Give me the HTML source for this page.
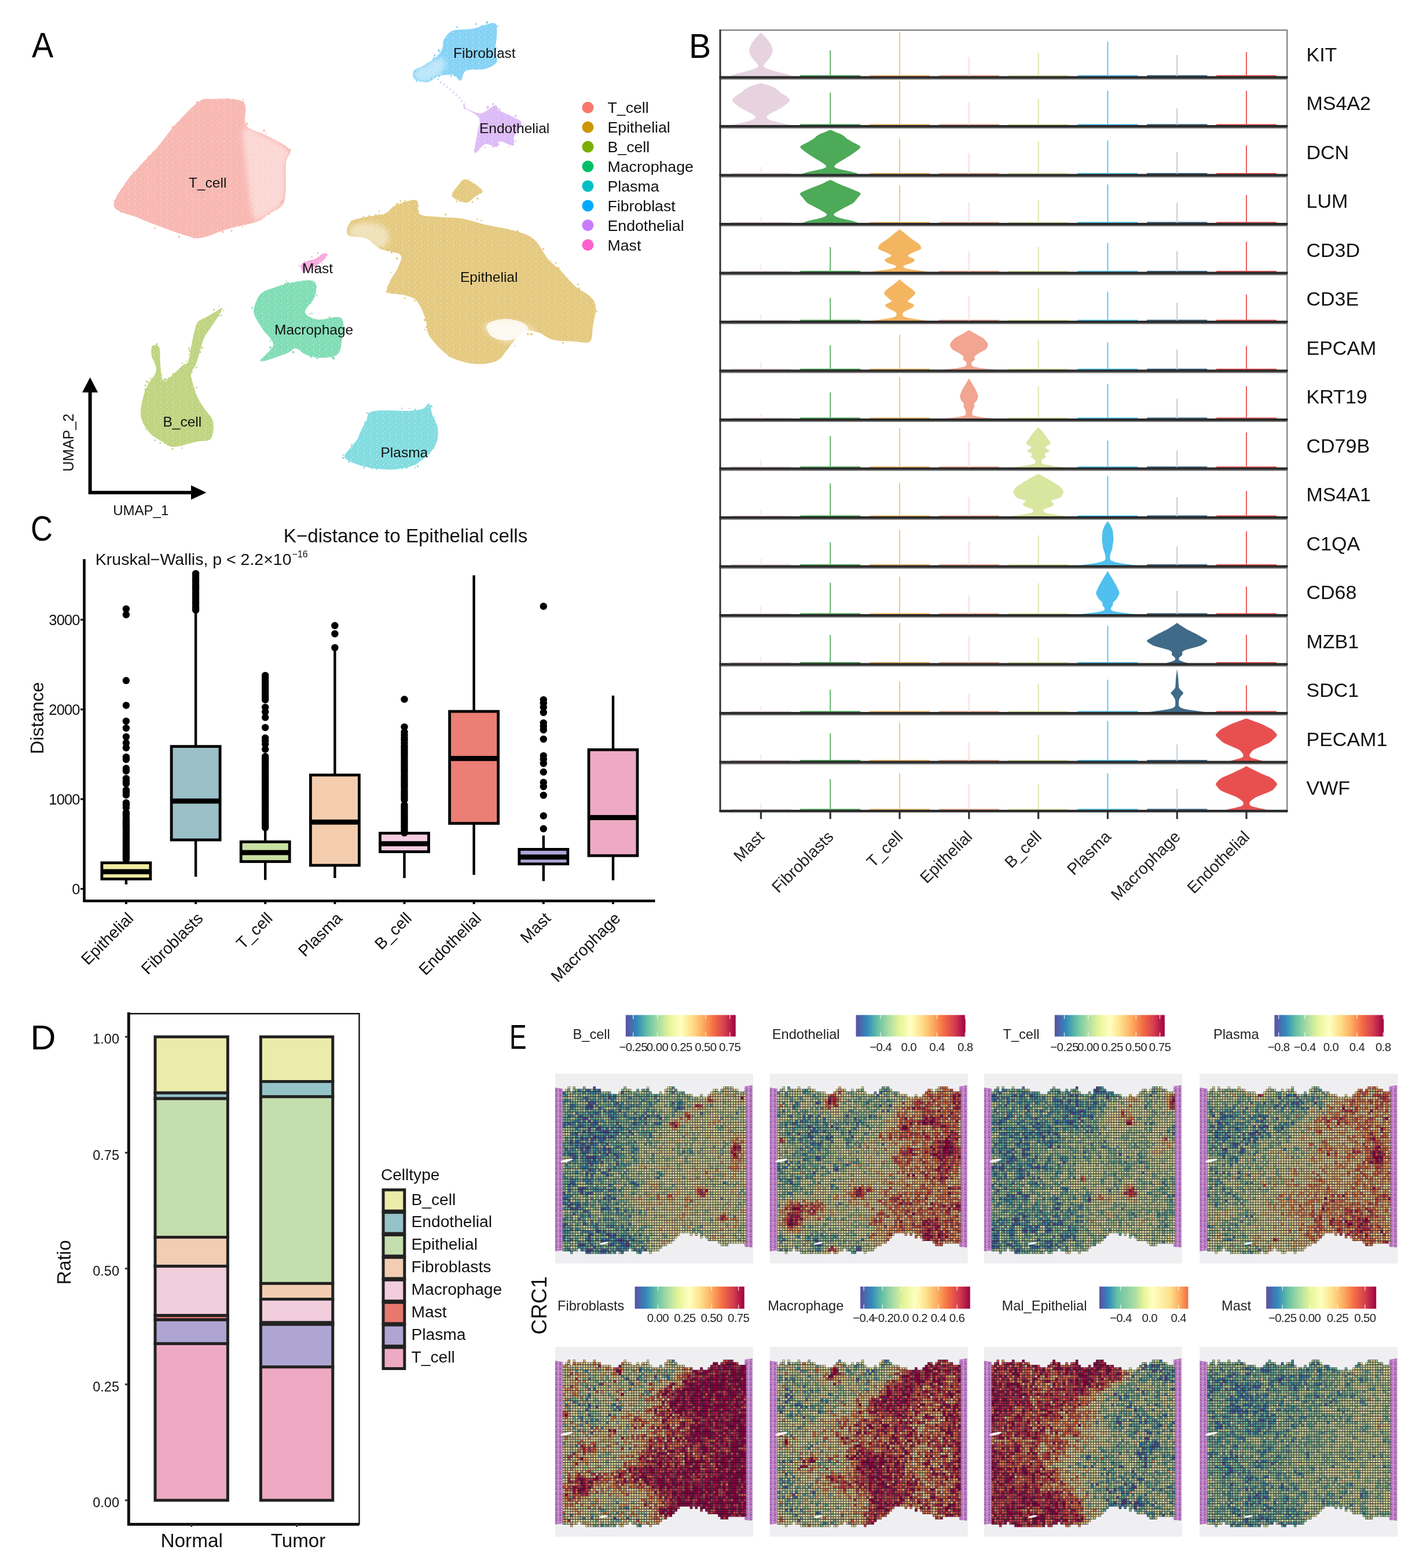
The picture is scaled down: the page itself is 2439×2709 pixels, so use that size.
<!DOCTYPE html><html><head><meta charset="utf-8"><title>Figure</title><style>html,body{margin:0;padding:0;background:#fff;}svg{display:block}text{font-family:"Liberation Sans", Arial, Helvetica, sans-serif}.pl{font-family:"Liberation Sans", Arial, Helvetica, sans-serif}</style></head><body>
<svg width="2439" height="2709" viewBox="0 0 2439 2709">
<rect width="2439" height="2709" fill="#fff"/>
<text transform="translate(55 99) scale(0.9 1)" font-size="62" fill="#000" class="pl">A</text>
<defs><pattern id="spk" width="11" height="9" patternUnits="userSpaceOnUse"><circle cx="2" cy="2" r="0.9" fill="#fff" fill-opacity="0.6"/><circle cx="7.5" cy="4" r="0.7" fill="#fff" fill-opacity="0.5"/><circle cx="4" cy="7" r="0.8" fill="#fff" fill-opacity="0.55"/><circle cx="9.5" cy="8" r="0.6" fill="#fff" fill-opacity="0.5"/></pattern><pattern id="spk2" width="5" height="5" patternUnits="userSpaceOnUse"><rect width="5" height="5" fill="#fff" fill-opacity="0.35"/><circle cx="1.5" cy="1.5" r="1.1" fill="#fff" fill-opacity="0.6"/><circle cx="4" cy="3.8" r="0.9" fill="#fff" fill-opacity="0.5"/></pattern></defs>
<g id="umap">
<path d="M197 357C193.3 347.2 208.5 328.8 216 317C223.5 305.2 232.5 296.7 242 286C251.5 275.3 262.7 265 273 253C283.3 241 292.3 226.8 304 214C315.7 201.2 332.8 183.2 343 176C353.2 168.8 352.2 171 365 171C377.8 171 410 168.5 420 176C430 183.5 418.7 206.5 425 216C431.3 225.5 445.5 226 458 233C470.5 240 494 249.8 500 258C506 266.2 495.5 267 494 282C492.5 297 496 333.3 491 348C486 362.7 471.8 364.2 464 370C456.2 375.8 456 378.7 444 383C432 387.3 408 391.3 392 396C376 400.7 359.8 409.2 348 411C336.2 412.8 333.5 410.5 321 407C308.5 403.5 286.8 395.2 273 390C259.2 384.8 250.7 381.5 238 376C225.3 370.5 200.7 366.8 197 357Z" fill="#F8B7B1"/>
<path d="M197 357C193.3 347.2 208.5 328.8 216 317C223.5 305.2 232.5 296.7 242 286C251.5 275.3 262.7 265 273 253C283.3 241 292.3 226.8 304 214C315.7 201.2 332.8 183.2 343 176C353.2 168.8 352.2 171 365 171C377.8 171 410 168.5 420 176C430 183.5 418.7 206.5 425 216C431.3 225.5 445.5 226 458 233C470.5 240 494 249.8 500 258C506 266.2 495.5 267 494 282C492.5 297 496 333.3 491 348C486 362.7 471.8 364.2 464 370C456.2 375.8 456 378.7 444 383C432 387.3 408 391.3 392 396C376 400.7 359.8 409.2 348 411C336.2 412.8 333.5 410.5 321 407C308.5 403.5 286.8 395.2 273 390C259.2 384.8 250.7 381.5 238 376C225.3 370.5 200.7 366.8 197 357Z" fill="url(#spk)"/>
<path d="M601 406C596.7 401.2 600.8 388.2 606 383C611.2 377.8 622.2 377.3 632 375C641.8 372.7 656.5 372.3 665 369C673.5 365.7 674 358.8 683 355C692 351.2 712 343.5 719 346C726 348.5 718 365.2 725 370C732 374.8 748.5 373.7 761 375C773.5 376.3 787.2 375.8 800 378C812.8 380.2 823 384.5 838 388C853 391.5 875.8 394.7 890 399C904.2 403.3 913.5 405.8 923 414C932.5 422.2 939.7 439.3 947 448C954.3 456.7 959.3 458.3 967 466C974.7 473.7 984.3 486.3 993 494C1001.7 501.7 1013 506 1019 512C1025 518 1028.2 521.3 1029 530C1029.8 538.7 1025.7 554 1024 564C1022.3 574 1024.2 585.7 1019 590C1013.8 594.3 1003.7 590.5 993 590C982.3 589.5 965.7 589.7 955 587C944.3 584.3 937.7 576.2 929 574C920.3 571.8 911.7 569.2 903 574C894.3 578.8 884.3 594.8 877 603C869.7 611.2 867.7 618.7 859 623C850.3 627.3 837 629.3 825 629C813 628.7 797.7 625.3 787 621C776.3 616.7 768.8 610.3 761 603C753.2 595.7 744.3 585.7 740 577C735.7 568.3 738.3 560.5 735 551C731.7 541.5 726 526.8 720 520C714 513.2 707.3 512.5 699 510C690.7 507.5 674.3 508.8 670 505C665.7 501.2 670 494.3 673 487C676 479.7 685 468.8 688 461C691 453.2 696.2 445.2 691 440C685.8 434.8 666.8 434.7 657 430C647.2 425.3 641.3 416 632 412C622.7 408 605.3 410.8 601 406Z" fill="#E4C97F"/>
<path d="M601 406C596.7 401.2 600.8 388.2 606 383C611.2 377.8 622.2 377.3 632 375C641.8 372.7 656.5 372.3 665 369C673.5 365.7 674 358.8 683 355C692 351.2 712 343.5 719 346C726 348.5 718 365.2 725 370C732 374.8 748.5 373.7 761 375C773.5 376.3 787.2 375.8 800 378C812.8 380.2 823 384.5 838 388C853 391.5 875.8 394.7 890 399C904.2 403.3 913.5 405.8 923 414C932.5 422.2 939.7 439.3 947 448C954.3 456.7 959.3 458.3 967 466C974.7 473.7 984.3 486.3 993 494C1001.7 501.7 1013 506 1019 512C1025 518 1028.2 521.3 1029 530C1029.8 538.7 1025.7 554 1024 564C1022.3 574 1024.2 585.7 1019 590C1013.8 594.3 1003.7 590.5 993 590C982.3 589.5 965.7 589.7 955 587C944.3 584.3 937.7 576.2 929 574C920.3 571.8 911.7 569.2 903 574C894.3 578.8 884.3 594.8 877 603C869.7 611.2 867.7 618.7 859 623C850.3 627.3 837 629.3 825 629C813 628.7 797.7 625.3 787 621C776.3 616.7 768.8 610.3 761 603C753.2 595.7 744.3 585.7 740 577C735.7 568.3 738.3 560.5 735 551C731.7 541.5 726 526.8 720 520C714 513.2 707.3 512.5 699 510C690.7 507.5 674.3 508.8 670 505C665.7 501.2 670 494.3 673 487C676 479.7 685 468.8 688 461C691 453.2 696.2 445.2 691 440C685.8 434.8 666.8 434.7 657 430C647.2 425.3 641.3 416 632 412C622.7 408 605.3 410.8 601 406Z" fill="url(#spk)"/>
<path d="M781 339C778.5 334.3 786 326.8 790 322C794 317.2 797.8 308.8 805 310C812.2 311.2 830.5 324 833 329C835.5 334 824.7 336.5 820 340C815.3 343.5 811.5 350.2 805 350C798.5 349.8 783.5 343.7 781 339Z" fill="#E4C97F"/>
<path d="M781 339C778.5 334.3 786 326.8 790 322C794 317.2 797.8 308.8 805 310C812.2 311.2 830.5 324 833 329C835.5 334 824.7 336.5 820 340C815.3 343.5 811.5 350.2 805 350C798.5 349.8 783.5 343.7 781 339Z" fill="url(#spk)"/>
<path d="M767 68C770 62.8 774 56 782 53C790 50 805.7 51.7 815 50C824.3 48.3 831.2 44.5 838 43C844.8 41.5 852.7 37.7 856 41C859.3 44.3 858.2 55.2 858 63C857.8 70.8 855 80.7 855 88C855 95.3 860.8 101.8 858 107C855.2 112.2 846.8 116.5 838 119C829.2 121.5 812 118.7 805 122C798 125.3 799.8 137.8 796 139C792.2 140.2 788.7 130.2 782 129C775.3 127.8 763.2 129.8 756 132C748.8 134.2 745.7 141.2 739 142C732.3 142.8 720 140.3 716 137C712 133.7 712.7 125.8 715 122C717.3 118.2 723.7 117.8 730 114C736.3 110.2 747.3 104 753 99C758.7 94 761.7 89.2 764 84C766.3 78.8 764 73.2 767 68Z" fill="#85D2F6"/>
<path d="M767 68C770 62.8 774 56 782 53C790 50 805.7 51.7 815 50C824.3 48.3 831.2 44.5 838 43C844.8 41.5 852.7 37.7 856 41C859.3 44.3 858.2 55.2 858 63C857.8 70.8 855 80.7 855 88C855 95.3 860.8 101.8 858 107C855.2 112.2 846.8 116.5 838 119C829.2 121.5 812 118.7 805 122C798 125.3 799.8 137.8 796 139C792.2 140.2 788.7 130.2 782 129C775.3 127.8 763.2 129.8 756 132C748.8 134.2 745.7 141.2 739 142C732.3 142.8 720 140.3 716 137C712 133.7 712.7 125.8 715 122C717.3 118.2 723.7 117.8 730 114C736.3 110.2 747.3 104 753 99C758.7 94 761.7 89.2 764 84C766.3 78.8 764 73.2 767 68Z" fill="url(#spk)"/>
<path d="M800 185C800.5 183.8 820.8 196.5 830 196C839.2 195.5 849.5 182.8 855 182C860.5 181.2 857.5 187.5 863 191C868.5 194.5 881.7 199.3 888 203C894.3 206.7 901 207.5 901 213C901 218.5 890.5 229.7 888 236C885.5 242.3 890.2 249.7 886 251C881.8 252.3 867.7 243.5 863 244C858.3 244.5 862.2 253.2 858 254C853.8 254.8 844.3 247.3 838 249C831.7 250.7 822.2 267.5 820 264C817.8 260.5 823.8 238.2 825 228C826.2 217.8 831.2 210.2 827 203C822.8 195.8 799.5 186.2 800 185Z" fill="#DDBAF7"/>
<path d="M800 185C800.5 183.8 820.8 196.5 830 196C839.2 195.5 849.5 182.8 855 182C860.5 181.2 857.5 187.5 863 191C868.5 194.5 881.7 199.3 888 203C894.3 206.7 901 207.5 901 213C901 218.5 890.5 229.7 888 236C885.5 242.3 890.2 249.7 886 251C881.8 252.3 867.7 243.5 863 244C858.3 244.5 862.2 253.2 858 254C853.8 254.8 844.3 247.3 838 249C831.7 250.7 822.2 267.5 820 264C817.8 260.5 823.8 238.2 825 228C826.2 217.8 831.2 210.2 827 203C822.8 195.8 799.5 186.2 800 185Z" fill="url(#spk)"/>
<path d="M441 525C442.8 519.2 445.7 512.3 450 508C454.3 503.7 457.8 502.3 467 499C476.2 495.7 492.5 490.2 505 488C517.5 485.8 535.5 482 542 486C548.5 490 546.5 503.2 544 512C541.5 520.8 526.2 532.3 527 539C527.8 545.7 538.5 550.2 549 552C559.5 553.8 583.2 543.5 590 550C596.8 556.5 591.3 580.5 590 591C588.7 601.5 587.8 608.5 582 613C576.2 617.5 563.8 618 555 618C546.2 618 536.3 615.7 529 613C521.7 610.3 516.8 602.3 511 602C505.2 601.7 504.2 607.3 494 611C483.8 614.7 453.7 626.5 450 624C446.3 621.5 471.3 605.2 472 596C472.7 586.8 459.5 577.8 454 569C448.5 560.2 441.2 550.3 439 543C436.8 535.7 439.2 530.8 441 525Z" fill="#80DDB5"/>
<path d="M441 525C442.8 519.2 445.7 512.3 450 508C454.3 503.7 457.8 502.3 467 499C476.2 495.7 492.5 490.2 505 488C517.5 485.8 535.5 482 542 486C548.5 490 546.5 503.2 544 512C541.5 520.8 526.2 532.3 527 539C527.8 545.7 538.5 550.2 549 552C559.5 553.8 583.2 543.5 590 550C596.8 556.5 591.3 580.5 590 591C588.7 601.5 587.8 608.5 582 613C576.2 617.5 563.8 618 555 618C546.2 618 536.3 615.7 529 613C521.7 610.3 516.8 602.3 511 602C505.2 601.7 504.2 607.3 494 611C483.8 614.7 453.7 626.5 450 624C446.3 621.5 471.3 605.2 472 596C472.7 586.8 459.5 577.8 454 569C448.5 560.2 441.2 550.3 439 543C436.8 535.7 439.2 530.8 441 525Z" fill="url(#spk)"/>
<path d="M520 458C520.7 455 523.8 453.8 528 452C532.2 450.2 540 449.3 545 447C550 444.7 554.5 439.2 558 438C561.5 436.8 566.3 437.7 566 440C565.7 442.3 560.3 448.3 556 452C551.7 455.7 545.3 459 540 462C534.7 465 527.3 470.7 524 470C520.7 469.3 519.3 461 520 458Z" fill="#F7A8DE"/>
<path d="M520 458C520.7 455 523.8 453.8 528 452C532.2 450.2 540 449.3 545 447C550 444.7 554.5 439.2 558 438C561.5 436.8 566.3 437.7 566 440C565.7 442.3 560.3 448.3 556 452C551.7 455.7 545.3 459 540 462C534.7 465 527.3 470.7 524 470C520.7 469.3 519.3 461 520 458Z" fill="url(#spk)"/>
<path d="M384 532C382.7 531.2 374.7 537.3 370 540C365.3 542.7 360.7 545.3 356 548C351.3 550.7 345.3 552 342 556C338.7 560 338 564.7 336 572C334 579.3 331.8 591.2 330 600C328.2 608.8 327.3 619.8 325 625C322.7 630.2 320.2 627.5 316 631C311.8 634.5 304.3 642 300 646C295.7 650 293.2 653.2 290 655C286.8 656.8 283.2 661.3 281 657C278.8 652.7 278 638.5 277 629C276 619.5 277.3 605.2 275 600C272.7 594.8 265.2 595.5 263 598C260.8 600.5 260.8 608 262 615C263.2 622 271 631.8 270 640C269 648.2 259.7 656.7 256 664C252.3 671.3 250.2 675.2 248 684C245.8 692.8 241.7 706.8 243 717C244.3 727.2 249.8 737.3 256 745C262.2 752.7 272.7 758.5 280 763C287.3 767.5 290 772 300 772C310 772 329.3 765.3 340 763C350.7 760.7 359.3 763.8 364 758C368.7 752.2 369.8 736.7 368 728C366.2 719.3 357.7 713.3 353 706C348.3 698.7 343.3 691.3 340 684C336.7 676.7 334.7 668.5 333 662C331.3 655.5 329.2 650.3 330 645C330.8 639.7 335.3 636.7 338 630C340.7 623.3 343.7 612.5 346 605C348.3 597.5 349 591.5 352 585C355 578.5 359.7 572.7 364 566C368.3 559.3 374.7 550.7 378 545C381.3 539.3 385.3 532.8 384 532Z" fill="#BFD480"/>
<path d="M384 532C382.7 531.2 374.7 537.3 370 540C365.3 542.7 360.7 545.3 356 548C351.3 550.7 345.3 552 342 556C338.7 560 338 564.7 336 572C334 579.3 331.8 591.2 330 600C328.2 608.8 327.3 619.8 325 625C322.7 630.2 320.2 627.5 316 631C311.8 634.5 304.3 642 300 646C295.7 650 293.2 653.2 290 655C286.8 656.8 283.2 661.3 281 657C278.8 652.7 278 638.5 277 629C276 619.5 277.3 605.2 275 600C272.7 594.8 265.2 595.5 263 598C260.8 600.5 260.8 608 262 615C263.2 622 271 631.8 270 640C269 648.2 259.7 656.7 256 664C252.3 671.3 250.2 675.2 248 684C245.8 692.8 241.7 706.8 243 717C244.3 727.2 249.8 737.3 256 745C262.2 752.7 272.7 758.5 280 763C287.3 767.5 290 772 300 772C310 772 329.3 765.3 340 763C350.7 760.7 359.3 763.8 364 758C368.7 752.2 369.8 736.7 368 728C366.2 719.3 357.7 713.3 353 706C348.3 698.7 343.3 691.3 340 684C336.7 676.7 334.7 668.5 333 662C331.3 655.5 329.2 650.3 330 645C330.8 639.7 335.3 636.7 338 630C340.7 623.3 343.7 612.5 346 605C348.3 597.5 349 591.5 352 585C355 578.5 359.7 572.7 364 566C368.3 559.3 374.7 550.7 378 545C381.3 539.3 385.3 532.8 384 532Z" fill="url(#spk)"/>
<path d="M639 712C644.2 709.5 654 709.3 665 709C676 708.7 694 710.5 705 710C716 709.5 725 708.2 731 706C737 703.8 738.3 695.2 741 697C743.7 698.8 744.5 710 747 717C749.5 724 754.7 731.5 756 739C757.3 746.5 756.8 755.2 755 762C753.2 768.8 749 774.8 745 780C741 785.2 736.5 788.8 731 793C725.5 797.2 720.7 802 712 805C703.3 808 690 810.3 679 811C668 811.7 656 810.3 646 809C636 807.7 627 805.7 619 803C611 800.3 601.7 796.2 598 793C594.3 789.8 594.2 789.2 597 784C599.8 778.8 610.2 769.5 615 762C619.8 754.5 622.8 745.3 626 739C629.2 732.7 631.8 728.5 634 724C636.2 719.5 633.8 714.5 639 712Z" fill="#82DCE0"/>
<path d="M639 712C644.2 709.5 654 709.3 665 709C676 708.7 694 710.5 705 710C716 709.5 725 708.2 731 706C737 703.8 738.3 695.2 741 697C743.7 698.8 744.5 710 747 717C749.5 724 754.7 731.5 756 739C757.3 746.5 756.8 755.2 755 762C753.2 768.8 749 774.8 745 780C741 785.2 736.5 788.8 731 793C725.5 797.2 720.7 802 712 805C703.3 808 690 810.3 679 811C668 811.7 656 810.3 646 809C636 807.7 627 805.7 619 803C611 800.3 601.7 796.2 598 793C594.3 789.8 594.2 789.2 597 784C599.8 778.8 610.2 769.5 615 762C619.8 754.5 622.8 745.3 626 739C629.2 732.7 631.8 728.5 634 724C636.2 719.5 633.8 714.5 639 712Z" fill="url(#spk)"/>
<filter id="bl4" x="-20%" y="-20%" width="140%" height="140%"><feGaussianBlur stdDeviation="4"/></filter>
<path d="M422 222C427.5 214.7 445.3 229.7 458 236C470.7 242.3 492.3 251.8 498 260C503.7 268.2 493.3 270.8 492 285C490.7 299.2 494.3 331.2 490 345C485.7 358.8 474.3 362.5 466 368C457.7 373.5 446 384.3 440 378C434 371.7 432.5 346.3 430 330C427.5 313.7 426.3 298 425 280C423.7 262 416.5 229.3 422 222Z" fill="#fff" fill-opacity="0.45" filter="url(#bl4)"/>
<path d="M838 560C844.3 556.8 868 555.7 880 556C892 556.3 902.5 558.7 910 562C917.5 565.3 926.2 573 925 576C923.8 579 910.5 577.3 903 580C895.5 582.7 887.2 591.2 880 592C872.8 592.8 866.3 587.8 860 585C853.7 582.2 845.7 579.2 842 575C838.3 570.8 831.7 563.2 838 560Z" fill="#fff" fill-opacity="0.45" filter="url(#bl4)"/>
<path d="M716 124C718.5 119.7 727.7 116 735 112C742.3 108 754.2 100.3 760 100C765.8 99.7 770 105.3 770 110C770 114.7 765 123 760 128C755 133 746.7 138.3 740 140C733.3 141.7 724 140.7 720 138C716 135.3 713.5 128.3 716 124Z" fill="#fff" fill-opacity="0.45" filter="url(#bl4)"/>
<path d="M604 395C606.8 390.8 615.7 385.8 625 385C634.3 384.2 652.2 385.8 660 390C667.8 394.2 672 403.7 672 410C672 416.3 666.7 426.3 660 428C653.3 429.7 640.7 423 632 420C623.3 417 612.7 414.2 608 410C603.3 405.8 601.2 399.2 604 395Z" fill="#fff" fill-opacity="0.45" filter="url(#bl4)"/>
<path d="M760 142 Q790 160 805 185" stroke="#C9B8F5" stroke-width="4" fill="none" stroke-dasharray="2 5" opacity="0.7"/>
<path d="M400.1 398.8m-1.6 0a1.6 1.6 0 1 0 3.2 0a1.6 1.6 0 1 0 -3.2 0M418.1 391.8m-1.1 0a1.1 1.1 0 1 0 2.3 0a1.1 1.1 0 1 0 -2.3 0M334.8 411.6m-1.1 0a1.1 1.1 0 1 0 2.3 0a1.1 1.1 0 1 0 -2.3 0M427.7 384.8m-1.6 0a1.6 1.6 0 1 0 3.3 0a1.6 1.6 0 1 0 -3.3 0M231 298.2m-1.4 0a1.4 1.4 0 1 0 2.7 0a1.4 1.4 0 1 0 -2.7 0M210.3 366m-1.7 0a1.7 1.7 0 1 0 3.3 0a1.7 1.7 0 1 0 -3.3 0M244.8 284.9m-1.2 0a1.2 1.2 0 1 0 2.4 0a1.2 1.2 0 1 0 -2.4 0M211.8 325.9m-1.5 0a1.5 1.5 0 1 0 2.9 0a1.5 1.5 0 1 0 -2.9 0M393.8 170.8m-1.4 0a1.4 1.4 0 1 0 2.8 0a1.4 1.4 0 1 0 -2.8 0M256.5 271.2m-1.8 0a1.8 1.8 0 1 0 3.6 0a1.8 1.8 0 1 0 -3.6 0M264.1 262.8m-1.2 0a1.2 1.2 0 1 0 2.4 0a1.2 1.2 0 1 0 -2.4 0M460.3 232m-1.1 0a1.1 1.1 0 1 0 2.2 0a1.1 1.1 0 1 0 -2.2 0M298.9 219.7m-1.8 0a1.8 1.8 0 1 0 3.5 0a1.8 1.8 0 1 0 -3.5 0M196.2 346.2m-1 0a1 1 0 1 0 2.1 0a1 1 0 1 0 -2.1 0M464.9 370m-1.1 0a1.1 1.1 0 1 0 2.1 0a1.1 1.1 0 1 0 -2.1 0M407.8 175.5m-1.1 0a1.1 1.1 0 1 0 2.1 0a1.1 1.1 0 1 0 -2.1 0M500.6 258.5m-1.7 0a1.7 1.7 0 1 0 3.5 0a1.7 1.7 0 1 0 -3.5 0M315.1 206.1m-1 0a1 1 0 1 0 2.1 0a1 1 0 1 0 -2.1 0M384.8 400.6m-1.4 0a1.4 1.4 0 1 0 2.7 0a1.4 1.4 0 1 0 -2.7 0M419.5 172m-1.3 0a1.3 1.3 0 1 0 2.7 0a1.3 1.3 0 1 0 -2.7 0M488.4 351.2m-1.2 0a1.2 1.2 0 1 0 2.3 0a1.2 1.2 0 1 0 -2.3 0M456.2 225.6m-1.5 0a1.5 1.5 0 1 0 2.9 0a1.5 1.5 0 1 0 -2.9 0M200.5 348.3m-1.7 0a1.7 1.7 0 1 0 3.4 0a1.7 1.7 0 1 0 -3.4 0M267.3 394.1m-1.2 0a1.2 1.2 0 1 0 2.3 0a1.2 1.2 0 1 0 -2.3 0M426.5 213.9m-1.7 0a1.7 1.7 0 1 0 3.3 0a1.7 1.7 0 1 0 -3.3 0M487.6 347.9m-1.5 0a1.5 1.5 0 1 0 2.9 0a1.5 1.5 0 1 0 -2.9 0M420.4 176.6m-1.5 0a1.5 1.5 0 1 0 3 0a1.5 1.5 0 1 0 -3 0M340.5 176.6m-1.5 0a1.5 1.5 0 1 0 2.9 0a1.5 1.5 0 1 0 -2.9 0M485 350.8m-1.7 0a1.7 1.7 0 1 0 3.5 0a1.7 1.7 0 1 0 -3.5 0M228.3 370.1m-1.6 0a1.6 1.6 0 1 0 3.2 0a1.6 1.6 0 1 0 -3.2 0M309.7 408.9m-1.7 0a1.7 1.7 0 1 0 3.4 0a1.7 1.7 0 1 0 -3.4 0" fill="#F8B7B1"/>
<path d="M723.5 355.6m-1 0a1 1 0 1 0 2.1 0a1 1 0 1 0 -2.1 0M1031.1 538.6m-1.2 0a1.2 1.2 0 1 0 2.4 0a1.2 1.2 0 1 0 -2.4 0M690.7 507.1m-1.6 0a1.6 1.6 0 1 0 3.2 0a1.6 1.6 0 1 0 -3.2 0M687.2 352.6m-1.5 0a1.5 1.5 0 1 0 3 0a1.5 1.5 0 1 0 -3 0M691.8 347.4m-1.2 0a1.2 1.2 0 1 0 2.3 0a1.2 1.2 0 1 0 -2.3 0M607.6 381.8m-1.2 0a1.2 1.2 0 1 0 2.4 0a1.2 1.2 0 1 0 -2.4 0M637.8 373.6m-1.5 0a1.5 1.5 0 1 0 2.9 0a1.5 1.5 0 1 0 -2.9 0M803.1 380.6m-1.4 0a1.4 1.4 0 1 0 2.7 0a1.4 1.4 0 1 0 -2.7 0M911.9 577.2m-1.5 0a1.5 1.5 0 1 0 2.9 0a1.5 1.5 0 1 0 -2.9 0M823.8 378.8m-1.4 0a1.4 1.4 0 1 0 2.8 0a1.4 1.4 0 1 0 -2.8 0M889 598.1m-1 0a1 1 0 1 0 2 0a1 1 0 1 0 -2 0M699.5 347.2m-1.3 0a1.3 1.3 0 1 0 2.5 0a1.3 1.3 0 1 0 -2.5 0M685.2 352.5m-1.6 0a1.6 1.6 0 1 0 3.2 0a1.6 1.6 0 1 0 -3.2 0M831.5 380.9m-1.3 0a1.3 1.3 0 1 0 2.6 0a1.3 1.3 0 1 0 -2.6 0M699 515.4m-1.3 0a1.3 1.3 0 1 0 2.7 0a1.3 1.3 0 1 0 -2.7 0M627.8 374m-1.5 0a1.5 1.5 0 1 0 3 0a1.5 1.5 0 1 0 -3 0M845.6 622.4m-1.1 0a1.1 1.1 0 1 0 2.1 0a1.1 1.1 0 1 0 -2.1 0M717.1 362.8m-1.7 0a1.7 1.7 0 1 0 3.4 0a1.7 1.7 0 1 0 -3.4 0M918.9 577.6m-1.5 0a1.5 1.5 0 1 0 2.9 0a1.5 1.5 0 1 0 -2.9 0M735.8 565.3m-1.4 0a1.4 1.4 0 1 0 2.8 0a1.4 1.4 0 1 0 -2.8 0M667.7 504.1m-1.4 0a1.4 1.4 0 1 0 2.8 0a1.4 1.4 0 1 0 -2.8 0M1016.8 512.9m-1.6 0a1.6 1.6 0 1 0 3.2 0a1.6 1.6 0 1 0 -3.2 0M692.1 505.9m-1.2 0a1.2 1.2 0 1 0 2.5 0a1.2 1.2 0 1 0 -2.5 0M959.9 454.5m-1.3 0a1.3 1.3 0 1 0 2.5 0a1.3 1.3 0 1 0 -2.5 0M738.3 563.9m-1.3 0a1.3 1.3 0 1 0 2.6 0a1.3 1.3 0 1 0 -2.6 0M1028.9 536.9m-1.6 0a1.6 1.6 0 1 0 3.3 0a1.6 1.6 0 1 0 -3.3 0M964.9 463.5m-1.5 0a1.5 1.5 0 1 0 2.9 0a1.5 1.5 0 1 0 -2.9 0M950.3 582.7m-1.3 0a1.3 1.3 0 1 0 2.6 0a1.3 1.3 0 1 0 -2.6 0M654.5 365.3m-1.2 0a1.2 1.2 0 1 0 2.4 0a1.2 1.2 0 1 0 -2.4 0M894.2 399.6m-1.7 0a1.7 1.7 0 1 0 3.5 0a1.7 1.7 0 1 0 -3.5 0M776.1 615.5m-1.5 0a1.5 1.5 0 1 0 3.1 0a1.5 1.5 0 1 0 -3.1 0M734 569.5m-1.2 0a1.2 1.2 0 1 0 2.4 0a1.2 1.2 0 1 0 -2.4 0M654.5 371.4m-1.3 0a1.3 1.3 0 1 0 2.6 0a1.3 1.3 0 1 0 -2.6 0M657.6 428.2m-1.4 0a1.4 1.4 0 1 0 2.7 0a1.4 1.4 0 1 0 -2.7 0M626.2 377.4m-1.6 0a1.6 1.6 0 1 0 3.2 0a1.6 1.6 0 1 0 -3.2 0M683.9 356.8m-1.1 0a1.1 1.1 0 1 0 2.2 0a1.1 1.1 0 1 0 -2.2 0M685.7 446.6m-1.8 0a1.8 1.8 0 1 0 3.5 0a1.8 1.8 0 1 0 -3.5 0M951.8 450.6m-1.1 0a1.1 1.1 0 1 0 2.3 0a1.1 1.1 0 1 0 -2.3 0M603 388.2m-1 0a1 1 0 1 0 2.1 0a1 1 0 1 0 -2.1 0M1000.1 498.8m-1.6 0a1.6 1.6 0 1 0 3.1 0a1.6 1.6 0 1 0 -3.1 0M675.3 471m-1.1 0a1.1 1.1 0 1 0 2.3 0a1.1 1.1 0 1 0 -2.3 0M998.3 491.1m-1.6 0a1.6 1.6 0 1 0 3.2 0a1.6 1.6 0 1 0 -3.2 0M816.8 383.7m-1.7 0a1.7 1.7 0 1 0 3.4 0a1.7 1.7 0 1 0 -3.4 0M600.8 396.9m-1.7 0a1.7 1.7 0 1 0 3.4 0a1.7 1.7 0 1 0 -3.4 0M916.9 576.9m-1.2 0a1.2 1.2 0 1 0 2.3 0a1.2 1.2 0 1 0 -2.3 0M769.7 370.6m-1.8 0a1.8 1.8 0 1 0 3.6 0a1.8 1.8 0 1 0 -3.6 0M972.3 592.5m-1.3 0a1.3 1.3 0 1 0 2.5 0a1.3 1.3 0 1 0 -2.5 0M615.7 382.4m-1.4 0a1.4 1.4 0 1 0 2.7 0a1.4 1.4 0 1 0 -2.7 0M676.5 436.3m-1.7 0a1.7 1.7 0 1 0 3.5 0a1.7 1.7 0 1 0 -3.5 0M986.3 490.3m-1.6 0a1.6 1.6 0 1 0 3.3 0a1.6 1.6 0 1 0 -3.3 0M938.4 430.3m-1.7 0a1.7 1.7 0 1 0 3.5 0a1.7 1.7 0 1 0 -3.5 0M716.2 520m-1.6 0a1.6 1.6 0 1 0 3.2 0a1.6 1.6 0 1 0 -3.2 0M733.9 552.7m-1.8 0a1.8 1.8 0 1 0 3.5 0a1.8 1.8 0 1 0 -3.5 0M722.6 364.4m-1.4 0a1.4 1.4 0 1 0 2.9 0a1.4 1.4 0 1 0 -2.9 0M669.8 432m-1.7 0a1.7 1.7 0 1 0 3.3 0a1.7 1.7 0 1 0 -3.3 0M683.1 434.5m-1.8 0a1.8 1.8 0 1 0 3.5 0a1.8 1.8 0 1 0 -3.5 0M973.6 475.7m-1.4 0a1.4 1.4 0 1 0 2.9 0a1.4 1.4 0 1 0 -2.9 0M1020 578.7m-1.4 0a1.4 1.4 0 1 0 2.9 0a1.4 1.4 0 1 0 -2.9 0M669.6 504.8m-1.4 0a1.4 1.4 0 1 0 2.9 0a1.4 1.4 0 1 0 -2.9 0M648.9 371.3m-1.6 0a1.6 1.6 0 1 0 3.3 0a1.6 1.6 0 1 0 -3.3 0M817 339.4m-1.1 0a1.1 1.1 0 1 0 2.3 0a1.1 1.1 0 1 0 -2.3 0M816 349m-1.6 0a1.6 1.6 0 1 0 3.3 0a1.6 1.6 0 1 0 -3.3 0M830.3 332.9m-1.1 0a1.1 1.1 0 1 0 2.2 0a1.1 1.1 0 1 0 -2.2 0M824.8 343m-1.7 0a1.7 1.7 0 1 0 3.5 0a1.7 1.7 0 1 0 -3.5 0M814.5 342.1m-1.5 0a1.5 1.5 0 1 0 3 0a1.5 1.5 0 1 0 -3 0M810.9 309.1m-1 0a1 1 0 1 0 2 0a1 1 0 1 0 -2 0M794.1 322.4m-1.2 0a1.2 1.2 0 1 0 2.5 0a1.2 1.2 0 1 0 -2.5 0M795.4 348.4m-1.1 0a1.1 1.1 0 1 0 2.2 0a1.1 1.1 0 1 0 -2.2 0M789.1 347.8m-1.5 0a1.5 1.5 0 1 0 3 0a1.5 1.5 0 1 0 -3 0" fill="#E4C97F"/>
<path d="M862 100.6m-1 0a1 1 0 1 0 2 0a1 1 0 1 0 -2 0M719.5 140.4m-1.4 0a1.4 1.4 0 1 0 2.9 0a1.4 1.4 0 1 0 -2.9 0M758.6 88.4m-1.7 0a1.7 1.7 0 1 0 3.4 0a1.7 1.7 0 1 0 -3.4 0M767.5 70.5m-1.6 0a1.6 1.6 0 1 0 3.2 0a1.6 1.6 0 1 0 -3.2 0M758.5 131.6m-1.3 0a1.3 1.3 0 1 0 2.5 0a1.3 1.3 0 1 0 -2.5 0M861.6 91.2m-1.7 0a1.7 1.7 0 1 0 3.4 0a1.7 1.7 0 1 0 -3.4 0M856 60.7m-1.1 0a1.1 1.1 0 1 0 2.1 0a1.1 1.1 0 1 0 -2.1 0M756.6 136.8m-1.3 0a1.3 1.3 0 1 0 2.7 0a1.3 1.3 0 1 0 -2.7 0M859 45.2m-1.6 0a1.6 1.6 0 1 0 3.3 0a1.6 1.6 0 1 0 -3.3 0M841.3 39.5m-1.7 0a1.7 1.7 0 1 0 3.5 0a1.7 1.7 0 1 0 -3.5 0M779.2 130.9m-1.6 0a1.6 1.6 0 1 0 3.2 0a1.6 1.6 0 1 0 -3.2 0M750.5 95.3m-1.6 0a1.6 1.6 0 1 0 3.3 0a1.6 1.6 0 1 0 -3.3 0M717.8 123.5m-1.4 0a1.4 1.4 0 1 0 2.9 0a1.4 1.4 0 1 0 -2.9 0M750.1 99.3m-1.2 0a1.2 1.2 0 1 0 2.3 0a1.2 1.2 0 1 0 -2.3 0M841.2 38.1m-1.8 0a1.8 1.8 0 1 0 3.6 0a1.8 1.8 0 1 0 -3.6 0M848.6 43.6m-1.5 0a1.5 1.5 0 1 0 3.1 0a1.5 1.5 0 1 0 -3.1 0M832.6 44.7m-1.4 0a1.4 1.4 0 1 0 2.7 0a1.4 1.4 0 1 0 -2.7 0M738.8 109.6m-1.3 0a1.3 1.3 0 1 0 2.6 0a1.3 1.3 0 1 0 -2.6 0M810 51.8m-1.4 0a1.4 1.4 0 1 0 2.7 0a1.4 1.4 0 1 0 -2.7 0M771.3 129m-1.1 0a1.1 1.1 0 1 0 2.3 0a1.1 1.1 0 1 0 -2.3 0M748.3 102.2m-1.1 0a1.1 1.1 0 1 0 2.1 0a1.1 1.1 0 1 0 -2.1 0M745.7 136.6m-1.5 0a1.5 1.5 0 1 0 2.9 0a1.5 1.5 0 1 0 -2.9 0M785.1 130.4m-1.7 0a1.7 1.7 0 1 0 3.5 0a1.7 1.7 0 1 0 -3.5 0M856.2 83.4m-1.7 0a1.7 1.7 0 1 0 3.4 0a1.7 1.7 0 1 0 -3.4 0M757.5 86.3m-1.6 0a1.6 1.6 0 1 0 3.2 0a1.6 1.6 0 1 0 -3.2 0M751.8 132.9m-1.6 0a1.6 1.6 0 1 0 3.3 0a1.6 1.6 0 1 0 -3.3 0M798.2 128.6m-1.3 0a1.3 1.3 0 1 0 2.6 0a1.3 1.3 0 1 0 -2.6 0M789.2 46.8m-1.5 0a1.5 1.5 0 1 0 3.1 0a1.5 1.5 0 1 0 -3.1 0M792.6 137.4m-1.1 0a1.1 1.1 0 1 0 2.3 0a1.1 1.1 0 1 0 -2.3 0M822.2 41.5m-1.5 0a1.5 1.5 0 1 0 3 0a1.5 1.5 0 1 0 -3 0" fill="#85D2F6"/>
<path d="M820 259.6m-1.5 0a1.5 1.5 0 1 0 2.9 0a1.5 1.5 0 1 0 -2.9 0M843.6 184.2m-1.2 0a1.2 1.2 0 1 0 2.4 0a1.2 1.2 0 1 0 -2.4 0M890.8 244.1m-1.5 0a1.5 1.5 0 1 0 3 0a1.5 1.5 0 1 0 -3 0M802.7 186.8m-1.7 0a1.7 1.7 0 1 0 3.4 0a1.7 1.7 0 1 0 -3.4 0M861 249.7m-1.4 0a1.4 1.4 0 1 0 2.8 0a1.4 1.4 0 1 0 -2.8 0M801.7 182.8m-1.6 0a1.6 1.6 0 1 0 3.3 0a1.6 1.6 0 1 0 -3.3 0M842.3 185.7m-1.8 0a1.8 1.8 0 1 0 3.5 0a1.8 1.8 0 1 0 -3.5 0M884.6 249.7m-1.4 0a1.4 1.4 0 1 0 2.8 0a1.4 1.4 0 1 0 -2.8 0M863.2 188.5m-1.5 0a1.5 1.5 0 1 0 3 0a1.5 1.5 0 1 0 -3 0M886.9 250.3m-1.4 0a1.4 1.4 0 1 0 2.8 0a1.4 1.4 0 1 0 -2.8 0M851.3 254.2m-1.4 0a1.4 1.4 0 1 0 2.8 0a1.4 1.4 0 1 0 -2.8 0M895 209m-1.6 0a1.6 1.6 0 1 0 3.1 0a1.6 1.6 0 1 0 -3.1 0M890.8 200.1m-1.5 0a1.5 1.5 0 1 0 2.9 0a1.5 1.5 0 1 0 -2.9 0M837.6 254.3m-1.3 0a1.3 1.3 0 1 0 2.6 0a1.3 1.3 0 1 0 -2.6 0M889.1 229m-1.8 0a1.8 1.8 0 1 0 3.6 0a1.8 1.8 0 1 0 -3.6 0M904.5 217.2m-1.3 0a1.3 1.3 0 1 0 2.7 0a1.3 1.3 0 1 0 -2.7 0M879.1 252.9m-1 0a1 1 0 1 0 2.1 0a1 1 0 1 0 -2.1 0M851.7 179.8m-1.4 0a1.4 1.4 0 1 0 2.7 0a1.4 1.4 0 1 0 -2.7 0M822.2 195.8m-1 0a1 1 0 1 0 2.1 0a1 1 0 1 0 -2.1 0M885.9 242.7m-1 0a1 1 0 1 0 2.1 0a1 1 0 1 0 -2.1 0M862.5 245.7m-1.1 0a1.1 1.1 0 1 0 2.2 0a1.1 1.1 0 1 0 -2.2 0M886.5 242.7m-1.5 0a1.5 1.5 0 1 0 2.9 0a1.5 1.5 0 1 0 -2.9 0" fill="#DDBAF7"/>
<path d="M506.5 608.5m-1.7 0a1.7 1.7 0 1 0 3.3 0a1.7 1.7 0 1 0 -3.3 0M547.5 510.5m-1.2 0a1.2 1.2 0 1 0 2.4 0a1.2 1.2 0 1 0 -2.4 0M523.6 487.2m-1.4 0a1.4 1.4 0 1 0 2.8 0a1.4 1.4 0 1 0 -2.8 0M547.4 619.1m-1.6 0a1.6 1.6 0 1 0 3.2 0a1.6 1.6 0 1 0 -3.2 0M439.9 539.6m-1.2 0a1.2 1.2 0 1 0 2.4 0a1.2 1.2 0 1 0 -2.4 0M569.4 548.1m-1.2 0a1.2 1.2 0 1 0 2.3 0a1.2 1.2 0 1 0 -2.3 0M462 504.9m-1.2 0a1.2 1.2 0 1 0 2.4 0a1.2 1.2 0 1 0 -2.4 0M448.4 515.4m-1.4 0a1.4 1.4 0 1 0 2.9 0a1.4 1.4 0 1 0 -2.9 0M494.3 485.7m-1.1 0a1.1 1.1 0 1 0 2.3 0a1.1 1.1 0 1 0 -2.3 0M574.9 550.4m-1.4 0a1.4 1.4 0 1 0 2.8 0a1.4 1.4 0 1 0 -2.8 0M535.2 542.1m-1.1 0a1.1 1.1 0 1 0 2.2 0a1.1 1.1 0 1 0 -2.2 0M497.2 489.2m-1.7 0a1.7 1.7 0 1 0 3.3 0a1.7 1.7 0 1 0 -3.3 0M538.7 541.6m-1.3 0a1.3 1.3 0 1 0 2.6 0a1.3 1.3 0 1 0 -2.6 0M545.6 495.4m-1.8 0a1.8 1.8 0 1 0 3.6 0a1.8 1.8 0 1 0 -3.6 0M574.8 618.2m-1.7 0a1.7 1.7 0 1 0 3.3 0a1.7 1.7 0 1 0 -3.3 0M537 523.7m-1.1 0a1.1 1.1 0 1 0 2.2 0a1.1 1.1 0 1 0 -2.2 0M579.5 611.2m-1.5 0a1.5 1.5 0 1 0 2.9 0a1.5 1.5 0 1 0 -2.9 0M467 600.4m-1.7 0a1.7 1.7 0 1 0 3.3 0a1.7 1.7 0 1 0 -3.3 0M442.6 524.2m-1.5 0a1.5 1.5 0 1 0 3.1 0a1.5 1.5 0 1 0 -3.1 0M493 490m-1.6 0a1.6 1.6 0 1 0 3.2 0a1.6 1.6 0 1 0 -3.2 0M574 612.7m-1.3 0a1.3 1.3 0 1 0 2.6 0a1.3 1.3 0 1 0 -2.6 0M571.8 612.9m-1.6 0a1.6 1.6 0 1 0 3.1 0a1.6 1.6 0 1 0 -3.1 0M435.1 531.7m-1.5 0a1.5 1.5 0 1 0 3.1 0a1.5 1.5 0 1 0 -3.1 0M594.2 568m-1.2 0a1.2 1.2 0 1 0 2.5 0a1.2 1.2 0 1 0 -2.5 0M577.1 619.7m-1.6 0a1.6 1.6 0 1 0 3.2 0a1.6 1.6 0 1 0 -3.2 0M467.3 589.4m-1.3 0a1.3 1.3 0 1 0 2.6 0a1.3 1.3 0 1 0 -2.6 0M537 616.8m-1.6 0a1.6 1.6 0 1 0 3.3 0a1.6 1.6 0 1 0 -3.3 0M439.2 536.3m-1.1 0a1.1 1.1 0 1 0 2.2 0a1.1 1.1 0 1 0 -2.2 0M441.5 533m-1.6 0a1.6 1.6 0 1 0 3.2 0a1.6 1.6 0 1 0 -3.2 0M582.6 608.5m-1 0a1 1 0 1 0 2.1 0a1 1 0 1 0 -2.1 0" fill="#80DDB5"/>
<path d="M549.1 437.2m-1.5 0a1.5 1.5 0 1 0 3 0a1.5 1.5 0 1 0 -3 0M539.8 464.2m-1.6 0a1.6 1.6 0 1 0 3.3 0a1.6 1.6 0 1 0 -3.3 0M533.8 450.8m-1.1 0a1.1 1.1 0 1 0 2.2 0a1.1 1.1 0 1 0 -2.2 0M556.1 455.1m-1.1 0a1.1 1.1 0 1 0 2.2 0a1.1 1.1 0 1 0 -2.2 0M535.6 463.1m-1.6 0a1.6 1.6 0 1 0 3.2 0a1.6 1.6 0 1 0 -3.2 0M544.1 460.1m-1.3 0a1.3 1.3 0 1 0 2.5 0a1.3 1.3 0 1 0 -2.5 0M546 459.9m-1.4 0a1.4 1.4 0 1 0 2.9 0a1.4 1.4 0 1 0 -2.9 0M538.6 443.4m-1.3 0a1.3 1.3 0 1 0 2.7 0a1.3 1.3 0 1 0 -2.7 0M544.6 464.1m-1.7 0a1.7 1.7 0 1 0 3.3 0a1.7 1.7 0 1 0 -3.3 0M517.5 459.4m-1.4 0a1.4 1.4 0 1 0 2.8 0a1.4 1.4 0 1 0 -2.8 0M525.9 452.6m-1.3 0a1.3 1.3 0 1 0 2.7 0a1.3 1.3 0 1 0 -2.7 0M549.1 446.1m-1.5 0a1.5 1.5 0 1 0 3 0a1.5 1.5 0 1 0 -3 0" fill="#F7A8DE"/>
<path d="M279.2 648.1m-1.4 0a1.4 1.4 0 1 0 2.8 0a1.4 1.4 0 1 0 -2.8 0M245.6 716.4m-1.2 0a1.2 1.2 0 1 0 2.5 0a1.2 1.2 0 1 0 -2.5 0M312.2 636.7m-1.7 0a1.7 1.7 0 1 0 3.5 0a1.7 1.7 0 1 0 -3.5 0M340.1 569m-1.4 0a1.4 1.4 0 1 0 2.8 0a1.4 1.4 0 1 0 -2.8 0M352.2 551.6m-1.3 0a1.3 1.3 0 1 0 2.6 0a1.3 1.3 0 1 0 -2.6 0M260.5 653.8m-1.4 0a1.4 1.4 0 1 0 2.8 0a1.4 1.4 0 1 0 -2.8 0M331.1 642m-1.1 0a1.1 1.1 0 1 0 2.3 0a1.1 1.1 0 1 0 -2.3 0M267.8 760.7m-1.4 0a1.4 1.4 0 1 0 2.9 0a1.4 1.4 0 1 0 -2.9 0M251.5 673.5m-1.8 0a1.8 1.8 0 1 0 3.5 0a1.8 1.8 0 1 0 -3.5 0M326.6 611.9m-1 0a1 1 0 1 0 2.1 0a1 1 0 1 0 -2.1 0M291.7 652.9m-1.4 0a1.4 1.4 0 1 0 2.8 0a1.4 1.4 0 1 0 -2.8 0M386.4 536.6m-1 0a1 1 0 1 0 2.1 0a1 1 0 1 0 -2.1 0M253.3 659m-1.7 0a1.7 1.7 0 1 0 3.4 0a1.7 1.7 0 1 0 -3.4 0M339.4 634.7m-1.5 0a1.5 1.5 0 1 0 3 0a1.5 1.5 0 1 0 -3 0M275.4 645.9m-1.1 0a1.1 1.1 0 1 0 2.2 0a1.1 1.1 0 1 0 -2.2 0M382.1 544.8m-1.5 0a1.5 1.5 0 1 0 3 0a1.5 1.5 0 1 0 -3 0M379.7 537.4m-1.6 0a1.6 1.6 0 1 0 3.2 0a1.6 1.6 0 1 0 -3.2 0M378.5 529.1m-1.1 0a1.1 1.1 0 1 0 2.2 0a1.1 1.1 0 1 0 -2.2 0M299.6 647.2m-1.6 0a1.6 1.6 0 1 0 3.1 0a1.6 1.6 0 1 0 -3.1 0M315.2 627.6m-1.1 0a1.1 1.1 0 1 0 2.1 0a1.1 1.1 0 1 0 -2.1 0M364.8 557.3m-1.3 0a1.3 1.3 0 1 0 2.7 0a1.3 1.3 0 1 0 -2.7 0M327 619.7m-1 0a1 1 0 1 0 2.1 0a1 1 0 1 0 -2.1 0M334.8 672.9m-1.7 0a1.7 1.7 0 1 0 3.3 0a1.7 1.7 0 1 0 -3.3 0M263.2 751.2m-1.4 0a1.4 1.4 0 1 0 2.9 0a1.4 1.4 0 1 0 -2.9 0M341.1 612.6m-1.1 0a1.1 1.1 0 1 0 2.1 0a1.1 1.1 0 1 0 -2.1 0M298.6 646.5m-1.4 0a1.4 1.4 0 1 0 2.7 0a1.4 1.4 0 1 0 -2.7 0M307.5 642.9m-1.3 0a1.3 1.3 0 1 0 2.6 0a1.3 1.3 0 1 0 -2.6 0M349.4 600.8m-1.4 0a1.4 1.4 0 1 0 2.7 0a1.4 1.4 0 1 0 -2.7 0M369.7 534.9m-1.6 0a1.6 1.6 0 1 0 3.2 0a1.6 1.6 0 1 0 -3.2 0M287.5 656m-1.4 0a1.4 1.4 0 1 0 2.9 0a1.4 1.4 0 1 0 -2.9 0M276.6 765.2m-1.4 0a1.4 1.4 0 1 0 2.9 0a1.4 1.4 0 1 0 -2.9 0M327.5 606.2m-1.6 0a1.6 1.6 0 1 0 3.2 0a1.6 1.6 0 1 0 -3.2 0M312.3 768.7m-1.4 0a1.4 1.4 0 1 0 2.8 0a1.4 1.4 0 1 0 -2.8 0M318 768.4m-1.1 0a1.1 1.1 0 1 0 2.2 0a1.1 1.1 0 1 0 -2.2 0M322.3 623.6m-1.1 0a1.1 1.1 0 1 0 2.3 0a1.1 1.1 0 1 0 -2.3 0M270.9 594.7m-1.5 0a1.5 1.5 0 1 0 2.9 0a1.5 1.5 0 1 0 -2.9 0M326.8 602m-1.8 0a1.8 1.8 0 1 0 3.6 0a1.8 1.8 0 1 0 -3.6 0M329.5 655.5m-1.7 0a1.7 1.7 0 1 0 3.5 0a1.7 1.7 0 1 0 -3.5 0M328.5 646.5m-1.2 0a1.2 1.2 0 1 0 2.3 0a1.2 1.2 0 1 0 -2.3 0M282.7 657.1m-1.3 0a1.3 1.3 0 1 0 2.5 0a1.3 1.3 0 1 0 -2.5 0M339 669.2m-1.5 0a1.5 1.5 0 1 0 3 0a1.5 1.5 0 1 0 -3 0M298 775.6m-1.5 0a1.5 1.5 0 1 0 3.1 0a1.5 1.5 0 1 0 -3.1 0M378.1 544.8m-1.3 0a1.3 1.3 0 1 0 2.5 0a1.3 1.3 0 1 0 -2.5 0M331.2 643.6m-1.4 0a1.4 1.4 0 1 0 2.8 0a1.4 1.4 0 1 0 -2.8 0M251.5 741.2m-1.1 0a1.1 1.1 0 1 0 2.3 0a1.1 1.1 0 1 0 -2.3 0M269.1 755m-1.4 0a1.4 1.4 0 1 0 2.8 0a1.4 1.4 0 1 0 -2.8 0M284.6 655m-1.7 0a1.7 1.7 0 1 0 3.5 0a1.7 1.7 0 1 0 -3.5 0M267.7 601.6m-1.5 0a1.5 1.5 0 1 0 3.1 0a1.5 1.5 0 1 0 -3.1 0M330.6 603.7m-1.3 0a1.3 1.3 0 1 0 2.7 0a1.3 1.3 0 1 0 -2.7 0M314.3 774.3m-1.3 0a1.3 1.3 0 1 0 2.6 0a1.3 1.3 0 1 0 -2.6 0M346.1 608.3m-1.6 0a1.6 1.6 0 1 0 3.2 0a1.6 1.6 0 1 0 -3.2 0M255.7 660.7m-1.4 0a1.4 1.4 0 1 0 2.9 0a1.4 1.4 0 1 0 -2.9 0M251.2 666m-1.7 0a1.7 1.7 0 1 0 3.4 0a1.7 1.7 0 1 0 -3.4 0" fill="#BFD480"/>
<path d="M691.8 806.7m-1.7 0a1.7 1.7 0 1 0 3.3 0a1.7 1.7 0 1 0 -3.3 0M718.1 801.5m-1.6 0a1.6 1.6 0 1 0 3.2 0a1.6 1.6 0 1 0 -3.2 0M651.7 808m-1.4 0a1.4 1.4 0 1 0 2.9 0a1.4 1.4 0 1 0 -2.9 0M716.7 707.6m-1.6 0a1.6 1.6 0 1 0 3.3 0a1.6 1.6 0 1 0 -3.3 0M745.8 702.3m-1.6 0a1.6 1.6 0 1 0 3.2 0a1.6 1.6 0 1 0 -3.2 0M628.8 808m-1.6 0a1.6 1.6 0 1 0 3.2 0a1.6 1.6 0 1 0 -3.2 0M749.9 720.9m-1.1 0a1.1 1.1 0 1 0 2.2 0a1.1 1.1 0 1 0 -2.2 0M642.7 808.9m-1.3 0a1.3 1.3 0 1 0 2.5 0a1.3 1.3 0 1 0 -2.5 0M744.6 701.7m-1.3 0a1.3 1.3 0 1 0 2.5 0a1.3 1.3 0 1 0 -2.5 0M694 705.6m-1.3 0a1.3 1.3 0 1 0 2.6 0a1.3 1.3 0 1 0 -2.6 0M606.9 770m-1.3 0a1.3 1.3 0 1 0 2.7 0a1.3 1.3 0 1 0 -2.7 0M634.3 713.5m-1.4 0a1.4 1.4 0 1 0 2.8 0a1.4 1.4 0 1 0 -2.8 0M592.5 786m-1.3 0a1.3 1.3 0 1 0 2.7 0a1.3 1.3 0 1 0 -2.7 0M617.4 800m-1.8 0a1.8 1.8 0 1 0 3.5 0a1.8 1.8 0 1 0 -3.5 0M694.8 809m-1.7 0a1.7 1.7 0 1 0 3.4 0a1.7 1.7 0 1 0 -3.4 0M682 810.1m-1.5 0a1.5 1.5 0 1 0 3 0a1.5 1.5 0 1 0 -3 0M602.6 797.8m-1.6 0a1.6 1.6 0 1 0 3.2 0a1.6 1.6 0 1 0 -3.2 0M716.8 807.7m-1.2 0a1.2 1.2 0 1 0 2.4 0a1.2 1.2 0 1 0 -2.4 0M592.9 791.4m-1.8 0a1.8 1.8 0 1 0 3.6 0a1.8 1.8 0 1 0 -3.6 0M608.2 767.6m-1.2 0a1.2 1.2 0 1 0 2.4 0a1.2 1.2 0 1 0 -2.4 0M721.4 805.5m-1.7 0a1.7 1.7 0 1 0 3.4 0a1.7 1.7 0 1 0 -3.4 0M650.4 810.1m-1.6 0a1.6 1.6 0 1 0 3.3 0a1.6 1.6 0 1 0 -3.3 0M749.2 774.1m-1.1 0a1.1 1.1 0 1 0 2.2 0a1.1 1.1 0 1 0 -2.2 0M706.9 705.5m-1.1 0a1.1 1.1 0 1 0 2.2 0a1.1 1.1 0 1 0 -2.2 0M629.7 729.9m-1.2 0a1.2 1.2 0 1 0 2.5 0a1.2 1.2 0 1 0 -2.5 0M729.8 792.1m-1.4 0a1.4 1.4 0 1 0 2.7 0a1.4 1.4 0 1 0 -2.7 0M596.6 785.7m-1.3 0a1.3 1.3 0 1 0 2.6 0a1.3 1.3 0 1 0 -2.6 0M635.4 721.3m-1.4 0a1.4 1.4 0 1 0 2.7 0a1.4 1.4 0 1 0 -2.7 0M702.1 808.3m-1.7 0a1.7 1.7 0 1 0 3.5 0a1.7 1.7 0 1 0 -3.5 0M613.7 765.4m-1.7 0a1.7 1.7 0 1 0 3.4 0a1.7 1.7 0 1 0 -3.4 0" fill="#82DCE0"/>
<path d="M842 560C845.7 555.2 860.3 551.7 870 551C879.7 550.3 893 553.2 900 556C907 558.8 912 563.7 912 568C912 572.3 906.7 578.7 900 582C893.3 585.3 880.7 588.3 872 588C863.3 587.7 853 584.7 848 580C843 575.3 838.3 564.8 842 560Z" fill="#fff" fill-opacity="0.8"/>
</g>
<text x="783" y="100" font-size="24.5" text-anchor="start" fill="#111">Fibroblast</text>
<text x="828" y="230" font-size="24.5" text-anchor="start" fill="#111">Endothelial</text>
<text x="326" y="323.6" font-size="24.5" text-anchor="start" fill="#111">T_cell</text>
<text x="522" y="472" font-size="24.5" text-anchor="start" fill="#111">Mast</text>
<text x="795" y="487" font-size="24.5" text-anchor="start" fill="#111">Epithelial</text>
<text x="474" y="578" font-size="24.5" text-anchor="start" fill="#111">Macrophage</text>
<text x="281.5" y="736.5" font-size="24.5" text-anchor="start" fill="#111">B_cell</text>
<text x="657.5" y="789.5" font-size="24.5" text-anchor="start" fill="#111">Plasma</text>
<circle cx="1015.4" cy="185.8" r="10" fill="#F8766D"/>
<text x="1049.5" y="195.4" font-size="26.7" text-anchor="start" fill="#111">T_cell</text>
<circle cx="1015.4" cy="219.7" r="10" fill="#CD9600"/>
<text x="1049.5" y="229.3" font-size="26.7" text-anchor="start" fill="#111">Epithelial</text>
<circle cx="1015.4" cy="253.6" r="10" fill="#7CAE00"/>
<text x="1049.5" y="263.2" font-size="26.7" text-anchor="start" fill="#111">B_cell</text>
<circle cx="1015.4" cy="287.5" r="10" fill="#00BE67"/>
<text x="1049.5" y="297.1" font-size="26.7" text-anchor="start" fill="#111">Macrophage</text>
<circle cx="1015.4" cy="321.4" r="10" fill="#00BFC4"/>
<text x="1049.5" y="331" font-size="26.7" text-anchor="start" fill="#111">Plasma</text>
<circle cx="1015.4" cy="355.4" r="10" fill="#00A9FF"/>
<text x="1049.5" y="365" font-size="26.7" text-anchor="start" fill="#111">Fibroblast</text>
<circle cx="1015.4" cy="389.3" r="10" fill="#C77CFF"/>
<text x="1049.5" y="398.9" font-size="26.7" text-anchor="start" fill="#111">Endothelial</text>
<circle cx="1015.4" cy="423.2" r="10" fill="#FF61CC"/>
<text x="1049.5" y="432.8" font-size="26.7" text-anchor="start" fill="#111">Mast</text>
<path d="M155.6 676 V854 M152.7 850.9 H331" stroke="#000" stroke-width="6" fill="none"/>
<path d="M155.6 652 L142 678 L169.2 678 Z" fill="#000"/>
<path d="M356.5 850.9 L330 838.5 L330 863.3 Z" fill="#000"/>
<text x="243.3" y="889.6" font-size="24" text-anchor="middle" fill="#111">UMAP_1</text>
<text transform="translate(127 764.7) rotate(-90)" font-size="25" text-anchor="middle" fill="#111">UMAP_2</text>
<text transform="translate(1190 99.8) scale(0.97 1)" font-size="59" fill="#000" class="pl">B</text>
<g id="violins">
<rect x="1382.2" y="129.9" width="104" height="2.4" fill="#4DAA58"/>
<rect x="1433.2" y="87.1" width="2" height="45.2" fill="#62B66B"/>
<rect x="1502" y="129.9" width="104" height="2.4" fill="#F4B561"/>
<rect x="1553" y="55.4" width="2" height="76.9" fill="#F6C27E"/>
<rect x="1621.8" y="129.9" width="104" height="2.4" fill="#F2A590"/>
<rect x="1672.8" y="98.3" width="2" height="34" fill="#F9DCD4"/>
<rect x="1741.6" y="129.9" width="104" height="2.4" fill="#D8E6A0"/>
<rect x="1792.6" y="91.2" width="2" height="41.1" fill="#DDE8AD"/>
<rect x="1861.4" y="129.9" width="104" height="2.4" fill="#4FC0EE"/>
<rect x="1912.4" y="72.3" width="2" height="60" fill="#5EC6F0"/>
<rect x="1981.2" y="129.9" width="104" height="2.4" fill="#3F6A88"/>
<rect x="2032.2" y="95" width="2" height="37.3" fill="#C3CBD3"/>
<rect x="2101" y="129.9" width="104" height="2.4" fill="#E85050"/>
<rect x="2152" y="90.1" width="2" height="42.2" fill="#EA5E5E"/>
<path d="M1368.4 132.3 L1366.2 131 L1363.7 129.7 L1360 128.4 L1355.3 127.1 L1350.1 125.9 L1344.8 124.6 L1339.9 123.3 L1335.4 122 L1331.2 120.7 L1327.2 119.4 L1323.8 118.1 L1321.2 116.8 L1319.7 115.6 L1319 114.3 L1319.1 113 L1319.7 111.7 L1320.7 110.4 L1321.9 109.1 L1323 107.8 L1324.1 106.5 L1325.2 105.2 L1326.3 104 L1327.3 102.7 L1328.3 101.4 L1329.4 100.1 L1330.4 98.8 L1331.3 97.5 L1332.1 96.2 L1332.7 94.9 L1333.1 93.7 L1333.4 92.4 L1333.8 91.1 L1334.1 89.8 L1334.4 88.5 L1334.6 87.2 L1334.6 85.9 L1334.3 84.6 L1333.9 83.4 L1333.5 82.1 L1333 80.8 L1332.5 79.5 L1332.1 78.2 L1331.5 76.9 L1330.8 75.6 L1330 74.3 L1329.1 73 L1328.2 71.8 L1327.3 70.5 L1326.4 69.2 L1325.5 67.9 L1324.5 66.6 L1323.3 65.3 L1322.1 64 L1320.8 62.7 L1319.6 61.5 L1318.3 60.2 L1317 58.9 L1315.8 57.6 L1314.4 56.3 L1314.4 56.3 L1313 57.6 L1311.8 58.9 L1310.5 60.2 L1309.2 61.5 L1308 62.7 L1306.7 64 L1305.5 65.3 L1304.3 66.6 L1303.3 67.9 L1302.4 69.2 L1301.5 70.5 L1300.6 71.8 L1299.7 73 L1298.8 74.3 L1298 75.6 L1297.3 76.9 L1296.7 78.2 L1296.3 79.5 L1295.8 80.8 L1295.3 82.1 L1294.9 83.4 L1294.5 84.6 L1294.2 85.9 L1294.2 87.2 L1294.4 88.5 L1294.7 89.8 L1295 91.1 L1295.4 92.4 L1295.7 93.7 L1296.1 94.9 L1296.7 96.2 L1297.5 97.5 L1298.4 98.8 L1299.4 100.1 L1300.5 101.4 L1301.5 102.7 L1302.5 104 L1303.6 105.2 L1304.7 106.5 L1305.8 107.8 L1306.9 109.1 L1308.1 110.4 L1309.1 111.7 L1309.7 113 L1309.8 114.3 L1309.1 115.6 L1307.6 116.8 L1305 118.1 L1301.6 119.4 L1297.6 120.7 L1293.4 122 L1288.9 123.3 L1284 124.6 L1278.7 125.9 L1273.5 127.1 L1268.8 128.4 L1265.1 129.7 L1262.6 131 L1260.4 132.3Z" fill="#E6D3DF"/>
<rect x="1382.2" y="214.4" width="104" height="2.4" fill="#4DAA58"/>
<rect x="1433.2" y="160.2" width="2" height="56.6" fill="#62B66B"/>
<rect x="1502" y="214.4" width="104" height="2.4" fill="#F4B561"/>
<rect x="1553" y="139.9" width="2" height="76.9" fill="#F6C27E"/>
<rect x="1621.8" y="214.4" width="104" height="2.4" fill="#F2A590"/>
<rect x="1672.8" y="177.1" width="2" height="39.7" fill="#F9DCD4"/>
<rect x="1741.6" y="214.4" width="104" height="2.4" fill="#D8E6A0"/>
<rect x="1792.6" y="170.4" width="2" height="46.4" fill="#DDE8AD"/>
<rect x="1861.4" y="214.4" width="104" height="2.4" fill="#4FC0EE"/>
<rect x="1912.4" y="156.8" width="2" height="60" fill="#5EC6F0"/>
<rect x="1981.2" y="214.4" width="104" height="2.4" fill="#3F6A88"/>
<rect x="2032.2" y="187.3" width="2" height="29.5" fill="#C3CBD3"/>
<rect x="2101" y="214.4" width="104" height="2.4" fill="#E85050"/>
<rect x="2152" y="157" width="2" height="59.8" fill="#EA5E5E"/>
<path d="M1369.4 216.8 L1362.6 215.6 L1357.3 214.3 L1351.7 213.1 L1346.3 211.9 L1341.1 210.6 L1336.3 209.4 L1332.1 208.1 L1329.1 206.9 L1327 205.7 L1325.5 204.4 L1324.3 203.2 L1323.9 202 L1324.4 200.7 L1325.7 199.5 L1327.5 198.2 L1329.4 197 L1331.6 195.8 L1334 194.5 L1336.4 193.3 L1338.9 192.1 L1341.4 190.8 L1343.8 189.6 L1346.2 188.3 L1348.4 187.1 L1350.4 185.9 L1352 184.6 L1353.6 183.4 L1355.1 182.2 L1356.6 180.9 L1358.2 179.7 L1359.7 178.4 L1361.2 177.2 L1362.7 176 L1363.8 174.7 L1364.2 173.5 L1363.9 172.3 L1363 171 L1362 169.8 L1360.8 168.5 L1359.5 167.3 L1358 166.1 L1356.2 164.8 L1354.2 163.6 L1352.2 162.4 L1350.2 161.1 L1348.3 159.9 L1346.7 158.6 L1345.4 157.4 L1344.3 156.2 L1343.1 154.9 L1341.5 153.7 L1339.3 152.5 L1336.8 151.2 L1334.1 150 L1331.1 148.7 L1327.6 147.5 L1323.5 146.3 L1319.6 145 L1314.4 143.8 L1314.4 143.8 L1309.2 145 L1305.3 146.3 L1301.2 147.5 L1297.7 148.7 L1294.7 150 L1292 151.2 L1289.5 152.5 L1287.3 153.7 L1285.7 154.9 L1284.5 156.2 L1283.4 157.4 L1282.1 158.6 L1280.5 159.9 L1278.6 161.1 L1276.6 162.4 L1274.6 163.6 L1272.6 164.8 L1270.8 166.1 L1269.3 167.3 L1268 168.5 L1266.8 169.8 L1265.8 171 L1264.9 172.3 L1264.6 173.5 L1265 174.7 L1266.1 176 L1267.6 177.2 L1269.1 178.4 L1270.6 179.7 L1272.2 180.9 L1273.7 182.2 L1275.2 183.4 L1276.8 184.6 L1278.4 185.9 L1280.4 187.1 L1282.6 188.3 L1285 189.6 L1287.4 190.8 L1289.9 192.1 L1292.4 193.3 L1294.8 194.5 L1297.2 195.8 L1299.4 197 L1301.3 198.2 L1303.1 199.5 L1304.4 200.7 L1304.9 202 L1304.5 203.2 L1303.3 204.4 L1301.8 205.7 L1299.7 206.9 L1296.7 208.1 L1292.5 209.4 L1287.7 210.6 L1282.5 211.9 L1277.1 213.1 L1271.5 214.3 L1266.2 215.6 L1259.4 216.8Z" fill="#E6D3DF"/>
<rect x="1262.4" y="298.9" width="104" height="2.4" fill="#E6D3DF"/>
<rect x="1313.4" y="288.4" width="2" height="12.9" fill="#F3E8EE"/>
<rect x="1502" y="298.9" width="104" height="2.4" fill="#F4B561"/>
<rect x="1553" y="239.5" width="2" height="61.8" fill="#F6C27E"/>
<rect x="1621.8" y="298.9" width="104" height="2.4" fill="#F2A590"/>
<rect x="1672.8" y="264.4" width="2" height="36.9" fill="#F9DCD4"/>
<rect x="1741.6" y="298.9" width="104" height="2.4" fill="#D8E6A0"/>
<rect x="1792.6" y="244.6" width="2" height="56.7" fill="#DDE8AD"/>
<rect x="1861.4" y="298.9" width="104" height="2.4" fill="#4FC0EE"/>
<rect x="1912.4" y="242.6" width="2" height="58.7" fill="#5EC6F0"/>
<rect x="1981.2" y="298.9" width="104" height="2.4" fill="#3F6A88"/>
<rect x="2032.2" y="262.6" width="2" height="38.7" fill="#C3CBD3"/>
<rect x="2101" y="298.9" width="104" height="2.4" fill="#E85050"/>
<rect x="2152" y="251.3" width="2" height="50" fill="#EA5E5E"/>
<path d="M1484.2 301.3 L1481.4 300 L1478.3 298.7 L1473.7 297.4 L1468 296.1 L1461.7 294.8 L1455.7 293.5 L1450.2 292.2 L1445.6 290.9 L1442.4 289.6 L1441.1 288.2 L1441.3 286.9 L1442.3 285.6 L1443.5 284.3 L1445.1 283 L1446.9 281.7 L1449 280.4 L1451.2 279.1 L1453.4 277.8 L1455.5 276.5 L1457.7 275.2 L1459.9 273.9 L1462 272.6 L1464.1 271.3 L1466.2 270 L1468.1 268.7 L1470.1 267.4 L1472.1 266.1 L1474 264.8 L1476 263.5 L1477.8 262.1 L1479.6 260.8 L1481.1 259.5 L1482.7 258.2 L1484.1 256.9 L1485.5 255.6 L1486.3 254.3 L1486.1 253 L1484.7 251.7 L1482.4 250.4 L1479.8 249.1 L1477.2 247.8 L1474.7 246.5 L1472.3 245.2 L1470.1 243.9 L1467.8 242.6 L1465.6 241.3 L1463.6 240 L1461.8 238.7 L1460.3 237.4 L1458.9 236 L1457.4 234.7 L1455.5 233.4 L1453 232.1 L1450 230.8 L1446.8 229.5 L1443.6 228.2 L1440.5 226.9 L1437.7 225.6 L1434.2 224.3 L1434.2 224.3 L1430.7 225.6 L1427.9 226.9 L1424.8 228.2 L1421.6 229.5 L1418.4 230.8 L1415.4 232.1 L1412.9 233.4 L1411 234.7 L1409.5 236 L1408.1 237.4 L1406.6 238.7 L1404.8 240 L1402.8 241.3 L1400.6 242.6 L1398.3 243.9 L1396.1 245.2 L1393.7 246.5 L1391.2 247.8 L1388.6 249.1 L1386 250.4 L1383.7 251.7 L1382.3 253 L1382.1 254.3 L1382.9 255.6 L1384.3 256.9 L1385.7 258.2 L1387.3 259.5 L1388.8 260.8 L1390.6 262.1 L1392.4 263.5 L1394.4 264.8 L1396.3 266.1 L1398.3 267.4 L1400.3 268.7 L1402.2 270 L1404.3 271.3 L1406.4 272.6 L1408.5 273.9 L1410.7 275.2 L1412.9 276.5 L1415 277.8 L1417.2 279.1 L1419.4 280.4 L1421.5 281.7 L1423.3 283 L1424.9 284.3 L1426.1 285.6 L1427.1 286.9 L1427.3 288.2 L1426 289.6 L1422.8 290.9 L1418.2 292.2 L1412.7 293.5 L1406.7 294.8 L1400.4 296.1 L1394.7 297.4 L1390.1 298.7 L1387 300 L1384.2 301.3Z" fill="#4DAA58"/>
<rect x="1262.4" y="383.4" width="104" height="2.4" fill="#E6D3DF"/>
<rect x="1313.4" y="375.4" width="2" height="10.4" fill="#F3E8EE"/>
<rect x="1502" y="383.4" width="104" height="2.4" fill="#F4B561"/>
<rect x="1553" y="320.1" width="2" height="65.7" fill="#F6C27E"/>
<rect x="1621.8" y="383.4" width="104" height="2.4" fill="#F2A590"/>
<rect x="1672.8" y="349.6" width="2" height="36.2" fill="#F9DCD4"/>
<rect x="1741.6" y="383.4" width="104" height="2.4" fill="#D8E6A0"/>
<rect x="1792.6" y="345.4" width="2" height="40.4" fill="#DDE8AD"/>
<rect x="1861.4" y="383.4" width="104" height="2.4" fill="#4FC0EE"/>
<rect x="1912.4" y="318.5" width="2" height="67.3" fill="#5EC6F0"/>
<rect x="1981.2" y="383.4" width="104" height="2.4" fill="#3F6A88"/>
<rect x="2032.2" y="350.4" width="2" height="35.4" fill="#C3CBD3"/>
<rect x="2101" y="383.4" width="104" height="2.4" fill="#E85050"/>
<rect x="2152" y="336.9" width="2" height="48.9" fill="#EA5E5E"/>
<path d="M1484.2 385.8 L1480.7 384.5 L1477.6 383.3 L1473.6 382 L1468.7 380.7 L1463.2 379.4 L1457.3 378.2 L1451.9 376.9 L1447.5 375.6 L1444.3 374.4 L1442 373.1 L1440.5 371.8 L1440.1 370.5 L1441 369.3 L1442.6 368 L1444.6 366.7 L1446.6 365.5 L1448.7 364.2 L1451 362.9 L1453.4 361.6 L1455.8 360.4 L1458.2 359.1 L1460.7 357.8 L1463.1 356.6 L1465.6 355.3 L1468 354 L1470.4 352.7 L1472.5 351.5 L1474.3 350.2 L1475.7 348.9 L1476.8 347.7 L1477.8 346.4 L1478.9 345.1 L1479.9 343.9 L1481 342.6 L1482 341.3 L1483.1 340 L1484.1 338.8 L1485.2 337.5 L1486.2 336.2 L1486.7 335 L1486.2 333.7 L1484.5 332.4 L1481.9 331.1 L1478.9 329.9 L1475.8 328.6 L1472.8 327.3 L1469.7 326.1 L1466.6 324.8 L1463.5 323.5 L1460.3 322.2 L1457.1 321 L1454 319.7 L1450.9 318.4 L1447.9 317.2 L1445.1 315.9 L1442.4 314.6 L1439.6 313.3 L1437.2 312.1 L1434.2 310.8 L1434.2 310.8 L1431.2 312.1 L1428.8 313.3 L1426 314.6 L1423.3 315.9 L1420.5 317.2 L1417.5 318.4 L1414.4 319.7 L1411.3 321 L1408.1 322.2 L1404.9 323.5 L1401.8 324.8 L1398.7 326.1 L1395.6 327.3 L1392.6 328.6 L1389.5 329.9 L1386.5 331.1 L1383.9 332.4 L1382.2 333.7 L1381.7 335 L1382.2 336.2 L1383.2 337.5 L1384.3 338.8 L1385.3 340 L1386.4 341.3 L1387.4 342.6 L1388.5 343.9 L1389.5 345.1 L1390.6 346.4 L1391.6 347.7 L1392.7 348.9 L1394.1 350.2 L1395.9 351.5 L1398 352.7 L1400.4 354 L1402.8 355.3 L1405.3 356.6 L1407.7 357.8 L1410.2 359.1 L1412.6 360.4 L1415 361.6 L1417.4 362.9 L1419.7 364.2 L1421.8 365.5 L1423.8 366.7 L1425.8 368 L1427.4 369.3 L1428.3 370.5 L1427.9 371.8 L1426.4 373.1 L1424.1 374.4 L1420.9 375.6 L1416.5 376.9 L1411.1 378.2 L1405.2 379.4 L1399.7 380.7 L1394.8 382 L1390.8 383.3 L1387.7 384.5 L1384.2 385.8Z" fill="#4DAA58"/>
<rect x="1262.4" y="467.9" width="104" height="2.4" fill="#E6D3DF"/>
<rect x="1313.4" y="456.3" width="2" height="14" fill="#F3E8EE"/>
<rect x="1382.2" y="467.9" width="104" height="2.4" fill="#4DAA58"/>
<rect x="1433.2" y="427" width="2" height="43.3" fill="#62B66B"/>
<rect x="1621.8" y="467.9" width="104" height="2.4" fill="#F2A590"/>
<rect x="1672.8" y="434.5" width="2" height="35.8" fill="#F9DCD4"/>
<rect x="1741.6" y="467.9" width="104" height="2.4" fill="#D8E6A0"/>
<rect x="1792.6" y="426.1" width="2" height="44.2" fill="#DDE8AD"/>
<rect x="1861.4" y="467.9" width="104" height="2.4" fill="#4FC0EE"/>
<rect x="1912.4" y="419.8" width="2" height="50.5" fill="#5EC6F0"/>
<rect x="1981.2" y="467.9" width="104" height="2.4" fill="#3F6A88"/>
<rect x="2032.2" y="434.3" width="2" height="36" fill="#C3CBD3"/>
<rect x="2101" y="467.9" width="104" height="2.4" fill="#E85050"/>
<rect x="2152" y="417.6" width="2" height="52.7" fill="#EA5E5E"/>
<path d="M1609 470.3 L1599.5 469 L1591.4 467.8 L1581.7 466.5 L1572.7 465.3 L1565.8 464 L1562.2 462.8 L1560.6 461.5 L1560.3 460.3 L1561.1 459 L1563.8 457.8 L1567.8 456.5 L1572 455.2 L1575 454 L1576.9 452.7 L1578.4 451.5 L1579.5 450.2 L1580 449 L1579.1 447.7 L1576.8 446.5 L1573.8 445.2 L1570.8 444 L1568.9 442.7 L1568.5 441.5 L1569.6 440.2 L1571.5 438.9 L1573.8 437.7 L1576.5 436.4 L1579.5 435.2 L1582.7 433.9 L1585.9 432.7 L1588.6 431.4 L1590.4 430.2 L1591.1 428.9 L1591 427.7 L1590.5 426.4 L1590.1 425.1 L1589.5 423.9 L1588.6 422.6 L1587.3 421.4 L1585.7 420.1 L1583.9 418.9 L1582 417.6 L1580.1 416.4 L1578.2 415.1 L1576.4 413.9 L1574.6 412.6 L1572.9 411.4 L1571.4 410.1 L1569.9 408.8 L1568.3 407.6 L1566.8 406.3 L1565.3 405.1 L1563.8 403.8 L1562.3 402.6 L1560.7 401.3 L1559 400.1 L1557.3 398.8 L1555.9 397.6 L1554 396.3 L1554 396.3 L1552.1 397.6 L1550.7 398.8 L1549 400.1 L1547.3 401.3 L1545.7 402.6 L1544.2 403.8 L1542.7 405.1 L1541.2 406.3 L1539.7 407.6 L1538.1 408.8 L1536.6 410.1 L1535.1 411.4 L1533.4 412.6 L1531.6 413.9 L1529.8 415.1 L1527.9 416.4 L1526 417.6 L1524.1 418.9 L1522.3 420.1 L1520.7 421.4 L1519.4 422.6 L1518.5 423.9 L1517.9 425.1 L1517.5 426.4 L1517 427.7 L1516.9 428.9 L1517.6 430.2 L1519.4 431.4 L1522.1 432.7 L1525.3 433.9 L1528.5 435.2 L1531.5 436.4 L1534.2 437.7 L1536.5 438.9 L1538.4 440.2 L1539.5 441.5 L1539.1 442.7 L1537.2 444 L1534.2 445.2 L1531.2 446.5 L1528.9 447.7 L1528 449 L1528.5 450.2 L1529.6 451.5 L1531.1 452.7 L1533 454 L1536 455.2 L1540.2 456.5 L1544.2 457.8 L1546.9 459 L1547.7 460.3 L1547.4 461.5 L1545.8 462.8 L1542.2 464 L1535.3 465.3 L1526.3 466.5 L1516.6 467.8 L1508.5 469 L1499 470.3Z" fill="#F4B561"/>
<rect x="1262.4" y="552.4" width="104" height="2.4" fill="#E6D3DF"/>
<rect x="1313.4" y="543.4" width="2" height="11.4" fill="#F3E8EE"/>
<rect x="1382.2" y="552.4" width="104" height="2.4" fill="#4DAA58"/>
<rect x="1433.2" y="514.4" width="2" height="40.4" fill="#62B66B"/>
<rect x="1621.8" y="552.4" width="104" height="2.4" fill="#F2A590"/>
<rect x="1672.8" y="511" width="2" height="43.8" fill="#F9DCD4"/>
<rect x="1741.6" y="552.4" width="104" height="2.4" fill="#D8E6A0"/>
<rect x="1792.6" y="498.1" width="2" height="56.7" fill="#DDE8AD"/>
<rect x="1861.4" y="552.4" width="104" height="2.4" fill="#4FC0EE"/>
<rect x="1912.4" y="504.3" width="2" height="50.5" fill="#5EC6F0"/>
<rect x="1981.2" y="552.4" width="104" height="2.4" fill="#3F6A88"/>
<rect x="2032.2" y="523.1" width="2" height="31.7" fill="#C3CBD3"/>
<rect x="2101" y="552.4" width="104" height="2.4" fill="#E85050"/>
<rect x="2152" y="509.1" width="2" height="45.7" fill="#EA5E5E"/>
<path d="M1609 554.8 L1597.9 553.6 L1589.5 552.4 L1580.8 551.1 L1573.1 549.9 L1566.8 548.7 L1562.5 547.5 L1560.4 546.3 L1559.7 545 L1559.5 543.8 L1559.3 542.6 L1559.4 541.4 L1560 540.2 L1561.4 538.9 L1563.6 537.7 L1566.1 536.5 L1568.7 535.3 L1571.2 534.1 L1573.4 532.8 L1575.2 531.6 L1576.8 530.4 L1578.2 529.2 L1579.1 528 L1578.9 526.7 L1577.3 525.5 L1574.7 524.3 L1571.8 523.1 L1569.4 521.9 L1568.1 520.6 L1568.3 519.4 L1569.5 518.2 L1571.1 517 L1572.7 515.7 L1574.1 514.5 L1575.5 513.3 L1576.7 512.1 L1577.9 510.9 L1579.2 509.6 L1580.2 508.4 L1580.8 507.2 L1580.8 506 L1580.2 504.8 L1579.2 503.5 L1578.2 502.3 L1577 501.1 L1575.8 499.9 L1574.3 498.7 L1572.6 497.4 L1570.9 496.2 L1569.2 495 L1567.5 493.8 L1565.8 492.6 L1564.3 491.3 L1562.8 490.1 L1561.3 488.9 L1559.9 487.7 L1558.4 486.5 L1556.9 485.2 L1555.6 484 L1554 482.8 L1554 482.8 L1552.4 484 L1551.1 485.2 L1549.6 486.5 L1548.1 487.7 L1546.7 488.9 L1545.2 490.1 L1543.7 491.3 L1542.2 492.6 L1540.5 493.8 L1538.8 495 L1537.1 496.2 L1535.4 497.4 L1533.7 498.7 L1532.2 499.9 L1531 501.1 L1529.8 502.3 L1528.8 503.5 L1527.8 504.8 L1527.2 506 L1527.2 507.2 L1527.8 508.4 L1528.8 509.6 L1530.1 510.9 L1531.3 512.1 L1532.5 513.3 L1533.9 514.5 L1535.3 515.7 L1536.9 517 L1538.5 518.2 L1539.7 519.4 L1539.9 520.6 L1538.6 521.9 L1536.2 523.1 L1533.3 524.3 L1530.7 525.5 L1529.1 526.7 L1528.9 528 L1529.8 529.2 L1531.2 530.4 L1532.8 531.6 L1534.6 532.8 L1536.8 534.1 L1539.3 535.3 L1541.9 536.5 L1544.4 537.7 L1546.6 538.9 L1548 540.2 L1548.6 541.4 L1548.7 542.6 L1548.5 543.8 L1548.3 545 L1547.6 546.3 L1545.5 547.5 L1541.2 548.7 L1534.9 549.9 L1527.2 551.1 L1518.5 552.4 L1510.1 553.6 L1499 554.8Z" fill="#F4B561"/>
<rect x="1262.4" y="636.9" width="104" height="2.4" fill="#E6D3DF"/>
<rect x="1313.4" y="626" width="2" height="13.3" fill="#F3E8EE"/>
<rect x="1382.2" y="636.9" width="104" height="2.4" fill="#4DAA58"/>
<rect x="1433.2" y="596.5" width="2" height="42.8" fill="#62B66B"/>
<rect x="1502" y="636.9" width="104" height="2.4" fill="#F4B561"/>
<rect x="1553" y="578.5" width="2" height="60.8" fill="#F6C27E"/>
<rect x="1741.6" y="636.9" width="104" height="2.4" fill="#D8E6A0"/>
<rect x="1792.6" y="586.5" width="2" height="52.8" fill="#DDE8AD"/>
<rect x="1861.4" y="636.9" width="104" height="2.4" fill="#4FC0EE"/>
<rect x="1912.4" y="591.5" width="2" height="47.8" fill="#5EC6F0"/>
<rect x="1981.2" y="636.9" width="104" height="2.4" fill="#3F6A88"/>
<rect x="2032.2" y="603.8" width="2" height="35.5" fill="#C3CBD3"/>
<rect x="2101" y="636.9" width="104" height="2.4" fill="#E85050"/>
<rect x="2152" y="597.6" width="2" height="41.7" fill="#EA5E5E"/>
<path d="M1725.8 639.3 L1712.3 638.1 L1702.5 637 L1693.2 635.8 L1686.4 634.6 L1681.8 633.5 L1679.6 632.3 L1678.6 631.1 L1678.4 629.9 L1678.2 628.8 L1678.1 627.6 L1678.2 626.4 L1678.9 625.3 L1680.5 624.1 L1682.3 622.9 L1683.8 621.8 L1684.2 620.6 L1683.8 619.4 L1683.2 618.2 L1683 617.1 L1683.6 615.9 L1684.8 614.7 L1686.2 613.6 L1687.6 612.4 L1689.3 611.2 L1691.2 610.1 L1693.3 608.9 L1695.5 607.7 L1697.7 606.6 L1699.8 605.4 L1701.8 604.2 L1703.3 603 L1704.2 601.9 L1704.8 600.7 L1705.3 599.5 L1705.7 598.4 L1706.2 597.2 L1706.5 596 L1706.7 594.9 L1706.4 593.7 L1705.7 592.5 L1704.8 591.4 L1703.8 590.2 L1702.8 589 L1701.8 587.8 L1700.8 586.7 L1699.7 585.5 L1698.3 584.3 L1696.5 583.2 L1694.5 582 L1692.3 580.8 L1690.2 579.7 L1688 578.5 L1685.9 577.3 L1683.8 576.1 L1681.8 575 L1679.8 573.8 L1677.8 572.6 L1676 571.5 L1673.8 570.3 L1673.8 570.3 L1671.6 571.5 L1669.8 572.6 L1667.8 573.8 L1665.8 575 L1663.8 576.1 L1661.7 577.3 L1659.6 578.5 L1657.4 579.7 L1655.3 580.8 L1653.1 582 L1651.1 583.2 L1649.3 584.3 L1647.9 585.5 L1646.8 586.7 L1645.8 587.8 L1644.8 589 L1643.8 590.2 L1642.8 591.4 L1641.9 592.5 L1641.2 593.7 L1640.9 594.9 L1641.1 596 L1641.4 597.2 L1641.9 598.4 L1642.3 599.5 L1642.8 600.7 L1643.4 601.9 L1644.3 603 L1645.8 604.2 L1647.8 605.4 L1649.9 606.6 L1652.1 607.7 L1654.3 608.9 L1656.4 610.1 L1658.3 611.2 L1660 612.4 L1661.4 613.6 L1662.8 614.7 L1664 615.9 L1664.6 617.1 L1664.4 618.2 L1663.8 619.4 L1663.4 620.6 L1663.8 621.8 L1665.3 622.9 L1667.1 624.1 L1668.7 625.3 L1669.4 626.4 L1669.5 627.6 L1669.4 628.8 L1669.2 629.9 L1669 631.1 L1668 632.3 L1665.8 633.5 L1661.2 634.6 L1654.4 635.8 L1645.1 637 L1635.3 638.1 L1621.8 639.3Z" fill="#F2A590"/>
<rect x="1262.4" y="721.4" width="104" height="2.4" fill="#E6D3DF"/>
<rect x="1313.4" y="714" width="2" height="9.8" fill="#F3E8EE"/>
<rect x="1382.2" y="721.4" width="104" height="2.4" fill="#4DAA58"/>
<rect x="1433.2" y="677.9" width="2" height="45.9" fill="#62B66B"/>
<rect x="1502" y="721.4" width="104" height="2.4" fill="#F4B561"/>
<rect x="1553" y="651.5" width="2" height="72.3" fill="#F6C27E"/>
<rect x="1741.6" y="721.4" width="104" height="2.4" fill="#D8E6A0"/>
<rect x="1792.6" y="666.8" width="2" height="57" fill="#DDE8AD"/>
<rect x="1861.4" y="721.4" width="104" height="2.4" fill="#4FC0EE"/>
<rect x="1912.4" y="663.2" width="2" height="60.6" fill="#5EC6F0"/>
<rect x="1981.2" y="721.4" width="104" height="2.4" fill="#3F6A88"/>
<rect x="2032.2" y="688.6" width="2" height="35.2" fill="#C3CBD3"/>
<rect x="2101" y="721.4" width="104" height="2.4" fill="#E85050"/>
<rect x="2152" y="667.2" width="2" height="56.6" fill="#EA5E5E"/>
<path d="M1725.8 723.8 L1711.3 722.6 L1701.1 721.4 L1691.8 720.2 L1685.3 719.1 L1681.3 717.9 L1679.6 716.7 L1679.1 715.5 L1679.2 714.3 L1679.3 713.1 L1679.5 711.9 L1679.6 710.7 L1679.8 709.6 L1680.2 708.4 L1680.8 707.2 L1681.4 706 L1682.1 704.8 L1682.7 703.6 L1683.1 702.4 L1683.2 701.3 L1682.9 700.1 L1682.6 698.9 L1682.6 697.7 L1683.3 696.5 L1684.3 695.3 L1685.5 694.1 L1686.5 693 L1687.4 691.8 L1688 690.6 L1688.4 689.4 L1688.7 688.2 L1689 687 L1689.3 685.8 L1689.4 684.6 L1689.4 683.5 L1689.1 682.3 L1688.7 681.1 L1688.2 679.9 L1687.8 678.7 L1687.3 677.5 L1686.8 676.3 L1686.3 675.2 L1685.8 674 L1685.2 672.8 L1684.5 671.6 L1683.8 670.4 L1683.1 669.2 L1682.3 668 L1681.6 666.9 L1680.9 665.7 L1680.2 664.5 L1679.5 663.3 L1678.8 662.1 L1678.1 660.9 L1677.4 659.7 L1676.6 658.5 L1675.9 657.4 L1675.2 656.2 L1674.6 655 L1673.8 653.8 L1673.8 653.8 L1673 655 L1672.4 656.2 L1671.7 657.4 L1671 658.5 L1670.2 659.7 L1669.5 660.9 L1668.8 662.1 L1668.1 663.3 L1667.4 664.5 L1666.7 665.7 L1666 666.9 L1665.3 668 L1664.5 669.2 L1663.8 670.4 L1663.1 671.6 L1662.4 672.8 L1661.8 674 L1661.3 675.2 L1660.8 676.3 L1660.3 677.5 L1659.8 678.7 L1659.4 679.9 L1658.9 681.1 L1658.5 682.3 L1658.2 683.5 L1658.2 684.6 L1658.3 685.8 L1658.6 687 L1658.9 688.2 L1659.2 689.4 L1659.6 690.6 L1660.2 691.8 L1661.1 693 L1662.1 694.1 L1663.3 695.3 L1664.3 696.5 L1665 697.7 L1665 698.9 L1664.7 700.1 L1664.4 701.3 L1664.5 702.4 L1664.9 703.6 L1665.5 704.8 L1666.2 706 L1666.8 707.2 L1667.4 708.4 L1667.8 709.6 L1668 710.7 L1668.1 711.9 L1668.3 713.1 L1668.4 714.3 L1668.5 715.5 L1668 716.7 L1666.3 717.9 L1662.3 719.1 L1655.8 720.2 L1646.5 721.4 L1636.3 722.6 L1621.8 723.8Z" fill="#F2A590"/>
<rect x="1262.4" y="805.9" width="104" height="2.4" fill="#E6D3DF"/>
<rect x="1313.4" y="794.4" width="2" height="13.9" fill="#F3E8EE"/>
<rect x="1382.2" y="805.9" width="104" height="2.4" fill="#4DAA58"/>
<rect x="1433.2" y="753.3" width="2" height="55" fill="#62B66B"/>
<rect x="1502" y="805.9" width="104" height="2.4" fill="#F4B561"/>
<rect x="1553" y="740.2" width="2" height="68.1" fill="#F6C27E"/>
<rect x="1621.8" y="805.9" width="104" height="2.4" fill="#F2A590"/>
<rect x="1672.8" y="762.8" width="2" height="45.5" fill="#F9DCD4"/>
<rect x="1861.4" y="805.9" width="104" height="2.4" fill="#4FC0EE"/>
<rect x="1912.4" y="761.2" width="2" height="47.1" fill="#5EC6F0"/>
<rect x="1981.2" y="805.9" width="104" height="2.4" fill="#3F6A88"/>
<rect x="2032.2" y="778.2" width="2" height="30.1" fill="#C3CBD3"/>
<rect x="2101" y="805.9" width="104" height="2.4" fill="#E85050"/>
<rect x="2152" y="747.2" width="2" height="61.1" fill="#EA5E5E"/>
<path d="M1848.6 808.3 L1835.7 807.1 L1826.5 805.9 L1817.5 804.7 L1810.3 803.6 L1804.8 802.4 L1801 801.2 L1799.2 800 L1798.6 798.8 L1798.6 797.6 L1798.7 796.4 L1799 795.2 L1800 794.1 L1801.7 792.9 L1803.8 791.7 L1805.8 790.5 L1806.8 789.3 L1806.5 788.1 L1805.3 786.9 L1804.1 785.8 L1803.8 784.6 L1805.1 783.4 L1807.6 782.2 L1810.5 781 L1812.4 779.8 L1812.8 778.6 L1811.6 777.5 L1809.5 776.3 L1807.4 775.1 L1806 773.9 L1805.9 772.7 L1807 771.5 L1808.9 770.3 L1811 769.1 L1812.9 768 L1814.3 766.8 L1814.8 765.6 L1814.5 764.4 L1813.8 763.2 L1812.9 762 L1812 760.8 L1811.1 759.7 L1810.2 758.5 L1809.3 757.3 L1808.5 756.1 L1807.6 754.9 L1806.8 753.7 L1806 752.5 L1805.1 751.4 L1804.3 750.2 L1803.5 749 L1802.6 747.8 L1801.7 746.6 L1800.6 745.4 L1799.5 744.2 L1798.3 743 L1797.2 741.9 L1796 740.7 L1794.9 739.5 L1793.6 738.3 L1793.6 738.3 L1792.3 739.5 L1791.2 740.7 L1790 741.9 L1788.9 743 L1787.7 744.2 L1786.6 745.4 L1785.5 746.6 L1784.6 747.8 L1783.7 749 L1782.9 750.2 L1782.1 751.4 L1781.2 752.5 L1780.4 753.7 L1779.6 754.9 L1778.7 756.1 L1777.9 757.3 L1777 758.5 L1776.1 759.7 L1775.2 760.8 L1774.3 762 L1773.4 763.2 L1772.7 764.4 L1772.4 765.6 L1772.9 766.8 L1774.3 768 L1776.2 769.1 L1778.3 770.3 L1780.2 771.5 L1781.3 772.7 L1781.2 773.9 L1779.8 775.1 L1777.7 776.3 L1775.6 777.5 L1774.4 778.6 L1774.8 779.8 L1776.7 781 L1779.6 782.2 L1782.1 783.4 L1783.4 784.6 L1783.1 785.8 L1781.9 786.9 L1780.7 788.1 L1780.4 789.3 L1781.4 790.5 L1783.4 791.7 L1785.5 792.9 L1787.2 794.1 L1788.2 795.2 L1788.5 796.4 L1788.6 797.6 L1788.6 798.8 L1788 800 L1786.2 801.2 L1782.4 802.4 L1776.9 803.6 L1769.7 804.7 L1760.7 805.9 L1751.5 807.1 L1738.6 808.3Z" fill="#D8E6A0"/>
<rect x="1262.4" y="890.4" width="104" height="2.4" fill="#E6D3DF"/>
<rect x="1313.4" y="882.2" width="2" height="10.6" fill="#F3E8EE"/>
<rect x="1382.2" y="890.4" width="104" height="2.4" fill="#4DAA58"/>
<rect x="1433.2" y="835.2" width="2" height="57.6" fill="#62B66B"/>
<rect x="1502" y="890.4" width="104" height="2.4" fill="#F4B561"/>
<rect x="1553" y="834.6" width="2" height="58.2" fill="#F6C27E"/>
<rect x="1621.8" y="890.4" width="104" height="2.4" fill="#F2A590"/>
<rect x="1672.8" y="858.4" width="2" height="34.4" fill="#F9DCD4"/>
<rect x="1861.4" y="890.4" width="104" height="2.4" fill="#4FC0EE"/>
<rect x="1912.4" y="822.7" width="2" height="70.1" fill="#5EC6F0"/>
<rect x="1981.2" y="890.4" width="104" height="2.4" fill="#3F6A88"/>
<rect x="2032.2" y="859" width="2" height="33.8" fill="#C3CBD3"/>
<rect x="2101" y="890.4" width="104" height="2.4" fill="#E85050"/>
<rect x="2152" y="848.3" width="2" height="44.5" fill="#EA5E5E"/>
<path d="M1848.6 892.8 L1839.2 891.5 L1831.2 890.3 L1822 889 L1813.6 887.8 L1807.3 886.5 L1804 885.3 L1802.8 884 L1802.4 882.8 L1802.4 881.5 L1803.2 880.3 L1805.4 879 L1808.8 877.7 L1812.6 876.5 L1816 875.2 L1818.3 874 L1819.7 872.7 L1820.4 871.5 L1820.3 870.2 L1819.2 869 L1817.3 867.7 L1815.6 866.5 L1815.4 865.2 L1817.8 864 L1822.1 862.7 L1826.9 861.4 L1830.4 860.2 L1832.3 858.9 L1833.3 857.7 L1834 856.4 L1834.7 855.2 L1835.4 853.9 L1836 852.7 L1836.6 851.4 L1836.9 850.2 L1836.7 848.9 L1836.1 847.6 L1835.3 846.4 L1834.5 845.1 L1833.7 843.9 L1832.8 842.6 L1831.6 841.4 L1830.2 840.1 L1828.4 838.9 L1826.5 837.6 L1824.5 836.4 L1822.5 835.1 L1820.5 833.9 L1818.5 832.6 L1816.4 831.3 L1814.3 830.1 L1812.2 828.8 L1810 827.6 L1807.8 826.3 L1805.6 825.1 L1803.3 823.8 L1801 822.6 L1798.6 821.3 L1796.4 820.1 L1793.6 818.8 L1793.6 818.8 L1790.8 820.1 L1788.6 821.3 L1786.2 822.6 L1783.9 823.8 L1781.6 825.1 L1779.4 826.3 L1777.2 827.6 L1775 828.8 L1772.9 830.1 L1770.8 831.3 L1768.7 832.6 L1766.7 833.9 L1764.7 835.1 L1762.7 836.4 L1760.7 837.6 L1758.8 838.9 L1757 840.1 L1755.6 841.4 L1754.4 842.6 L1753.5 843.9 L1752.7 845.1 L1751.9 846.4 L1751.1 847.6 L1750.5 848.9 L1750.3 850.2 L1750.6 851.4 L1751.2 852.7 L1751.8 853.9 L1752.5 855.2 L1753.2 856.4 L1753.9 857.7 L1754.9 858.9 L1756.8 860.2 L1760.3 861.4 L1765.1 862.7 L1769.4 864 L1771.8 865.2 L1771.6 866.5 L1769.9 867.7 L1768 869 L1766.9 870.2 L1766.8 871.5 L1767.5 872.7 L1768.9 874 L1771.2 875.2 L1774.6 876.5 L1778.4 877.7 L1781.8 879 L1784 880.3 L1784.8 881.5 L1784.8 882.8 L1784.4 884 L1783.2 885.3 L1779.9 886.5 L1773.6 887.8 L1765.2 889 L1756 890.3 L1748 891.5 L1738.6 892.8Z" fill="#D8E6A0"/>
<rect x="1262.4" y="974.9" width="104" height="2.4" fill="#E6D3DF"/>
<rect x="1313.4" y="965.4" width="2" height="11.9" fill="#F3E8EE"/>
<rect x="1382.2" y="974.9" width="104" height="2.4" fill="#4DAA58"/>
<rect x="1433.2" y="937" width="2" height="40.3" fill="#62B66B"/>
<rect x="1502" y="974.9" width="104" height="2.4" fill="#F4B561"/>
<rect x="1553" y="915.8" width="2" height="61.5" fill="#F6C27E"/>
<rect x="1621.8" y="974.9" width="104" height="2.4" fill="#F2A590"/>
<rect x="1672.8" y="934.8" width="2" height="42.5" fill="#F9DCD4"/>
<rect x="1741.6" y="974.9" width="104" height="2.4" fill="#D8E6A0"/>
<rect x="1792.6" y="925" width="2" height="52.3" fill="#DDE8AD"/>
<rect x="1981.2" y="974.9" width="104" height="2.4" fill="#3F6A88"/>
<rect x="2032.2" y="944.1" width="2" height="33.2" fill="#C3CBD3"/>
<rect x="2101" y="974.9" width="104" height="2.4" fill="#E85050"/>
<rect x="2152" y="918.1" width="2" height="59.2" fill="#EA5E5E"/>
<path d="M1968.4 977.3 L1956.5 976 L1947.4 974.7 L1938.1 973.4 L1930.3 972.1 L1924.7 970.8 L1921.2 969.5 L1919.1 968.2 L1918 966.9 L1917.5 965.6 L1917.4 964.2 L1917.4 962.9 L1917.4 961.6 L1917.5 960.3 L1917.7 959 L1918 957.7 L1918.4 956.4 L1918.8 955.1 L1919.2 953.8 L1919.7 952.5 L1920.1 951.2 L1920.5 949.9 L1920.9 948.6 L1921.3 947.3 L1921.5 946 L1921.8 944.7 L1921.9 943.4 L1922.1 942.1 L1922.3 940.8 L1922.4 939.5 L1922.6 938.1 L1922.8 936.8 L1923 935.5 L1923.1 934.2 L1923.2 932.9 L1923.3 931.6 L1923.3 930.3 L1923.2 929 L1923.1 927.7 L1923 926.4 L1922.9 925.1 L1922.8 923.8 L1922.7 922.5 L1922.7 921.2 L1922.6 919.9 L1922.4 918.6 L1922.2 917.3 L1921.8 916 L1921.3 914.7 L1920.8 913.4 L1920.3 912 L1919.8 910.7 L1919.2 909.4 L1918.6 908.1 L1917.9 906.8 L1917.1 905.5 L1916.2 904.2 L1915.3 902.9 L1914.4 901.6 L1913.4 900.3 L1913.4 900.3 L1912.4 901.6 L1911.5 902.9 L1910.6 904.2 L1909.7 905.5 L1908.9 906.8 L1908.2 908.1 L1907.6 909.4 L1907 910.7 L1906.5 912 L1906 913.4 L1905.5 914.7 L1905 916 L1904.6 917.3 L1904.4 918.6 L1904.2 919.9 L1904.1 921.2 L1904.1 922.5 L1904 923.8 L1903.9 925.1 L1903.8 926.4 L1903.7 927.7 L1903.6 929 L1903.5 930.3 L1903.5 931.6 L1903.6 932.9 L1903.7 934.2 L1903.8 935.5 L1904 936.8 L1904.2 938.1 L1904.4 939.5 L1904.5 940.8 L1904.7 942.1 L1904.9 943.4 L1905 944.7 L1905.3 946 L1905.5 947.3 L1905.9 948.6 L1906.3 949.9 L1906.7 951.2 L1907.1 952.5 L1907.6 953.8 L1908 955.1 L1908.4 956.4 L1908.8 957.7 L1909.1 959 L1909.3 960.3 L1909.4 961.6 L1909.4 962.9 L1909.4 964.2 L1909.3 965.6 L1908.8 966.9 L1907.7 968.2 L1905.6 969.5 L1902.1 970.8 L1896.5 972.1 L1888.7 973.4 L1879.4 974.7 L1870.3 976 L1858.4 977.3Z" fill="#4FC0EE"/>
<rect x="1262.4" y="1059.4" width="104" height="2.4" fill="#E6D3DF"/>
<rect x="1313.4" y="1048.1" width="2" height="13.7" fill="#F3E8EE"/>
<rect x="1382.2" y="1059.4" width="104" height="2.4" fill="#4DAA58"/>
<rect x="1433.2" y="1006.8" width="2" height="55" fill="#62B66B"/>
<rect x="1502" y="1059.4" width="104" height="2.4" fill="#F4B561"/>
<rect x="1553" y="996.2" width="2" height="65.6" fill="#F6C27E"/>
<rect x="1621.8" y="1059.4" width="104" height="2.4" fill="#F2A590"/>
<rect x="1672.8" y="1028.9" width="2" height="32.9" fill="#F9DCD4"/>
<rect x="1741.6" y="1059.4" width="104" height="2.4" fill="#D8E6A0"/>
<rect x="1792.6" y="1007.6" width="2" height="54.2" fill="#DDE8AD"/>
<rect x="1981.2" y="1059.4" width="104" height="2.4" fill="#3F6A88"/>
<rect x="2032.2" y="1020.8" width="2" height="41" fill="#C3CBD3"/>
<rect x="2101" y="1059.4" width="104" height="2.4" fill="#E85050"/>
<rect x="2152" y="1013.4" width="2" height="48.4" fill="#EA5E5E"/>
<path d="M1968.4 1061.8 L1954.6 1060.5 L1944.5 1059.3 L1934.6 1058 L1927 1056.7 L1922.1 1055.4 L1919.8 1054.2 L1918.9 1052.9 L1918.8 1051.6 L1919 1050.4 L1919.8 1049.1 L1920.9 1047.8 L1921.9 1046.5 L1922.5 1045.3 L1922.4 1044 L1922.3 1042.7 L1922.5 1041.5 L1923.5 1040.2 L1924.8 1038.9 L1926.2 1037.6 L1927.5 1036.4 L1928.6 1035.1 L1929.4 1033.8 L1930.1 1032.6 L1930.8 1031.3 L1931.4 1030 L1932.1 1028.7 L1932.8 1027.5 L1933.3 1026.2 L1933.6 1024.9 L1933.5 1023.7 L1933.1 1022.4 L1932.6 1021.1 L1932 1019.9 L1931.4 1018.6 L1930.9 1017.3 L1930.3 1016 L1929.7 1014.8 L1929.1 1013.5 L1928.5 1012.2 L1927.9 1011 L1927.2 1009.7 L1926.4 1008.4 L1925.7 1007.1 L1924.9 1005.9 L1924.2 1004.6 L1923.5 1003.3 L1922.7 1002.1 L1922 1000.8 L1921.2 999.5 L1920.4 998.2 L1919.7 997 L1918.9 995.7 L1918.1 994.4 L1917.3 993.2 L1916.5 991.9 L1915.7 990.6 L1915 989.3 L1914.3 988.1 L1913.4 986.8 L1913.4 986.8 L1912.5 988.1 L1911.8 989.3 L1911.1 990.6 L1910.3 991.9 L1909.5 993.2 L1908.7 994.4 L1907.9 995.7 L1907.1 997 L1906.4 998.2 L1905.6 999.5 L1904.8 1000.8 L1904.1 1002.1 L1903.3 1003.3 L1902.6 1004.6 L1901.9 1005.9 L1901.1 1007.1 L1900.4 1008.4 L1899.6 1009.7 L1898.9 1011 L1898.3 1012.2 L1897.7 1013.5 L1897.1 1014.8 L1896.5 1016 L1895.9 1017.3 L1895.4 1018.6 L1894.8 1019.9 L1894.2 1021.1 L1893.7 1022.4 L1893.3 1023.7 L1893.2 1024.9 L1893.5 1026.2 L1894 1027.5 L1894.7 1028.7 L1895.4 1030 L1896 1031.3 L1896.7 1032.6 L1897.4 1033.8 L1898.2 1035.1 L1899.3 1036.4 L1900.6 1037.6 L1902 1038.9 L1903.3 1040.2 L1904.3 1041.5 L1904.5 1042.7 L1904.4 1044 L1904.3 1045.3 L1904.9 1046.5 L1905.9 1047.8 L1907 1049.1 L1907.8 1050.4 L1908 1051.6 L1907.9 1052.9 L1907 1054.2 L1904.7 1055.4 L1899.8 1056.7 L1892.2 1058 L1882.3 1059.3 L1872.2 1060.5 L1858.4 1061.8Z" fill="#4FC0EE"/>
<rect x="1262.4" y="1143.9" width="104" height="2.4" fill="#E6D3DF"/>
<rect x="1313.4" y="1134.6" width="2" height="11.7" fill="#F3E8EE"/>
<rect x="1382.2" y="1143.9" width="104" height="2.4" fill="#4DAA58"/>
<rect x="1433.2" y="1096.8" width="2" height="49.5" fill="#62B66B"/>
<rect x="1502" y="1143.9" width="104" height="2.4" fill="#F4B561"/>
<rect x="1553" y="1076.3" width="2" height="70" fill="#F6C27E"/>
<rect x="1621.8" y="1143.9" width="104" height="2.4" fill="#F2A590"/>
<rect x="1672.8" y="1099.7" width="2" height="46.6" fill="#F9DCD4"/>
<rect x="1741.6" y="1143.9" width="104" height="2.4" fill="#D8E6A0"/>
<rect x="1792.6" y="1102" width="2" height="44.3" fill="#DDE8AD"/>
<rect x="1861.4" y="1143.9" width="104" height="2.4" fill="#4FC0EE"/>
<rect x="1912.4" y="1081.3" width="2" height="65" fill="#5EC6F0"/>
<rect x="2101" y="1143.9" width="104" height="2.4" fill="#E85050"/>
<rect x="2152" y="1096.6" width="2" height="49.7" fill="#EA5E5E"/>
<path d="M2053.2 1146.3 L2049.5 1145.1 L2046.1 1143.9 L2042.2 1142.7 L2039 1141.6 L2037.1 1140.4 L2036.3 1139.2 L2036.3 1138 L2036.7 1136.8 L2037.6 1135.6 L2038.9 1134.4 L2040.4 1133.2 L2041.6 1132.1 L2042.3 1130.9 L2042.4 1129.7 L2042.1 1128.5 L2042 1127.3 L2042.5 1126.1 L2043.8 1124.9 L2045.9 1123.8 L2048.8 1122.6 L2052.6 1121.4 L2057 1120.2 L2061.9 1119 L2066.6 1117.8 L2070.7 1116.6 L2073.9 1115.5 L2076.3 1114.3 L2078.2 1113.1 L2080.1 1111.9 L2081.9 1110.7 L2083.7 1109.5 L2085 1108.3 L2085.4 1107.1 L2084.5 1106 L2082.8 1104.8 L2080.8 1103.6 L2078.7 1102.4 L2076.7 1101.2 L2074.6 1100 L2072.6 1098.8 L2070.5 1097.7 L2068.4 1096.5 L2066.1 1095.3 L2063.8 1094.1 L2061.4 1092.9 L2059 1091.7 L2056.7 1090.5 L2054.3 1089.4 L2052 1088.2 L2049.7 1087 L2047.6 1085.8 L2045.7 1084.6 L2043.9 1083.4 L2042.1 1082.2 L2040.3 1081 L2038.5 1079.9 L2036.8 1078.7 L2035.2 1077.5 L2033.2 1076.3 L2033.2 1076.3 L2031.2 1077.5 L2029.6 1078.7 L2027.9 1079.9 L2026.1 1081 L2024.3 1082.2 L2022.5 1083.4 L2020.7 1084.6 L2018.8 1085.8 L2016.7 1087 L2014.4 1088.2 L2012.1 1089.4 L2009.7 1090.5 L2007.4 1091.7 L2005 1092.9 L2002.6 1094.1 L2000.3 1095.3 L1998 1096.5 L1995.9 1097.7 L1993.8 1098.8 L1991.8 1100 L1989.7 1101.2 L1987.7 1102.4 L1985.6 1103.6 L1983.6 1104.8 L1981.9 1106 L1981 1107.1 L1981.4 1108.3 L1982.7 1109.5 L1984.5 1110.7 L1986.3 1111.9 L1988.2 1113.1 L1990.1 1114.3 L1992.5 1115.5 L1995.7 1116.6 L1999.8 1117.8 L2004.5 1119 L2009.4 1120.2 L2013.8 1121.4 L2017.6 1122.6 L2020.5 1123.8 L2022.6 1124.9 L2023.9 1126.1 L2024.4 1127.3 L2024.3 1128.5 L2024 1129.7 L2024.1 1130.9 L2024.8 1132.1 L2026 1133.2 L2027.5 1134.4 L2028.8 1135.6 L2029.7 1136.8 L2030.1 1138 L2030.1 1139.2 L2029.3 1140.4 L2027.4 1141.6 L2024.2 1142.7 L2020.3 1143.9 L2016.9 1145.1 L2013.2 1146.3Z" fill="#3F6A88"/>
<rect x="1262.4" y="1228.4" width="104" height="2.4" fill="#E6D3DF"/>
<rect x="1313.4" y="1220.2" width="2" height="10.6" fill="#F3E8EE"/>
<rect x="1382.2" y="1228.4" width="104" height="2.4" fill="#4DAA58"/>
<rect x="1433.2" y="1191.3" width="2" height="39.5" fill="#62B66B"/>
<rect x="1502" y="1228.4" width="104" height="2.4" fill="#F4B561"/>
<rect x="1553" y="1177.8" width="2" height="53" fill="#F6C27E"/>
<rect x="1621.8" y="1228.4" width="104" height="2.4" fill="#F2A590"/>
<rect x="1672.8" y="1198.2" width="2" height="32.6" fill="#F9DCD4"/>
<rect x="1741.6" y="1228.4" width="104" height="2.4" fill="#D8E6A0"/>
<rect x="1792.6" y="1181.4" width="2" height="49.4" fill="#DDE8AD"/>
<rect x="1861.4" y="1228.4" width="104" height="2.4" fill="#4FC0EE"/>
<rect x="1912.4" y="1174.4" width="2" height="56.4" fill="#5EC6F0"/>
<rect x="2101" y="1228.4" width="104" height="2.4" fill="#E85050"/>
<rect x="2152" y="1183.8" width="2" height="47" fill="#EA5E5E"/>
<path d="M2088.2 1230.8 L2076.6 1229.5 L2067.7 1228.3 L2058.5 1227 L2050.7 1225.7 L2044.8 1224.4 L2040.9 1223.2 L2038.5 1221.9 L2037.1 1220.6 L2036.4 1219.4 L2036.2 1218.1 L2036.2 1216.8 L2036.2 1215.5 L2036.2 1214.3 L2036.2 1213 L2036.2 1211.7 L2036.3 1210.5 L2036.5 1209.2 L2036.9 1207.9 L2037.6 1206.6 L2038.3 1205.4 L2039.1 1204.1 L2040 1202.8 L2040.9 1201.6 L2042.1 1200.3 L2043.3 1199 L2043.9 1197.7 L2043.6 1196.5 L2042.6 1195.2 L2041.3 1193.9 L2040.1 1192.7 L2038.8 1191.4 L2037.7 1190.1 L2036.8 1188.9 L2036.3 1187.6 L2036.1 1186.3 L2036 1185 L2035.9 1183.8 L2035.8 1182.5 L2035.8 1181.2 L2035.7 1180 L2035.6 1178.7 L2035.6 1177.4 L2035.5 1176.1 L2035.4 1174.9 L2035.4 1173.6 L2035.3 1172.3 L2035.2 1171.1 L2035 1169.8 L2034.9 1168.5 L2034.7 1167.2 L2034.6 1166 L2034.4 1164.7 L2034.2 1163.4 L2034 1162.2 L2033.9 1160.9 L2033.7 1159.6 L2033.5 1158.3 L2033.4 1157.1 L2033.2 1155.8 L2033.2 1155.8 L2033 1157.1 L2032.9 1158.3 L2032.7 1159.6 L2032.5 1160.9 L2032.4 1162.2 L2032.2 1163.4 L2032 1164.7 L2031.8 1166 L2031.7 1167.2 L2031.5 1168.5 L2031.4 1169.8 L2031.2 1171.1 L2031.1 1172.3 L2031 1173.6 L2031 1174.9 L2030.9 1176.1 L2030.8 1177.4 L2030.8 1178.7 L2030.7 1180 L2030.6 1181.2 L2030.6 1182.5 L2030.5 1183.8 L2030.4 1185 L2030.3 1186.3 L2030.1 1187.6 L2029.6 1188.9 L2028.7 1190.1 L2027.6 1191.4 L2026.3 1192.7 L2025.1 1193.9 L2023.8 1195.2 L2022.8 1196.5 L2022.5 1197.7 L2023.1 1199 L2024.3 1200.3 L2025.5 1201.6 L2026.4 1202.8 L2027.3 1204.1 L2028.1 1205.4 L2028.8 1206.6 L2029.5 1207.9 L2029.9 1209.2 L2030.1 1210.5 L2030.2 1211.7 L2030.2 1213 L2030.2 1214.3 L2030.2 1215.5 L2030.2 1216.8 L2030.2 1218.1 L2030 1219.4 L2029.3 1220.6 L2027.9 1221.9 L2025.5 1223.2 L2021.6 1224.4 L2015.7 1225.7 L2007.9 1227 L1998.7 1228.3 L1989.8 1229.5 L1978.2 1230.8Z" fill="#3F6A88"/>
<rect x="1262.4" y="1312.9" width="104" height="2.4" fill="#E6D3DF"/>
<rect x="1313.4" y="1303.8" width="2" height="11.5" fill="#F3E8EE"/>
<rect x="1382.2" y="1312.9" width="104" height="2.4" fill="#4DAA58"/>
<rect x="1433.2" y="1267" width="2" height="48.3" fill="#62B66B"/>
<rect x="1502" y="1312.9" width="104" height="2.4" fill="#F4B561"/>
<rect x="1553" y="1248.7" width="2" height="66.6" fill="#F6C27E"/>
<rect x="1621.8" y="1312.9" width="104" height="2.4" fill="#F2A590"/>
<rect x="1672.8" y="1282.5" width="2" height="32.8" fill="#F9DCD4"/>
<rect x="1741.6" y="1312.9" width="104" height="2.4" fill="#D8E6A0"/>
<rect x="1792.6" y="1268.9" width="2" height="46.4" fill="#DDE8AD"/>
<rect x="1861.4" y="1312.9" width="104" height="2.4" fill="#4FC0EE"/>
<rect x="1912.4" y="1245.6" width="2" height="69.7" fill="#5EC6F0"/>
<rect x="1981.2" y="1312.9" width="104" height="2.4" fill="#3F6A88"/>
<rect x="2032.2" y="1286.1" width="2" height="29.2" fill="#C3CBD3"/>
<path d="M2183 1315.3 L2178.2 1314 L2174.1 1312.8 L2169.2 1311.5 L2164.5 1310.3 L2161.1 1309 L2159.2 1307.8 L2158.5 1306.5 L2158.4 1305.3 L2158.5 1304 L2158.9 1302.8 L2159.7 1301.5 L2160.7 1300.2 L2161.8 1299 L2162.9 1297.7 L2164.2 1296.5 L2165.9 1295.2 L2168.3 1294 L2171 1292.7 L2173.9 1291.5 L2176.9 1290.2 L2179.8 1289 L2182.7 1287.7 L2185.6 1286.5 L2188.5 1285.2 L2191.1 1283.9 L2193.2 1282.7 L2194.9 1281.4 L2196.4 1280.2 L2197.7 1278.9 L2199.1 1277.7 L2200.4 1276.4 L2201.8 1275.2 L2203.1 1273.9 L2204.4 1272.7 L2205.4 1271.4 L2205.9 1270.1 L2205.5 1268.9 L2204.6 1267.6 L2203.5 1266.4 L2202.3 1265.1 L2201.2 1263.9 L2200.1 1262.6 L2198.7 1261.4 L2197.1 1260.1 L2195 1258.9 L2192.6 1257.6 L2190.1 1256.4 L2187.6 1255.1 L2185.1 1253.8 L2182.6 1252.6 L2179.9 1251.3 L2177 1250.1 L2173.8 1248.8 L2170.4 1247.6 L2166.9 1246.3 L2163.5 1245.1 L2160 1243.8 L2156.9 1242.6 L2153 1241.3 L2153 1241.3 L2149.1 1242.6 L2146 1243.8 L2142.5 1245.1 L2139.1 1246.3 L2135.6 1247.6 L2132.2 1248.8 L2129 1250.1 L2126.1 1251.3 L2123.4 1252.6 L2120.9 1253.8 L2118.4 1255.1 L2115.9 1256.4 L2113.4 1257.6 L2111 1258.9 L2108.9 1260.1 L2107.3 1261.4 L2105.9 1262.6 L2104.8 1263.9 L2103.7 1265.1 L2102.5 1266.4 L2101.4 1267.6 L2100.5 1268.9 L2100.1 1270.1 L2100.6 1271.4 L2101.6 1272.7 L2102.9 1273.9 L2104.2 1275.2 L2105.6 1276.4 L2106.9 1277.7 L2108.3 1278.9 L2109.6 1280.2 L2111.1 1281.4 L2112.8 1282.7 L2114.9 1283.9 L2117.5 1285.2 L2120.4 1286.5 L2123.3 1287.7 L2126.2 1289 L2129.1 1290.2 L2132.1 1291.5 L2135 1292.7 L2137.7 1294 L2140.1 1295.2 L2141.8 1296.5 L2143.1 1297.7 L2144.2 1299 L2145.3 1300.2 L2146.3 1301.5 L2147.1 1302.8 L2147.5 1304 L2147.6 1305.3 L2147.5 1306.5 L2146.8 1307.8 L2144.9 1309 L2141.5 1310.3 L2136.8 1311.5 L2131.9 1312.8 L2127.8 1314 L2123 1315.3Z" fill="#E85050"/>
<rect x="1262.4" y="1397.4" width="104" height="2.4" fill="#E6D3DF"/>
<rect x="1313.4" y="1387.6" width="2" height="12.2" fill="#F3E8EE"/>
<rect x="1382.2" y="1397.4" width="104" height="2.4" fill="#4DAA58"/>
<rect x="1433.2" y="1346" width="2" height="53.8" fill="#62B66B"/>
<rect x="1502" y="1397.4" width="104" height="2.4" fill="#F4B561"/>
<rect x="1553" y="1335.6" width="2" height="64.2" fill="#F6C27E"/>
<rect x="1621.8" y="1397.4" width="104" height="2.4" fill="#F2A590"/>
<rect x="1672.8" y="1354.9" width="2" height="44.9" fill="#F9DCD4"/>
<rect x="1741.6" y="1397.4" width="104" height="2.4" fill="#D8E6A0"/>
<rect x="1792.6" y="1354.4" width="2" height="45.4" fill="#DDE8AD"/>
<rect x="1861.4" y="1397.4" width="104" height="2.4" fill="#4FC0EE"/>
<rect x="1912.4" y="1336.1" width="2" height="63.7" fill="#5EC6F0"/>
<rect x="1981.2" y="1397.4" width="104" height="2.4" fill="#3F6A88"/>
<rect x="2032.2" y="1362.7" width="2" height="37.1" fill="#C3CBD3"/>
<path d="M2193 1399.8 L2185.9 1398.5 L2180.2 1397.2 L2174 1395.9 L2168.2 1394.6 L2163.4 1393.4 L2160.4 1392.1 L2159 1390.8 L2158.5 1389.5 L2158.4 1388.2 L2158.4 1386.9 L2158.9 1385.6 L2160 1384.3 L2161.4 1383.1 L2163 1381.8 L2164.7 1380.5 L2166.4 1379.2 L2168.5 1377.9 L2171.2 1376.6 L2174.2 1375.3 L2177.4 1374 L2180.6 1372.7 L2183.8 1371.5 L2187.1 1370.2 L2190.3 1368.9 L2193.4 1367.6 L2196.1 1366.3 L2198.1 1365 L2199.6 1363.7 L2200.7 1362.4 L2201.8 1361.2 L2202.9 1359.9 L2203.9 1358.6 L2204.9 1357.3 L2205.7 1356 L2206 1354.7 L2205.5 1353.4 L2204.6 1352.1 L2203.4 1350.9 L2202.3 1349.6 L2201.1 1348.3 L2199.9 1347 L2198.4 1345.7 L2196.5 1344.4 L2194 1343.1 L2191.2 1341.8 L2188.2 1340.5 L2185.3 1339.3 L2182.3 1338 L2179.4 1336.7 L2176.5 1335.4 L2173.7 1334.1 L2171.1 1332.8 L2168.5 1331.5 L2165.9 1330.2 L2163.3 1329 L2160.7 1327.7 L2158.2 1326.4 L2155.9 1325.1 L2153 1323.8 L2153 1323.8 L2150.1 1325.1 L2147.8 1326.4 L2145.3 1327.7 L2142.7 1329 L2140.1 1330.2 L2137.5 1331.5 L2134.9 1332.8 L2132.3 1334.1 L2129.5 1335.4 L2126.6 1336.7 L2123.7 1338 L2120.7 1339.3 L2117.8 1340.5 L2114.8 1341.8 L2112 1343.1 L2109.5 1344.4 L2107.6 1345.7 L2106.1 1347 L2104.9 1348.3 L2103.7 1349.6 L2102.6 1350.9 L2101.4 1352.1 L2100.5 1353.4 L2100 1354.7 L2100.3 1356 L2101.1 1357.3 L2102.1 1358.6 L2103.1 1359.9 L2104.2 1361.2 L2105.3 1362.4 L2106.4 1363.7 L2107.9 1365 L2109.9 1366.3 L2112.6 1367.6 L2115.7 1368.9 L2118.9 1370.2 L2122.2 1371.5 L2125.4 1372.7 L2128.6 1374 L2131.8 1375.3 L2134.8 1376.6 L2137.5 1377.9 L2139.6 1379.2 L2141.3 1380.5 L2143 1381.8 L2144.6 1383.1 L2146 1384.3 L2147.1 1385.6 L2147.6 1386.9 L2147.6 1388.2 L2147.5 1389.5 L2147 1390.8 L2145.6 1392.1 L2142.6 1393.4 L2137.8 1394.6 L2132 1395.9 L2125.8 1397.2 L2120.1 1398.5 L2113 1399.8Z" fill="#E85050"/>
</g>
<path d="M1242.5 52 H2223.3 V135.5" stroke="#777" stroke-width="2" fill="none"/>
<path d="M1244 51 V133.5 H2224.3" stroke="#333" stroke-width="3" fill="none"/>
<rect x="1242.5" y="131.5" width="981.8" height="4.5" fill="#2b2b2b"/>
<text x="2256.5" y="105.5" font-size="34" text-anchor="start" fill="#111">KIT</text>
<path d="M1242.5 136.5 H2223.3 V220" stroke="#777" stroke-width="2" fill="none"/>
<path d="M1244 135.5 V218 H2224.3" stroke="#333" stroke-width="3" fill="none"/>
<rect x="1242.5" y="216" width="981.8" height="4.5" fill="#2b2b2b"/>
<text x="2256.5" y="190.1" font-size="34" text-anchor="start" fill="#111">MS4A2</text>
<path d="M1242.5 221 H2223.3 V304.5" stroke="#777" stroke-width="2" fill="none"/>
<path d="M1244 220 V302.5 H2224.3" stroke="#333" stroke-width="3" fill="none"/>
<rect x="1242.5" y="300.5" width="981.8" height="4.5" fill="#2b2b2b"/>
<text x="2256.5" y="274.6" font-size="34" text-anchor="start" fill="#111">DCN</text>
<path d="M1242.5 305.5 H2223.3 V389" stroke="#777" stroke-width="2" fill="none"/>
<path d="M1244 304.5 V387 H2224.3" stroke="#333" stroke-width="3" fill="none"/>
<rect x="1242.5" y="385" width="981.8" height="4.5" fill="#2b2b2b"/>
<text x="2256.5" y="359.1" font-size="34" text-anchor="start" fill="#111">LUM</text>
<path d="M1242.5 390 H2223.3 V473.5" stroke="#777" stroke-width="2" fill="none"/>
<path d="M1244 389 V471.5 H2224.3" stroke="#333" stroke-width="3" fill="none"/>
<rect x="1242.5" y="469.5" width="981.8" height="4.5" fill="#2b2b2b"/>
<text x="2256.5" y="443.6" font-size="34" text-anchor="start" fill="#111">CD3D</text>
<path d="M1242.5 474.5 H2223.3 V558" stroke="#777" stroke-width="2" fill="none"/>
<path d="M1244 473.5 V556 H2224.3" stroke="#333" stroke-width="3" fill="none"/>
<rect x="1242.5" y="554" width="981.8" height="4.5" fill="#2b2b2b"/>
<text x="2256.5" y="528" font-size="34" text-anchor="start" fill="#111">CD3E</text>
<path d="M1242.5 559 H2223.3 V642.5" stroke="#777" stroke-width="2" fill="none"/>
<path d="M1244 558 V640.5 H2224.3" stroke="#333" stroke-width="3" fill="none"/>
<rect x="1242.5" y="638.5" width="981.8" height="4.5" fill="#2b2b2b"/>
<text x="2256.5" y="612.5" font-size="34" text-anchor="start" fill="#111">EPCAM</text>
<path d="M1242.5 643.5 H2223.3 V727" stroke="#777" stroke-width="2" fill="none"/>
<path d="M1244 642.5 V725 H2224.3" stroke="#333" stroke-width="3" fill="none"/>
<rect x="1242.5" y="723" width="981.8" height="4.5" fill="#2b2b2b"/>
<text x="2256.5" y="697" font-size="34" text-anchor="start" fill="#111">KRT19</text>
<path d="M1242.5 728 H2223.3 V811.5" stroke="#777" stroke-width="2" fill="none"/>
<path d="M1244 727 V809.5 H2224.3" stroke="#333" stroke-width="3" fill="none"/>
<rect x="1242.5" y="807.5" width="981.8" height="4.5" fill="#2b2b2b"/>
<text x="2256.5" y="781.5" font-size="34" text-anchor="start" fill="#111">CD79B</text>
<path d="M1242.5 812.5 H2223.3 V896" stroke="#777" stroke-width="2" fill="none"/>
<path d="M1244 811.5 V894 H2224.3" stroke="#333" stroke-width="3" fill="none"/>
<rect x="1242.5" y="892" width="981.8" height="4.5" fill="#2b2b2b"/>
<text x="2256.5" y="866" font-size="34" text-anchor="start" fill="#111">MS4A1</text>
<path d="M1242.5 897 H2223.3 V980.5" stroke="#777" stroke-width="2" fill="none"/>
<path d="M1244 896 V978.5 H2224.3" stroke="#333" stroke-width="3" fill="none"/>
<rect x="1242.5" y="976.5" width="981.8" height="4.5" fill="#2b2b2b"/>
<text x="2256.5" y="950.5" font-size="34" text-anchor="start" fill="#111">C1QA</text>
<path d="M1242.5 981.5 H2223.3 V1065" stroke="#777" stroke-width="2" fill="none"/>
<path d="M1244 980.5 V1063 H2224.3" stroke="#333" stroke-width="3" fill="none"/>
<rect x="1242.5" y="1061" width="981.8" height="4.5" fill="#2b2b2b"/>
<text x="2256.5" y="1035" font-size="34" text-anchor="start" fill="#111">CD68</text>
<path d="M1242.5 1066 H2223.3 V1149.5" stroke="#777" stroke-width="2" fill="none"/>
<path d="M1244 1065 V1147.5 H2224.3" stroke="#333" stroke-width="3" fill="none"/>
<rect x="1242.5" y="1145.5" width="981.8" height="4.5" fill="#2b2b2b"/>
<text x="2256.5" y="1119.5" font-size="34" text-anchor="start" fill="#111">MZB1</text>
<path d="M1242.5 1150.5 H2223.3 V1234" stroke="#777" stroke-width="2" fill="none"/>
<path d="M1244 1149.5 V1232 H2224.3" stroke="#333" stroke-width="3" fill="none"/>
<rect x="1242.5" y="1230" width="981.8" height="4.5" fill="#2b2b2b"/>
<text x="2256.5" y="1204" font-size="34" text-anchor="start" fill="#111">SDC1</text>
<path d="M1242.5 1235 H2223.3 V1318.5" stroke="#777" stroke-width="2" fill="none"/>
<path d="M1244 1234 V1316.5 H2224.3" stroke="#333" stroke-width="3" fill="none"/>
<rect x="1242.5" y="1314.5" width="981.8" height="4.5" fill="#2b2b2b"/>
<text x="2256.5" y="1288.5" font-size="34" text-anchor="start" fill="#111">PECAM1</text>
<path d="M1242.5 1319.5 H2223.3 V1403" stroke="#777" stroke-width="2" fill="none"/>
<path d="M1244 1318.5 V1401 H2224.3" stroke="#333" stroke-width="3" fill="none"/>
<rect x="1242.5" y="1399" width="981.8" height="4.5" fill="#2b2b2b"/>
<text x="2256.5" y="1373" font-size="34" text-anchor="start" fill="#111">VWF</text>
<rect x="1312.8" y="1403" width="3.2" height="12" fill="#333"/>
<rect x="1432.6" y="1403" width="3.2" height="12" fill="#333"/>
<rect x="1552.4" y="1403" width="3.2" height="12" fill="#333"/>
<rect x="1672.2" y="1403" width="3.2" height="12" fill="#333"/>
<rect x="1792" y="1403" width="3.2" height="12" fill="#333"/>
<rect x="1911.8" y="1403" width="3.2" height="12" fill="#333"/>
<rect x="2031.6" y="1403" width="3.2" height="12" fill="#333"/>
<rect x="2151.4" y="1403" width="3.2" height="12" fill="#333"/>
<text transform="translate(1307.4 1433) rotate(-45)" font-size="28" text-anchor="end" fill="#222" dy="0.72em">Mast</text>
<text transform="translate(1427.2 1433) rotate(-45)" font-size="28" text-anchor="end" fill="#222" dy="0.72em">Fibroblasts</text>
<text transform="translate(1547 1433) rotate(-45)" font-size="28" text-anchor="end" fill="#222" dy="0.72em">T_cell</text>
<text transform="translate(1666.8 1433) rotate(-45)" font-size="28" text-anchor="end" fill="#222" dy="0.72em">Epithelial</text>
<text transform="translate(1786.6 1433) rotate(-45)" font-size="28" text-anchor="end" fill="#222" dy="0.72em">B_cell</text>
<text transform="translate(1906.4 1433) rotate(-45)" font-size="28" text-anchor="end" fill="#222" dy="0.72em">Plasma</text>
<text transform="translate(2026.2 1433) rotate(-45)" font-size="28" text-anchor="end" fill="#222" dy="0.72em">Macrophage</text>
<text transform="translate(2146 1433) rotate(-45)" font-size="28" text-anchor="end" fill="#222" dy="0.72em">Endothelial</text>
<text transform="translate(53 933.5) scale(0.86 1)" font-size="61" fill="#000" class="pl">C</text>
<text x="700.5" y="937.3" font-size="33.2" text-anchor="middle" fill="#111">K−distance to Epithelial cells</text>
<text x="164.8" y="976.4" font-size="28.5" fill="#111">Kruskal−Wallis, p &lt; 2.2×10<tspan font-size="16" dx="1" dy="-13">−16</tspan></text>
<path d="M145.5 966 V1556.5 H1131.5" stroke="#000" stroke-width="4.6" fill="none"/>
<rect x="139" y="1534.2" width="5" height="3" fill="#000"/>
<text x="137.5" y="1545" font-size="25.5" text-anchor="end" fill="#111" letter-spacing="-0.9">0</text>
<rect x="139" y="1379.2" width="5" height="3" fill="#000"/>
<text x="137.5" y="1390" font-size="25.5" text-anchor="end" fill="#111" letter-spacing="-0.9">1000</text>
<rect x="139" y="1224.2" width="5" height="3" fill="#000"/>
<text x="137.5" y="1235" font-size="25.5" text-anchor="end" fill="#111" letter-spacing="-0.9">2000</text>
<rect x="139" y="1069.2" width="5" height="3" fill="#000"/>
<text x="137.5" y="1080" font-size="25.5" text-anchor="end" fill="#111" letter-spacing="-0.9">3000</text>
<text transform="translate(74.5 1240.5) rotate(-90)" font-size="32" text-anchor="middle" fill="#111">Distance</text>
<path d="M217.9 1486 V1490.7 M217.9 1518.6 V1528" stroke="#000" stroke-width="4.4"/>
<rect x="175.9" y="1490.7" width="84" height="27.9" fill="#EFEBA2" stroke="#000" stroke-width="4.8"/>
<rect x="175.9" y="1501.6" width="84" height="8.8" fill="#000"/>
<circle cx="217.9" cy="1052" r="6.2" fill="#000"/>
<circle cx="217.9" cy="1062" r="6.2" fill="#000"/>
<circle cx="217.9" cy="1175.8" r="6.2" fill="#000"/>
<circle cx="217.9" cy="1218.7" r="6.2" fill="#000"/>
<circle cx="217.9" cy="1246" r="6.2" fill="#000"/>
<circle cx="217.9" cy="1258" r="6.2" fill="#000"/>
<circle cx="217.9" cy="1273" r="6.2" fill="#000"/>
<circle cx="217.9" cy="1283.5" r="6.2" fill="#000"/>
<circle cx="217.9" cy="1292" r="6.2" fill="#000"/>
<circle cx="217.9" cy="1308" r="6.2" fill="#000"/>
<circle cx="217.9" cy="1312" r="6.2" fill="#000"/>
<circle cx="217.9" cy="1327.5" r="6.2" fill="#000"/>
<circle cx="217.9" cy="1332" r="6.2" fill="#000"/>
<circle cx="217.9" cy="1345" r="6.2" fill="#000"/>
<circle cx="217.9" cy="1350" r="6.2" fill="#000"/>
<circle cx="217.9" cy="1354" r="6.2" fill="#000"/>
<circle cx="217.9" cy="1365" r="6.2" fill="#000"/>
<circle cx="217.9" cy="1369" r="6.2" fill="#000"/>
<circle cx="217.9" cy="1373.6" r="6.2" fill="#000"/>
<circle cx="217.9" cy="1387" r="6.2" fill="#000"/>
<circle cx="217.9" cy="1391" r="6.2" fill="#000"/>
<circle cx="217.9" cy="1395.6" r="6.2" fill="#000"/>
<circle cx="217.9" cy="1404" r="6.2" fill="#000"/>
<circle cx="217.9" cy="1408" r="6.2" fill="#000"/>
<circle cx="217.9" cy="1412.6" r="6.2" fill="#000"/>
<circle cx="217.9" cy="1417" r="6.2" fill="#000"/>
<circle cx="217.9" cy="1420" r="6.2" fill="#000"/>
<circle cx="217.9" cy="1422.9" r="6.2" fill="#000"/>
<circle cx="217.9" cy="1425.9" r="6.2" fill="#000"/>
<circle cx="217.9" cy="1428.8" r="6.2" fill="#000"/>
<circle cx="217.9" cy="1431.8" r="6.2" fill="#000"/>
<circle cx="217.9" cy="1434.7" r="6.2" fill="#000"/>
<circle cx="217.9" cy="1437.7" r="6.2" fill="#000"/>
<circle cx="217.9" cy="1440.7" r="6.2" fill="#000"/>
<circle cx="217.9" cy="1443.6" r="6.2" fill="#000"/>
<circle cx="217.9" cy="1446.6" r="6.2" fill="#000"/>
<circle cx="217.9" cy="1449.5" r="6.2" fill="#000"/>
<circle cx="217.9" cy="1452.5" r="6.2" fill="#000"/>
<circle cx="217.9" cy="1455.4" r="6.2" fill="#000"/>
<circle cx="217.9" cy="1458.4" r="6.2" fill="#000"/>
<circle cx="217.9" cy="1461.3" r="6.2" fill="#000"/>
<circle cx="217.9" cy="1464.3" r="6.2" fill="#000"/>
<circle cx="217.9" cy="1467.3" r="6.2" fill="#000"/>
<circle cx="217.9" cy="1470.2" r="6.2" fill="#000"/>
<circle cx="217.9" cy="1473.2" r="6.2" fill="#000"/>
<circle cx="217.9" cy="1476.1" r="6.2" fill="#000"/>
<circle cx="217.9" cy="1479.1" r="6.2" fill="#000"/>
<circle cx="217.9" cy="1482" r="6.2" fill="#000"/>
<circle cx="217.9" cy="1485" r="6.2" fill="#000"/>
<rect x="215.9" y="1556" width="4" height="6" fill="#000"/>
<text transform="translate(217.9 1574) rotate(-45)" font-size="28" text-anchor="end" fill="#111" dy="0.72em">Epithelial</text>
<path d="M338.1 1055 V1289.6 M338.1 1451.1 V1514.8" stroke="#000" stroke-width="4.4"/>
<rect x="296.1" y="1289.6" width="84" height="161.5" fill="#9BC0C8" stroke="#000" stroke-width="4.8"/>
<rect x="296.1" y="1379.6" width="84" height="8.8" fill="#000"/>
<circle cx="338.1" cy="991" r="6.2" fill="#000"/>
<circle cx="338.1" cy="994.7" r="6.2" fill="#000"/>
<circle cx="338.1" cy="998.4" r="6.2" fill="#000"/>
<circle cx="338.1" cy="1002.1" r="6.2" fill="#000"/>
<circle cx="338.1" cy="1005.8" r="6.2" fill="#000"/>
<circle cx="338.1" cy="1009.5" r="6.2" fill="#000"/>
<circle cx="338.1" cy="1013.2" r="6.2" fill="#000"/>
<circle cx="338.1" cy="1016.9" r="6.2" fill="#000"/>
<circle cx="338.1" cy="1020.6" r="6.2" fill="#000"/>
<circle cx="338.1" cy="1024.4" r="6.2" fill="#000"/>
<circle cx="338.1" cy="1028.1" r="6.2" fill="#000"/>
<circle cx="338.1" cy="1031.8" r="6.2" fill="#000"/>
<circle cx="338.1" cy="1035.5" r="6.2" fill="#000"/>
<circle cx="338.1" cy="1039.2" r="6.2" fill="#000"/>
<circle cx="338.1" cy="1042.9" r="6.2" fill="#000"/>
<circle cx="338.1" cy="1046.6" r="6.2" fill="#000"/>
<circle cx="338.1" cy="1050.3" r="6.2" fill="#000"/>
<circle cx="338.1" cy="1054" r="6.2" fill="#000"/>
<rect x="336.1" y="1556" width="4" height="6" fill="#000"/>
<text transform="translate(338.1 1574) rotate(-45)" font-size="28" text-anchor="end" fill="#111" dy="0.72em">Fibroblasts</text>
<path d="M458.2 1430 V1454.4 M458.2 1488.5 V1520.3" stroke="#000" stroke-width="4.4"/>
<rect x="416.2" y="1454.4" width="84" height="34.1" fill="#C8E0A2" stroke="#000" stroke-width="4.8"/>
<rect x="416.2" y="1468.6" width="84" height="8.8" fill="#000"/>
<circle cx="458.2" cy="1167" r="6.2" fill="#000"/>
<circle cx="458.2" cy="1171.2" r="6.2" fill="#000"/>
<circle cx="458.2" cy="1175.4" r="6.2" fill="#000"/>
<circle cx="458.2" cy="1179.6" r="6.2" fill="#000"/>
<circle cx="458.2" cy="1183.8" r="6.2" fill="#000"/>
<circle cx="458.2" cy="1188" r="6.2" fill="#000"/>
<circle cx="458.2" cy="1192.2" r="6.2" fill="#000"/>
<circle cx="458.2" cy="1196.4" r="6.2" fill="#000"/>
<circle cx="458.2" cy="1200.6" r="6.2" fill="#000"/>
<circle cx="458.2" cy="1204.8" r="6.2" fill="#000"/>
<circle cx="458.2" cy="1209" r="6.2" fill="#000"/>
<circle cx="458.2" cy="1222" r="6.2" fill="#000"/>
<circle cx="458.2" cy="1230" r="6.2" fill="#000"/>
<circle cx="458.2" cy="1239.6" r="6.2" fill="#000"/>
<circle cx="458.2" cy="1257" r="6.2" fill="#000"/>
<circle cx="458.2" cy="1275" r="6.2" fill="#000"/>
<circle cx="458.2" cy="1280" r="6.2" fill="#000"/>
<circle cx="458.2" cy="1285.7" r="6.2" fill="#000"/>
<circle cx="458.2" cy="1294.5" r="6.2" fill="#000"/>
<circle cx="458.2" cy="1307" r="6.2" fill="#000"/>
<circle cx="458.2" cy="1310.2" r="6.2" fill="#000"/>
<circle cx="458.2" cy="1313.3" r="6.2" fill="#000"/>
<circle cx="458.2" cy="1316.5" r="6.2" fill="#000"/>
<circle cx="458.2" cy="1319.6" r="6.2" fill="#000"/>
<circle cx="458.2" cy="1322.8" r="6.2" fill="#000"/>
<circle cx="458.2" cy="1325.9" r="6.2" fill="#000"/>
<circle cx="458.2" cy="1329.1" r="6.2" fill="#000"/>
<circle cx="458.2" cy="1332.2" r="6.2" fill="#000"/>
<circle cx="458.2" cy="1335.4" r="6.2" fill="#000"/>
<circle cx="458.2" cy="1338.5" r="6.2" fill="#000"/>
<circle cx="458.2" cy="1341.7" r="6.2" fill="#000"/>
<circle cx="458.2" cy="1344.8" r="6.2" fill="#000"/>
<circle cx="458.2" cy="1348" r="6.2" fill="#000"/>
<circle cx="458.2" cy="1351.2" r="6.2" fill="#000"/>
<circle cx="458.2" cy="1354.3" r="6.2" fill="#000"/>
<circle cx="458.2" cy="1357.5" r="6.2" fill="#000"/>
<circle cx="458.2" cy="1360.6" r="6.2" fill="#000"/>
<circle cx="458.2" cy="1363.8" r="6.2" fill="#000"/>
<circle cx="458.2" cy="1366.9" r="6.2" fill="#000"/>
<circle cx="458.2" cy="1370.1" r="6.2" fill="#000"/>
<circle cx="458.2" cy="1373.2" r="6.2" fill="#000"/>
<circle cx="458.2" cy="1376.4" r="6.2" fill="#000"/>
<circle cx="458.2" cy="1379.5" r="6.2" fill="#000"/>
<circle cx="458.2" cy="1382.7" r="6.2" fill="#000"/>
<circle cx="458.2" cy="1385.8" r="6.2" fill="#000"/>
<circle cx="458.2" cy="1389" r="6.2" fill="#000"/>
<circle cx="458.2" cy="1392.2" r="6.2" fill="#000"/>
<circle cx="458.2" cy="1395.3" r="6.2" fill="#000"/>
<circle cx="458.2" cy="1398.5" r="6.2" fill="#000"/>
<circle cx="458.2" cy="1401.6" r="6.2" fill="#000"/>
<circle cx="458.2" cy="1404.8" r="6.2" fill="#000"/>
<circle cx="458.2" cy="1407.9" r="6.2" fill="#000"/>
<circle cx="458.2" cy="1411.1" r="6.2" fill="#000"/>
<circle cx="458.2" cy="1414.2" r="6.2" fill="#000"/>
<circle cx="458.2" cy="1417.4" r="6.2" fill="#000"/>
<circle cx="458.2" cy="1420.5" r="6.2" fill="#000"/>
<circle cx="458.2" cy="1423.7" r="6.2" fill="#000"/>
<circle cx="458.2" cy="1426.8" r="6.2" fill="#000"/>
<circle cx="458.2" cy="1430" r="6.2" fill="#000"/>
<rect x="456.2" y="1556" width="4" height="6" fill="#000"/>
<text transform="translate(458.2 1574) rotate(-45)" font-size="28" text-anchor="end" fill="#111" dy="0.72em">T_cell</text>
<path d="M578.4 1123.6 V1339 M578.4 1495 V1517" stroke="#000" stroke-width="4.4"/>
<rect x="536.4" y="1339" width="84" height="156" fill="#F4CDAF" stroke="#000" stroke-width="4.8"/>
<rect x="536.4" y="1415.9" width="84" height="8.8" fill="#000"/>
<circle cx="578.4" cy="1080.8" r="6.2" fill="#000"/>
<circle cx="578.4" cy="1095" r="6.2" fill="#000"/>
<circle cx="578.4" cy="1119" r="6.2" fill="#000"/>
<rect x="576.4" y="1556" width="4" height="6" fill="#000"/>
<text transform="translate(578.4 1574) rotate(-45)" font-size="28" text-anchor="end" fill="#111" dy="0.72em">Plasma</text>
<path d="M698.5 1439 V1439.5 M698.5 1471.5 V1517" stroke="#000" stroke-width="4.4"/>
<rect x="656.5" y="1439.5" width="84" height="32" fill="#F5CCE0" stroke="#000" stroke-width="4.8"/>
<rect x="656.5" y="1453.3" width="84" height="8.8" fill="#000"/>
<circle cx="698.5" cy="1208.2" r="6.2" fill="#000"/>
<circle cx="698.5" cy="1256" r="6.2" fill="#000"/>
<circle cx="698.5" cy="1265" r="6.2" fill="#000"/>
<circle cx="698.5" cy="1270" r="6.2" fill="#000"/>
<circle cx="698.5" cy="1275" r="6.2" fill="#000"/>
<circle cx="698.5" cy="1279" r="6.2" fill="#000"/>
<circle cx="698.5" cy="1284" r="6.2" fill="#000"/>
<circle cx="698.5" cy="1289" r="6.2" fill="#000"/>
<circle cx="698.5" cy="1293" r="6.2" fill="#000"/>
<circle cx="698.5" cy="1297" r="6.2" fill="#000"/>
<circle cx="698.5" cy="1301" r="6.2" fill="#000"/>
<circle cx="698.5" cy="1304.9" r="6.2" fill="#000"/>
<circle cx="698.5" cy="1308.7" r="6.2" fill="#000"/>
<circle cx="698.5" cy="1312.6" r="6.2" fill="#000"/>
<circle cx="698.5" cy="1316.4" r="6.2" fill="#000"/>
<circle cx="698.5" cy="1320.3" r="6.2" fill="#000"/>
<circle cx="698.5" cy="1324.1" r="6.2" fill="#000"/>
<circle cx="698.5" cy="1328" r="6.2" fill="#000"/>
<circle cx="698.5" cy="1331.9" r="6.2" fill="#000"/>
<circle cx="698.5" cy="1335.7" r="6.2" fill="#000"/>
<circle cx="698.5" cy="1339.6" r="6.2" fill="#000"/>
<circle cx="698.5" cy="1343.4" r="6.2" fill="#000"/>
<circle cx="698.5" cy="1347.3" r="6.2" fill="#000"/>
<circle cx="698.5" cy="1351.1" r="6.2" fill="#000"/>
<circle cx="698.5" cy="1355" r="6.2" fill="#000"/>
<circle cx="698.5" cy="1358.9" r="6.2" fill="#000"/>
<circle cx="698.5" cy="1362.7" r="6.2" fill="#000"/>
<circle cx="698.5" cy="1366.6" r="6.2" fill="#000"/>
<circle cx="698.5" cy="1370.4" r="6.2" fill="#000"/>
<circle cx="698.5" cy="1374.3" r="6.2" fill="#000"/>
<circle cx="698.5" cy="1378.1" r="6.2" fill="#000"/>
<circle cx="698.5" cy="1382" r="6.2" fill="#000"/>
<circle cx="698.5" cy="1391" r="6.2" fill="#000"/>
<circle cx="698.5" cy="1395" r="6.2" fill="#000"/>
<circle cx="698.5" cy="1399" r="6.2" fill="#000"/>
<circle cx="698.5" cy="1403" r="6.2" fill="#000"/>
<circle cx="698.5" cy="1407" r="6.2" fill="#000"/>
<circle cx="698.5" cy="1411" r="6.2" fill="#000"/>
<circle cx="698.5" cy="1415" r="6.2" fill="#000"/>
<circle cx="698.5" cy="1419" r="6.2" fill="#000"/>
<circle cx="698.5" cy="1423" r="6.2" fill="#000"/>
<circle cx="698.5" cy="1427" r="6.2" fill="#000"/>
<circle cx="698.5" cy="1431" r="6.2" fill="#000"/>
<circle cx="698.5" cy="1435" r="6.2" fill="#000"/>
<circle cx="698.5" cy="1439" r="6.2" fill="#000"/>
<rect x="696.5" y="1556" width="4" height="6" fill="#000"/>
<text transform="translate(698.5 1574) rotate(-45)" font-size="28" text-anchor="end" fill="#111" dy="0.72em">B_cell</text>
<path d="M818.6 994 V1229.1 M818.6 1422.5 V1511.5" stroke="#000" stroke-width="4.4"/>
<rect x="776.6" y="1229.1" width="84" height="193.4" fill="#EB7E75" stroke="#000" stroke-width="4.8"/>
<rect x="776.6" y="1306" width="84" height="8.8" fill="#000"/>
<rect x="816.6" y="1556" width="4" height="6" fill="#000"/>
<text transform="translate(818.6 1574) rotate(-45)" font-size="28" text-anchor="end" fill="#111" dy="0.72em">Endothelial</text>
<path d="M938.8 1443.6 V1467.4 M938.8 1492.6 V1522.3" stroke="#000" stroke-width="4.4"/>
<rect x="896.8" y="1467.4" width="84" height="25.2" fill="#AEA6D6" stroke="#000" stroke-width="4.8"/>
<rect x="896.8" y="1476.3" width="84" height="8.8" fill="#000"/>
<circle cx="938.8" cy="1047.5" r="6.2" fill="#000"/>
<circle cx="938.8" cy="1209" r="6.2" fill="#000"/>
<circle cx="938.8" cy="1215" r="6.2" fill="#000"/>
<circle cx="938.8" cy="1222" r="6.2" fill="#000"/>
<circle cx="938.8" cy="1231" r="6.2" fill="#000"/>
<circle cx="938.8" cy="1249" r="6.2" fill="#000"/>
<circle cx="938.8" cy="1255" r="6.2" fill="#000"/>
<circle cx="938.8" cy="1261" r="6.2" fill="#000"/>
<circle cx="938.8" cy="1277" r="6.2" fill="#000"/>
<circle cx="938.8" cy="1305.6" r="6.2" fill="#000"/>
<circle cx="938.8" cy="1312" r="6.2" fill="#000"/>
<circle cx="938.8" cy="1319" r="6.2" fill="#000"/>
<circle cx="938.8" cy="1333.8" r="6.2" fill="#000"/>
<circle cx="938.8" cy="1351.6" r="6.2" fill="#000"/>
<circle cx="938.8" cy="1359" r="6.2" fill="#000"/>
<circle cx="938.8" cy="1374" r="6.2" fill="#000"/>
<circle cx="938.8" cy="1409.5" r="6.2" fill="#000"/>
<circle cx="938.8" cy="1431.8" r="6.2" fill="#000"/>
<rect x="936.8" y="1556" width="4" height="6" fill="#000"/>
<text transform="translate(938.8 1574) rotate(-45)" font-size="28" text-anchor="end" fill="#111" dy="0.72em">Mast</text>
<path d="M1059 1201.8 V1295.3 M1059 1478.3 V1520.8" stroke="#000" stroke-width="4.4"/>
<rect x="1017" y="1295.3" width="84" height="183" fill="#EEAAC4" stroke="#000" stroke-width="4.8"/>
<rect x="1017" y="1408.1" width="84" height="8.8" fill="#000"/>
<rect x="1057" y="1556" width="4" height="6" fill="#000"/>
<text transform="translate(1059 1574) rotate(-45)" font-size="28" text-anchor="end" fill="#111" dy="0.72em">Macrophage</text>
<text transform="translate(52.6 1813.3) scale(1.04 1)" font-size="58.5" fill="#000" class="pl">D</text>
<path d="M222.3 1751.3 H620.5 V2633 H222.3 Z" stroke="#111" stroke-width="2.4" fill="none"/>
<path d="M222.3 1749 V2633.5 H620.5" stroke="#111" stroke-width="5" fill="none"/>
<rect x="216" y="2590.5" width="5" height="3" fill="#333"/>
<text x="206" y="2604" font-size="23.5" text-anchor="end" fill="#111">0.00</text>
<rect x="216" y="2390.3" width="5" height="3" fill="#333"/>
<text x="206" y="2403.8" font-size="23.5" text-anchor="end" fill="#111">0.25</text>
<rect x="216" y="2190.2" width="5" height="3" fill="#333"/>
<text x="206" y="2203.7" font-size="23.5" text-anchor="end" fill="#111">0.50</text>
<rect x="216" y="1990" width="5" height="3" fill="#333"/>
<text x="206" y="2003.5" font-size="23.5" text-anchor="end" fill="#111">0.75</text>
<rect x="216" y="1789.8" width="5" height="3" fill="#333"/>
<text x="206" y="1803.3" font-size="23.5" text-anchor="end" fill="#111">1.00</text>
<text transform="translate(122 2181) rotate(-90)" font-size="33" text-anchor="middle" fill="#111">Ratio</text>
<rect x="268" y="1791.3" width="125.4" height="96.9" fill="#ECECAA" stroke="#222" stroke-width="5"/>
<rect x="268" y="1888.2" width="125.4" height="9.9" fill="#96C3C8" stroke="#222" stroke-width="5"/>
<rect x="268" y="1898.1" width="125.4" height="239.4" fill="#C5DEAD" stroke="#222" stroke-width="5"/>
<rect x="268" y="2137.5" width="125.4" height="50.1" fill="#F2CDB2" stroke="#222" stroke-width="5"/>
<rect x="268" y="2187.6" width="125.4" height="85.1" fill="#F2CDDC" stroke="#222" stroke-width="5"/>
<rect x="268" y="2272.8" width="125.4" height="7.4" fill="#E8786E" stroke="#222" stroke-width="5"/>
<rect x="268" y="2280.2" width="125.4" height="41.2" fill="#AFA5D2" stroke="#222" stroke-width="5"/>
<rect x="268" y="2321.4" width="125.4" height="270.6" fill="#EFAAC3" stroke="#222" stroke-width="5"/>
<rect x="329.2" y="2633" width="3" height="5" fill="#333"/>
<rect x="450.4" y="1791.3" width="124.4" height="77.2" fill="#ECECAA" stroke="#222" stroke-width="5"/>
<rect x="450.4" y="1868.5" width="124.4" height="26.3" fill="#96C3C8" stroke="#222" stroke-width="5"/>
<rect x="450.4" y="1894.8" width="124.4" height="322.6" fill="#C5DEAD" stroke="#222" stroke-width="5"/>
<rect x="450.4" y="2217.4" width="124.4" height="27.1" fill="#F2CDB2" stroke="#222" stroke-width="5"/>
<rect x="450.4" y="2244.5" width="124.4" height="40.5" fill="#F2CDDC" stroke="#222" stroke-width="5"/>
<rect x="450.4" y="2285" width="124.4" height="3" fill="#E8786E" stroke="#222" stroke-width="5"/>
<rect x="450.4" y="2288.1" width="124.4" height="73.7" fill="#AFA5D2" stroke="#222" stroke-width="5"/>
<rect x="450.4" y="2361.7" width="124.4" height="230.3" fill="#EFAAC3" stroke="#222" stroke-width="5"/>
<rect x="511.1" y="2633" width="3" height="5" fill="#333"/>
<text x="331.2" y="2672.5" font-size="33.4" text-anchor="middle" fill="#111">Normal</text>
<text x="515" y="2672.5" font-size="33.2" text-anchor="middle" fill="#111">Tumor</text>
<text x="657.9" y="2038.5" font-size="28.1" text-anchor="start" fill="#111">Celltype</text>
<rect x="662" y="2055.7" width="36.8" height="36.5" fill="#ECECAA" stroke="#222" stroke-width="5"/>
<text x="710.5" y="2081.5" font-size="28.2" text-anchor="start" fill="#111">B_cell</text>
<rect x="662" y="2094.6" width="36.8" height="36.5" fill="#96C3C8" stroke="#222" stroke-width="5"/>
<text x="710.5" y="2120.4" font-size="28.2" text-anchor="start" fill="#111">Endothelial</text>
<rect x="662" y="2133.5" width="36.8" height="36.5" fill="#C5DEAD" stroke="#222" stroke-width="5"/>
<text x="710.5" y="2159.3" font-size="28.2" text-anchor="start" fill="#111">Epithelial</text>
<rect x="662" y="2172.4" width="36.8" height="36.5" fill="#F2CDB2" stroke="#222" stroke-width="5"/>
<text x="710.5" y="2198.2" font-size="28.2" text-anchor="start" fill="#111">Fibroblasts</text>
<rect x="662" y="2211.3" width="36.8" height="36.5" fill="#F2CDDC" stroke="#222" stroke-width="5"/>
<text x="710.5" y="2237.1" font-size="28.2" text-anchor="start" fill="#111">Macrophage</text>
<rect x="662" y="2250.2" width="36.8" height="36.5" fill="#E8786E" stroke="#222" stroke-width="5"/>
<text x="710.5" y="2276" font-size="28.2" text-anchor="start" fill="#111">Mast</text>
<rect x="662" y="2289.1" width="36.8" height="36.5" fill="#AFA5D2" stroke="#222" stroke-width="5"/>
<text x="710.5" y="2314.9" font-size="28.2" text-anchor="start" fill="#111">Plasma</text>
<rect x="662" y="2328" width="36.8" height="36.5" fill="#EFAAC3" stroke="#222" stroke-width="5"/>
<text x="710.5" y="2353.8" font-size="28.2" text-anchor="start" fill="#111">T_cell</text>
<text transform="translate(880 1811.7) scale(0.74 1)" font-size="60" fill="#000" class="pl">E</text>
<text transform="translate(943.8 2255.4) rotate(-90)" font-size="37" text-anchor="middle" fill="#111">CRC1</text>
<defs>
<linearGradient id="spec"><stop offset="0" stop-color="#5E4FA2"/><stop offset="0.1" stop-color="#3288BD"/><stop offset="0.2" stop-color="#66C2A5"/><stop offset="0.3" stop-color="#ABDDA4"/><stop offset="0.4" stop-color="#E6F598"/><stop offset="0.5" stop-color="#FFFFBF"/><stop offset="0.6" stop-color="#FEE08B"/><stop offset="0.7" stop-color="#FDAE61"/><stop offset="0.8" stop-color="#F46D43"/><stop offset="0.9" stop-color="#D53E4F"/><stop offset="1" stop-color="#9E0142"/></linearGradient>
<linearGradient id="spec2"><stop offset="0" stop-color="#5E4FA2"/><stop offset="0.1" stop-color="#3288BD"/><stop offset="0.2" stop-color="#66C2A5"/><stop offset="0.4" stop-color="#ABDDA4"/><stop offset="0.5" stop-color="#E6F598"/><stop offset="0.6" stop-color="#FFFFBF"/><stop offset="0.8" stop-color="#FEE08B"/><stop offset="0.9" stop-color="#FDAE61"/><stop offset="1" stop-color="#F46D43"/></linearGradient>
<pattern id="spots" x="12.9" y="22" width="4.4" height="8.9" patternUnits="userSpaceOnUse"><path fill-rule="evenodd" fill="#24182a" fill-opacity="0.64" d="M0 0h4.4v8.9h-4.4zM2.2 0.72a1.5 1.5 0 1 0 0.01 0z M2.2 5.17a1.5 1.5 0 1 0 0.01 0z"/><rect y="8.1" width="4.4" height="0.8" fill="#000" fill-opacity="0.5"/></pattern>
<pattern id="purp" width="7" height="9" patternUnits="userSpaceOnUse"><rect width="7" height="9" fill="#B97CC2"/><circle cx="2" cy="2" r="1.6" fill="#94529F"/><circle cx="5.5" cy="6" r="1.4" fill="#D9A8DC"/><circle cx="1.5" cy="7" r="1" fill="#9C5AA8"/><circle cx="5" cy="1.5" r="0.9" fill="#E6C6E8"/></pattern>
</defs>
<text x="989.6" y="1795" font-size="23.6" text-anchor="start" fill="#222">B_cell</text>
<rect x="1080.8" y="1753.6" width="189.9" height="37.2" fill="url(#spec)"/>
<path d="M1093.7 1753.6 v7 M1093.7 1783.8 v7" stroke="#fff" stroke-width="1.3" stroke-opacity="0.8"/>
<text x="1093.7" y="1815.5" font-size="20.4" text-anchor="middle" fill="#222" letter-spacing="-0.6">−0.25</text>
<path d="M1135.5 1753.6 v7 M1135.5 1783.8 v7" stroke="#fff" stroke-width="1.3" stroke-opacity="0.8"/>
<text x="1135.5" y="1815.5" font-size="20.4" text-anchor="middle" fill="#222" letter-spacing="-0.6">0.00</text>
<path d="M1177.2 1753.6 v7 M1177.2 1783.8 v7" stroke="#fff" stroke-width="1.3" stroke-opacity="0.8"/>
<text x="1177.2" y="1815.5" font-size="20.4" text-anchor="middle" fill="#222" letter-spacing="-0.6">0.25</text>
<path d="M1218.9 1753.6 v7 M1218.9 1783.8 v7" stroke="#fff" stroke-width="1.3" stroke-opacity="0.8"/>
<text x="1218.9" y="1815.5" font-size="20.4" text-anchor="middle" fill="#222" letter-spacing="-0.6">0.50</text>
<path d="M1260.7 1753.6 v7 M1260.7 1783.8 v7" stroke="#fff" stroke-width="1.3" stroke-opacity="0.8"/>
<text x="1260.7" y="1815.5" font-size="20.4" text-anchor="middle" fill="#222" letter-spacing="-0.6">0.75</text>
<g transform="translate(958.9 1854.9)">
<rect x="0" y="0" width="342" height="328" fill="#EFEFF1"/>
<path d="M0 24 L13.5 26 L14 305 L0 307 Z" fill="url(#purp)"/>
<path d="M327 22 L341 20 L341 300 L327 299 Z" fill="url(#purp)"/>
<g transform="translate(12.9 22) scale(4.4 4.45)" fill="none" stroke-width="1">
<path stroke="#5e4fa2" d="M23 2.5h1M18 4.5h1M12 6.5h1M10 7.5h1m0 0h1M9 8.5h1m1 0h1m33 0h1M11 11.5h1M8 12.5h1m0 0h1m9 0h1m18 0h1M2 14.5h1m18 0h1m6 0h1M10 16.5h1m2 0h1m0 0h1M8 17.5h1m7 0h1m0 0h1m8 0h1M5 18.5h1M12 19.5h1m6 0h1M7 20.5h1m1 0h1m1 0h1m4 0h1M3 21.5h1M8 22.5h1m2 0h1M9 23.5h1M7 24.5h1m1 0h1m6 0h1m1 0h1M17 26.5h1M4 27.5h1m4 0h1m1 0h1m0 0h1M12 28.5h1M10 29.5h1m4 0h1M11 30.5h1M10 32.5h1m7 0h1M7 40.5h1M7 41.5h1M16 43.5h1M3 45.5h1M2 46.5h1M3 47.5h1m1 0h1M17 57.5h1m0 0h1m1 0h1M10 58.5h1M22 59.5h1m0 0h1M25 60.5h1M7 61.5h1m0 0h1m16 0h1M12 62.5h1M9 63.5h1m0 0h1m0 0h1"/>
<path stroke="#535da9" d="M12 0.5h1M14 1.5h1M10 6.5h1m10 0h1M22 9.5h1M54 10.5h1M33 11.5h1M32 12.5h1M10 13.5h1M11 14.5h1m1 0h1M10 17.5h1M16 19.5h1M5 21.5h1M17 22.5h1M10 23.5h1M1 24.5h1M9 25.5h1m8 0h1M20 26.5h1M10 27.5h1m10 0h1M9 33.5h1M11 34.5h1m5 0h1M7 39.5h1m0 0h1M0 41.5h1m10 0h1M20 43.5h1M6 46.5h1M15 47.5h1M1 53.5h1M13 56.5h1m0 0h1M11 57.5h1M15 60.5h1M6 61.5h1m12 0h1M16 63.5h1m15 0h1"/>
<path stroke="#486cb0" d="M9 1.5h1M0 2.5h1M9 4.5h1M9 5.5h1M11 6.5h1m31 0h1M3 7.5h1M14 8.5h1M16 9.5h1M13 10.5h1M37 11.5h1M30 12.5h1M36 14.5h1M6 15.5h1m0 0h1M11 18.5h1m15 0h1M12 20.5h1m1 0h1M11 21.5h1M7 22.5h1M5 23.5h1m10 0h1M14 25.5h1M3 26.5h1m0 0h1M21 30.5h1M11 32.5h1M16 33.5h1M9 34.5h1M3 37.5h1m23 0h1M2 38.5h1M6 39.5h1M18 40.5h1M18 42.5h1M2 44.5h1M4 47.5h1m11 0h1m4 0h1M8 48.5h1m0 0h1M4 49.5h1M6 51.5h1M0 54.5h1m18 0h1M13 55.5h1M16 56.5h1M0 58.5h1m25 0h1M10 59.5h1m6 0h1m3 0h1m5 0h1M22 60.5h1m0 0h1M18 61.5h1m5 0h1M31 62.5h1M15 63.5h1m6 0h1M9 64.5h1m6 0h1"/>
<path stroke="#3d7ab6" d="M10 1.5h1M26 4.5h1M9 7.5h1M46 8.5h1M19 9.5h1M5 10.5h1M2 11.5h1m3 0h1m0 0h1m10 0h1m12 0h1M28 12.5h1M12 14.5h1m19 0h1m5 0h1M14 15.5h1m7 0h1M17 16.5h1M15 17.5h1m5 0h1M13 19.5h1m4 0h1M15 21.5h1M3 22.5h1M7 23.5h1M23 24.5h1M8 25.5h1m3 0h1m3 0h1m10 0h1m19 0h1M2 26.5h1m5 0h1M14 28.5h1M9 30.5h1M37 35.5h1M10 36.5h1M4 37.5h1M2 40.5h1M9 41.5h1m0 0h1M0 43.5h1m0 0h1m17 0h1M0 45.5h1m5 0h1M5 46.5h1M24 48.5h1M26 50.5h1M11 52.5h1M8 53.5h1m17 0h1M23 54.5h1M3 55.5h1m21 0h1M10 57.5h1M18 58.5h1m0 0h1m0 0h1M3 59.5h1m5 0h1m5 0h1M11 61.5h1m11 0h1M24 62.5h1M2 63.5h1m25 0h1M10 64.5h1m4 0h1m14 0h1"/>
<path stroke="#3288bd" d="M6 1.5h1m5 0h1M8 2.5h1m34 0h1M18 3.5h1m1 0h1M20 4.5h1M1 5.5h1m14 0h1m2 0h1m11 0h1M45 6.5h1m0 0h1M4 7.5h1m17 0h1M3 8.5h1m6 0h1m14 0h1M18 9.5h1M10 10.5h1m1 0h1m7 0h1m7 0h1M24 11.5h1M26 12.5h1M8 13.5h1m3 0h1M0 14.5h1m3 0h1m1 0h1m20 0h1m9 0h1M0 15.5h1m11 0h1M5 16.5h1m13 0h1m3 0h1M14 17.5h1m5 0h1M4 18.5h1m12 0h1m3 0h1m12 0h1M5 19.5h1m1 0h1m6 0h1m19 0h1M15 20.5h1M6 21.5h1M5 22.5h1m6 0h1M21 23.5h1M10 24.5h1m6 0h1m10 0h1M7 25.5h1m42 0h1M21 26.5h1M5 27.5h1M4 28.5h1m4 0h1m0 0h1M11 29.5h1m0 0h1m0 0h1m7 0h1M1 30.5h1M8 31.5h1m0 0h1M14 32.5h1M5 33.5h1m9 0h1M4 36.5h1m3 0h1M9 37.5h1m53 0h1M4 38.5h1m13 0h1m10 0h1M9 39.5h1M6 40.5h1m15 0h1M14 44.5h1M1 45.5h1m3 0h1M10 50.5h1M13 53.5h1M13 59.5h1m2 0h1M10 60.5h1m5 0h1M6 62.5h1m14 0h1m3 0h1M17 63.5h1m3 0h1M23 64.5h1"/>
<path stroke="#3f96b7" d="M11 2.5h1m0 0h1m1 0h1M36 3.5h1M8 4.5h1m10 0h1m16 0h1M11 5.5h1m25 0h1M20 6.5h1m2 0h1m10 0h1M20 7.5h1m8 0h1m4 0h1m10 0h1M44 9.5h1M18 10.5h1m5 0h1m7 0h1m35 0h1M19 11.5h1M6 12.5h1M5 13.5h1m0 0h1m6 0h1m1 0h1M1 14.5h1m1 0h1m3 0h1M8 15.5h1m2 0h1m8 0h1M18 17.5h1M3 18.5h1m6 0h1m5 0h1M10 19.5h1M8 20.5h1M14 21.5h1m13 0h1M13 22.5h1M3 24.5h1m0 0h1m8 0h1M2 25.5h1m7 0h1M0 26.5h1m15 0h1m18 0h1M7 27.5h1m5 0h1m13 0h1M3 28.5h1M24 30.5h1M7 31.5h1m12 0h1M12 32.5h1M38 34.5h1M11 35.5h1M3 36.5h1m5 0h1m4 0h1M11 37.5h1m16 0h1M16 39.5h1M15 40.5h1m3 0h1M3 42.5h1m5 0h1M11 43.5h1M9 44.5h1m8 0h1M4 45.5h1m16 0h1M17 46.5h1M17 47.5h1m0 0h1M21 48.5h1M7 50.5h1M16 51.5h1m2 0h1M8 52.5h1M0 53.5h1m8 0h1M13 54.5h1m3 0h1M5 55.5h1m15 0h1M0 56.5h1m8 0h1m0 0h1M30 57.5h1M23 58.5h1M0 59.5h1m17 0h1m1 0h1m3 0h1M6 60.5h1m12 0h1m0 0h1m3 0h1m5 0h1M26 61.5h1M7 63.5h1m5 0h1M14 64.5h1m3 0h1m1 0h1"/>
<path stroke="#4ca5b1" d="M43 0.5h1M13 1.5h1M4 2.5h1m5 0h1m2 0h1M1 3.5h1m14 0h1m16 0h1M14 4.5h1M2 5.5h1m9 0h1m33 0h1M30 6.5h1M13 7.5h1m12 0h1m0 0h1M22 8.5h1m24 0h1M14 9.5h1m18 0h1M14 10.5h1M3 11.5h1m10 0h1M7 12.5h1m12 0h1m6 0h1M4 13.5h1m16 0h1m6 0h1M29 14.5h1M26 15.5h1M21 16.5h1m3 0h1m1 0h1M6 17.5h1M12 18.5h1m7 0h1m2 0h1M15 19.5h1m4 0h1m4 0h1M1 20.5h1m1 0h1m16 0h1M9 21.5h1m11 0h1M6 22.5h1m3 0h1m4 0h1m16 0h1M8 23.5h1m3 0h1m9 0h1m4 0h1M15 24.5h1m3 0h1m9 0h1M5 26.5h1m6 0h1M14 27.5h1m0 0h1M20 28.5h1m7 0h1M2 29.5h1m6 0h1M18 30.5h1M12 33.5h1m11 0h1m12 0h1M19 34.5h1M1 35.5h1m1 0h1m5 0h1M11 36.5h1M20 37.5h1m5 0h1M28 38.5h1M2 39.5h1m9 0h1m0 0h1m6 0h1M13 40.5h1m0 0h1M1 42.5h1m0 0h1m14 0h1M2 43.5h1m59 0h1M8 45.5h1m0 0h1m6 0h1M9 46.5h1m1 0h1M6 47.5h1m0 0h1M15 48.5h1m14 0h1M10 49.5h1m10 0h1m1 0h1M8 50.5h1m58 0h1M0 51.5h1m0 0h1M11 53.5h1M2 54.5h1m9 0h1m5 0h1m35 0h1M6 55.5h1M1 56.5h1m0 0h1m5 0h1m2 0h1m12 0h1M15 57.5h1M24 58.5h1M11 59.5h1m14 0h1M21 60.5h1m9 0h1M20 61.5h1M7 62.5h1m1 0h1m12 0h1m0 0h1M19 63.5h1m4 0h1m4 0h1m0 0h1"/>
<path stroke="#59b4ab" d="M33 1.5h1m10 0h1M47 2.5h1M0 3.5h1m14 0h1m13 0h1m15 0h1M12 4.5h1m3 0h1m13 0h1m18 0h1M0 5.5h1M0 6.5h1m13 0h1m21 0h1M18 7.5h1m2 0h1m20 0h1m3 0h1m11 0h1M4 8.5h1m10 0h1m7 0h1m9 0h1m10 0h1M2 9.5h1m6 0h1m2 0h1m22 0h1M8 10.5h1m2 0h1m5 0h1m1 0h1m1 0h1m13 0h1M4 11.5h1m15 0h1m0 0h1m12 0h1m0 0h1m0 0h1m6 0h1M11 12.5h1m50 0h1M31 13.5h1M8 14.5h1m7 0h1m2 0h1m10 0h1M4 15.5h1m5 0h1m4 0h1m0 0h1m2 0h1m11 0h1m30 0h1M15 16.5h1m6 0h1M13 17.5h1m17 0h1M14 18.5h1m3 0h1m5 0h1M9 19.5h1M5 20.5h1m0 0h1m11 0h1m14 0h1M26 21.5h1M0 22.5h1m3 0h1m4 0h1m15 0h1m8 0h1M6 23.5h1m52 0h1m3 0h1M12 24.5h1m1 0h1M19 25.5h1M15 26.5h1m6 0h1m0 0h1M3 27.5h1m12 0h1M7 28.5h1m0 0h1m2 0h1m5 0h1M4 29.5h1m0 0h1m2 0h1M7 30.5h1m15 0h1m2 0h1M8 32.5h1m16 0h1M1 33.5h1m15 0h1M0 34.5h1m22 0h1M0 35.5h1M5 36.5h1M10 37.5h1m4 0h1M19 38.5h1m4 0h1M11 39.5h1m11 0h1M12 40.5h1m7 0h1m49 0h1M2 41.5h1m1 0h1m22 0h1M0 42.5h1M18 43.5h1M0 44.5h1M3 46.5h1M0 47.5h1m19 0h1M5 48.5h1m12 0h1m8 0h1M7 49.5h1m11 0h1M1 50.5h1M3 51.5h1m13 0h1M19 53.5h1M21 54.5h1m10 0h1M0 55.5h1m22 0h1m6 0h1m20 0h1M7 56.5h1m7 0h1m2 0h1M1 57.5h1m5 0h1m11 0h1m3 0h1m0 0h1m0 0h1m2 0h1M2 58.5h1m6 0h1M2 59.5h1m2 0h1m27 0h1M2 60.5h1m8 0h1m15 0h1M14 61.5h1m7 0h1M1 62.5h1m25 0h1M1 63.5h1m21 0h1"/>
<path stroke="#66c2a5" d="M31 1.5h1M6 2.5h1m19 0h1m15 0h1M6 3.5h1m5 0h1m1 0h1m4 0h1m8 0h1M10 4.5h1m22 0h1M7 5.5h1m6 0h1m17 0h1M3 6.5h1m0 0h1m28 0h1m8 0h1m4 0h1M5 7.5h1m11 0h1m5 0h1m4 0h1m11 0h1m2 0h1M24 8.5h1m18 0h1M20 9.5h1M1 10.5h1m4 0h1m9 0h1M8 11.5h1m0 0h1m0 0h1m14 0h1m4 0h1M1 12.5h1m0 0h1m2 0h1m6 0h1m8 0h1m3 0h1M14 13.5h1m1 0h1m5 0h1m9 0h1M9 14.5h1m0 0h1M1 15.5h1m1 0h1m1 0h1m15 0h1m6 0h1m0 0h1m5 0h1M6 16.5h1m54 0h1M12 17.5h1m9 0h1m9 0h1m0 0h1M15 18.5h1m3 0h1m6 0h1m4 0h1m0 0h1M3 19.5h1m18 0h1m24 0h1M13 20.5h1M16 21.5h1m2 0h1m14 0h1M2 22.5h1m13 0h1m2 0h1m0 0h1m0 0h1m1 0h1m3 0h1M0 23.5h1m3 0h1m15 0h1M6 24.5h1m13 0h1m6 0h1m15 0h1M1 25.5h1m1 0h1m0 0h1m0 0h1m7 0h1m7 0h1m10 0h1M1 26.5h1m5 0h1m1 0h1m9 0h1M8 27.5h1m9 0h1m3 0h1M5 28.5h1M14 29.5h1m8 0h1M25 30.5h1M1 31.5h1m0 0h1m3 0h1m3 0h1m0 0h1m1 0h1m8 0h1m1 0h1M20 32.5h1M4 33.5h1m6 0h1M18 34.5h1M5 35.5h1m17 0h1m1 0h1m10 0h1m10 0h1M6 36.5h1m8 0h1m11 0h1M2 37.5h1M3 38.5h1m1 0h1m5 0h1m1 0h1m29 0h1M0 39.5h1m13 0h1M3 40.5h1m7 0h1M23 42.5h1M17 43.5h1M6 44.5h1m5 0h1M17 45.5h1m0 0h1m1 0h1m3 0h1m44 0h1M1 46.5h1m13 0h1M1 47.5h1M10 48.5h1m14 0h1M18 49.5h1m11 0h1M3 50.5h1m5 0h1m14 0h1M14 51.5h1m3 0h1M4 52.5h1m9 0h1m1 0h1m2 0h1m0 0h1M5 53.5h1m11 0h1m0 0h1m1 0h1M3 54.5h1m16 0h1M1 55.5h1m12 0h1M54 56.5h1M16 57.5h1M30 58.5h1m2 0h1m6 0h1M28 59.5h1m40 0h1M28 60.5h1m0 0h1m3 0h1M9 61.5h1m19 0h1M2 62.5h1m5 0h1m5 0h1m0 0h1m1 0h1m10 0h1M25 63.5h1m5 0h1M3 64.5h1m9 0h1m3 0h1"/>
<path stroke="#77c9a5" d="M29 1.5h1M7 2.5h1m26 0h1m11 0h1M11 3.5h1m5 0h1m6 0h1m6 0h1m5 0h1M15 4.5h1m9 0h1m6 0h1m12 0h1M10 5.5h1m2 0h1m3 0h1m2 0h1m4 0h1m19 0h1M25 6.5h1M2 7.5h1m13 0h1m7 0h1m5 0h1m18 0h1M7 8.5h1m13 0h1m4 0h1M5 9.5h1m5 0h1m13 0h1m10 0h1m1 0h1M7 10.5h1m35 0h1M13 11.5h1m8 0h1m0 0h1m5 0h1M0 12.5h1m17 0h1m10 0h1m7 0h1m2 0h1M1 13.5h1m0 0h1m0 0h1m14 0h1m0 0h1m5 0h1m4 0h1M18 14.5h1m16 0h1M9 15.5h1m7 0h1m5 0h1M11 16.5h1m16 0h1m0 0h1m1 0h1M3 17.5h1m0 0h1m4 0h1m9 0h1m3 0h1m5 0h1m6 0h1m29 0h1M7 18.5h1m0 0h1m0 0h1m3 0h1m16 0h1m7 0h1m12 0h1M8 19.5h1m2 0h1m20 0h1M19 20.5h1m4 0h1M1 21.5h1m0 0h1m1 0h1m2 0h1m4 0h1M22 22.5h1m1 0h1m1 0h1m37 0h1M3 23.5h1m7 0h1M2 24.5h1m5 0h1m2 0h1m37 0h1m0 0h1m3 0h1m7 0h1M11 25.5h1m8 0h1m7 0h1m24 0h1M13 26.5h1m14 0h1m17 0h1M19 27.5h1m4 0h1m10 0h1m3 0h1M13 28.5h1m4 0h1m2 0h1m1 0h1m11 0h1m12 0h1M3 29.5h1m3 0h1m27 0h1m12 0h1M4 30.5h1m1 0h1m3 0h1m11 0h1m22 0h1M3 31.5h1M5 32.5h1m1 0h1m9 0h1m3 0h1M6 33.5h1m3 0h1m11 0h1m15 0h1M16 34.5h1m22 0h1M14 35.5h1m37 0h1M2 36.5h1m4 0h1m10 0h1m1 0h1m4 0h1m32 0h1M0 37.5h1m0 0h1m29 0h1m32 0h1M59 38.5h1M28 39.5h1M8 40.5h1M6 41.5h1m9 0h1m3 0h1m11 0h1m36 0h1m1 0h1M20 42.5h1M9 43.5h1M5 44.5h1m11 0h1m4 0h1m0 0h1M2 45.5h1m9 0h1M23 46.5h1M2 47.5h1m5 0h1m13 0h1m1 0h1m10 0h1M4 48.5h1m51 0h1M17 49.5h1m4 0h1m3 0h1M16 50.5h1m5 0h1M8 51.5h1m15 0h1M0 52.5h1M6 53.5h1m16 0h1m26 0h1m13 0h1M1 54.5h1m9 0h1m19 0h1M20 55.5h1m6 0h1m3 0h1M21 56.5h1m7 0h1m21 0h1M0 57.5h1m33 0h1M1 58.5h1m3 0h1m7 0h1m8 0h1m4 0h1M19 59.5h1M1 60.5h1m5 0h1M3 61.5h1M13 62.5h1m4 0h1M4 63.5h1m3 0h1m5 0h1m5 0h1M11 64.5h1m17 0h1"/>
<path stroke="#88d0a4" d="M8 0.5h1m55 0h1M2 1.5h1m4 0h1M9 2.5h1m8 0h1m9 0h1M23 3.5h1m8 0h1m1 0h1M6 4.5h1m0 0h1m3 0h1m5 0h1m5 0h1m4 0h1M3 5.5h1m2 0h1m17 0h1m2 0h1m5 0h1m10 0h1m4 0h1M5 6.5h1m10 0h1m1 0h1m7 0h1m1 0h1M0 7.5h1m5 0h1m12 0h1m5 0h1m6 0h1m0 0h1m1 0h1M0 8.5h1m7 0h1m21 0h1m38 0h1M0 9.5h1m2 0h1m0 0h1m8 0h1m7 0h1m5 0h1m1 0h1m2 0h1M2 10.5h1m0 0h1m5 0h1m21 0h1M27 11.5h1m26 0h1M13 12.5h1m0 0h1m0 0h1m15 0h1m2 0h1m31 0h1M20 13.5h1m2 0h1m5 0h1m9 0h1M24 14.5h1m0 0h1m0 0h1m6 0h1M13 15.5h1m4 0h1m14 0h1m3 0h1M9 16.5h1m6 0h1m7 0h1m8 0h1m4 0h1m23 0h1M7 17.5h1m3 0h1m22 0h1m10 0h1M25 18.5h1M4 19.5h1m12 0h1M17 20.5h1m5 0h1m3 0h1m23 0h1m0 0h1M33 21.5h1m3 0h1m25 0h1M1 22.5h1m43 0h1m2 0h1m1 0h1M13 23.5h1m22 0h1m8 0h1M0 24.5h1m20 0h1m4 0h1m18 0h1m1 0h1M0 25.5h1m14 0h1m10 0h1m2 0h1m15 0h1M24 26.5h1m1 0h1m18 0h1m16 0h1M23 27.5h1m24 0h1M29 28.5h1m10 0h1m0 0h1M17 29.5h1m8 0h1m1 0h1m0 0h1m1 0h1m1 0h1M8 30.5h1m4 0h1m1 0h1M4 31.5h1m12 0h1m0 0h1m0 0h1m38 0h1M2 32.5h1m6 0h1m9 0h1m2 0h1m0 0h1M3 33.5h1m26 0h1M7 34.5h1M13 35.5h1m2 0h1m0 0h1m3 0h1M1 36.5h1m10 0h1m0 0h1m5 0h1m2 0h1m8 0h1M24 37.5h1m4 0h1m38 0h1M0 38.5h1m0 0h1m8 0h1m45 0h1m10 0h1M3 39.5h1m15 0h1m7 0h1m6 0h1m3 0h1M9 40.5h1m7 0h1M8 41.5h1m8 0h1m10 0h1m10 0h1M5 42.5h1m2 0h1m10 0h1m10 0h1M4 43.5h1m8 0h1M1 44.5h1m13 0h1m5 0h1M10 45.5h1m3 0h1m0 0h1m48 0h1M7 46.5h1m0 0h1m3 0h1M12 47.5h1m12 0h1m1 0h1M52 48.5h1M1 49.5h1m3 0h1m2 0h1m7 0h1m15 0h1M11 50.5h1m24 0h1M7 51.5h1m15 0h1m1 0h1m32 0h1M6 52.5h1m14 0h1m3 0h1m32 0h1M3 53.5h1m8 0h1M5 54.5h1m8 0h1m7 0h1m3 0h1m7 0h1m12 0h1M2 55.5h1m13 0h1m7 0h1m44 0h1M17 56.5h1m7 0h1m5 0h1M2 57.5h1m1 0h1m16 0h1m0 0h1m3 0h1m12 0h1m14 0h1M6 58.5h1m4 0h1m4 0h1m11 0h1M14 59.5h1m10 0h1m3 0h1M0 60.5h1m4 0h1m2 0h1m0 0h1m2 0h1m5 0h1M10 61.5h1m1 0h1m3 0h1m15 0h1M10 62.5h1m8 0h1m6 0h1M0 63.5h1m2 0h1m8 0h1m14 0h1"/>
<path stroke="#9ad6a4" d="M24 0.5h1M5 1.5h1m17 0h1m18 0h1M1 2.5h1m15 0h1m15 0h1m34 0h1M10 3.5h1m10 0h1m8 0h1m10 0h1m5 0h1M5 4.5h1m21 0h1m1 0h1m1 0h1m6 0h1m1 0h1m11 0h1M26 5.5h1m1 0h1m0 0h1m4 0h1M17 6.5h1m45 0h1M7 7.5h1m4 0h1m1 0h1m0 0h1m15 0h1m15 0h1M2 8.5h1m13 0h1m2 0h1m9 0h1M7 9.5h1m2 0h1m6 0h1m16 0h1m8 0h1m2 0h1M23 10.5h1m5 0h1m7 0h1m17 0h1M0 11.5h1m0 0h1m10 0h1m3 0h1m9 0h1m11 0h1m1 0h1m0 0h1m9 0h1m12 0h1M22 12.5h1m1 0h1m11 0h1m4 0h1m26 0h1M0 13.5h1m6 0h1m16 0h1m13 0h1M23 14.5h1M24 15.5h1m2 0h1m2 0h1m3 0h1m1 0h1m9 0h1m0 0h1m6 0h1m5 0h1M4 16.5h1m3 0h1m26 0h1m14 0h1m20 0h1M5 17.5h1m29 0h1M33 18.5h1m19 0h1M1 19.5h1m4 0h1m21 0h1m2 0h1m3 0h1M21 20.5h1m4 0h1M18 21.5h1m3 0h1m2 0h1m10 0h1m14 0h1M39 22.5h1M1 23.5h1m16 0h1m9 0h1m0 0h1M24 24.5h1M17 25.5h1m4 0h1m25 0h1m0 0h1m13 0h1M6 26.5h1m44 0h1M17 27.5h1m2 0h1m7 0h1M2 28.5h1m12 0h1m15 0h1m2 0h1m24 0h1M18 29.5h1m6 0h1m23 0h1M2 30.5h1m9 0h1m6 0h1m21 0h1M21 31.5h1m29 0h1M46 32.5h1M0 33.5h1m1 0h1m4 0h1M61 34.5h1M8 35.5h1m6 0h1m17 0h1M0 36.5h1m15 0h1m9 0h1m2 0h1m12 0h1M18 37.5h1M27 38.5h1m10 0h1M10 39.5h1m4 0h1m26 0h1M0 40.5h1m3 0h1M13 41.5h1m0 0h1m8 0h1m26 0h1m7 0h1M13 42.5h1m2 0h1m4 0h1M35 43.5h1M11 44.5h1m12 0h1m0 0h1m45 0h1M7 45.5h1m3 0h1M16 46.5h1m1 0h1m0 0h1m6 0h1m41 0h1M13 47.5h1M3 48.5h1m13 0h1m1 0h1m2 0h1m9 0h1M3 49.5h1m2 0h1m4 0h1m3 0h1m4 0h1M2 50.5h1m3 0h1m5 0h1m5 0h1m6 0h1M22 51.5h1M3 52.5h1m13 0h1m8 0h1M15 53.5h1m6 0h1M16 54.5h1m8 0h1m1 0h1m0 0h1m24 0h1m17 0h1M7 55.5h1m0 0h1m3 0h1M3 56.5h1m1 0h1m13 0h1m3 0h1m29 0h1M3 57.5h1m8 0h1m1 0h1m16 0h1m35 0h1M14 58.5h1m0 0h1m5 0h1m3 0h1m6 0h1M4 59.5h1m32 0h1m19 0h1M15 61.5h1m5 0h1m5 0h1m36 0h1M11 62.5h1m21 0h1M5 63.5h1m12 0h1M12 64.5h1"/>
<path stroke="#abdda4" d="M4 0.5h1M62 1.5h1M3 2.5h1m1 0h1m19 0h1m6 0h1m37 0h1m0 0h1M9 3.5h1m15 0h1m9 0h1m12 0h1M1 4.5h1m32 0h1m0 0h1m5 0h1m1 0h1M18 5.5h1m4 0h1m12 0h1m5 0h1m8 0h1m0 0h1m1 0h1m8 0h1M1 6.5h1m20 0h1M8 7.5h1m47 0h1m8 0h1M35 8.5h1m35 0h1M24 9.5h1m1 0h1m4 0h1m36 0h1m1 0h1M25 10.5h1m31 0h1m4 0h1M17 11.5h1m10 0h1m37 0h1M10 12.5h1M11 13.5h1m21 0h1m0 0h1m1 0h1M20 14.5h1m42 0h1m1 0h1M3 16.5h1m16 0h1m5 0h1M1 17.5h1m23 0h1m4 0h1m10 0h1M29 18.5h1m16 0h1M2 19.5h1m18 0h1m16 0h1M2 20.5h1m7 0h1m14 0h1m4 0h1m0 0h1m11 0h1m6 0h1m5 0h1M10 21.5h1m2 0h1m3 0h1m37 0h1M28 22.5h1m0 0h1m6 0h1M14 23.5h1m8 0h1m2 0h1m7 0h1m0 0h1M5 24.5h1m19 0h1M51 25.5h1m10 0h1M18 26.5h1m10 0h1m19 0h1m0 0h1m4 0h1M2 27.5h1m26 0h1m3 0h1m9 0h1m10 0h1M0 28.5h1m15 0h1m2 0h1m51 0h1M22 29.5h1m4 0h1M46 30.5h1m10 0h1M12 31.5h1m10 0h1M34 32.5h1m0 0h1m9 0h1M70 33.5h1M5 34.5h1m6 0h1m11 0h1m0 0h1m1 0h1m1 0h1m1 0h1m1 0h1m1 0h1m23 0h1m2 0h1M2 35.5h1m21 0h1m1 0h1M14 37.5h1m1 0h1m0 0h1m3 0h1m0 0h1m9 0h1m5 0h1m0 0h1M9 38.5h1m54 0h1m0 0h1M17 39.5h1m0 0h1m6 0h1m22 0h1M5 40.5h1m4 0h1m5 0h1m4 0h1m5 0h1m1 0h1M5 41.5h1m13 0h1m17 0h1M26 42.5h1m0 0h1M6 43.5h1m8 0h1m18 0h1M16 44.5h1m3 0h1m30 0h1M22 45.5h1m26 0h1M63 46.5h1M39 47.5h1M1 48.5h1m14 0h1m9 0h1m1 0h1M9 49.5h1m15 0h1m3 0h1M13 50.5h1m16 0h1m8 0h1M2 51.5h1m8 0h1m32 0h1m4 0h1M1 52.5h1m16 0h1m3 0h1m7 0h1m13 0h1m2 0h1M24 53.5h1m0 0h1M9 54.5h1m0 0h1m13 0h1m8 0h1m35 0h1M4 55.5h1m10 0h1m6 0h1m30 0h1M20 56.5h1m1 0h1m11 0h1m34 0h1M35 57.5h1M4 58.5h1m2 0h1m0 0h1m20 0h1m9 0h1m16 0h1m11 0h1M1 59.5h1m28 0h1m40 0h1M14 60.5h1m2 0h1M1 61.5h1m29 0h1m3 0h1M5 62.5h1m24 0h1m1 0h1m5 0h1"/>
<path stroke="#bae3a1" d="M4 1.5h1m6 0h1m54 0h1M15 2.5h1m8 0h1m4 0h1m14 0h1m0 0h1m16 0h1M3 3.5h1m38 0h1m11 0h1M44 4.5h1m1 0h1m0 0h1m0 0h1M4 5.5h1m25 0h1m8 0h1M13 6.5h1m21 0h1m8 0h1M50 7.5h1M1 8.5h1m3 0h1m0 0h1m24 0h1m0 0h1m1 0h1m1 0h1m12 0h1m13 0h1M6 9.5h1m53 0h1M0 10.5h1m21 0h1m15 0h1m3 0h1M32 11.5h1m12 0h1m19 0h1M4 12.5h1m12 0h1m15 0h1m18 0h1m14 0h1M9 13.5h1m27 0h1m2 0h1m29 0h1M17 14.5h1m4 0h1m32 0h1M32 15.5h1m5 0h1m0 0h1m0 0h1m9 0h1m17 0h1M0 16.5h1m1 0h1m4 0h1m4 0h1m42 0h1m11 0h1M24 17.5h1m29 0h1m15 0h1M49 18.5h1M24 19.5h1m8 0h1m28 0h1M22 20.5h1m6 0h1m5 0h1M0 21.5h1m7 0h1m18 0h1M18 22.5h1m27 0h1m8 0h1m7 0h1M2 23.5h1m47 0h1M22 24.5h1m14 0h1M25 25.5h1m28 0h1m9 0h1M33 26.5h1M25 27.5h1m15 0h1M37 28.5h1m5 0h1m13 0h1M6 29.5h1m9 0h1m19 0h1M61 30.5h1M45 31.5h1m14 0h1M0 32.5h1m12 0h1M18 33.5h1m2 0h1m3 0h1m0 0h1m2 0h1m6 0h1M2 34.5h1m0 0h1m2 0h1m1 0h1m4 0h1m0 0h1m31 0h1m13 0h1M4 35.5h1m15 0h1m8 0h1m32 0h1M21 36.5h1M5 37.5h1m7 0h1m5 0h1m27 0h1m18 0h1M15 38.5h1m14 0h1m8 0h1m21 0h1M1 39.5h1m38 0h1m3 0h1m17 0h1M23 40.5h1m17 0h1M22 41.5h1m10 0h1m6 0h1m8 0h1m13 0h1M58 42.5h1m10 0h1m1 0h1M5 43.5h1m19 0h1m33 0h1m9 0h1M39 44.5h1M19 45.5h1m6 0h1M20 46.5h1m6 0h1M10 47.5h1m34 0h1m14 0h1m1 0h1M7 48.5h1m21 0h1m6 0h1M2 49.5h1m48 0h1m3 0h1m9 0h1M17 50.5h1m3 0h1m1 0h1m8 0h1M5 51.5h1m4 0h1m1 0h1m2 0h1m15 0h1m23 0h1M2 52.5h1m4 0h1m5 0h1m10 0h1m4 0h1M10 53.5h1m3 0h1m1 0h1M52 54.5h1m17 0h1M11 55.5h1m6 0h1m29 0h1m9 0h1M12 56.5h1m14 0h1m28 0h1m0 0h1m1 0h1M6 57.5h1m22 0h1m10 0h1m29 0h1M70 58.5h1M12 59.5h1m18 0h1m0 0h1M61 60.5h1m1 0h1M5 61.5h1m24 0h1M20 62.5h1m14 0h1M34 63.5h1M19 64.5h1m2 0h1"/>
<path stroke="#c8e99e" d="M42 0.5h1M8 1.5h1m16 0h1m6 0h1M16 2.5h1m10 0h1m33 0h1m5 0h1M4 3.5h1m2 0h1m18 0h1m11 0h1m0 0h1m6 0h1m18 0h1m0 0h1M4 4.5h1m16 0h1m2 0h1m25 0h1m16 0h1M8 5.5h1m6 0h1m19 0h1m2 0h1m2 0h1M8 6.5h1m10 0h1m9 0h1m18 0h1M37 7.5h1m6 0h1m12 0h1M12 8.5h1m0 0h1m13 0h1m10 0h1m31 0h1M1 9.5h1m37 0h1m5 0h1m10 0h1M33 10.5h1m11 0h1m0 0h1m14 0h1m3 0h1M15 11.5h1m28 0h1m1 0h1m8 0h1m6 0h1m7 0h1M35 12.5h1M26 13.5h1m14 0h1m29 0h1M14 14.5h1m16 0h1m9 0h1M2 15.5h1m45 0h1m22 0h1M1 16.5h1m16 0h1m17 0h1m9 0h1m13 0h1m2 0h1M0 17.5h1m27 0h1m10 0h1m6 0h1M6 18.5h1M29 19.5h1m0 0h1m20 0h1M4 20.5h1m37 0h1m22 0h1M35 21.5h1m13 0h1M14 22.5h1m29 0h1m20 0h1M15 23.5h1m24 0h1m15 0h1M38 24.5h1m19 0h1M46 25.5h1m9 0h1m3 0h1m0 0h1M10 26.5h1m0 0h1m2 0h1m22 0h1m15 0h1m7 0h1M30 27.5h1m25 0h1M6 28.5h1m19 0h1m29 0h1M0 29.5h1m19 0h1m29 0h1M5 30.5h1m22 0h1m11 0h1m10 0h1m8 0h1m2 0h1M36 31.5h1m20 0h1m3 0h1m0 0h1m1 0h1M1 32.5h1m2 0h1m21 0h1m0 0h1m0 0h1m11 0h1m2 0h1m27 0h1M27 33.5h1m25 0h1m8 0h1M4 34.5h1m10 0h1m14 0h1m6 0h1M6 35.5h1m3 0h1m17 0h1M30 36.5h1m3 0h1m3 0h1m11 0h1m9 0h1M6 37.5h1m16 0h1m6 0h1m15 0h1m7 0h1m0 0h1M14 38.5h1m1 0h1m27 0h1m2 0h1m10 0h1m11 0h1M5 39.5h1m23 0h1m11 0h1m29 0h1M1 40.5h1m28 0h1m9 0h1M1 41.5h1m19 0h1m45 0h1M11 42.5h1m10 0h1m11 0h1M14 43.5h1M13 44.5h1m51 0h1m2 0h1M43 45.5h1m17 0h1M4 46.5h1m16 0h1m9 0h1m19 0h1m18 0h1M19 47.5h1m9 0h1m27 0h1m9 0h1m1 0h1M55 48.5h1m1 0h1m9 0h1m0 0h1M13 49.5h1m13 0h1M20 50.5h1m7 0h1m11 0h1m12 0h1M21 51.5h1m4 0h1m8 0h1m0 0h1m19 0h1m0 0h1M5 52.5h1m3 0h1m13 0h1m7 0h1m0 0h1M32 53.5h1m3 0h1m33 0h1m0 0h1M6 54.5h1m0 0h1m7 0h1m14 0h1m4 0h1M65 55.5h1M4 56.5h1m21 0h1m20 0h1m10 0h1m9 0h1M9 57.5h1m3 0h1m48 0h1m0 0h1M3 58.5h1m13 0h1m53 0h1M6 59.5h1m1 0h1m26 0h1m0 0h1M13 60.5h1m12 0h1M0 61.5h1m3 0h1m8 0h1m3 0h1m10 0h1M0 62.5h1m15 0h1"/>
<path stroke="#d7ef9b" d="M66 0.5h1M2 2.5h1m28 0h1m6 0h1m20 0h1m0 0h1m2 0h1M2 3.5h1m41 0h1m4 0h1M0 4.5h1m12 0h1m28 0h1m8 0h1m11 0h1M5 5.5h1M7 6.5h1m1 0h1m40 0h1m13 0h1m2 0h1M1 7.5h1m58 0h1m8 0h1M20 8.5h1m7 0h1m13 0h1m13 0h1M23 9.5h1m4 0h1m12 0h1m15 0h1m3 0h1m0 0h1M26 10.5h1m3 0h1m8 0h1m1 0h1m14 0h1m6 0h1m2 0h1M5 11.5h1m36 0h1m10 0h1m15 0h1M3 12.5h1m12 0h1m6 0h1M17 13.5h1m33 0h1m3 0h1m9 0h1M5 14.5h1m9 0h1m33 0h1M25 15.5h1m35 0h1m1 0h1M56 16.5h1m9 0h1M2 17.5h1m24 0h1m22 0h1m10 0h1m0 0h1m5 0h1M40 18.5h1m17 0h1m2 0h1m0 0h1m1 0h1M0 19.5h1m25 0h1m10 0h1m7 0h1m6 0h1m3 0h1M38 20.5h1m9 0h1m12 0h1M23 21.5h1m6 0h1m8 0h1m1 0h1m5 0h1m8 0h1M54 22.5h1m4 0h1M24 23.5h1m6 0h1m14 0h1m1 0h1m5 0h1m0 0h1m2 0h1M30 24.5h1m1 0h1m6 0h1m8 0h1m12 0h1M57 25.5h1M25 26.5h1m21 0h1M6 27.5h1m19 0h1m7 0h1m9 0h1m0 0h1m3 0h1m9 0h1M22 28.5h1m1 0h1m0 0h1m1 0h1m10 0h1m3 0h1m18 0h1m2 0h1M24 29.5h1m19 0h1m9 0h1m0 0h1m1 0h1M20 30.5h1m8 0h1m4 0h1m27 0h1M0 31.5h1m4 0h1m10 0h1m42 0h1m3 0h1M15 32.5h1m15 0h1m7 0h1m15 0h1M19 33.5h1m0 0h1m14 0h1m3 0h1m0 0h1m2 0h1M10 34.5h1m11 0h1m22 0h1m1 0h1m3 0h1m1 0h1M12 35.5h1m14 0h1m6 0h1m3 0h1m5 0h1m3 0h1m7 0h1m13 0h1M24 36.5h1m29 0h1m0 0h1m0 0h1m2 0h1M44 37.5h1m13 0h1M7 38.5h1m9 0h1m8 0h1m4 0h1m10 0h1m19 0h1m3 0h1M21 39.5h1m2 0h1m14 0h1m10 0h1m8 0h1m3 0h1M24 40.5h1m38 0h1m0 0h1M3 41.5h1m14 0h1m6 0h1m0 0h1m2 0h1m8 0h1m20 0h1M4 42.5h1m1 0h1m7 0h1m10 0h1m38 0h1M21 43.5h1m0 0h1m1 0h1m1 0h1m9 0h1m9 0h1m18 0h1M4 44.5h1m21 0h1m0 0h1m5 0h1m0 0h1m35 0h1M50 45.5h1m4 0h1m4 0h1m10 0h1M0 46.5h1m12 0h1m0 0h1m10 0h1m20 0h1m0 0h1m6 0h1m2 0h1m1 0h1m0 0h1M14 47.5h1m8 0h1m44 0h1M6 48.5h1m16 0h1m18 0h1m10 0h1M0 49.5h1m23 0h1m3 0h1m7 0h1m19 0h1M0 50.5h1m30 0h1m25 0h1M27 51.5h1m1 0h1m2 0h1m37 0h1M15 52.5h1m36 0h1M33 53.5h1m20 0h1m2 0h1m1 0h1M44 54.5h1m3 0h1m10 0h1m0 0h1M17 55.5h1m11 0h1m4 0h1m10 0h1m6 0h1m7 0h1m5 0h1m3 0h1M30 56.5h1m39 0h1M32 57.5h1m3 0h1M12 58.5h1m21 0h1M39 59.5h1m1 0h1m22 0h1m3 0h1M3 60.5h1m61 0h1M33 63.5h1M34 64.5h1"/>
<path stroke="#e6f598" d="M26 1.5h1M22 2.5h1m7 0h1M22 3.5h1m40 0h1M39 4.5h1M43 5.5h1m3 0h1m2 0h1m11 0h1M2 6.5h1m29 0h1m6 0h1m1 0h1m14 0h1m13 0h1M38 7.5h1M18 8.5h1m22 0h1m15 0h1M8 9.5h1m21 0h1M40 10.5h1m11 0h1m17 0h1M63 11.5h1M39 12.5h1m13 0h1m16 0h1M27 13.5h1m18 0h1m6 0h1m9 0h1m0 0h1m1 0h1M40 14.5h1M55 15.5h1M34 16.5h1m2 0h1m2 0h1m6 0h1m20 0h1M42 17.5h1m4 0h1M57 18.5h1m2 0h1M23 19.5h1m3 0h1m27 0h1m4 0h1M36 20.5h1m17 0h1M24 21.5h1m6 0h1m8 0h1m17 0h1m6 0h1M60 22.5h1m0 0h1M57 23.5h1m2 0h1M44 24.5h1m7 0h1m2 0h1m0 0h1M6 25.5h1m24 0h1m3 0h1m5 0h1m0 0h1m1 0h1M27 26.5h1M0 27.5h1m0 0h1m35 0h1m2 0h1m1 0h1m21 0h1m0 0h1M36 28.5h1m13 0h1m1 0h1m0 0h1m4 0h1M19 29.5h1m17 0h1m1 0h1m1 0h1m14 0h1m14 0h1M0 30.5h1m2 0h1m10 0h1m15 0h1m7 0h1m4 0h1m0 0h1m2 0h1m5 0h1M31 31.5h1m10 0h1m1 0h1m4 0h1M64 32.5h1M14 33.5h1m18 0h1m0 0h1m16 0h1m0 0h1m2 0h1m11 0h1m1 0h1M1 34.5h1m18 0h1m15 0h1M18 35.5h1m0 0h1m11 0h1m0 0h1m10 0h1M57 36.5h1M8 37.5h1m3 0h1m12 0h1m33 0h1m2 0h1m6 0h1M25 38.5h1m6 0h1m16 0h1M4 39.5h1m17 0h1m9 0h1M28 40.5h1m10 0h1M12 41.5h1m18 0h1m3 0h1m0 0h1m9 0h1m0 0h1m12 0h1m0 0h1M65 42.5h1M3 43.5h1m3 0h1m2 0h1m1 0h1m10 0h1m9 0h1m13 0h1m13 0h1M3 44.5h1m3 0h1m0 0h1m10 0h1m9 0h1m11 0h1m11 0h1M25 45.5h1m41 0h1M10 46.5h1m17 0h1m1 0h1m8 0h1m0 0h1m20 0h1m7 0h1M11 47.5h1m32 0h1m1 0h1m7 0h1m8 0h1M11 48.5h1m1 0h1m29 0h1m22 0h1M31 49.5h1m14 0h1M15 50.5h1m21 0h1m8 0h1m5 0h1M13 51.5h1m6 0h1m19 0h1m11 0h1m12 0h1m5 0h1M34 52.5h1m1 0h1m1 0h1m0 0h1m2 0h1m27 0h1M2 53.5h1m4 0h1M4 54.5h1m53 0h1M9 55.5h1m9 0h1m15 0h1m0 0h1M28 56.5h1m42 0h1M55 57.5h1m10 0h1M31 58.5h1m9 0h1m1 0h1m10 0h1M63 59.5h1M2 61.5h1M4 62.5h1m24 0h1m6 0h1M35 63.5h1"/>
<path stroke="#ecf8a2" d="M2 0.5h1m62 0h1M24 1.5h1m15 0h1m19 0h1M8 3.5h1m31 0h1M2 4.5h1M22 5.5h1m25 0h1m12 0h1M15 6.5h1m11 0h1m9 0h1m27 0h1m0 0h1M36 7.5h1m2 0h1m1 0h1m20 0h1m1 0h1M64 8.5h1m2 0h1M15 9.5h1m21 0h1m4 0h1m11 0h1m8 0h1M15 10.5h1m11 0h1m16 0h1m22 0h1M68 11.5h1M56 12.5h1m6 0h1M45 13.5h1m10 0h1m12 0h1M34 14.5h1m4 0h1m8 0h1m2 0h1m0 0h1m1 0h1m12 0h1M51 15.5h1m14 0h1m2 0h1M54 16.5h1m3 0h1m0 0h1m9 0h1M37 17.5h1m6 0h1m7 0h1m2 0h1m0 0h1M22 18.5h1m12 0h1m1 0h1m5 0h1m1 0h1m9 0h1M39 19.5h1m4 0h1m1 0h1m19 0h1M28 20.5h1m12 0h1m5 0h1m7 0h1m2 0h1M32 21.5h1m5 0h1M33 22.5h1m1 0h1m5 0h1m15 0h1M33 23.5h1m8 0h1m0 0h1m5 0h1M31 24.5h1m4 0h1m3 0h1m1 0h1M37 25.5h1m2 0h1M36 26.5h1m11 0h1M32 27.5h1m3 0h1m1 0h1m18 0h1M33 28.5h1m20 0h1M38 29.5h1m1 0h1m4 0h1m18 0h1M16 30.5h1m18 0h1m1 0h1m1 0h1m9 0h1m0 0h1m3 0h1M14 31.5h1m0 0h1m10 0h1m13 0h1m6 0h1m4 0h1M30 32.5h1m17 0h1m9 0h1M8 33.5h1m4 0h1m9 0h1m4 0h1m2 0h1m13 0h1m0 0h1m1 0h1m5 0h1m5 0h1M26 34.5h1m13 0h1m25 0h1m2 0h1m1 0h1M7 35.5h1m38 0h1M67 36.5h1M35 37.5h1m12 0h1m0 0h1m7 0h1m2 0h1m0 0h1M6 38.5h1m1 0h1m11 0h1m1 0h1m27 0h1M66 39.5h1m2 0h1M25 40.5h1m16 0h1m0 0h1m4 0h1m12 0h1m7 0h1M15 41.5h1m8 0h1m37 0h1M7 42.5h1m21 0h1m5 0h1m14 0h1m8 0h1m6 0h1M45 43.5h1m22 0h1M52 44.5h1m6 0h1m3 0h1m5 0h1M27 45.5h1m0 0h1m7 0h1m19 0h1m2 0h1m2 0h1M22 46.5h1m1 0h1m11 0h1m25 0h1M26 47.5h1m5 0h1m19 0h1m17 0h1M31 48.5h1m18 0h1m0 0h1M35 49.5h1m3 0h1m2 0h1m16 0h1m1 0h1m8 0h1m0 0h1M19 50.5h1m7 0h1m5 0h1m8 0h1m12 0h1M34 51.5h1m7 0h1M33 52.5h1m14 0h1m2 0h1m5 0h1m1 0h1M21 53.5h1m29 0h1m6 0h1m4 0h1m1 0h1m1 0h1M37 54.5h1m7 0h1m5 0h1M37 55.5h1m30 0h1m2 0h1M33 56.5h1m16 0h1m10 0h1m0 0h1m1 0h1m0 0h1M8 57.5h1m56 0h1M36 58.5h1m29 0h1M7 59.5h1m30 0h1m23 0h1m3 0h1M34 61.5h1"/>
<path stroke="#f2faac" d="M1 1.5h1M50 3.5h1M3 4.5h1m49 0h1m0 0h1m6 0h1m2 0h1m0 0h1M21 5.5h1M6 6.5h1m24 0h1m8 0h1m8 0h1m21 0h1M63 7.5h1M17 8.5h1m19 0h1M53 9.5h1m12 0h1m4 0h1M34 10.5h1m16 0h1m17 0h1M56 11.5h1m14 0h1M42 12.5h1m0 0h1m11 0h1m1 0h1m7 0h1M49 13.5h1m8 0h1M60 14.5h1m3 0h1m6 0h1M30 16.5h1m1 0h1m6 0h1m5 0h1m2 0h1M38 17.5h1m10 0h1m7 0h1M1 18.5h1m64 0h1M61 19.5h1m2 0h1M0 20.5h1m33 0h1m4 0h1m0 0h1m8 0h1M29 21.5h1m32 0h1M30 22.5h1m20 0h1m18 0h1M17 23.5h1m14 0h1m19 0h1M60 24.5h1m3 0h1M52 25.5h1M32 26.5h1m23 0h1m2 0h1M51 27.5h1m1 0h1m1 0h1m4 0h1m2 0h1M32 28.5h1m30 0h1M30 29.5h1m29 0h1m0 0h1M17 30.5h1m15 0h1m30 0h1M25 31.5h1m2 0h1m0 0h1m13 0h1M6 32.5h1m9 0h1m7 0h1m11 0h1m10 0h1m11 0h1M42 33.5h1m28 0h1M34 34.5h1m7 0h1M35 35.5h1m24 0h1m2 0h1M17 36.5h1m10 0h1m11 0h1m3 0h1m3 0h1m16 0h1m0 0h1m2 0h1M42 37.5h1m10 0h1m16 0h1M12 38.5h1m50 0h1M30 39.5h1M31 40.5h1m28 0h1m1 0h1m8 0h1M65 41.5h1m4 0h1M10 42.5h1m1 0h1m2 0h1m30 0h1m13 0h1m1 0h1M8 43.5h1M10 44.5h1m24 0h1m10 0h1m7 0h1m2 0h1m2 0h1m5 0h1m0 0h1M13 45.5h1m9 0h1m17 0h1m5 0h1m4 0h1m5 0h1M67 46.5h1m3 0h1M9 47.5h1m20 0h1m30 0h1M14 48.5h1m22 0h1m3 0h1m17 0h1m5 0h1M12 49.5h1m1 0h1m19 0h1m2 0h1m0 0h1m1 0h1m2 0h1m9 0h1m15 0h1M14 50.5h1m14 0h1m11 0h1m7 0h1m1 0h1M38 51.5h1m6 0h1m4 0h1m2 0h1M12 52.5h1m24 0h1m16 0h1m14 0h1M28 53.5h1m1 0h1m22 0h1M8 54.5h1m27 0h1m5 0h1m12 0h1m5 0h1m0 0h1M28 55.5h1m3 0h1m14 0h1M6 56.5h1m28 0h1m1 0h1M5 57.5h1m21 0h1m13 0h1m15 0h1m0 0h1M35 58.5h1m8 0h1m16 0h1M65 59.5h1m4 0h1M32 60.5h1m29 0h1m3 0h1m0 0h1m2 0h1M36 61.5h1M34 62.5h1M36 63.5h1"/>
<path stroke="#f9fcb5" d="M41 0.5h1M65 1.5h1M66 2.5h1M43 3.5h1m18 0h1m5 0h1m0 0h1M37 4.5h1m28 0h1M40 5.5h1m26 0h1m0 0h1M38 6.5h1m21 0h1M61 7.5h1M65 8.5h1m2 0h1M48 9.5h1m6 0h1m2 0h1m8 0h1m1 0h1M52 11.5h1M44 12.5h1m0 0h1m5 0h1M35 13.5h1m18 0h1m12 0h1M50 14.5h1m5 0h1M49 15.5h1m9 0h1M41 16.5h1m28 0h1M60 17.5h1m6 0h1m1 0h1M28 18.5h1m7 0h1m4 0h1m5 0h1m11 0h1M43 19.5h1m6 0h1m14 0h1m4 0h1M44 20.5h1M48 21.5h1m3 0h1m4 0h1M31 22.5h1m5 0h1m14 0h1m3 0h1m5 0h1M25 23.5h1m4 0h1m6 0h1m1 0h1m21 0h1M33 24.5h1m19 0h1m3 0h1m5 0h1M24 25.5h1m5 0h1M31 26.5h1m6 0h1m13 0h1m11 0h1m0 0h1M31 27.5h1m26 0h1M49 28.5h1m5 0h1m9 0h1M32 29.5h1m10 0h1M42 30.5h1m5 0h1M33 31.5h1m1 0h1M32 32.5h1m11 0h1m8 0h1m8 0h1M41 33.5h1m2 0h1m19 0h1M41 34.5h1m2 0h1m3 0h1m0 0h1m4 0h1m2 0h1m7 0h1m2 0h1M41 35.5h1m0 0h1m12 0h1m13 0h1m1 0h1M37 36.5h1m9 0h1m23 0h1M41 37.5h1m8 0h1m14 0h1m5 0h1M33 38.5h1m6 0h1M26 39.5h1m4 0h1m14 0h1m2 0h1m11 0h1m3 0h1m4 0h1M34 40.5h1m1 0h1m0 0h1M48 41.5h1m15 0h1M31 42.5h1m6 0h1m28 0h1M47 44.5h1m13 0h1M68 45.5h1M53 46.5h1M28 47.5h1m8 0h1m0 0h1m26 0h1M12 48.5h1m7 0h1m12 0h1M67 49.5h1M5 50.5h1m37 0h1m6 0h1m3 0h1m1 0h1m1 0h1m0 0h1m6 0h1M4 51.5h1m4 0h1m18 0h1m25 0h1m14 0h1M10 52.5h1m35 0h1m8 0h1m0 0h1M38 53.5h1m2 0h1m7 0h1m5 0h1m5 0h1m0 0h1M57 54.5h1m5 0h1M10 55.5h1m15 0h1m12 0h1m19 0h1M32 56.5h1m13 0h1m2 0h1M45 57.5h1m13 0h1m1 0h1m6 0h1m2 0h1M60 58.5h1m4 0h1M34 59.5h1m25 0h1m6 0h1M4 60.5h1m31 0h1m5 0h1m25 0h1M63 61.5h1M37 63.5h1"/>
<path stroke="#ffffbf" d="M33 0.5h1M43 1.5h1M40 2.5h1m17 0h1M60 3.5h1M55 4.5h1m3 0h1m2 0h1M66 5.5h1M51 6.5h1m2 0h1M55 7.5h1m12 0h1m2 0h1M40 8.5h1m20 0h1m0 0h1M40 9.5h1m6 0h1m1 0h1M4 10.5h1m31 0h1m22 0h1M58 11.5h1m2 0h1M61 12.5h1m9 0h1M62 13.5h1M53 14.5h1m8 0h1m7 0h1M65 15.5h1M42 16.5h1M40 17.5h1m10 0h1m1 0h1m9 0h1m7 0h1M42 18.5h1m20 0h1M54 19.5h1M32 20.5h1M20 21.5h1m25 0h1m3 0h1m3 0h1m9 0h1M40 22.5h1m2 0h1m5 0h1m21 0h1M19 23.5h1m31 0h1m1 0h1M35 24.5h1m10 0h1m4 0h1m19 0h1M34 25.5h1m8 0h1M44 26.5h1m12 0h1m0 0h1m1 0h1M46 27.5h1m0 0h1m2 0h1m1 0h1m18 0h1M46 28.5h1m13 0h1M1 29.5h1m32 0h1m17 0h1m5 0h1m0 0h1m3 0h1m1 0h1M27 30.5h1m8 0h1M27 31.5h1M29 32.5h1m3 0h1m3 0h1m0 0h1m10 0h1m13 0h1m1 0h1M66 33.5h1M43 34.5h1M30 35.5h1m9 0h1m4 0h1M36 36.5h1m2 0h1m22 0h1m1 0h1M7 37.5h1m32 0h1m2 0h1m7 0h1m0 0h1m14 0h1M41 38.5h1m6 0h1M33 39.5h1m24 0h1m1 0h1M59 40.5h1M30 41.5h1m37 0h1M28 42.5h1m18 0h1m9 0h1m5 0h1M44 43.5h1m10 0h1m8 0h1m2 0h1m2 0h1M30 44.5h1m5 0h1m3 0h1m3 0h1m0 0h1m12 0h1m3 0h1m1 0h1M38 46.5h1m2 0h1m3 0h1m4 0h1m5 0h1m7 0h1M31 47.5h1m21 0h1m17 0h1M2 48.5h1m44 0h1M33 49.5h1m7 0h1m2 0h1m15 0h1m7 0h1M4 50.5h1M37 51.5h1m10 0h1m2 0h1m7 0h1M27 52.5h1m25 0h1m7 0h1m2 0h1M4 53.5h1m22 0h1m11 0h1m0 0h1m2 0h1m1 0h1m23 0h1M29 54.5h1m10 0h1m5 0h1m9 0h1m9 0h1M33 55.5h1m6 0h1m1 0h1m3 0h1m9 0h1m0 0h1m6 0h1M40 56.5h1m7 0h1m14 0h1m3 0h1M37 57.5h1m12 0h1m5 0h1m3 0h1m8 0h1M42 58.5h1m21 0h1m4 0h1M35 60.5h1m2 0h1M62 61.5h1M3 62.5h1"/>
<path stroke="#fff7b2" d="M41 1.5h1m17 0h1m8 0h1M41 2.5h1M5 3.5h1m21 0h1m43 0h1M22 4.5h1m33 0h1M71 5.5h1M24 6.5h1m27 0h1m8 0h1m0 0h1M59 7.5h1m10 0h1M39 8.5h1m20 0h1m5 0h1M50 9.5h1M50 10.5h1m2 0h1m10 0h1M39 11.5h1m7 0h1m11 0h1m7 0h1M69 12.5h1M42 13.5h1m4 0h1m20 0h1M56 15.5h1M49 16.5h1m1 0h1m5 0h1M59 17.5h1M44 18.5h1m9 0h1M41 19.5h1m0 0h1m5 0h1M53 20.5h1m6 0h1m2 0h1M59 21.5h1m1 0h1M38 22.5h1m3 0h1m4 0h1M47 23.5h1m14 0h1m1 0h1M65 24.5h1M70 25.5h1M34 26.5h1m4 0h1m2 0h1m20 0h1M62 27.5h1M1 28.5h1m37 0h1m5 0h1M42 29.5h1M55 30.5h1m0 0h1M34 31.5h1m35 0h1M3 32.5h1m37 0h1m8 0h1M32 33.5h1m14 0h1m17 0h1M21 34.5h1m10 0h1m17 0h1m7 0h1m11 0h1M54 35.5h1m3 0h1m5 0h1M41 36.5h1m21 0h1M23 38.5h1m31 0h1M68 39.5h1M38 40.5h1m12 0h1m5 0h1m7 0h1m1 0h1M44 41.5h1M39 42.5h1m0 0h1m2 0h1M31 43.5h1m0 0h1m18 0h1m6 0h1m1 0h1M32 44.5h1m5 0h1m17 0h1M46 45.5h1m4 0h1m5 0h1M29 46.5h1m2 0h1m9 0h1m15 0h1m7 0h1M36 47.5h1m18 0h1m2 0h1M0 48.5h1m37 0h1m0 0h1m5 0h1m3 0h1m8 0h1m2 0h1m0 0h1m1 0h1M54 49.5h1M35 50.5h1m12 0h1m11 0h1m8 0h1m0 0h1m0 0h1M45 52.5h1m20 0h1m4 0h1M29 53.5h1m4 0h1m2 0h1m4 0h1m23 0h1M38 54.5h1m11 0h1M54 55.5h1m8 0h1M36 56.5h1m1 0h1m4 0h1m1 0h1m6 0h1m2 0h1M33 57.5h1m4 0h1m4 0h1M37 58.5h1m0 0h1M40 59.5h1m1 0h1M37 61.5h1m0 0h1m1 0h1M37 62.5h1"/>
<path stroke="#fef0a5" d="M67 1.5h1M69 2.5h1M60 4.5h1m7 0h1m2 0h1M55 5.5h1M55 6.5h1m3 0h1M48 7.5h1m2 0h1m14 0h1M52 8.5h1m5 0h1M64 9.5h1m0 0h1M60 10.5h1m10 0h1M58 12.5h1m0 0h1M47 14.5h1M58 15.5h1m8 0h1m2 0h1M53 16.5h1m10 0h1M43 17.5h1m20 0h1M2 18.5h1m47 0h1m1 0h1m17 0h1M58 19.5h1m8 0h1M46 20.5h1m22 0h1m1 0h1M53 22.5h1m4 0h1m7 0h1M41 23.5h1m2 0h1m25 0h1M39 25.5h1M43 26.5h1m25 0h1M30 28.5h1m31 0h1M32 30.5h1m26 0h1m9 0h1m0 0h1M38 31.5h1m9 0h1m4 0h1m1 0h1m0 0h1M42 32.5h1m11 0h1m6 0h1m8 0h1M50 33.5h1m17 0h1M64 34.5h1M22 35.5h1m16 0h1m11 0h1m9 0h1m3 0h1M23 36.5h1m9 0h1m19 0h1m7 0h1m6 0h1M56 37.5h1M21 38.5h1m23 0h1m0 0h1M35 39.5h1m7 0h1m20 0h1M26 40.5h1m6 0h1m12 0h1m0 0h1m1 0h1M42 41.5h1M45 42.5h1m5 0h1M28 43.5h1m27 0h1m14 0h1M55 44.5h1M32 45.5h1m11 0h1m9 0h1m11 0h1m3 0h1M34 46.5h1m2 0h1m5 0h1m0 0h1M34 47.5h1m12 0h1m0 0h1m7 0h1M40 48.5h1m3 0h1m15 0h1m8 0h1M45 49.5h1m3 0h1m7 0h1m6 0h1m1 0h1M65 50.5h1M33 51.5h1m5 0h1m1 0h1M35 52.5h1m13 0h1m10 0h1m4 0h1m1 0h1M35 53.5h1m16 0h1M41 54.5h1m23 0h1M50 55.5h1m4 0h1m11 0h1M42 56.5h1m1 0h1M57 58.5h1M43 59.5h1m17 0h1M37 60.5h1m2 0h1m23 0h1m4 0h1"/>
<path stroke="#fee898" d="M63 0.5h1M64 1.5h1M65 2.5h1M57 3.5h1M64 5.5h1m4 0h1M53 6.5h1M48 8.5h1M52 9.5h1m6 0h1M47 12.5h1m0 0h1m11 0h1M57 13.5h1M46 14.5h1m11 0h1m2 0h1m7 0h1M48 17.5h1M39 18.5h1M36 19.5h1m3 0h1m8 0h1m3 0h1m5 0h1M59 20.5h1m4 0h1M42 21.5h1M71 23.5h1M34 24.5h1m6 0h1M23 25.5h1m9 0h1m2 0h1m18 0h1M30 26.5h1m9 0h1m0 0h1m12 0h1m16 0h1M44 28.5h1M51 29.5h1m1 0h1M58 30.5h1m6 0h1m5 0h1M37 31.5h1m8 0h1m3 0h1M51 32.5h1m5 0h1M57 33.5h1m0 0h1m4 0h1M28 34.5h1m27 0h1M49 35.5h1m0 0h1m16 0h1M32 36.5h1m2 0h1m7 0h1m2 0h1m5 0h1M36 37.5h1m0 0h1m7 0h1M53 38.5h1m3 0h1m2 0h1m7 0h1M45 39.5h1m6 0h1m14 0h1M44 40.5h1m5 0h1m7 0h1M41 41.5h1m9 0h1m5 0h1M56 42.5h1M52 43.5h1m0 0h1m3 0h1m5 0h1m2 0h1M31 44.5h1m5 0h1M35 45.5h1m3 0h1m0 0h1m1 0h1m5 0h1m14 0h1M33 46.5h1m1 0h1M41 47.5h1m0 0h1m6 0h1m9 0h1m6 0h1M34 48.5h1m0 0h1m18 0h1m8 0h1M48 49.5h1m13 0h1M44 50.5h1m23 0h1M30 51.5h1m16 0h1M28 52.5h1M46 53.5h1M61 55.5h1M39 56.5h1m1 0h1m24 0h1M42 57.5h1m21 0h1M58 59.5h1M34 60.5h1M33 61.5h1"/>
<path stroke="#fee08b" d="M13 3.5h1m44 0h1m2 0h1M58 4.5h1m10 0h1M53 5.5h1m6 0h1M57 6.5h1m10 0h1m0 0h1M67 7.5h1M50 8.5h1m8 0h1M51 9.5h1M58 10.5h1M57 11.5h1M54 12.5h1M50 13.5h1m9 0h1M66 14.5h1m1 0h1M0 18.5h1m55 0h1m8 0h1m2 0h1m0 0h1m1 0h1M37 20.5h1m19 0h1m4 0h1m7 0h1M43 21.5h1m0 0h1m8 0h1m6 0h1m10 0h1M65 23.5h1M59 25.5h1M47 28.5h1M47 29.5h1m22 0h1M54 31.5h1M56 32.5h1M49 33.5h1m9 0h1M52 34.5h1m2 0h1M68 35.5h1M49 36.5h1M34 37.5h1M36 38.5h1m14 0h1m0 0h1M37 39.5h1m9 0h1m3 0h1m4 0h1m0 0h1M32 40.5h1m2 0h1m9 0h1m22 0h1M43 41.5h1M32 42.5h1m15 0h1m3 0h1m8 0h1m8 0h1M38 43.5h1m0 0h1m0 0h1m9 0h1m3 0h1M43 44.5h1M29 45.5h1m0 0h1m6 0h1m7 0h1m19 0h1M49 46.5h1M40 47.5h1m2 0h1m7 0h1M46 48.5h1m1 0h1M58 49.5h1M34 50.5h1M43 51.5h1M31 53.5h1m12 0h1m2 0h1m0 0h1m7 0h1m3 0h1M41 55.5h1m1 0h1M39 61.5h1"/>
<path stroke="#fed480" d="M63 1.5h1M64 2.5h1M70 3.5h1M56 5.5h1M47 10.5h1M60 11.5h1M50 12.5h1m13 0h1M52 13.5h1M41 15.5h1m11 0h1M63 19.5h1m4 0h1m0 0h1m1 0h1M45 20.5h1M45 21.5h1m22 0h1m0 0h1M59 24.5h1M58 25.5h1M69 27.5h1M51 28.5h1m15 0h1M31 30.5h1m20 0h1m13 0h1M30 31.5h1M69 32.5h1M61 33.5h1M45 36.5h1m5 0h1M33 37.5h1M54 38.5h1m14 0h1M45 41.5h1M36 42.5h1M29 43.5h1M28 44.5h1m13 0h1m6 0h1M33 45.5h1M55 46.5h1m9 0h1M71 48.5h1M52 49.5h1M61 50.5h1M40 52.5h1M68 53.5h1M43 54.5h1m24 0h1M49 55.5h1M60 56.5h1M52 57.5h1M58 58.5h1m4 0h1"/>
<path stroke="#fec776" d="M59 3.5h1M65 5.5h1M58 6.5h1M51 8.5h1m3 0h1M43 13.5h1M57 14.5h1M52 15.5h1m4 0h1m6 0h1M58 17.5h1m6 0h1M57 19.5h1M67 20.5h1M70 24.5h1M65 25.5h1m5 0h1M46 29.5h1m20 0h1m0 0h1M67 30.5h1M39 31.5h1m31 0h1M70 36.5h1M34 38.5h1m2 0h1m33 0h1M66 40.5h1M34 41.5h1m17 0h1M24 42.5h1m19 0h1m8 0h1m14 0h1M42 43.5h1m6 0h1M31 45.5h1m2 0h1m18 0h1M52 46.5h1M50 47.5h1m13 0h1M50 49.5h1M45 50.5h1m18 0h1M41 52.5h1m1 0h1m19 0h1M39 54.5h1M44 55.5h1M67 58.5h1M59 59.5h1M41 60.5h1"/>
<path stroke="#fdba6c" d="M49 10.5h1M48 13.5h1m10 0h1M42 15.5h1M52 16.5h1m12 0h1M48 18.5h1m18 0h1M38 23.5h1M38 25.5h1M70 27.5h1M70 28.5h1M66 29.5h1M41 31.5h1m27 0h1M52 32.5h1M63 34.5h1m3 0h1M59 35.5h1m6 0h1M35 38.5h1M54 39.5h1m0 0h1M66 41.5h1M33 42.5h1m15 0h1M27 43.5h1m2 0h1M70 48.5h1M68 51.5h1M50 52.5h1m11 0h1M49 54.5h1M44 57.5h1M62 58.5h1M39 60.5h1m31 0h1"/>
<path stroke="#fdae61" d="M64 3.5h1M59 5.5h1m10 0h1M50 11.5h1M59 14.5h1M43 16.5h1m0 0h1M66 20.5h1M62 29.5h1m6 0h1M67 31.5h1M66 32.5h1m0 0h1m0 0h1M36 39.5h1M55 40.5h1M56 41.5h1M41 43.5h1m1 0h1m4 0h1M48 44.5h1M38 45.5h1M33 47.5h1M38 50.5h1m8 0h1M46 51.5h1m13 0h1m5 0h1M68 52.5h1M67 54.5h1"/>
<path stroke="#fb9e5a" d="M67 3.5h1M53 8.5h1m0 0h1M44 13.5h1m16 0h1M45 14.5h1M45 15.5h1M66 21.5h1m0 0h1M69 22.5h1M66 23.5h1M70 26.5h1M61 27.5h1m4 0h1M68 28.5h1M68 30.5h1M32 31.5h1m32 0h1M53 35.5h1m3 0h1M52 40.5h1M47 49.5h1M61 51.5h1M64 54.5h1M38 55.5h1m23 0h1M59 58.5h1"/>
<path stroke="#f88e52" d="M68 25.5h1M66 26.5h1M66 28.5h1M66 31.5h1m1 0h1M60 32.5h1M53 39.5h1M63 49.5h1M67 51.5h1"/>
<path stroke="#f67d4a" d="M69 28.5h1M37 43.5h1M48 46.5h1"/>
<path stroke="#f46d43" d="M57 4.5h1M48 10.5h1M46 12.5h1M43 15.5h1M68 20.5h1M70 21.5h1M37 42.5h1"/>
<path stroke="#ec6146" d="M44 14.5h1M68 22.5h1M67 25.5h1m1 0h1M68 26.5h1M56 33.5h1M41 42.5h1M63 51.5h1m0 0h1"/>
<path stroke="#e45649" d="M54 7.5h1M48 11.5h1M66 24.5h1M53 41.5h1m1 0h1M42 42.5h1m11 0h1M50 44.5h1"/>
<path stroke="#dd4a4c" d="M58 5.5h1M49 12.5h1M42 14.5h1M67 22.5h1"/>
<path stroke="#d53e4f" d="M57 5.5h1M53 7.5h1M68 24.5h1M67 27.5h1m0 0h1M53 40.5h1M55 42.5h1M62 50.5h1"/>
<path stroke="#c72f4c" d="M52 7.5h1M68 23.5h1M69 24.5h1M54 40.5h1M63 50.5h1"/>
<path stroke="#ba2048" d="M49 11.5h1M43 14.5h1M66 25.5h1M54 41.5h1M62 51.5h1"/>
<path stroke="#ac1045" d="M44 15.5h1M69 23.5h1M67 24.5h1"/>
<path stroke="#9e0142" d="M70 4.5h1M67 23.5h1M67 26.5h1M56 40.5h1"/>
</g>
<path d="M21.7 22h4.4v4.5h-4.4zM30.5 22h4.4v4.5h-4.4zM48.1 22h4.4v4.5h-4.4zM65.7 22h4.4v4.5h-4.4zM118.5 22h4.4v4.5h-4.4zM158.1 22h4.4v4.5h-4.4zM193.3 22h13.2v4.5h-13.2zM290.1 22h17.6v4.5h-17.6zM17.3 26.4h8.8v4.5h-8.8zM30.5 26.4h48.4v4.5h-48.4zM114.1 26.4h17.6v4.5h-17.6zM140.5 26.4h4.4v4.5h-4.4zM149.3 26.4h13.2v4.5h-13.2zM188.9 26.4h22v4.5h-22zM272.5 26.4h8.8v4.5h-8.8zM285.7 26.4h30.8v4.5h-30.8zM12.9 30.9h83.6v4.5h-83.6zM109.7 30.9h57.2v4.5h-57.2zM180.1 30.9h4.4v4.5h-4.4zM188.9 30.9h35.2v4.5h-35.2zM268.1 30.9h61.6v4.5h-61.6zM12.9 35.4h224.4v4.5h-224.4zM250.5 35.4h4.4v4.5h-4.4zM263.7 35.4h66v4.5h-66zM12.9 39.8h316.8v4.5h-316.8zM12.9 44.2h316.8v4.5h-316.8zM12.9 48.7h316.8v4.5h-316.8zM12.9 53.2h316.8v4.5h-316.8zM12.9 57.6h316.8v4.5h-316.8zM12.9 62.1h316.8v4.5h-316.8zM12.9 66.5h316.8v4.5h-316.8zM12.9 71h316.8v4.5h-316.8zM12.9 75.4h316.8v4.5h-316.8zM12.9 79.8h316.8v4.5h-316.8zM12.9 84.3h316.8v4.5h-316.8zM12.9 88.8h316.8v4.5h-316.8zM12.9 93.2h316.8v4.5h-316.8zM12.9 97.7h316.8v4.5h-316.8zM12.9 102.1h316.8v4.5h-316.8zM12.9 106.5h316.8v4.5h-316.8zM12.9 111h316.8v4.5h-316.8zM12.9 115.5h316.8v4.5h-316.8zM12.9 119.9h316.8v4.5h-316.8zM12.9 124.4h316.8v4.5h-316.8zM12.9 128.8h316.8v4.5h-316.8zM12.9 133.2h316.8v4.5h-316.8zM12.9 137.7h316.8v4.5h-316.8zM12.9 142.2h316.8v4.5h-316.8zM12.9 146.6h316.8v4.5h-316.8zM12.9 151.1h316.8v4.5h-316.8zM12.9 155.5h316.8v4.5h-316.8zM12.9 160h316.8v4.5h-316.8zM12.9 164.4h316.8v4.5h-316.8zM12.9 168.8h316.8v4.5h-316.8zM12.9 173.3h316.8v4.5h-316.8zM12.9 177.8h316.8v4.5h-316.8zM12.9 182.2h316.8v4.5h-316.8zM12.9 186.7h316.8v4.5h-316.8zM12.9 191.1h316.8v4.5h-316.8zM12.9 195.6h316.8v4.5h-316.8zM12.9 200h316.8v4.5h-316.8zM12.9 204.5h316.8v4.5h-316.8zM12.9 208.9h316.8v4.5h-316.8zM12.9 213.3h316.8v4.5h-316.8zM12.9 217.8h316.8v4.5h-316.8zM12.9 222.2h316.8v4.5h-316.8zM12.9 226.7h316.8v4.5h-316.8zM12.9 231.2h316.8v4.5h-316.8zM12.9 235.6h316.8v4.5h-316.8zM12.9 240.1h316.8v4.5h-316.8zM12.9 244.5h316.8v4.5h-316.8zM12.9 249h316.8v4.5h-316.8zM12.9 253.4h316.8v4.5h-316.8zM12.9 257.9h316.8v4.5h-316.8zM12.9 262.3h316.8v4.5h-316.8zM12.9 266.8h316.8v4.5h-316.8zM12.9 271.2h316.8v4.5h-316.8zM12.9 275.6h202.4v4.5h-202.4zM232.9 275.6h4.4v4.5h-4.4zM241.7 275.6h4.4v4.5h-4.4zM250.5 275.6h79.2v4.5h-79.2zM12.9 280.1h198v4.5h-198zM250.5 280.1h4.4v4.5h-4.4zM259.3 280.1h70.4v4.5h-70.4zM12.9 284.6h193.6v4.5h-193.6zM263.7 284.6h66v4.5h-66zM12.9 289h189.2v4.5h-189.2zM281.3 289h48.4v4.5h-48.4zM12.9 293.4h180.4v4.5h-180.4zM285.7 293.4h13.2v4.5h-13.2zM12.9 297.9h171.6v4.5h-171.6zM12.9 302.4h26.4v4.5h-26.4zM43.7 302.4h83.6v4.5h-83.6zM131.7 302.4h48.4v4.5h-48.4zM26.1 306.8h4.4v4.5h-4.4zM52.5 306.8h52.8v4.5h-52.8zM109.7 306.8h8.8v4.5h-8.8zM140.5 306.8h8.8v4.5h-8.8zM162.5 306.8h4.4v4.5h-4.4z" fill="url(#spots)"/>
<ellipse cx="20" cy="150" rx="11" ry="2.2" fill="#f4f4f6" transform="rotate(-12 20 150)"/>
<ellipse cx="84" cy="293" rx="8" ry="1.8" fill="#f4f4f6" transform="rotate(-10 84 293)"/>
</g>
<text x="1333.8" y="1795" font-size="23.6" text-anchor="start" fill="#222">Endothelial</text>
<rect x="1478.5" y="1753.6" width="189.2" height="37.2" fill="url(#spec)"/>
<path d="M1521.1 1753.6 v7 M1521.1 1783.8 v7" stroke="#fff" stroke-width="1.3" stroke-opacity="0.8"/>
<text x="1521.1" y="1815.5" font-size="20.4" text-anchor="middle" fill="#222" letter-spacing="-0.6">−0.4</text>
<path d="M1569.8 1753.6 v7 M1569.8 1783.8 v7" stroke="#fff" stroke-width="1.3" stroke-opacity="0.8"/>
<text x="1569.8" y="1815.5" font-size="20.4" text-anchor="middle" fill="#222" letter-spacing="-0.6">0.0</text>
<path d="M1618.5 1753.6 v7 M1618.5 1783.8 v7" stroke="#fff" stroke-width="1.3" stroke-opacity="0.8"/>
<text x="1618.5" y="1815.5" font-size="20.4" text-anchor="middle" fill="#222" letter-spacing="-0.6">0.4</text>
<path d="M1667.2 1753.6 v7 M1667.2 1783.8 v7" stroke="#fff" stroke-width="1.3" stroke-opacity="0.8"/>
<text x="1667.2" y="1815.5" font-size="20.4" text-anchor="middle" fill="#222" letter-spacing="-0.6">0.8</text>
<g transform="translate(1329.7 1854.9)">
<rect x="0" y="0" width="342" height="328" fill="#EFEFF1"/>
<path d="M0 24 L13.5 26 L14 305 L0 307 Z" fill="url(#purp)"/>
<path d="M327 22 L341 20 L341 300 L327 299 Z" fill="url(#purp)"/>
<g transform="translate(12.9 22) scale(4.4 4.45)" fill="none" stroke-width="1">
<path stroke="#5e4fa2" d="M15 6.5h1M44 7.5h1M27 11.5h1M12 15.5h1m8 0h1M8 18.5h1m3 0h1M29 19.5h1M8 31.5h1M23 32.5h1M14 33.5h1M15 60.5h1M16 61.5h1M32 63.5h1"/>
<path stroke="#535da9" d="M39 3.5h1M14 16.5h1M13 17.5h1m4 0h1M4 18.5h1M16 22.5h1M15 27.5h1M16 28.5h1M5 37.5h1"/>
<path stroke="#486cb0" d="M40 7.5h1M43 9.5h1M9 13.5h1M6 14.5h1M28 17.5h1M12 19.5h1m0 0h1m5 0h1M3 29.5h1M27 30.5h1M0 32.5h1M4 36.5h1M31 63.5h1"/>
<path stroke="#3d7ab6" d="M40 2.5h1M7 6.5h1m27 0h1M2 9.5h1M12 11.5h1m3 0h1m19 0h1M30 12.5h1M7 14.5h1m23 0h1M23 16.5h1M15 17.5h1M21 19.5h1M20 20.5h1M21 21.5h1M14 22.5h1m26 0h1M16 27.5h1M10 28.5h1M15 59.5h1M15 61.5h1M32 62.5h1M3 63.5h1"/>
<path stroke="#3288bd" d="M43 5.5h1M16 6.5h1M6 8.5h1M0 11.5h1m4 0h1m4 0h1m2 0h1M12 12.5h1m5 0h1M7 13.5h1m24 0h1M3 14.5h1M14 17.5h1M9 20.5h1m3 0h1m5 0h1M17 21.5h1M13 22.5h1M13 24.5h1M10 26.5h1M8 29.5h1M4 30.5h1M0 31.5h1m1 0h1m20 0h1M22 32.5h1M4 41.5h1M8 58.5h1m3 0h1M2 59.5h1m11 0h1m18 0h1M31 62.5h1"/>
<path stroke="#3f96b7" d="M42 1.5h1M0 2.5h1m2 0h1m6 0h1M14 3.5h1M2 6.5h1M6 7.5h1M17 8.5h1M41 9.5h1M4 11.5h1M10 12.5h1M11 13.5h1m3 0h1M19 14.5h1m7 0h1m5 0h1M8 15.5h1m4 0h1m5 0h1m15 0h1M30 16.5h1M34 18.5h1M6 20.5h1M14 21.5h1M27 22.5h1M11 23.5h1M9 24.5h1m6 0h1M15 28.5h1M5 29.5h1M3 31.5h1m13 0h1M8 35.5h1M1 36.5h1m3 0h1M21 38.5h1M23 39.5h1M5 41.5h1M24 45.5h1M17 57.5h1M22 58.5h1M17 61.5h1M7 62.5h1M1 63.5h1m14 0h1"/>
<path stroke="#4ca5b1" d="M4 0.5h1M11 1.5h1M9 4.5h1m22 0h1M5 5.5h1m30 0h1M28 9.5h1M8 10.5h1M38 11.5h1M15 12.5h1m18 0h1M10 13.5h1m7 0h1M5 14.5h1m9 0h1m2 0h1m4 0h1M3 15.5h1m27 0h1M6 16.5h1m5 0h1m3 0h1M20 18.5h1m4 0h1m2 0h1M14 19.5h1m2 0h1M8 20.5h1m18 0h1M9 21.5h1m1 0h1m15 0h1M15 22.5h1M16 23.5h1m15 0h1M3 25.5h1m3 0h1m4 0h1M6 26.5h1M18 27.5h1M11 28.5h1M0 30.5h1m21 0h1M15 32.5h1M1 33.5h1M7 35.5h1m3 0h1m1 0h1M22 36.5h1M16 37.5h1M21 39.5h1M19 51.5h1M1 58.5h1M1 60.5h1M16 62.5h1M15 63.5h1M30 64.5h1"/>
<path stroke="#59b4ab" d="M38 2.5h1M3 3.5h1m42 0h1M15 4.5h1M16 5.5h1m11 0h1M7 7.5h1m30 0h1M15 8.5h1M11 9.5h1m17 0h1M36 12.5h1M26 13.5h1m3 0h1M1 14.5h1m12 0h1m14 0h1M11 15.5h1m3 0h1M29 16.5h1m6 0h1M6 17.5h1m10 0h1m7 0h1M11 19.5h1m8 0h1M5 20.5h1M4 21.5h1m23 0h1M17 22.5h1m14 0h1M12 23.5h1m1 0h1M19 24.5h1M14 25.5h1m16 0h1M11 26.5h1M12 28.5h1m18 0h1M0 29.5h1m29 0h1M26 30.5h1M10 31.5h1m7 0h1m3 0h1M7 32.5h1M20 33.5h1M5 34.5h1m8 0h1m2 0h1M0 35.5h1m8 0h1M3 37.5h1M6 38.5h1m0 0h1M9 39.5h1M2 41.5h1m8 0h1M0 46.5h1M10 54.5h1M13 57.5h1M15 58.5h1m2 0h1M12 59.5h1m8 0h1M13 61.5h1M29 62.5h1M28 63.5h1"/>
<path stroke="#66c2a5" d="M41 0.5h1m1 0h1M10 1.5h1M12 2.5h1m33 0h1M42 3.5h1M5 4.5h1m32 0h1M44 5.5h1M8 6.5h1m17 0h1m7 0h1M3 7.5h1m4 0h1M35 8.5h1m3 0h1M4 9.5h1m2 0h1m30 0h1M10 10.5h1M40 12.5h1M4 13.5h1M10 14.5h1m11 0h1m2 0h1M7 15.5h1m1 0h1M19 17.5h1M5 18.5h1m1 0h1m5 0h1m1 0h1m19 0h1M10 19.5h1M11 20.5h1m14 0h1m2 0h1M30 22.5h1M17 23.5h1m2 0h1m6 0h1M13 25.5h1m2 0h1M9 26.5h1m9 0h1M11 27.5h1m0 0h1m0 0h1M3 28.5h1M29 29.5h1m1 0h1M10 30.5h1m17 0h1M6 31.5h1m7 0h1M1 32.5h1m4 0h1m5 0h1M2 33.5h1m31 0h1M11 34.5h1m1 0h1m15 0h1M2 35.5h1m9 0h1M3 36.5h1m10 0h1M8 37.5h1m5 0h1M8 38.5h1M7 39.5h1M6 40.5h1M13 41.5h1M20 51.5h1m4 0h1M12 54.5h1m0 0h1m21 0h1M20 55.5h1M29 56.5h1M30 57.5h1M0 58.5h1m6 0h1m3 0h1m2 0h1m2 0h1m5 0h1M26 60.5h1m4 0h1M12 63.5h1M29 64.5h1"/>
<path stroke="#77c9a5" d="M33 1.5h1m9 0h1M11 2.5h1m29 0h1M29 3.5h1M49 4.5h1M30 5.5h1m1 0h1m7 0h1M42 6.5h1M43 7.5h1M7 8.5h1m5 0h1M9 9.5h1m0 0h1m21 0h1M0 10.5h1m1 0h1m14 0h1m11 0h1M37 11.5h1M26 12.5h1m0 0h1m10 0h1M12 13.5h1m0 0h1m2 0h1m7 0h1M34 14.5h1M16 15.5h1M7 16.5h1m1 0h1m0 0h1m4 0h1m2 0h1m0 0h1M3 17.5h1m7 0h1M3 18.5h1m5 0h1m1 0h1M16 19.5h1M17 20.5h1m10 0h1m4 0h1M12 21.5h1m0 0h1m17 0h1M10 22.5h1m9 0h1M9 23.5h1m5 0h1m13 0h1M15 24.5h1M19 25.5h1m0 0h1M4 27.5h1m9 0h1M24 28.5h1M12 29.5h1M7 30.5h1m1 0h1m3 0h1m1 0h1M15 31.5h1M9 32.5h1m9 0h1M10 33.5h1m8 0h1M0 34.5h1M5 35.5h1m39 0h1M8 36.5h1m8 0h1M0 38.5h1m1 0h1m19 0h1M7 40.5h1m1 0h1M1 42.5h1M2 43.5h1M23 46.5h1M30 52.5h1M18 53.5h1M17 55.5h1M15 56.5h1m2 0h1M15 57.5h1m11 0h1m7 0h1M21 58.5h1M3 59.5h1m7 0h1M14 60.5h1m1 0h1M10 61.5h1m13 0h1M14 62.5h1"/>
<path stroke="#88d0a4" d="M41 1.5h1M27 2.5h1m0 0h1m0 0h1m13 0h1M16 3.5h1M8 4.5h1m25 0h1m4 0h1M9 5.5h1m25 0h1M30 6.5h1M34 7.5h1M0 8.5h1m29 0h1M34 9.5h1m2 0h1M11 10.5h1m19 0h1M7 11.5h1m7 0h1m10 0h1m5 0h1m1 0h1M5 12.5h1m2 0h1m22 0h1m0 0h1M21 13.5h1m9 0h1M2 14.5h1m10 0h1m10 0h1m15 0h1M1 15.5h1m8 0h1m6 0h1m0 0h1m5 0h1m12 0h1M1 16.5h1m1 0h1m1 0h1m18 0h1m0 0h1m0 0h1M4 17.5h1m11 0h1m4 0h1M1 18.5h1m0 0h1m23 0h1m3 0h1m6 0h1M4 19.5h1m1 0h1M21 20.5h1M5 21.5h1m0 0h1m1 0h1m7 0h1M6 22.5h1M28 23.5h1M10 24.5h1m1 0h1m5 0h1M8 25.5h1m30 0h1M18 26.5h1m20 0h1M6 27.5h1m1 0h1m8 0h1M17 28.5h1M7 29.5h1m5 0h1m6 0h1M12 30.5h1m1 0h1m20 0h1M32 31.5h1M8 32.5h1m15 0h1M12 33.5h1M6 34.5h1m5 0h1M24 36.5h1M2 37.5h1m1 0h1M12 38.5h1M2 39.5h1m2 0h1M13 40.5h1M2 42.5h1m2 0h1m14 0h1M25 45.5h1M27 46.5h1M20 50.5h1m7 0h1M22 51.5h1m3 0h1M19 53.5h1m12 0h1M18 54.5h1M25 55.5h1M14 56.5h1M1 57.5h1m19 0h1m0 0h1M0 59.5h1m18 0h1M8 60.5h1M14 61.5h1m20 0h1M15 62.5h1M9 63.5h1m7 0h1m12 0h1"/>
<path stroke="#9ad6a4" d="M15 2.5h1m0 0h1m28 0h1M4 3.5h1m7 0h1m24 0h1m5 0h1M14 4.5h1m22 0h1m5 0h1M10 5.5h1m2 0h1m13 0h1m9 0h1m3 0h1m3 0h1M38 6.5h1m2 0h1m2 0h1M14 7.5h1m13 0h1m4 0h1m5 0h1M0 9.5h1m35 0h1M14 10.5h1m4 0h1m7 0h1m2 0h1m2 0h1M8 11.5h1m11 0h1m7 0h1m11 0h1M11 12.5h1m21 0h1m3 0h1M5 13.5h1m11 0h1m4 0h1m4 0h1m0 0h1m4 0h1m0 0h1M4 14.5h1m4 0h1m1 0h1m4 0h1M2 15.5h1m19 0h1m0 0h1m10 0h1m4 0h1M4 16.5h1m3 0h1m4 0h1m3 0h1m2 0h1m0 0h1M20 17.5h1M10 18.5h1m5 0h1m2 0h1m9 0h1M9 19.5h1m8 0h1m5 0h1m3 0h1m4 0h1M10 20.5h1m7 0h1m16 0h1M33 21.5h1M5 22.5h1m5 0h1m7 0h1M4 23.5h1m2 0h1m15 0h1M0 24.5h1m7 0h1M22 25.5h1m6 0h1m4 0h1M1 26.5h1m5 0h1m0 0h1m5 0h1m2 0h1m10 0h1M7 27.5h1m18 0h1M25 28.5h1M18 29.5h1m0 0h1m12 0h1M16 30.5h1m8 0h1m15 0h1M9 31.5h1m1 0h1m1 0h1m11 0h1m0 0h1M11 32.5h1m13 0h1M2 34.5h1m0 0h1m14 0h1M3 35.5h1m20 0h1M2 36.5h1m18 0h1M7 37.5h1M1 38.5h1m3 0h1m7 0h1M3 40.5h1M10 41.5h1M31 47.5h1M34 50.5h1M22 52.5h1M29 53.5h1M27 54.5h1m2 0h1m0 0h1m2 0h1M19 57.5h1m3 0h1m5 0h1M19 58.5h1M1 59.5h1m14 0h1m1 0h1m4 0h1m2 0h1M12 60.5h1m4 0h1m1 0h1m0 0h1m7 0h1M19 62.5h1M14 63.5h1M10 64.5h1m2 0h1"/>
<path stroke="#abdda4" d="M1 1.5h1m2 0h1m0 0h1M4 4.5h1m8 0h1m2 0h1m12 0h1m1 0h1m4 0h1m4 0h1M6 5.5h1m39 0h1M14 6.5h1m2 0h1m13 0h1m1 0h1m5 0h1M37 7.5h1M4 8.5h1m39 0h1M13 9.5h1m1 0h1M1 10.5h1m24 0h1m10 0h1M1 11.5h1m27 0h1m1 0h1m1 0h1M13 12.5h1m3 0h1m2 0h1m3 0h1M2 13.5h1m0 0h1m4 0h1m5 0h1m5 0h1M8 14.5h1m3 0h1m13 0h1m5 0h1m2 0h1M0 15.5h1m5 0h1m22 0h1m3 0h1M22 16.5h1m17 0h1M8 17.5h1m13 0h1m3 0h1m2 0h1m1 0h1m7 0h1M14 18.5h1M2 19.5h1m0 0h1m1 0h1M16 20.5h1m15 0h1M15 21.5h1m13 0h1M2 22.5h1m36 0h1M25 23.5h1M7 24.5h1m6 0h1m2 0h1m17 0h1M9 25.5h1m0 0h1m0 0h1m29 0h1M13 26.5h1m10 0h1M3 27.5h1m5 0h1m10 0h1m2 0h1M14 28.5h1m14 0h1M1 30.5h1m0 0h1m5 0h1m14 0h1M5 31.5h1M5 32.5h1m11 0h1m8 0h1M0 33.5h1m3 0h1m8 0h1m1 0h1M7 34.5h1M1 35.5h1M13 36.5h1M6 37.5h1M6 39.5h1m3 0h1m7 0h1M2 40.5h1m8 0h1M3 41.5h1m4 0h1M12 42.5h1M20 45.5h1M0 48.5h1m30 0h1M29 49.5h1m2 0h1M0 50.5h1M15 53.5h1M12 55.5h1m8 0h1m1 0h1M1 56.5h1m11 0h1m14 0h1M2 58.5h1m17 0h1m14 0h1M6 59.5h1m17 0h1m4 0h1M6 60.5h1m14 0h1m2 0h1M3 62.5h1m4 0h1m8 0h1m9 0h1M5 63.5h1m7 0h1m13 0h1M16 64.5h1"/>
<path stroke="#bae3a1" d="M31 1.5h1m8 0h1M13 2.5h1M1 3.5h1m29 0h1m1 0h1M2 4.5h1m0 0h1M0 5.5h1m30 0h1m2 0h1m7 0h1m5 0h1M0 6.5h1m4 0h1m19 0h1M12 7.5h1m3 0h1m25 0h1M25 8.5h1m17 0h1M45 9.5h1M6 10.5h1m8 0h1m0 0h1m3 0h1m14 0h1M2 11.5h1M9 12.5h1m4 0h1m4 0h1m3 0h1m4 0h1m10 0h1M20 14.5h1m7 0h1m1 0h1m7 0h1M14 15.5h1m15 0h1m9 0h1M31 16.5h1M10 17.5h1m1 0h1m11 0h1M47 18.5h1M23 19.5h1m1 0h1m0 0h1M4 20.5h1m7 0h1M39 21.5h1M7 22.5h1m4 0h1M8 23.5h1M3 24.5h1m20 0h1m2 0h1m5 0h1M3 26.5h1m1 0h1m15 0h1M2 27.5h1m2 0h1m4 0h1m10 0h1m2 0h1m4 0h1M4 28.5h1m3 0h1m4 0h1m9 0h1M6 29.5h1m3 0h1m12 0h1m1 0h1m17 0h1m0 0h1M33 30.5h1m0 0h1M1 31.5h1m39 0h1m1 0h1m2 0h1M2 32.5h1m0 0h1m25 0h1m0 0h1M26 33.5h1M1 34.5h1m6 0h1m0 0h1m9 0h1M44 35.5h1m1 0h1M7 36.5h1m1 0h1m16 0h1m4 0h1M20 37.5h1m21 0h1M17 38.5h1m1 0h1M0 39.5h1m0 0h1m2 0h1m7 0h1m9 0h1M8 40.5h1m13 0h1m1 0h1M0 41.5h1m11 0h1M0 42.5h1M6 43.5h1m7 0h1m5 0h1M20 44.5h1M0 45.5h1M26 46.5h1M23 47.5h1M23 51.5h1M27 52.5h1M12 53.5h1M14 54.5h1m0 0h1m1 0h1m4 0h1m6 0h1m7 0h1M22 55.5h1m14 0h1M17 56.5h1M8 57.5h1m7 0h1M4 58.5h1m11 0h1m8 0h1m2 0h1m0 0h1M4 59.5h1m5 0h1m6 0h1m2 0h1m6 0h1M7 60.5h1m1 0h1m20 0h1m1 0h1M3 61.5h1m26 0h1m1 0h1m5 0h1M2 62.5h1m10 0h1m12 0h1m6 0h1M0 63.5h1m1 0h1m4 0h1m29 0h1"/>
<path stroke="#c8e99e" d="M12 0.5h1M44 1.5h1M4 2.5h1m0 0h1m1 0h1m22 0h1m3 0h1M7 3.5h1m3 0h1m5 0h1m32 0h1M26 4.5h1m13 0h1m6 0h1m0 0h1M3 5.5h1m3 0h1m31 0h1M12 6.5h1m23 0h1M35 7.5h1M8 8.5h1m1 0h1m5 0h1m16 0h1m2 0h1M1 9.5h1m12 0h1m11 0h1m3 0h1M7 10.5h1m1 0h1m22 0h1m1 0h1m1 0h1M9 11.5h1m25 0h1m7 0h1M29 12.5h1m25 0h1M29 13.5h1m11 0h1M36 14.5h1m4 0h1M5 15.5h1m21 0h1m8 0h1M11 16.5h1m21 0h1M5 17.5h1m1 0h1m15 0h1m3 0h1m2 0h1m3 0h1m3 0h1M27 18.5h1m5 0h1M15 19.5h1M7 20.5h1m7 0h1m22 0h1M10 21.5h1m9 0h1m9 0h1m1 0h1M4 22.5h1m4 0h1m11 0h1m6 0h1m2 0h1M3 23.5h1m2 0h1m11 0h1m0 0h1m2 0h1m22 0h1M5 24.5h1m0 0h1m13 0h1m19 0h1M17 25.5h1m3 0h1m2 0h1m10 0h1m1 0h1M12 26.5h1m2 0h1m4 0h1m21 0h1M30 27.5h1m2 0h1M6 28.5h1m12 0h1m0 0h1m21 0h1m1 0h1M2 29.5h1m18 0h1M11 30.5h1m5 0h1m0 0h1m5 0h1m12 0h1m5 0h1M27 31.5h1M13 32.5h1M17 33.5h1m0 0h1m6 0h1m10 0h1M21 34.5h1m14 0h1M6 35.5h1m20 0h1m9 0h1M0 36.5h1m24 0h1M34 37.5h1m3 0h1M10 38.5h1m3 0h1M3 39.5h1m10 0h1m12 0h1M18 40.5h1m26 0h1M18 41.5h1m3 0h1M3 42.5h1m2 0h1m8 0h1m22 0h1M2 44.5h1m15 0h1M22 45.5h1M2 46.5h1m46 0h1M20 47.5h1m5 0h1M25 48.5h1M27 50.5h1m1 0h1m1 0h1m3 0h1M31 52.5h1m3 0h1M26 53.5h1m7 0h1M33 54.5h1M2 55.5h1M9 56.5h1m1 0h1m12 0h1M11 57.5h1M10 58.5h1m2 0h1m16 0h1M13 59.5h1m8 0h1m9 0h1m1 0h1M4 60.5h1M1 61.5h1m5 0h1m10 0h1m3 0h1m8 0h1M18 62.5h1m6 0h1M4 63.5h1m6 0h1m17 0h1m5 0h1M9 64.5h1m5 0h1"/>
<path stroke="#d7ef9b" d="M42 0.5h1M2 1.5h1m29 0h1M6 2.5h1m1 0h1m33 0h1m4 0h1M13 3.5h1m20 0h1m1 0h1M6 4.5h1m10 0h1m12 0h1m2 0h1M8 5.5h1m24 0h1M32 6.5h1m4 0h1M31 7.5h1m9 0h1m6 0h1M24 8.5h1m9 0h1m3 0h1m1 0h1M12 9.5h1m5 0h1m6 0h1m18 0h1M14 11.5h1m6 0h1m2 0h1m5 0h1M1 12.5h1m33 0h1M0 13.5h1m37 0h1M17 14.5h1m19 0h1m7 0h1M26 15.5h1M0 16.5h1M0 17.5h1m32 0h1M22 18.5h1m1 0h1m6 0h1M1 19.5h1m5 0h1m19 0h1m8 0h1m0 0h1M19 21.5h1m16 0h1M0 22.5h1m21 0h1M2 23.5h1m10 0h1m25 0h1M21 24.5h1m1 0h1m4 0h1m1 0h1M32 25.5h1M0 26.5h1M19 27.5h1m5 0h1M1 28.5h1m19 0h1m6 0h1m6 0h1M11 29.5h1m4 0h1m0 0h1M21 30.5h1m20 0h1M7 31.5h1m21 0h1M33 32.5h1m6 0h1M3 33.5h1m2 0h1m16 0h1M10 34.5h1m26 0h1m1 0h1M17 35.5h1m24 0h1M10 36.5h1M12 37.5h1m19 0h1M4 38.5h1m6 0h1M8 39.5h1m4 0h1m24 0h1M1 40.5h1m2 0h1m16 0h1M7 41.5h1m13 0h1M12 43.5h1M0 44.5h1m25 0h1M19 45.5h1M22 46.5h1M25 47.5h1M27 48.5h1m2 0h1M24 49.5h1m2 0h1m0 0h1m1 0h1m3 0h1M21 50.5h1M21 52.5h1m10 0h1M33 53.5h1M1 54.5h1M10 55.5h1m2 0h1m14 0h1M12 56.5h1M7 57.5h1m4 0h1m13 0h1M8 59.5h1m21 0h1M13 60.5h1m8 0h1m2 0h1M0 61.5h1m7 0h1m2 0h1m13 0h1m0 0h1m1 0h1m0 0h1m4 0h1M12 62.5h1m23 0h1M12 64.5h1"/>
<path stroke="#e6f598" d="M8 1.5h1m3 0h1m13 0h1M31 2.5h1m12 0h1m17 0h1M2 3.5h1m2 0h1m0 0h1m11 0h1m11 0h1m4 0h1m11 0h1M1 4.5h1m10 0h1M15 5.5h1M3 6.5h1m36 0h1m4 0h1m1 0h1m0 0h1M4 7.5h1m22 0h1m2 0h1m1 0h1m3 0h1M26 8.5h1m2 0h1m7 0h1M16 9.5h1m2 0h1m7 0h1M3 10.5h1m9 0h1m4 0h1m9 0h1m9 0h1M3 11.5h1m2 0h1m18 0h1M4 12.5h1m36 0h1m0 0h1M6 13.5h1m12 0h1m5 0h1M0 14.5h1M28 15.5h1M27 16.5h1m0 0h1M40 17.5h1M18 18.5h1m2 0h1m10 0h1M22 19.5h1M24 20.5h1M0 21.5h1m6 0h1m10 0h1m5 0h1m0 0h1m0 0h1M3 22.5h1m4 0h1m27 0h1M5 23.5h1m15 0h1m2 0h1m5 0h1M11 24.5h1m17 0h1M4 25.5h1m1 0h1m8 0h1m2 0h1m4 0h1m1 0h1m7 0h1M4 26.5h1m11 0h1m5 0h1m7 0h1m1 0h1M22 27.5h1m4 0h1M5 28.5h1m1 0h1m1 0h1m8 0h1m8 0h1M9 29.5h1m23 0h1M6 30.5h1M16 31.5h1m2 0h1m8 0h1m2 0h1M4 32.5h1m5 0h1m3 0h1m1 0h1m14 0h1m3 0h1M7 33.5h1m25 0h1m34 0h1M4 34.5h1m11 0h1m16 0h1m1 0h1M14 35.5h1m3 0h1M11 36.5h1m11 0h1m3 0h1m6 0h1M0 37.5h1m8 0h1m11 0h1m4 0h1m32 0h1M3 38.5h1m5 0h1m10 0h1m3 0h1m1 0h1m19 0h1M5 40.5h1m6 0h1m10 0h1m15 0h1M6 41.5h1m29 0h1M7 42.5h1m1 0h1m9 0h1m19 0h1m13 0h1M0 43.5h1m7 0h1m4 0h1m5 0h1M1 45.5h1m35 0h1M29 46.5h1M21 47.5h1m5 0h1M32 48.5h1m1 0h1M22 49.5h1m8 0h1m1 0h1M26 50.5h1m6 0h1M0 51.5h1M20 52.5h1m5 0h1m7 0h1M11 53.5h1M0 54.5h1m10 0h1m7 0h1m0 0h1m2 0h1m1 0h1M0 55.5h1m15 0h1m18 0h1m2 0h1M2 57.5h1m21 0h1m3 0h1m4 0h1M27 58.5h1m4 0h1M9 59.5h1m25 0h1M18 60.5h1m4 0h1M6 61.5h1M1 62.5h1m7 0h1m25 0h1M34 63.5h1m1 0h1M3 64.5h1"/>
<path stroke="#ecf8a2" d="M2 0.5h1m30 0h1M9 2.5h1M15 3.5h1m16 0h1M27 4.5h1M29 5.5h1m8 0h1M6 6.5h1m2 0h1m3 0h1m29 0h1M2 7.5h1m12 0h1m9 0h1M28 8.5h1m2 0h1M31 9.5h1m3 0h1M5 10.5h1m35 0h1m0 0h1m1 0h1M7 12.5h1m8 0h1m4 0h1M35 13.5h1M42 14.5h1M41 15.5h1M34 16.5h1m4 0h1m1 0h1M37 17.5h1M0 18.5h1m16 0h1m20 0h1M8 19.5h1m21 0h1m0 0h1m6 0h1m3 0h1M31 20.5h1M23 22.5h1m0 0h1m8 0h1m22 0h1M41 23.5h1M37 24.5h1m3 0h1M5 25.5h1m24 0h1m9 0h1m1 0h1m1 0h1M26 26.5h1m13 0h1M28 27.5h1m2 0h1m11 0h1m0 0h1M39 28.5h1m3 0h1M15 29.5h1m6 0h1m15 0h1m1 0h1M20 30.5h1M12 31.5h1m11 0h1m5 0h1m2 0h1m3 0h1m2 0h1M46 32.5h1M5 33.5h1m2 0h1m7 0h1m10 0h1m0 0h1m8 0h1M20 34.5h1m3 0h1m1 0h1M4 35.5h1m15 0h1m4 0h1m0 0h1m8 0h1M19 36.5h1M1 37.5h1M25 38.5h1m15 0h1M63 39.5h1M0 40.5h1m9 0h1m3 0h1m4 0h1m5 0h1M23 41.5h1M11 42.5h1m5 0h1M11 43.5h1m6 0h1m16 0h1m2 0h1m1 0h1M9 44.5h1M26 45.5h1M21 46.5h1m17 0h1M22 47.5h1m19 0h1M19 49.5h1M13 50.5h1m9 0h1M1 51.5h1m16 0h1M17 52.5h1m1 0h1M13 53.5h1m2 0h1m0 0h1m17 0h1M24 54.5h1M11 55.5h1m3 0h1m17 0h1M20 56.5h1m4 0h1m0 0h1m0 0h1m6 0h1m0 0h1m0 0h1m15 0h1M3 57.5h1m10 0h1m16 0h1m4 0h1M26 58.5h1M25 59.5h1m15 0h1M2 60.5h1M21 61.5h1M4 62.5h1m0 0h1m5 0h1m16 0h1m5 0h1m3 0h1M33 63.5h1M11 64.5h1m22 0h1"/>
<path stroke="#f2faac" d="M1 2.5h1m12 0h1m2 0h1m14 0h1m0 0h1M8 3.5h1m15 0h1m1 0h1m11 0h1M7 4.5h1m20 0h1m6 0h1m19 0h1M1 5.5h1m0 0h1m9 0h1m37 0h1M10 7.5h1m6 0h1m6 0h1M1 8.5h1m0 0h1m0 0h1m1 0h1m5 0h1m0 0h1m1 0h1m26 0h1M3 9.5h1m1 0h1m14 0h1m3 0h1m8 0h1m5 0h1M53 10.5h1M19 11.5h1m22 0h1M0 12.5h1m66 0h1M1 13.5h1m35 0h1m2 0h1M39 14.5h1M38 15.5h1M9 17.5h1m22 0h1m2 0h1m20 0h1M6 18.5h1M34 19.5h1m0 0h1M22 20.5h1m11 0h1M41 21.5h1M18 22.5h1m10 0h1m10 0h1M44 24.5h1m0 0h1M25 26.5h1m12 0h1m6 0h1M37 27.5h1m2 0h1m19 0h1M26 28.5h1m3 0h1M1 29.5h1m24 0h1m8 0h1M3 30.5h1m34 0h1M4 31.5h1m37 0h1m1 0h1m0 0h1M21 32.5h1m6 0h1m14 0h1M42 33.5h1m0 0h1M15 34.5h1m7 0h1m3 0h1m26 0h1M15 35.5h1m7 0h1m5 0h1m0 0h1M12 36.5h1m5 0h1m9 0h1M11 37.5h1m5 0h1m18 0h1m3 0h1M16 38.5h1m1 0h1m8 0h1m11 0h1M15 39.5h1m10 0h1M1 41.5h1m7 0h1m14 0h1m0 0h1m0 0h1M10 42.5h1M4 43.5h1m12 0h1m3 0h1M1 44.5h1m12 0h1m23 0h1M21 45.5h1m16 0h1M25 46.5h1m12 0h1M24 47.5h1M36 49.5h1m34 0h1M19 50.5h1M27 51.5h1M13 52.5h1m1 0h1m0 0h1m6 0h1m9 0h1m8 0h1M20 53.5h1m6 0h1m2 0h1M8 54.5h1m7 0h1m4 0h1m14 0h1m33 0h1M30 55.5h1M0 56.5h1M0 57.5h1m8 0h1m0 0h1m9 0h1m11 0h1m1 0h1M3 58.5h1m2 0h1M28 59.5h1m10 0h1M33 60.5h1M19 61.5h1m0 0h1m6 0h1m5 0h1M10 62.5h1M10 63.5h1"/>
<path stroke="#f9fcb5" d="M8 0.5h1M6 1.5h1m2 0h1m3 0h1m0 0h1m14 0h1M18 2.5h1M41 3.5h1m2 0h1m0 0h1M0 4.5h1m9 0h1m8 0h1m22 0h1m1 0h1M4 5.5h1m20 0h1m23 0h1M1 6.5h1m9 0h1M9 7.5h1m16 0h1m18 0h1M27 8.5h1m34 0h1M4 10.5h1m7 0h1m12 0h1m13 0h1M17 11.5h1m0 0h1m3 0h1m0 0h1m17 0h1m4 0h1m5 0h1M3 12.5h1m39 0h1M23 13.5h1m15 0h1M43 14.5h1M32 15.5h1m13 0h1M32 16.5h1m4 0h1m0 0h1M2 17.5h1m33 0h1M32 19.5h1M23 20.5h1m1 0h1m11 0h1m2 0h1M3 21.5h1M37 22.5h1m4 0h1M0 23.5h1m0 0h1m36 0h1M1 24.5h1m24 0h1m4 0h1m7 0h1M55 25.5h1M2 26.5h1m30 0h1m12 0h1M0 27.5h1m37 0h1m0 0h1M0 28.5h1m31 0h1m0 0h1M27 29.5h1M5 30.5h1m33 0h1M20 31.5h1m0 0h1m13 0h1M34 32.5h1m2 0h1m7 0h1M32 33.5h1m13 0h1m1 0h1M32 34.5h1M10 35.5h1m8 0h1m8 0h1m7 0h1m1 0h1m1 0h1m30 0h1M6 36.5h1m8 0h1M10 37.5h1m8 0h1m5 0h1m2 0h1M34 38.5h1m5 0h1M28 39.5h1M15 41.5h1m22 0h1M8 42.5h1m9 0h1m30 0h1m21 0h1M7 43.5h1m7 0h1m8 0h1M22 44.5h1m4 0h1m24 0h1m8 0h1M59 45.5h1M20 46.5h1m15 0h1m4 0h1M0 47.5h1M28 48.5h1m4 0h1m1 0h1M23 49.5h1m11 0h1M13 51.5h1m16 0h1m0 0h1m10 0h1M21 53.5h1m0 0h1m1 0h1M3 54.5h1M1 55.5h1m12 0h1m12 0h1m3 0h1M2 56.5h1m13 0h1m2 0h1m17 0h1M6 57.5h1m11 0h1M5 58.5h1m3 0h1M5 60.5h1m28 0h1M12 61.5h1m23 0h1M0 62.5h1M19 64.5h1"/>
<path stroke="#ffffbf" d="M2 2.5h1m23 0h1M27 3.5h1m12 0h1M45 4.5h1m6 0h1M11 5.5h1M4 6.5h1m19 0h1m4 0h1M13 7.5h1M32 8.5h1m12 0h1M46 9.5h1m2 0h1m2 0h1M6 12.5h1m15 0h1m21 0h1M36 13.5h1M20 15.5h1m4 0h1M2 16.5h1m32 0h1m6 0h1m16 0h1M41 17.5h1M14 20.5h1m15 0h1M44 21.5h1m3 0h1M1 22.5h1m33 0h1M36 23.5h1m3 0h1m5 0h1m6 0h1M4 24.5h1m20 0h1m8 0h1m1 0h1m10 0h1M26 25.5h1M27 26.5h1m8 0h1M35 27.5h1m5 0h1m0 0h1M38 28.5h1m1 0h1m0 0h1M14 29.5h1M40 30.5h1m14 0h1M38 31.5h1m12 0h1M21 33.5h1m2 0h1m19 0h1M34 34.5h1m3 0h1m3 0h1M31 35.5h1m15 0h1m7 0h1M16 36.5h1m13 0h1m20 0h1M13 37.5h1m25 0h1m12 0h1m13 0h1M38 38.5h1m15 0h1m3 0h1m8 0h1M20 39.5h1m18 0h1m1 0h1m0 0h1m4 0h1M44 40.5h1m4 0h1M16 41.5h1M1 43.5h1m1 0h1m1 0h1m4 0h1m16 0h1m32 0h1M24 44.5h1m0 0h1m6 0h1m0 0h1M2 45.5h1M31 46.5h1m1 0h1m25 0h1M32 47.5h1m0 0h1m0 0h1m1 0h1m8 0h1M22 48.5h1m6 0h1M0 49.5h1m15 0h1m9 0h1M24 50.5h1m25 0h1m4 0h1M17 51.5h1m3 0h1m2 0h1m14 0h1m3 0h1M11 52.5h1m16 0h1M31 53.5h1m13 0h1M43 54.5h1M19 55.5h1M23 56.5h1m7 0h1m0 0h1m0 0h1M25 57.5h1M31 58.5h1M7 59.5h1M0 60.5h1m2 0h1m23 0h1m7 0h1m0 0h1M2 61.5h1m1 0h1m0 0h1m17 0h1M6 62.5h1m17 0h1m12 0h1M18 63.5h1"/>
<path stroke="#fff7b2" d="M63 0.5h1M23 2.5h1m1 0h1M9 3.5h1m0 0h1m12 0h1m4 0h1m25 0h1M46 4.5h1m19 0h1M47 5.5h1M18 6.5h1m8 0h1m34 0h1M11 7.5h1m17 0h1m16 0h1m2 0h1M9 8.5h1m11 0h1M8 9.5h1m13 0h1m17 0h1M24 10.5h1m18 0h1M11 11.5h1M47 12.5h1M66 13.5h1M47 14.5h1M4 15.5h1m38 0h1m1 0h1M46 16.5h1M1 17.5h1m69 0h1M23 18.5h1m12 0h1m2 0h1M0 19.5h1M23 21.5h1m16 0h1M25 22.5h1m0 0h1m21 0h1m6 0h1m15 0h1M26 23.5h1m6 0h1m8 0h1m12 0h1M2 24.5h1m29 0h1m10 0h1M27 25.5h1m8 0h1M23 26.5h1m11 0h1m5 0h1m1 0h1M1 27.5h1m30 0h1m1 0h1m18 0h1M34 28.5h1m1 0h1M34 29.5h1M19 30.5h1m16 0h1m7 0h1m1 0h1M36 31.5h1M18 32.5h1m1 0h1m11 0h1m6 0h1m1 0h1m0 0h1m28 0h1M30 33.5h1m4 0h1M22 34.5h1m2 0h1m5 0h1m15 0h1M21 35.5h1m0 0h1m10 0h1M20 36.5h1m15 0h1m9 0h1m5 0h1M18 37.5h1m4 0h1m9 0h1M23 38.5h1m5 0h1M11 39.5h1m31 0h1m1 0h1M17 40.5h1m2 0h1m6 0h1m25 0h1M19 41.5h1m0 0h1m24 0h1M4 42.5h1m19 0h1m2 0h1m7 0h1m4 0h1m0 0h1m9 0h1m17 0h1M28 43.5h1m13 0h1M3 44.5h1m4 0h1m7 0h1m2 0h1m3 0h1m17 0h1M9 45.5h1m26 0h1m3 0h1m25 0h1M28 46.5h1m3 0h1m22 0h1M1 47.5h1m9 0h1m17 0h1m0 0h1m8 0h1m0 0h1M38 49.5h1M15 50.5h1m9 0h1M29 51.5h1M1 52.5h1m16 0h1m32 0h1M10 53.5h1m12 0h1m1 0h1m17 0h1M26 54.5h1m1 0h1M18 55.5h1m5 0h1m9 0h1m1 0h1M22 56.5h1m7 0h1M5 57.5h1M24 58.5h1m9 0h1M40 60.5h1M9 61.5h1M30 62.5h1M14 64.5h1m2 0h1"/>
<path stroke="#fef0a5" d="M7 1.5h1m15 0h1m36 0h1M61 2.5h1M48 3.5h1M11 4.5h1m13 0h1m27 0h1M14 5.5h1m2 0h1m8 0h1m24 0h1M28 6.5h1m17 0h1M5 7.5h1m45 0h1M22 8.5h1M6 9.5h1m14 0h1M40 10.5h1m5 0h1m4 0h1M71 11.5h1M2 12.5h1m48 0h1M44 14.5h1m9 0h1M44 15.5h1m8 0h1m17 0h1M58 17.5h1M64 18.5h1m6 0h1M36 20.5h1m9 0h1M43 21.5h1m16 0h1M38 22.5h1m4 0h1m1 0h1M43 23.5h1m3 0h1M22 24.5h1M1 25.5h1M31 26.5h1M54 27.5h1M22 28.5h1M29 30.5h1m15 0h1M39 31.5h1m7 0h1m8 0h1M38 32.5h1m12 0h1M11 33.5h1m10 0h1m8 0h1m26 0h1M30 34.5h1m15 0h1M32 35.5h1m10 0h1M32 36.5h1m4 0h1m0 0h1m4 0h1m0 0h1m2 0h1m2 0h1m16 0h1M22 37.5h1m1 0h1m4 0h1m18 0h1m20 0h1M32 38.5h1m4 0h1m4 0h1m6 0h1M48 39.5h1M35 41.5h1M14 42.5h1m7 0h1m13 0h1m7 0h1m12 0h1M25 43.5h1m17 0h1M11 44.5h1m0 0h1m8 0h1m13 0h1m1 0h1m22 0h1m2 0h1m5 0h1M18 45.5h1m20 0h1M35 47.5h1m2 0h1m2 0h1M19 48.5h1m18 0h1m0 0h1M11 49.5h1m6 0h1m1 0h1m16 0h1m5 0h1m14 0h1M2 50.5h1M10 52.5h1m3 0h1m14 0h1m15 0h1M14 53.5h1M29 55.5h1m2 0h1m8 0h1M3 56.5h1m17 0h1m18 0h1m10 0h1m16 0h1M4 57.5h1m40 0h1M31 59.5h1m5 0h1M10 60.5h1M37 61.5h1M20 62.5h1m1 0h1"/>
<path stroke="#fee898" d="M63 1.5h1m0 0h1M19 3.5h1m29 0h1M58 5.5h1M50 6.5h1m1 0h1M0 7.5h1M23 8.5h1m24 0h1m16 0h1m2 0h1M17 9.5h1m24 0h1M21 10.5h1m0 0h1m22 0h1M44 11.5h1M44 13.5h1m26 0h1M21 14.5h1m49 0h1M59 15.5h1M47 16.5h1M55 17.5h1M41 18.5h1M0 20.5h1m2 0h1m41 0h1M22 21.5h1m11 0h1m0 0h1m11 0h1m2 0h1m1 0h1M47 22.5h1m4 0h1M10 23.5h1m23 0h1m2 0h1m6 0h1m9 0h1M46 24.5h1M43 25.5h1M34 26.5h1M37 28.5h1m12 0h1M4 29.5h1m34 0h1m13 0h1M52 30.5h1M47 32.5h1m8 0h1M29 33.5h1m30 0h1M48 34.5h1m3 0h1m3 0h1M39 35.5h1m1 0h1M40 36.5h1m0 0h1m3 0h1m8 0h1m11 0h1M31 37.5h1m3 0h1m10 0h1m21 0h1M31 38.5h1m23 0h1M17 39.5h1m1 0h1m4 0h1m26 0h1M15 40.5h1m0 0h1m30 0h1m4 0h1m18 0h1M37 41.5h1m3 0h1m1 0h1m2 0h1M13 42.5h1m11 0h1m30 0h1m4 0h1m6 0h1M16 43.5h1m9 0h1m35 0h1M6 44.5h1m22 0h1m0 0h1m0 0h1m4 0h1M10 45.5h1m12 0h1m6 0h1m2 0h1m0 0h1m22 0h1M1 46.5h1m17 0h1m4 0h1m12 0h1m13 0h1m10 0h1M28 47.5h1M18 48.5h1m25 0h1M10 49.5h1m6 0h1m7 0h1m26 0h1M10 50.5h1m27 0h1m27 0h1M28 51.5h1m3 0h1m3 0h1m7 0h1m0 0h1m3 0h1m5 0h1M25 52.5h1M28 53.5h1M40 54.5h1M43 55.5h1M7 56.5h1m30 0h1m3 0h1M41 57.5h1M33 58.5h1m4 0h1m1 0h1M5 59.5h1m30 0h1M29 60.5h1m8 0h1m0 0h1m1 0h1m23 0h1m2 0h1M8 63.5h1m15 0h1M23 64.5h1"/>
<path stroke="#fee08b" d="M62 1.5h1M0 3.5h1M18 4.5h1m31 0h1M60 5.5h1M10 6.5h1m40 0h1M18 7.5h1m2 0h1m25 0h1M63 8.5h1M23 9.5h1m27 0h1M55 10.5h1m6 0h1M45 12.5h1m8 0h1M45 13.5h1m1 0h1M43 16.5h1m19 0h1M44 17.5h1m16 0h1M42 18.5h1M45 19.5h1M53 20.5h1m17 0h1M49 21.5h1m21 0h1M59 22.5h1M0 25.5h1m37 0h1m8 0h1m6 0h1M29 26.5h1m7 0h1m18 0h1M48 27.5h1m6 0h1M2 28.5h1m54 0h1m1 0h1M24 29.5h1m11 0h1M30 30.5h1M50 31.5h1m20 0h1M27 32.5h1M38 33.5h1m1 0h1m9 0h1m20 0h1M40 34.5h1m2 0h1m5 0h1m21 0h1M16 35.5h1m17 0h1m25 0h1M35 36.5h1m17 0h1m15 0h1m0 0h1M15 37.5h1m11 0h1m2 0h1m20 0h1m3 0h1m7 0h1M30 38.5h1m22 0h1m14 0h1M25 39.5h1m3 0h1m7 0h1m8 0h1M40 40.5h1m16 0h1m3 0h1m8 0h1M14 41.5h1m24 0h1M16 42.5h1m4 0h1m15 0h1M9 43.5h1m21 0h1m5 0h1m1 0h1m13 0h1m12 0h1M59 44.5h1M4 45.5h1m22 0h1m1 0h1m2 0h1m11 0h1m1 0h1M40 46.5h1M18 47.5h1m0 0h1m34 0h1M4 48.5h1m8 0h1m2 0h1m6 0h1m0 0h1m1 0h1m9 0h1m0 0h1m4 0h1m11 0h1m15 0h1M44 49.5h1m24 0h1M1 50.5h1m20 0h1m18 0h1m2 0h1M11 51.5h1m21 0h1m14 0h1M12 52.5h1m23 0h1m18 0h1M47 53.5h1m6 0h1M32 54.5h1m8 0h1m9 0h1M46 55.5h1M5 56.5h1m4 0h1m34 0h1M70 57.5h1M39 58.5h1m3 0h1M40 59.5h1m28 0h1M37 60.5h1M40 61.5h1M23 62.5h1M25 63.5h1"/>
<path stroke="#fed480" d="M66 2.5h1m0 0h1M25 3.5h1m32 0h1M52 5.5h1M50 7.5h1m2 0h1m10 0h1m0 0h1m0 0h1m1 0h1M42 8.5h1m18 0h1M48 9.5h1M48 10.5h1m3 0h1M39 11.5h1M25 12.5h1M46 14.5h1M42 15.5h1M52 16.5h1m5 0h1M42 17.5h1m0 0h1m9 0h1m6 0h1m2 0h1M39 19.5h1m1 0h1m11 0h1M39 20.5h1m21 0h1M37 21.5h1m4 0h1m3 0h1m9 0h1m1 0h1M49 22.5h1M28 25.5h1m16 0h1M56 30.5h1M34 31.5h1m18 0h1m5 0h1m9 0h1M44 32.5h1M41 33.5h1m3 0h1m7 0h1m1 0h1m6 0h1M28 34.5h1m12 0h1m8 0h1m15 0h1m2 0h1M48 35.5h1m3 0h1M33 36.5h1m5 0h1m15 0h1m3 0h1M37 37.5h1m18 0h1m1 0h1m3 0h1m7 0h1M36 38.5h1m6 0h1m0 0h1m0 0h1m1 0h1M55 39.5h1M28 40.5h1m0 0h1m20 0h1m4 0h1m8 0h1M61 41.5h1M32 43.5h1m19 0h1m6 0h1m11 0h1M13 44.5h1m3 0h1m16 0h1m23 0h1m11 0h1M3 45.5h1m39 0h1m12 0h1M45 46.5h1m12 0h1m10 0h1M2 47.5h1m45 0h1m1 0h1m6 0h1M3 48.5h1m39 0h1m3 0h1M14 50.5h1m15 0h1m15 0h1m7 0h1M34 51.5h1m30 0h1m4 0h1M0 52.5h1m23 0h1m18 0h1M0 53.5h1m38 0h1m4 0h1m22 0h1M38 54.5h1M3 55.5h1m22 0h1m28 0h1M39 56.5h1M39 57.5h1m14 0h1m1 0h1m14 0h1M41 58.5h1m28 0h1M66 59.5h1M19 63.5h1M20 64.5h1"/>
<path stroke="#fec776" d="M24 0.5h1M25 1.5h1M57 4.5h1m7 0h1M57 5.5h1M57 7.5h1m3 0h1M18 8.5h1m28 0h1m2 0h1m9 0h1M47 9.5h1M23 10.5h1M45 11.5h1m4 0h1m15 0h1M46 12.5h1m9 0h1M42 13.5h1m21 0h1m4 0h1M56 15.5h1M44 16.5h1m9 0h1M45 17.5h1M47 19.5h1m12 0h1m2 0h1M43 20.5h1m5 0h1M38 21.5h1m12 0h1M51 22.5h1M31 23.5h1m16 0h1m7 0h1M2 25.5h1M44 26.5h1m2 0h1M36 27.5h1M37 29.5h1m4 0h1m11 0h1m5 0h1m0 0h1M61 31.5h1m0 0h1M36 32.5h1m11 0h1m5 0h1m2 0h1M51 33.5h1m9 0h1M45 34.5h1m9 0h1M49 35.5h1m19 0h1m0 0h1M56 36.5h1m0 0h1m4 0h1M43 37.5h1m6 0h1m20 0h1M15 38.5h1m19 0h1m24 0h1m1 0h1M54 39.5h1m6 0h1m0 0h1M38 40.5h1m9 0h1m2 0h1m10 0h1M17 41.5h1m30 0h1m2 0h1m10 0h1m0 0h1M34 42.5h1m35 0h1M29 43.5h1m4 0h1m1 0h1M43 44.5h1M14 45.5h1m50 0h1M17 46.5h1m12 0h1m12 0h1m9 0h1M20 48.5h1m0 0h1m41 0h1M1 49.5h1m1 0h1m41 0h1m1 0h1m1 0h1m1 0h1m16 0h1M12 50.5h1m3 0h1m0 0h1m18 0h1m8 0h1m7 0h1m5 0h1M14 51.5h1m20 0h1m15 0h1m19 0h1M44 52.5h1m2 0h1m23 0h1M41 53.5h1m0 0h1m8 0h1M6 55.5h1m1 0h1m0 0h1m43 0h1m10 0h1M50 56.5h1m2 0h1M40 57.5h1m1 0h1M44 58.5h1M38 59.5h1M63 60.5h1M39 61.5h1M23 63.5h1M18 64.5h1"/>
<path stroke="#fdba6c" d="M24 1.5h1M24 4.5h1m26 0h1m4 0h1m2 0h1m1 0h1M64 5.5h1M23 6.5h1m34 0h1M52 7.5h1m3 0h1M46 8.5h1M53 9.5h1M56 10.5h1M59 11.5h1M46 13.5h1M68 14.5h1M57 15.5h1M48 17.5h1m21 0h1M60 18.5h1M65 19.5h1M2 20.5h1m39 0h1m12 0h1M45 21.5h1M34 22.5h1m9 0h1m5 0h1M50 23.5h1M38 24.5h1M46 25.5h1m6 0h1M56 27.5h1M28 29.5h1m16 0h1m10 0h1M31 30.5h1m21 0h1m0 0h1m3 0h1m3 0h1M57 31.5h1M61 34.5h1m6 0h1M50 35.5h1m5 0h1m0 0h1m9 0h1M61 36.5h1m6 0h1M54 37.5h1M48 38.5h1M34 39.5h1m5 0h1m12 0h1m5 0h1m4 0h1m0 0h1m0 0h1M34 40.5h1m6 0h1m26 0h1M44 41.5h1M26 42.5h1m1 0h1m14 0h1m16 0h1M23 43.5h1m17 0h1m6 0h1m0 0h1m0 0h1m4 0h1M7 44.5h1m42 0h1m14 0h1M6 45.5h1m4 0h1m16 0h1M57 46.5h1m2 0h1M16 47.5h1m26 0h1m8 0h1m5 0h1m7 0h1M65 48.5h1m2 0h1m0 0h1M15 49.5h1m5 0h1m26 0h1m13 0h1m1 0h1M18 50.5h1m39 0h1m2 0h1m2 0h1m6 0h1M12 51.5h1m2 0h1m25 0h1m4 0h1M8 52.5h1m32 0h1m8 0h1m18 0h1M2 53.5h1M9 54.5h1m29 0h1m7 0h1m16 0h1m0 0h1m1 0h1M7 55.5h1m34 0h1m11 0h1m12 0h1M4 56.5h1m43 0h1m16 0h1m3 0h1M42 58.5h1m25 0h1M42 59.5h1M11 60.5h1m55 0h1"/>
<path stroke="#fdae61" d="M60 2.5h1m7 0h1M67 3.5h1M18 5.5h1m5 0h1m28 0h1m13 0h1M54 9.5h1m0 0h1m6 0h1M54 10.5h1m11 0h1m3 0h1M48 11.5h1m2 0h1m2 0h1M53 12.5h1M49 13.5h1M58 15.5h1m1 0h1M56 16.5h1m5 0h1m5 0h1m0 0h1M54 17.5h1m4 0h1m4 0h1M43 18.5h1m1 0h1m5 0h1m4 0h1M43 19.5h1m17 0h1M57 20.5h1M59 21.5h1M52 23.5h1M56 24.5h1M68 27.5h1M45 28.5h1m1 0h1m6 0h1m15 0h1M52 29.5h1M32 30.5h1M9 33.5h1m42 0h1M48 36.5h1m0 0h1m21 0h1M41 37.5h1m5 0h1m1 0h1M52 38.5h1m17 0h1m0 0h1M16 39.5h1m14 0h1m20 0h1M26 40.5h1m19 0h1m11 0h1m7 0h1m2 0h1M27 41.5h1m1 0h1m10 0h1m12 0h1m10 0h1M59 42.5h1M22 43.5h1m34 0h1m3 0h1M4 44.5h1m42 0h1m0 0h1M7 45.5h1m4 0h1m2 0h1m15 0h1M12 46.5h1m21 0h1m0 0h1M12 47.5h1m48 0h1m2 0h1m3 0h1M59 48.5h1m0 0h1M2 49.5h1m54 0h1m12 0h1M11 50.5h1m20 0h1m4 0h1m2 0h1m8 0h1m18 0h1M37 51.5h1m19 0h1m6 0h1M1 53.5h1m35 0h1m17 0h1M7 54.5h1m36 0h1m5 0h1M4 55.5h1m35 0h1m4 0h1m4 0h1m0 0h1m16 0h1M6 56.5h1m34 0h1m1 0h1m18 0h1M50 57.5h1M37 58.5h1m18 0h1M63 59.5h1M42 60.5h1"/>
<path stroke="#fb9e5a" d="M66 1.5h1m0 0h1M22 2.5h1m42 0h1M57 3.5h1m4 0h1M54 4.5h1m3 0h1m3 0h1m4 0h1M19 5.5h1m34 0h1m8 0h1M70 6.5h1M69 7.5h1M19 8.5h1m32 0h1M56 9.5h1m7 0h1m1 0h1m2 0h1m1 0h1M49 10.5h1m8 0h1m4 0h1m3 0h1M56 11.5h1m4 0h1M43 13.5h1M49 14.5h1M48 15.5h1m6 0h1M53 16.5h1m11 0h1m5 0h1M46 17.5h1m0 0h1m19 0h1M55 19.5h1m1 0h1M47 20.5h1m2 0h1m1 0h1m3 0h1m8 0h1M60 22.5h1M58 23.5h1m0 0h1M49 24.5h1M59 26.5h1M49 27.5h1m1 0h1m6 0h1m0 0h1M48 28.5h1m4 0h1m1 0h1M49 29.5h1m5 0h1m11 0h1M47 30.5h1m0 0h1m10 0h1m1 0h1m1 0h1m5 0h1M52 31.5h1M49 32.5h1m0 0h1m2 0h1m4 0h1M39 33.5h1m14 0h1M60 34.5h1m1 0h1M42 36.5h1M45 37.5h1m7 0h1m3 0h1m9 0h1M28 38.5h1m21 0h1m13 0h1m1 0h1m2 0h1M50 39.5h1m9 0h1M37 40.5h1m18 0h1m10 0h1M66 41.5h1M30 42.5h1m15 0h1m5 0h1m1 0h1m8 0h1m1 0h1m0 0h1M56 43.5h1m11 0h1M64 44.5h1M16 45.5h1m36 0h1M3 46.5h1m14 0h1m29 0h1m5 0h1m12 0h1M4 47.5h1M1 48.5h1m0 0h1m7 0h1m4 0h1m36 0h1m0 0h1M42 49.5h1m20 0h1M3 50.5h1m56 0h1M10 51.5h1m43 0h1M49 52.5h1m4 0h1m1 0h1M40 53.5h1m8 0h1m15 0h1M2 54.5h1m49 0h1m16 0h1M56 55.5h1m9 0h1M44 56.5h1M55 57.5h1m6 0h1m4 0h1M71 58.5h1M66 60.5h1M22 64.5h1"/>
<path stroke="#f88e52" d="M66 0.5h1M69 2.5h1M20 3.5h1m40 0h1m2 0h1M64 4.5h1m3 0h1M59 5.5h1m6 0h1M60 6.5h1m3 0h1m0 0h1m1 0h1m0 0h1M19 7.5h1M67 8.5h1M50 9.5h1M64 10.5h1M55 11.5h1m9 0h1M67 13.5h1m0 0h1M51 14.5h1M51 15.5h1m2 0h1m15 0h1M45 16.5h1m11 0h1m2 0h1M52 17.5h1M46 18.5h1m12 0h1m5 0h1M51 19.5h1m14 0h1M54 20.5h1m9 0h1M55 21.5h1m13 0h1M54 22.5h1m15 0h1M35 23.5h1m13 0h1M50 24.5h1m11 0h1M56 25.5h1M48 26.5h1m6 0h1m2 0h1M52 27.5h1M49 28.5h1m8 0h1m1 0h1M41 29.5h1m28 0h1m0 0h1M49 30.5h1m1 0h1m5 0h1m2 0h1m10 0h1M48 31.5h1m17 0h1M69 32.5h1M70 33.5h1M59 34.5h1m10 0h1M51 35.5h1M29 36.5h1m28 0h1M33 38.5h1m25 0h1m3 0h1M33 39.5h1m15 0h1M43 40.5h1m21 0h1M28 41.5h1m18 0h1m1 0h1m8 0h1m10 0h1m1 0h1M23 42.5h1m23 0h1m2 0h1M5 44.5h1m22 0h1m10 0h1m14 0h1m1 0h1m10 0h1M41 45.5h1m3 0h1m8 0h1m0 0h1m11 0h1M10 46.5h1m31 0h1m1 0h1m11 0h1M14 47.5h1m31 0h1m8 0h1m9 0h1M5 48.5h1m34 0h1m0 0h1m4 0h1m15 0h1M9 49.5h1m45 0h1m9 0h1M39 50.5h1m16 0h1m10 0h1M50 51.5h1m2 0h1m4 0h1m2 0h1m4 0h1m2 0h1M2 52.5h1m49 0h1m10 0h1m0 0h1M3 53.5h1m5 0h1m46 0h1m12 0h1M6 54.5h1m38 0h1M39 55.5h1m4 0h1m3 0h1m22 0h1M8 56.5h1m38 0h1m1 0h1m20 0h1M38 57.5h1M62 58.5h1m4 0h1M67 59.5h1M61 60.5h1m7 0h1m1 0h1M63 61.5h1"/>
<path stroke="#f67d4a" d="M64 0.5h1m0 0h1M59 1.5h1m5 0h1M59 2.5h1m3 0h1m7 0h1M56 5.5h1m5 0h1m2 0h1M61 6.5h1M62 7.5h1M54 8.5h1m4 0h1M50 10.5h1m9 0h1m10 0h1M62 11.5h1m0 0h1m4 0h1M64 12.5h1m5 0h1M50 14.5h1m15 0h1m2 0h1m0 0h1M68 15.5h1M67 16.5h1m2 0h1M62 17.5h1M49 18.5h1m8 0h1M46 19.5h1m23 0h1M41 20.5h1m9 0h1m11 0h1M54 21.5h1M46 22.5h1m6 0h1m4 0h1m3 0h1M57 23.5h1m3 0h1m9 0h1M59 24.5h1M70 26.5h1M47 27.5h1m2 0h1M61 28.5h1m0 0h1M50 29.5h1m8 0h1M55 31.5h1m14 0h1M55 32.5h1m4 0h1m3 0h1M67 33.5h1M57 34.5h1m5 0h1M53 35.5h1m9 0h1M60 37.5h1m0 0h1M56 38.5h1m8 0h1M35 39.5h1M42 40.5h1M55 41.5h1m1 0h1m2 0h1M42 42.5h1m2 0h1M30 43.5h1m2 0h1m30 0h1M15 44.5h1m26 0h1m19 0h1m3 0h1m1 0h1m2 0h1M35 45.5h1m26 0h1m0 0h1M5 46.5h1m7 0h1m38 0h1M9 47.5h1m37 0h1m3 0h1m1 0h1M17 48.5h1m31 0h1m6 0h1m1 0h1M12 49.5h1m41 0h1m5 0h1M9 50.5h1m32 0h1m5 0h1m14 0h1m1 0h1M52 51.5h1m7 0h1m2 0h1M3 52.5h1m5 0h1m27 0h1m1 0h1m13 0h1M38 53.5h1m11 0h1m1 0h1M71 54.5h1M5 55.5h1m41 0h1m4 0h1m8 0h1M46 56.5h1m7 0h1m0 0h1M43 57.5h1m8 0h1m16 0h1M69 58.5h1M60 59.5h1m10 0h1"/>
<path stroke="#f46d43" d="M63 3.5h1m1 0h1m0 0h1M23 4.5h1m46 0h1M68 5.5h1M19 6.5h1m1 0h1m31 0h1m9 0h1m2 0h1M1 7.5h1m18 0h1m38 0h1m0 0h1m10 0h1M58 8.5h1M65 9.5h1m4 0h1M65 10.5h1m3 0h1M49 11.5h1M48 12.5h1M51 13.5h1m2 0h1m8 0h1m1 0h1M53 14.5h1m2 0h1m8 0h1m1 0h1M47 15.5h1m15 0h1M55 16.5h1M49 17.5h1M50 18.5h1m11 0h1m3 0h1M56 19.5h1M60 20.5h1m1 0h1M57 21.5h1m12 0h1M57 22.5h1m5 0h1M51 23.5h1M42 24.5h1m5 0h1m8 0h1m2 0h1M57 25.5h1m2 0h1m1 0h1m8 0h1M57 26.5h1M46 27.5h1m10 0h1m8 0h1m3 0h1M65 28.5h1m1 0h1M62 29.5h1m0 0h1m0 0h1M50 30.5h1m16 0h1M49 31.5h1m15 0h1M59 32.5h1m8 0h1M65 33.5h1m3 0h1M44 34.5h1M54 35.5h1m7 0h1M61 38.5h1M56 39.5h1m1 0h1m11 0h1M30 40.5h1m23 0h1m5 0h1M34 41.5h1m17 0h1m12 0h1m4 0h1M62 42.5h1m1 0h1M51 43.5h1m17 0h1M44 44.5h1m0 0h1m5 0h1M42 45.5h1m4 0h1M4 46.5h1m10 0h1m31 0h1m2 0h1m15 0h1M17 47.5h1m31 0h1m12 0h1m0 0h1M11 48.5h1m36 0h1m8 0h1m3 0h1M39 49.5h1M47 50.5h1m9 0h1m11 0h1M2 51.5h1m35 0h1m28 0h1M67 52.5h1M8 53.5h1m37 0h1m1 0h1m14 0h1M49 54.5h1m9 0h1M61 56.5h1M66 57.5h1M36 58.5h1m28 0h1M61 59.5h1m8 0h1M64 60.5h1M62 61.5h1"/>
<path stroke="#ec6146" d="M64 2.5h1M68 3.5h1M55 7.5h1M49 8.5h1m16 0h1M60 9.5h1m7 0h1M47 10.5h1m13 0h1M53 11.5h1M49 12.5h1m2 0h1m12 0h1M48 13.5h1m1 0h1m11 0h1M64 14.5h1M52 15.5h1M64 16.5h1M50 17.5h1m18 0h1M40 18.5h1m7 0h1m4 0h1m7 0h1m5 0h1M49 19.5h1m2 0h1m15 0h1m2 0h1M67 20.5h1M2 21.5h1m58 0h1M61 22.5h1m3 0h1M62 23.5h1m7 0h1M54 24.5h1m0 0h1m2 0h1M59 25.5h1M52 26.5h1M45 27.5h1m15 0h1M71 28.5h1M46 29.5h1m1 0h1m9 0h1M54 31.5h1m5 0h1M47 33.5h1M65 34.5h1M59 35.5h1M44 37.5h1m20 0h1M36 39.5h1M33 40.5h1M33 41.5h1m8 0h1m7 0h1m3 0h1m1 0h1M29 42.5h1m28 0h1M63 43.5h1m1 0h1m1 0h1m2 0h1M10 44.5h1m42 0h1m3 0h1M61 45.5h1m9 0h1M7 46.5h1m53 0h1M10 47.5h1M6 48.5h1m0 0h1m37 0h1M46 49.5h1m12 0h1m6 0h1M51 50.5h1m10 0h1M16 51.5h1M70 52.5h1M36 53.5h1m23 0h1m3 0h1m1 0h1m1 0h1M46 54.5h1m6 0h1M57 55.5h1m11 0h1M37 57.5h1m30 0h1M54 58.5h1M70 60.5h1M21 63.5h1"/>
<path stroke="#e45649" d="M58 2.5h1M22 3.5h1m36 0h1m0 0h1m9 0h1M71 4.5h1M23 5.5h1m47 0h1M57 6.5h1M54 7.5h1M57 9.5h1m0 0h1m8 0h1M57 10.5h1m1 0h1M69 11.5h1M59 12.5h1m2 0h1m5 0h1m0 0h1m1 0h1M52 13.5h1m0 0h1M48 14.5h1M62 15.5h1M61 16.5h1M54 19.5h1M58 20.5h1M53 21.5h1m8 0h1M61 25.5h1M51 26.5h1M62 27.5h1m4 0h1M51 28.5h1m16 0h1M66 29.5h1M66 30.5h1M68 31.5h1M52 32.5h1m8 0h1m8 0h1M49 33.5h1m6 0h1m2 0h1M67 34.5h1M68 35.5h1M65 36.5h1M64 37.5h1M51 38.5h1M30 39.5h1m26 0h1M59 40.5h1M68 41.5h1M67 42.5h1M5 45.5h1m11 0h1m31 0h1m14 0h1m3 0h1m0 0h1M16 46.5h1m29 0h1M15 47.5h1m21 0h1M50 48.5h1m4 0h1m15 0h1M8 49.5h1m5 0h1m41 0h1M4 50.5h1M3 51.5h1m2 0h1m33 0h1m15 0h1m11 0h1M61 52.5h1M4 54.5h1m51 0h1m3 0h1m0 0h1M63 55.5h1m1 0h1M67 56.5h1M60 57.5h1m0 0h1M61 58.5h1M43 59.5h1m13 0h1M64 61.5h1"/>
<path stroke="#dd4a4c" d="M68 1.5h1M24 2.5h1m45 0h1M21 3.5h1M21 4.5h1M21 5.5h1m33 0h1m14 0h1M54 6.5h1m0 0h1M22 7.5h1m35 0h1m4 0h1m3 0h1M20 8.5h1m30 0h1m4 0h1m7 0h1M61 9.5h1M47 11.5h1m10 0h1m11 0h1M61 14.5h1M67 15.5h1M66 16.5h1M51 17.5h1m5 0h1m7 0h1m0 0h1M44 18.5h1m10 0h1M48 19.5h1m15 0h1m4 0h1M48 20.5h1m10 0h1m8 0h1M64 22.5h1m4 0h1M64 24.5h1m5 0h1m0 0h1M48 25.5h1m1 0h1M69 26.5h1m1 0h1M52 28.5h1M68 29.5h1m0 0h1M68 30.5h1m1 0h1M58 31.5h1M65 32.5h1m1 0h1M63 33.5h1M60 36.5h1m2 0h1M57 38.5h1M30 41.5h1M33 42.5h1M44 43.5h1m0 0h1m8 0h1M8 45.5h1m4 0h1m36 0h1m7 0h1M8 46.5h1m54 0h1M5 47.5h1m38 0h1m11 0h1M8 48.5h1M13 49.5h1m26 0h1m0 0h1M8 51.5h1m38 0h1M40 52.5h1m5 0h1m18 0h1M58 53.5h1m11 0h1m0 0h1M54 54.5h1m0 0h1m1 0h1m0 0h1M49 55.5h1m8 0h1m11 0h1M57 56.5h1m0 0h1m12 0h1M65 59.5h1m2 0h1M22 63.5h1"/>
<path stroke="#d53e4f" d="M60 4.5h1M49 6.5h1M23 7.5h1M57 12.5h1m8 0h1M55 13.5h1m0 0h1M59 14.5h1M61 15.5h1m4 0h1m2 0h1M48 16.5h1m2 0h1M54 18.5h1m8 0h1m4 0h1M40 19.5h1m3 0h1m5 0h1m8 0h1m2 0h1M1 20.5h1m42 0h1M1 21.5h1M69 23.5h1M51 24.5h1m1 0h1m9 0h1M49 25.5h1m1 0h1m12 0h1M49 26.5h1m0 0h1m3 0h1m8 0h1M64 27.5h1M46 28.5h1m9 0h1m6 0h1m5 0h1M47 29.5h1M64 33.5h1M64 34.5h1M58 35.5h1M69 39.5h1M36 40.5h1m26 0h1M55 42.5h1M46 43.5h1M40 44.5h1m14 0h1M51 45.5h1m18 0h1M6 46.5h1m4 0h1m2 0h1m49 0h1M13 47.5h1m45 0h1m10 0h1m0 0h1M64 48.5h1M5 49.5h1m0 0h1m0 0h1m42 0h1m16 0h1M43 50.5h1m8 0h1M4 51.5h1M6 52.5h1m31 0h1m20 0h1m2 0h1m3 0h1M42 54.5h1m23 0h1m1 0h1M56 56.5h1m3 0h1M65 57.5h1M64 58.5h1"/>
<path stroke="#c72f4c" d="M22 4.5h1m40 0h1M61 5.5h1m7 0h1M22 6.5h1m33 0h1m2 0h1M70 7.5h1M55 8.5h1M59 9.5h1M60 11.5h1M60 12.5h1m2 0h1M58 13.5h1M62 14.5h1m0 0h1M52 18.5h1m16 0h1m0 0h1M69 20.5h1M64 21.5h1m3 0h1M68 22.5h1M69 25.5h1m0 0h1M60 26.5h1m7 0h1M69 27.5h1M66 28.5h1M51 29.5h1M65 30.5h1M64 31.5h1M57 33.5h1m8 0h1M65 35.5h1M64 36.5h1M44 39.5h1m23 0h1m2 0h1M31 41.5h1m27 0h1M32 42.5h1m15 0h1M46 44.5h1m2 0h1M68 46.5h1M3 47.5h1m65 0h1M9 48.5h1m2 0h1m38 0h1m15 0h1M61 49.5h1M70 50.5h1M68 52.5h1M53 53.5h1m7 0h1m0 0h1M5 54.5h1m42 0h1M60 55.5h1M63 56.5h1M44 57.5h1m12 0h1M58 58.5h1M58 59.5h1m3 0h1M20 63.5h1"/>
<path stroke="#ba2048" d="M20 4.5h1M22 5.5h1M71 6.5h1M57 8.5h1m11 0h1m0 0h1m0 0h1M57 11.5h1m9 0h1M59 13.5h1M55 14.5h1M68 17.5h1M57 18.5h1M58 19.5h1M63 23.5h1m0 0h1M68 24.5h1m0 0h1M53 26.5h1m10 0h1m1 0h1M57 29.5h1m7 0h1M64 30.5h1M62 32.5h1M51 34.5h1m6 0h1M61 35.5h1M31 40.5h1m3 0h1M32 41.5h1M47 43.5h1m10 0h1M52 45.5h1M9 46.5h1M60 47.5h1M66 48.5h1M4 49.5h1M6 50.5h1M7 51.5h1m51 0h1M7 52.5h1m52 0h1M6 53.5h1m0 0h1M64 56.5h1m1 0h1M64 57.5h1M57 58.5h1M64 59.5h1M62 60.5h1M21 62.5h1"/>
<path stroke="#ac1045" d="M69 3.5h1M68 10.5h1M50 12.5h1M61 13.5h1m8 0h1M49 15.5h1m14 0h1M70 20.5h1M65 21.5h1M67 22.5h1M60 23.5h1M52 24.5h1m14 0h1M58 25.5h1m7 0h1M65 26.5h1M63 31.5h1M63 32.5h1m2 0h1M32 39.5h1M31 42.5h1M60 45.5h1M65 46.5h1m5 0h1M14 48.5h1M5 50.5h1m1 0h1m0 0h1M9 51.5h1M4 52.5h1m52 0h1M62 54.5h1M59 57.5h1M59 58.5h1"/>
<path stroke="#9e0142" d="M71 3.5h1M69 4.5h1M20 5.5h1M20 6.5h1m48 0h1M53 8.5h1M63 9.5h1M64 11.5h1M58 12.5h1m2 0h1M57 13.5h1m2 0h1M52 14.5h1m4 0h1m0 0h1m1 0h1M50 15.5h1m14 0h1M49 16.5h1m0 0h1M67 19.5h1M66 20.5h1M63 21.5h1m2 0h1m0 0h1M66 22.5h1M65 23.5h1m0 0h1m0 0h1m0 0h1M61 24.5h1m3 0h1m0 0h1M52 25.5h1m10 0h1m1 0h1m1 0h1m0 0h1M61 26.5h1m0 0h1m4 0h1M63 27.5h1m1 0h1m5 0h1M64 28.5h1M67 31.5h1M53 34.5h1M64 35.5h1m1 0h1M67 39.5h1M32 40.5h1M67 41.5h1M48 45.5h1M70 46.5h1M6 47.5h1m0 0h1m0 0h1m58 0h1M53 49.5h1M5 51.5h1m56 0h1M5 52.5h1m42 0h1m9 0h1M4 53.5h1m0 0h1m51 0h1m1 0h1M63 54.5h1M59 55.5h1m2 0h1M59 56.5h1M58 57.5h1m4 0h1M60 58.5h1m2 0h1m2 0h1M59 59.5h1"/>
</g>
<path d="M21.7 22h4.4v4.5h-4.4zM30.5 22h4.4v4.5h-4.4zM48.1 22h4.4v4.5h-4.4zM65.7 22h4.4v4.5h-4.4zM118.5 22h4.4v4.5h-4.4zM158.1 22h4.4v4.5h-4.4zM193.3 22h13.2v4.5h-13.2zM290.1 22h17.6v4.5h-17.6zM17.3 26.4h8.8v4.5h-8.8zM30.5 26.4h48.4v4.5h-48.4zM114.1 26.4h17.6v4.5h-17.6zM140.5 26.4h4.4v4.5h-4.4zM149.3 26.4h13.2v4.5h-13.2zM188.9 26.4h22v4.5h-22zM272.5 26.4h8.8v4.5h-8.8zM285.7 26.4h30.8v4.5h-30.8zM12.9 30.9h83.6v4.5h-83.6zM109.7 30.9h57.2v4.5h-57.2zM180.1 30.9h4.4v4.5h-4.4zM188.9 30.9h35.2v4.5h-35.2zM268.1 30.9h61.6v4.5h-61.6zM12.9 35.4h224.4v4.5h-224.4zM250.5 35.4h4.4v4.5h-4.4zM263.7 35.4h66v4.5h-66zM12.9 39.8h316.8v4.5h-316.8zM12.9 44.2h316.8v4.5h-316.8zM12.9 48.7h316.8v4.5h-316.8zM12.9 53.2h316.8v4.5h-316.8zM12.9 57.6h316.8v4.5h-316.8zM12.9 62.1h316.8v4.5h-316.8zM12.9 66.5h316.8v4.5h-316.8zM12.9 71h316.8v4.5h-316.8zM12.9 75.4h316.8v4.5h-316.8zM12.9 79.8h316.8v4.5h-316.8zM12.9 84.3h316.8v4.5h-316.8zM12.9 88.8h316.8v4.5h-316.8zM12.9 93.2h316.8v4.5h-316.8zM12.9 97.7h316.8v4.5h-316.8zM12.9 102.1h316.8v4.5h-316.8zM12.9 106.5h316.8v4.5h-316.8zM12.9 111h316.8v4.5h-316.8zM12.9 115.5h316.8v4.5h-316.8zM12.9 119.9h316.8v4.5h-316.8zM12.9 124.4h316.8v4.5h-316.8zM12.9 128.8h316.8v4.5h-316.8zM12.9 133.2h316.8v4.5h-316.8zM12.9 137.7h316.8v4.5h-316.8zM12.9 142.2h316.8v4.5h-316.8zM12.9 146.6h316.8v4.5h-316.8zM12.9 151.1h316.8v4.5h-316.8zM12.9 155.5h316.8v4.5h-316.8zM12.9 160h316.8v4.5h-316.8zM12.9 164.4h316.8v4.5h-316.8zM12.9 168.8h316.8v4.5h-316.8zM12.9 173.3h316.8v4.5h-316.8zM12.9 177.8h316.8v4.5h-316.8zM12.9 182.2h316.8v4.5h-316.8zM12.9 186.7h316.8v4.5h-316.8zM12.9 191.1h316.8v4.5h-316.8zM12.9 195.6h316.8v4.5h-316.8zM12.9 200h316.8v4.5h-316.8zM12.9 204.5h316.8v4.5h-316.8zM12.9 208.9h316.8v4.5h-316.8zM12.9 213.3h316.8v4.5h-316.8zM12.9 217.8h316.8v4.5h-316.8zM12.9 222.2h316.8v4.5h-316.8zM12.9 226.7h316.8v4.5h-316.8zM12.9 231.2h316.8v4.5h-316.8zM12.9 235.6h316.8v4.5h-316.8zM12.9 240.1h316.8v4.5h-316.8zM12.9 244.5h316.8v4.5h-316.8zM12.9 249h316.8v4.5h-316.8zM12.9 253.4h316.8v4.5h-316.8zM12.9 257.9h316.8v4.5h-316.8zM12.9 262.3h316.8v4.5h-316.8zM12.9 266.8h316.8v4.5h-316.8zM12.9 271.2h316.8v4.5h-316.8zM12.9 275.6h202.4v4.5h-202.4zM232.9 275.6h4.4v4.5h-4.4zM241.7 275.6h4.4v4.5h-4.4zM250.5 275.6h79.2v4.5h-79.2zM12.9 280.1h198v4.5h-198zM250.5 280.1h4.4v4.5h-4.4zM259.3 280.1h70.4v4.5h-70.4zM12.9 284.6h193.6v4.5h-193.6zM263.7 284.6h66v4.5h-66zM12.9 289h189.2v4.5h-189.2zM281.3 289h48.4v4.5h-48.4zM12.9 293.4h180.4v4.5h-180.4zM285.7 293.4h13.2v4.5h-13.2zM12.9 297.9h171.6v4.5h-171.6zM12.9 302.4h26.4v4.5h-26.4zM43.7 302.4h83.6v4.5h-83.6zM131.7 302.4h48.4v4.5h-48.4zM26.1 306.8h4.4v4.5h-4.4zM52.5 306.8h52.8v4.5h-52.8zM109.7 306.8h8.8v4.5h-8.8zM140.5 306.8h8.8v4.5h-8.8zM162.5 306.8h4.4v4.5h-4.4z" fill="url(#spots)"/>
<ellipse cx="20" cy="150" rx="11" ry="2.2" fill="#f4f4f6" transform="rotate(-12 20 150)"/>
<ellipse cx="84" cy="293" rx="8" ry="1.8" fill="#f4f4f6" transform="rotate(-10 84 293)"/>
</g>
<text x="1732.5" y="1795" font-size="23.6" text-anchor="start" fill="#222">T_cell</text>
<rect x="1821.8" y="1753.6" width="190" height="37.2" fill="url(#spec)"/>
<path d="M1838.5 1753.6 v7 M1838.5 1783.8 v7" stroke="#fff" stroke-width="1.3" stroke-opacity="0.8"/>
<text x="1838.5" y="1815.5" font-size="20.4" text-anchor="middle" fill="#222" letter-spacing="-0.6">−0.25</text>
<path d="M1879.7 1753.6 v7 M1879.7 1783.8 v7" stroke="#fff" stroke-width="1.3" stroke-opacity="0.8"/>
<text x="1879.7" y="1815.5" font-size="20.4" text-anchor="middle" fill="#222" letter-spacing="-0.6">0.00</text>
<path d="M1921 1753.6 v7 M1921 1783.8 v7" stroke="#fff" stroke-width="1.3" stroke-opacity="0.8"/>
<text x="1921" y="1815.5" font-size="20.4" text-anchor="middle" fill="#222" letter-spacing="-0.6">0.25</text>
<path d="M1962.3 1753.6 v7 M1962.3 1783.8 v7" stroke="#fff" stroke-width="1.3" stroke-opacity="0.8"/>
<text x="1962.3" y="1815.5" font-size="20.4" text-anchor="middle" fill="#222" letter-spacing="-0.6">0.50</text>
<path d="M2003.5 1753.6 v7 M2003.5 1783.8 v7" stroke="#fff" stroke-width="1.3" stroke-opacity="0.8"/>
<text x="2003.5" y="1815.5" font-size="20.4" text-anchor="middle" fill="#222" letter-spacing="-0.6">0.75</text>
<g transform="translate(1699.8 1854.9)">
<rect x="0" y="0" width="342" height="328" fill="#EFEFF1"/>
<path d="M0 24 L13.5 26 L14 305 L0 307 Z" fill="url(#purp)"/>
<path d="M327 22 L341 20 L341 300 L327 299 Z" fill="url(#purp)"/>
<g transform="translate(12.9 22) scale(4.4 4.45)" fill="none" stroke-width="1">
<path stroke="#5e4fa2" d="M33 0.5h1m7 0h1M41 1.5h1M9 3.5h1m5 0h1m15 0h1m1 0h1M45 4.5h1M30 5.5h1m2 0h1M13 8.5h1m15 0h1M35 9.5h1M32 10.5h1M29 11.5h1M17 12.5h1m16 0h1M35 13.5h1M18 14.5h1m12 0h1M3 16.5h1M22 17.5h1M19 18.5h1m5 0h1M26 23.5h1M14 24.5h1M3 25.5h1m2 0h1M8 27.5h1M6 29.5h1m21 0h1M4 30.5h1M0 31.5h1m17 0h1M11 32.5h1M2 40.5h1M38 43.5h1M38 44.5h1M26 45.5h1M25 47.5h1M9 51.5h1M9 52.5h1M22 53.5h1m1 0h1M17 54.5h1M0 55.5h1M13 56.5h1M18 59.5h1m9 0h1M1 60.5h1M6 61.5h1m16 0h1M2 62.5h1m19 0h1M10 63.5h1"/>
<path stroke="#535da9" d="M3 2.5h1M0 3.5h1M39 4.5h1M1 5.5h1M33 6.5h1m6 0h1M33 7.5h1M14 9.5h1M31 10.5h1M3 13.5h1M13 19.5h1m6 0h1M11 21.5h1M10 22.5h1M8 24.5h1M12 26.5h1m37 0h1M17 27.5h1M7 28.5h1M3 31.5h1m13 0h1M4 32.5h1M12 35.5h1M6 42.5h1m1 0h1m4 0h1m0 0h1M25 43.5h1M12 50.5h1m0 0h1M27 53.5h1M22 55.5h1M16 56.5h1m4 0h1M27 58.5h1m4 0h1M21 60.5h1M7 61.5h1M0 62.5h1m16 0h1"/>
<path stroke="#486cb0" d="M40 1.5h1M26 2.5h1m14 0h1M1 3.5h1m9 0h1m50 0h1M2 4.5h1M8 5.5h1M5 7.5h1M19 9.5h1m11 0h1m2 0h1M34 10.5h1M6 11.5h1M5 12.5h1M25 13.5h1m3 0h1m1 0h1M3 14.5h1m6 0h1M16 15.5h1M18 16.5h1M12 18.5h1M7 19.5h1M20 20.5h1M14 22.5h1M23 23.5h1M12 24.5h1M12 25.5h1M5 26.5h1M22 28.5h1M59 33.5h1M14 34.5h1M11 35.5h1m6 0h1M17 37.5h1M10 41.5h1m0 0h1M71 42.5h1M26 47.5h1M19 48.5h1M10 51.5h1M20 52.5h1m6 0h1m5 0h1M15 54.5h1M13 55.5h1M2 56.5h1M7 57.5h1M30 58.5h1M0 60.5h1m21 0h1M25 61.5h1"/>
<path stroke="#3d7ab6" d="M12 2.5h1m31 0h1M45 3.5h1M4 4.5h1m1 0h1m10 0h1m6 0h1m3 0h1M25 5.5h1m0 0h1m0 0h1M6 6.5h1m20 0h1m2 0h1M14 7.5h1m14 0h1M38 8.5h1M38 11.5h1m0 0h1M28 12.5h1m10 0h1M30 13.5h1m1 0h1M2 14.5h1m22 0h1m4 0h1m31 0h1M37 17.5h1m1 0h1M5 18.5h1m3 0h1m0 0h1m4 0h1m6 0h1m48 0h1M26 19.5h1M11 20.5h1m1 0h1M3 21.5h1m14 0h1m3 0h1m21 0h1M1 22.5h1m21 0h1M22 23.5h1M0 25.5h1m35 0h1M13 26.5h1m0 0h1M9 28.5h1m4 0h1m1 0h1M21 30.5h1M4 31.5h1m15 0h1M10 32.5h1M14 33.5h1M1 34.5h1m3 0h1M67 37.5h1M29 40.5h1m16 0h1M12 42.5h1M3 43.5h1m9 0h1M24 50.5h1M2 52.5h1M9 53.5h1m0 0h1m14 0h1m0 0h1M12 55.5h1M1 58.5h1m22 0h1m4 0h1M2 59.5h1M8 62.5h1m7 0h1m1 0h1M9 64.5h1"/>
<path stroke="#3288bd" d="M42 0.5h1M4 1.5h1M8 3.5h1m31 0h1M0 4.5h1m10 0h1m8 0h1M6 5.5h1m17 0h1m6 0h1M17 6.5h1m23 0h1M1 9.5h1m28 0h1m5 0h1M36 10.5h1M14 11.5h1m21 0h1M6 12.5h1M4 13.5h1m7 0h1M0 14.5h1m14 0h1m1 0h1M19 15.5h1m2 0h1M5 16.5h1m7 0h1m11 0h1M16 17.5h1m52 0h1M3 18.5h1m0 0h1m13 0h1m5 0h1M23 21.5h1m1 0h1M13 22.5h1M5 23.5h1M13 24.5h1M7 25.5h1M8 26.5h1M7 27.5h1M27 28.5h1M58 29.5h1M14 30.5h1m0 0h1m2 0h1m7 0h1M1 31.5h1m9 0h1M12 32.5h1m8 0h1M11 34.5h1M10 35.5h1m21 0h1M8 37.5h1M0 38.5h1m2 0h1M5 39.5h1m22 0h1m0 0h1M69 42.5h1M8 43.5h1m23 0h1M6 44.5h1M7 45.5h1m9 0h1M30 47.5h1M27 48.5h1M11 49.5h1m19 0h1m23 0h1M17 50.5h1m7 0h1M3 51.5h1m4 0h1m10 0h1M14 52.5h1m8 0h1m2 0h1m8 0h1M8 53.5h1M8 54.5h1m9 0h1m2 0h1m8 0h1M7 55.5h1m9 0h1m12 0h1M7 56.5h1m4 0h1m2 0h1m6 0h1M1 57.5h1m6 0h1M2 58.5h1M32 59.5h1M2 60.5h1m6 0h1m13 0h1m43 0h1M0 61.5h1M1 62.5h1m24 0h1m2 0h1"/>
<path stroke="#3f96b7" d="M12 0.5h1M44 1.5h1M40 2.5h1m1 0h1m0 0h1m3 0h1M12 3.5h1m3 0h1m30 0h1M1 4.5h1m13 0h1m17 0h1M0 5.5h1M11 6.5h1m2 0h1m22 0h1M13 7.5h1m11 0h1m0 0h1m12 0h1m4 0h1M31 8.5h1m0 0h1m9 0h1M17 9.5h1M2 10.5h1m4 0h1m5 0h1m8 0h1m3 0h1m6 0h1M7 11.5h1m3 0h1m7 0h1m15 0h1M15 12.5h1m8 0h1M1 13.5h1m9 0h1m9 0h1M29 14.5h1M12 15.5h1m19 0h1m0 0h1m1 0h1m1 0h1m0 0h1m32 0h1M0 16.5h1m7 0h1m3 0h1m4 0h1m10 0h1m4 0h1M14 18.5h1m2 0h1M16 19.5h1m2 0h1M3 20.5h1M20 21.5h1M5 22.5h1m3 0h1m11 0h1m17 0h1M43 23.5h1m0 0h1M0 24.5h1m2 0h1m3 0h1M9 25.5h1M4 26.5h1M12 27.5h1m19 0h1m3 0h1m16 0h1m4 0h1M8 28.5h1M7 29.5h1m44 0h1M1 30.5h1m9 0h1M8 31.5h1m6 0h1m0 0h1M0 32.5h1m2 0h1M1 33.5h1m9 0h1m13 0h1M3 35.5h1m1 0h1m10 0h1M50 36.5h1M5 43.5h1m3 0h1m10 0h1M5 44.5h1m64 0h1M2 45.5h1m22 0h1M11 46.5h1m12 0h1m10 0h1M16 47.5h1m34 0h1M9 48.5h1m20 0h1M12 49.5h1m12 0h1m39 0h1M9 50.5h1m16 0h1m8 0h1m20 0h1M4 52.5h1m5 0h1m2 0h1m7 0h1M0 53.5h1m2 0h1m0 0h1m15 0h1M1 54.5h1m3 0h1m7 0h1m0 0h1M4 55.5h1m3 0h1m6 0h1m0 0h1m6 0h1m8 0h1M4 56.5h1m3 0h1m8 0h1M0 57.5h1m1 0h1m26 0h1M7 58.5h1m36 0h1M1 59.5h1M5 60.5h1m20 0h1m0 0h1M15 61.5h1M15 62.5h1m5 0h1m1 0h1M9 63.5h1m19 0h1"/>
<path stroke="#4ca5b1" d="M5 1.5h1m4 0h1m31 0h1M2 2.5h1m10 0h1m0 0h1m7 0h1m6 0h1m0 0h1m15 0h1m16 0h1M30 3.5h1M16 4.5h1m23 0h1m9 0h1M3 5.5h1m7 0h1m1 0h1m5 0h1m14 0h1m8 0h1M10 6.5h1m10 0h1M3 7.5h1m30 0h1m0 0h1m1 0h1m2 0h1m19 0h1M8 8.5h1m12 0h1m1 0h1m1 0h1m1 0h1m11 0h1m20 0h1M8 9.5h1m14 0h1m5 0h1m2 0h1m0 0h1M6 10.5h1m16 0h1m15 0h1M0 11.5h1m7 0h1m12 0h1m0 0h1m11 0h1m2 0h1M4 12.5h1M5 13.5h1m20 0h1m1 0h1M19 14.5h1m0 0h1m5 0h1m0 0h1m32 0h1M17 15.5h1M7 16.5h1m1 0h1m12 0h1m0 0h1m15 0h1M13 17.5h1m1 0h1m2 0h1m1 0h1m0 0h1M42 18.5h1M8 19.5h1m9 0h1M4 20.5h1m0 0h1m3 0h1m4 0h1m8 0h1m2 0h1M5 21.5h1m18 0h1M12 22.5h1m43 0h1M10 23.5h1M4 24.5h1M57 26.5h1M6 27.5h1m2 0h1m12 0h1m4 0h1m14 0h1M4 28.5h1m1 0h1m22 0h1M8 29.5h1m7 0h1m5 0h1m27 0h1m8 0h1M7 30.5h1m2 0h1m21 0h1M2 31.5h1m18 0h1m4 0h1M6 32.5h1m0 0h1m10 0h1m34 0h1M10 33.5h1M12 34.5h1m12 0h1m22 0h1M2 36.5h1m16 0h1m23 0h1M1 37.5h1m14 0h1m45 0h1M7 38.5h1m4 0h1m2 0h1m2 0h1m1 0h1m47 0h1M23 39.5h1m3 0h1M11 40.5h1M1 41.5h1m59 0h1m5 0h1M7 42.5h1m16 0h1m13 0h1M0 43.5h1m6 0h1M13 44.5h1m10 0h1m12 0h1M3 45.5h1m27 0h1M2 46.5h1m5 0h1m25 0h1M10 47.5h1m13 0h1m9 0h1M4 48.5h1m0 0h1m7 0h1m4 0h1M10 49.5h1M14 50.5h1m6 0h1m11 0h1m0 0h1m30 0h1M5 51.5h1m6 0h1m9 0h1m45 0h1M22 52.5h1M11 53.5h1m1 0h1m5 0h1m48 0h1M2 54.5h1m4 0h1m27 0h1m29 0h1m2 0h1M21 55.5h1m24 0h1M6 56.5h1m16 0h1m6 0h1m2 0h1M13 57.5h1m3 0h1m9 0h1m3 0h1M23 59.5h1M4 60.5h1m12 0h1M1 61.5h1m7 0h1m0 0h1m2 0h1m2 0h1m2 0h1m1 0h1m11 0h1m6 0h1M11 62.5h1m8 0h1M10 64.5h1"/>
<path stroke="#59b4ab" d="M43 0.5h1M2 1.5h1m29 0h1M16 2.5h1m0 0h1m46 0h1M17 3.5h1m14 0h1m2 0h1M5 4.5h1m6 0h1m12 0h1M12 5.5h1m3 0h1m0 0h1m28 0h1m15 0h1M4 6.5h1m13 0h1m5 0h1m0 0h1m8 0h1m0 0h1m8 0h1m16 0h1M11 7.5h1m10 0h1m4 0h1m0 0h1m2 0h1M4 8.5h1m10 0h1m14 0h1m6 0h1m2 0h1M20 9.5h1m3 0h1m1 0h1m1 0h1m14 0h1M4 10.5h1m14 0h1m10 0h1m9 0h1m23 0h1M28 11.5h1m3 0h1M10 12.5h1m2 0h1m2 0h1m15 0h1M17 13.5h1m1 0h1m4 0h1m2 0h1M1 14.5h1m22 0h1m9 0h1m28 0h1M11 15.5h1m6 0h1m1 0h1M6 16.5h1m12 0h1m9 0h1m1 0h1m4 0h1m4 0h1m20 0h1m8 0h1M8 17.5h1m10 0h1m3 0h1m4 0h1m2 0h1M6 18.5h1m0 0h1m5 0h1m12 0h1M14 19.5h1m6 0h1m1 0h1M10 20.5h1m7 0h1m9 0h1M0 21.5h1m20 0h1m8 0h1M2 22.5h1m8 0h1M1 23.5h1m2 0h1m6 0h1m2 0h1m15 0h1m18 0h1M2 24.5h1m2 0h1m0 0h1m24 0h1m14 0h1m1 0h1M32 25.5h1m25 0h1M17 26.5h1m5 0h1M4 27.5h1m0 0h1m7 0h1m14 0h1m0 0h1M3 28.5h1M3 29.5h1m0 0h1m16 0h1M12 30.5h1M5 31.5h1m13 0h1m3 0h1m37 0h1M13 32.5h1m9 0h1m2 0h1m3 0h1m1 0h1m19 0h1M5 33.5h1m6 0h1m13 0h1m17 0h1M0 34.5h1M2 35.5h1m6 0h1m13 0h1m6 0h1M11 36.5h1M14 37.5h1m0 0h1m11 0h1M17 38.5h1m8 0h1m21 0h1M0 39.5h1m35 0h1m12 0h1m16 0h1m0 0h1m1 0h1M7 40.5h1M16 41.5h1m10 0h1m1 0h1m7 0h1m24 0h1M18 42.5h1m17 0h1m27 0h1M6 43.5h1m5 0h1m10 0h1m0 0h1M7 44.5h1m4 0h1M11 45.5h1m1 0h1m13 0h1M1 46.5h1m4 0h1m9 0h1m3 0h1m5 0h1M11 47.5h1m23 0h1M6 48.5h1m9 0h1m6 0h1m5 0h1m2 0h1m10 0h1m24 0h1m1 0h1M14 49.5h1m4 0h1m0 0h1m46 0h1M20 50.5h1m8 0h1m0 0h1m18 0h1M18 51.5h1m7 0h1m1 0h1m1 0h1m23 0h1M0 52.5h1m5 0h1m43 0h1m16 0h1M1 53.5h1m10 0h1m5 0h1m2 0h1m9 0h1M32 54.5h1M1 55.5h1m35 0h1M28 56.5h1m0 0h1m1 0h1m35 0h1M19 57.5h1m0 0h1m11 0h1m17 0h1M0 58.5h1m7 0h1m19 0h1M0 59.5h1m6 0h1m0 0h1M8 60.5h1M2 61.5h1m0 0h1m1 0h1m14 0h1M35 62.5h1M11 63.5h1m0 0h1m2 0h1m7 0h1M19 64.5h1"/>
<path stroke="#66c2a5" d="M23 1.5h1m2 0h1m16 0h1M10 2.5h1m0 0h1m33 0h1M25 3.5h1m8 0h1m2 0h1m11 0h1M8 4.5h1m4 0h1m4 0h1m19 0h1M15 5.5h1m2 0h1m1 0h1m8 0h1m2 0h1m7 0h1m0 0h1M13 6.5h1m12 0h1m24 0h1M8 7.5h1m15 0h1m5 0h1m12 0h1M1 8.5h1m0 0h1m8 0h1m2 0h1m13 0h1M6 9.5h1m0 0h1m1 0h1m15 0h1m37 0h1M14 10.5h1m14 0h1M13 11.5h1m1 0h1m11 0h1m5 0h1M2 12.5h1m0 0h1m22 0h1m2 0h1m3 0h1m4 0h1m19 0h1M0 13.5h1m8 0h1m26 0h1m3 0h1M11 14.5h1m2 0h1M21 15.5h1m9 0h1m7 0h1m1 0h1M11 16.5h1m48 0h1M6 17.5h1m4 0h1m13 0h1m36 0h1M33 18.5h1M9 19.5h1m2 0h1m18 0h1M15 20.5h1m55 0h1M4 21.5h1m3 0h1M3 22.5h1m0 0h1m12 0h1m4 0h1M28 23.5h1m7 0h1m2 0h1m17 0h1m3 0h1M19 24.5h1m1 0h1m15 0h1M46 25.5h1M3 26.5h1m11 0h1m32 0h1M23 27.5h1m35 0h1M10 28.5h1m4 0h1m1 0h1m10 0h1m8 0h1m19 0h1M2 29.5h1m10 0h1m0 0h1m2 0h1m25 0h1m3 0h1m0 0h1m11 0h1M13 30.5h1m39 0h1M7 31.5h1m1 0h1m4 0h1m38 0h1m0 0h1M9 32.5h1M2 33.5h1m6 0h1m17 0h1m3 0h1M2 34.5h1m7 0h1m52 0h1M70 35.5h1M6 36.5h1m2 0h1m48 0h1m9 0h1M25 37.5h1m33 0h1m11 0h1M11 38.5h1M19 39.5h1m0 0h1M8 40.5h1m0 0h1m0 0h1m4 0h1m12 0h1M6 41.5h1m11 0h1m1 0h1m47 0h1M9 42.5h1m17 0h1m4 0h1m4 0h1M4 43.5h1m21 0h1m3 0h1M8 44.5h1m27 0h1M35 45.5h1m12 0h1M10 46.5h1m2 0h1m3 0h1m0 0h1M13 47.5h1m0 0h1m3 0h1m13 0h1M8 48.5h1m15 0h1m6 0h1m1 0h1m20 0h1m7 0h1m2 0h1M8 49.5h1m8 0h1m3 0h1m0 0h1m6 0h1m13 0h1m24 0h1M10 50.5h1m57 0h1M4 51.5h1m8 0h1m7 0h1M1 52.5h1m3 0h1m28 0h1M16 53.5h1m33 0h1M22 54.5h1M2 55.5h1m28 0h1m1 0h1M1 56.5h1m3 0h1m3 0h1m22 0h1M26 57.5h1M13 58.5h1m0 0h1M5 59.5h1m6 0h1m16 0h1m33 0h1M13 60.5h1m5 0h1m13 0h1m1 0h1m4 0h1M34 61.5h1M10 62.5h1M14 63.5h1m6 0h1M13 64.5h1m0 0h1"/>
<path stroke="#77c9a5" d="M64 0.5h1M1 1.5h1m6 0h1m2 0h1m13 0h1m3 0h1m33 0h1m3 0h1M7 2.5h1m0 0h1m9 0h1m19 0h1M3 3.5h1m10 0h1m3 0h1m20 0h1m3 0h1m2 0h1m1 0h1M19 4.5h1m6 0h1m3 0h1m6 0h1m8 0h1m1 0h1m16 0h1M7 5.5h1m2 0h1m24 0h1m1 0h1m1 0h1m20 0h1M9 6.5h1m2 0h1m2 0h1m13 0h1m9 0h1m3 0h1M2 7.5h1m6 0h1m10 0h1M6 8.5h1m19 0h1m7 0h1m31 0h1M11 9.5h1m25 0h1m0 0h1M25 10.5h1m2 0h1m8 0h1M4 11.5h1m13 0h1m6 0h1m4 0h1m11 0h1M0 12.5h1m0 0h1m5 0h1m10 0h1m1 0h1m9 0h1m26 0h1m3 0h1m0 0h1M7 13.5h1m8 0h1m16 0h1m4 0h1M4 14.5h1m0 0h1m15 0h1m0 0h1m5 0h1m3 0h1m3 0h1M3 15.5h1m2 0h1m0 0h1m1 0h1m13 0h1m6 0h1M1 16.5h1m0 0h1m7 0h1m3 0h1m11 0h1m7 0h1m5 0h1m3 0h1m24 0h1M1 17.5h1m12 0h1m9 0h1m9 0h1M8 18.5h1m27 0h1m29 0h1M4 19.5h1m0 0h1m4 0h1m14 0h1m8 0h1m3 0h1m12 0h1M6 20.5h1m9 0h1m7 0h1m28 0h1M7 21.5h1m5 0h1m0 0h1m4 0h1m6 0h1m0 0h1m3 0h1m2 0h1m26 0h1M6 22.5h1m12 0h1m6 0h1m27 0h1m5 0h1m2 0h1M45 23.5h1m9 0h1m0 0h1M17 24.5h1m6 0h1m14 0h1m0 0h1m18 0h1M5 25.5h1m11 0h1m19 0h1m4 0h1m7 0h1M1 26.5h1m4 0h1m19 0h1M3 27.5h1m22 0h1m10 0h1m0 0h1m6 0h1M5 28.5h1m13 0h1m3 0h1m26 0h1M5 29.5h1m4 0h1m0 0h1m3 0h1m8 0h1m4 0h1m2 0h1m5 0h1m7 0h1M25 30.5h1m15 0h1m12 0h1M22 31.5h1m4 0h1m32 0h1M16 32.5h1m3 0h1M0 33.5h1m3 0h1m25 0h1m17 0h1M4 34.5h1m26 0h1m14 0h1m6 0h1m10 0h1M0 35.5h1m6 0h1m6 0h1m10 0h1M8 36.5h1m6 0h1M10 37.5h1m8 0h1m23 0h1m4 0h1m11 0h1M4 38.5h1m11 0h1m5 0h1M1 39.5h1m8 0h1m6 0h1M1 40.5h1m14 0h1m20 0h1m27 0h1M7 41.5h1m14 0h1m5 0h1M11 42.5h1m58 0h1M11 43.5h1m2 0h1m7 0h1m13 0h1M0 44.5h1m0 0h1m2 0h1m4 0h1m0 0h1m7 0h1m1 0h1m4 0h1m2 0h1m1 0h1m32 0h1M8 45.5h1M21 46.5h1m11 0h1m14 0h1M20 47.5h1m16 0h1m21 0h1M20 48.5h1m40 0h1m9 0h1M0 49.5h1m17 0h1m4 0h1m4 0h1m3 0h1m6 0h1m14 0h1m16 0h1M1 50.5h1m16 0h1m9 0h1m25 0h1M0 51.5h1m1 0h1m26 0h1m21 0h1M24 52.5h1m3 0h1m8 0h1M14 53.5h1m14 0h1m23 0h1m8 0h1M16 54.5h1m6 0h1m7 0h1m1 0h1m16 0h1m16 0h1M14 55.5h1m3 0h1m6 0h1m0 0h1m40 0h1M0 56.5h1m13 0h1m10 0h1m20 0h1m16 0h1M28 57.5h1m27 0h1M15 58.5h1m23 0h1M19 59.5h1m6 0h1m0 0h1m12 0h1M10 60.5h1m5 0h1m3 0h1M11 61.5h1m10 0h1m5 0h1M5 62.5h1m1 0h1m1 0h1m9 0h1m4 0h1m8 0h1M0 63.5h1m15 0h1m0 0h1m7 0h1m10 0h1M3 64.5h1m8 0h1"/>
<path stroke="#88d0a4" d="M6 1.5h1m5 0h1m11 0h1m6 0h1M15 2.5h1m8 0h1m0 0h1m33 0h1M6 3.5h1m0 0h1m2 0h1m15 0h1m14 0h1m18 0h1M7 4.5h1m1 0h1m0 0h1m20 0h1m9 0h1m25 0h1M4 5.5h1m9 0h1m6 0h1m26 0h1M2 6.5h1m25 0h1m3 0h1m5 0h1m25 0h1M18 7.5h1m4 0h1m8 0h1m5 0h1m2 0h1m0 0h1m19 0h1M5 8.5h1m3 0h1m0 0h1m1 0h1m7 0h1m14 0h1m0 0h1m4 0h1m1 0h1m1 0h1m2 0h1m13 0h1M0 9.5h1m3 0h1m13 0h1M9 10.5h1m14 0h1m10 0h1m2 0h1m28 0h1M1 11.5h1m18 0h1m19 0h1m22 0h1M14 12.5h1m16 0h1m9 0h1M2 13.5h1m5 0h1m11 0h1m20 0h1M7 14.5h1m5 0h1m2 0h1m16 0h1m6 0h1M1 15.5h1m2 0h1m0 0h1m7 0h1m15 0h1M20 16.5h1m0 0h1m8 0h1m23 0h1M0 17.5h1m6 0h1m4 0h1m17 0h1m4 0h1m2 0h1m15 0h1m16 0h1M16 18.5h1m3 0h1M2 19.5h1m3 0h1m8 0h1m21 0h1m3 0h1m17 0h1M0 20.5h1m1 0h1m5 0h1m8 0h1m34 0h1m2 0h1M2 21.5h1m7 0h1m31 0h1m15 0h1M7 22.5h1m12 0h1m3 0h1m18 0h1M0 23.5h1m2 0h1m5 0h1m2 0h1m0 0h1m3 0h1m1 0h1m5 0h1m7 0h1M36 24.5h1m13 0h1M2 25.5h1m10 0h1m5 0h1m1 0h1m16 0h1M2 26.5h1m8 0h1m6 0h1m6 0h1m5 0h1m6 0h1m2 0h1m16 0h1M0 27.5h1m18 0h1M11 28.5h1m26 0h1m7 0h1m16 0h1M23 29.5h1m25 0h1m6 0h1m4 0h1m5 0h1M5 30.5h1m0 0h1m2 0h1m18 0h1m1 0h1m20 0h1M10 31.5h1m2 0h1m16 0h1M8 32.5h1m13 0h1m1 0h1m45 0h1M18 33.5h1m4 0h1m44 0h1M9 34.5h1m11 0h1m8 0h1m7 0h1m13 0h1M4 35.5h1m19 0h1m1 0h1m17 0h1m3 0h1m2 0h1m2 0h1m8 0h1m7 0h1M4 36.5h1m11 0h1m6 0h1m43 0h1m3 0h1M3 37.5h1m1 0h1m0 0h1m0 0h1m12 0h1m3 0h1M2 38.5h1m2 0h1m65 0h1M4 39.5h1m16 0h1m8 0h1m26 0h1m1 0h1M3 40.5h1m1 0h1m27 0h1m32 0h1M2 41.5h1m14 0h1m28 0h1M19 42.5h1m2 0h1M10 43.5h1m40 0h1m18 0h1M3 44.5h1m10 0h1m2 0h1m46 0h1m3 0h1M24 45.5h1m44 0h1M32 46.5h1m4 0h1m11 0h1m2 0h1m8 0h1m8 0h1M7 47.5h1m4 0h1m8 0h1m25 0h1M10 48.5h1m1 0h1m2 0h1m1 0h1m7 0h1m12 0h1m19 0h1m5 0h1m4 0h1M1 49.5h1m2 0h1m2 0h1m45 0h1m7 0h1m4 0h1m3 0h1M7 50.5h1m58 0h1M6 51.5h1m9 0h1m16 0h1m11 0h1m0 0h1m14 0h1M3 52.5h1m15 0h1m27 0h1m18 0h1M6 53.5h1m16 0h1m4 0h1m4 0h1m8 0h1m12 0h1m10 0h1M12 54.5h1m11 0h1m2 0h1m0 0h1m25 0h1m14 0h1M6 55.5h1m20 0h1m16 0h1M37 56.5h1m0 0h1m31 0h1M6 57.5h1m14 0h1m0 0h1m7 0h1m8 0h1m27 0h1M18 58.5h1m0 0h1m1 0h1m11 0h1M9 59.5h1m0 0h1m3 0h1m2 0h1m2 0h1m0 0h1m0 0h1M6 60.5h1m17 0h1m9 0h1M8 61.5h1m8 0h1m6 0h1m6 0h1M3 62.5h1m23 0h1M5 63.5h1m16 0h1m4 0h1m0 0h1m3 0h1M16 64.5h1m5 0h1"/>
<path stroke="#9ad6a4" d="M63 0.5h1M9 1.5h1m23 0h1M0 2.5h1m22 0h1m3 0h1m4 0h1M4 3.5h1m14 0h1m8 0h1m13 0h1M3 4.5h1m28 0h1m11 0h1m15 0h1M2 5.5h1m6 0h1M7 6.5h1m11 0h1m16 0h1m25 0h1M6 7.5h1m5 0h1m3 0h1m0 0h1m1 0h1m16 0h1M3 8.5h1m13 0h1m6 0h1M3 9.5h1m35 0h1m0 0h1M1 10.5h1m8 0h1m4 0h1m27 0h1m0 0h1m24 0h1m0 0h1M2 11.5h1m7 0h1m12 0h1m2 0h1m44 0h1M11 12.5h1m0 0h1m6 0h1m2 0h1m2 0h1m11 0h1M10 13.5h1m3 0h1m48 0h1M6 14.5h1m2 0h1M24 15.5h1m3 0h1m7 0h1M4 16.5h1m10 0h1m0 0h1m10 0h1m10 0h1M5 17.5h1m4 0h1m22 0h1m7 0h1m11 0h1m3 0h1m0 0h1M21 18.5h1m18 0h1m10 0h1m1 0h1m1 0h1m0 0h1m2 0h1M17 19.5h1m11 0h1m10 0h1m12 0h1m4 0h1M19 20.5h1m7 0h1m7 0h1m0 0h1m1 0h1m9 0h1m2 0h1m8 0h1M17 21.5h1m10 0h1m4 0h1m1 0h1m4 0h1m14 0h1m3 0h1M16 22.5h1m11 0h1m9 0h1m3 0h1m2 0h1M2 23.5h1m12 0h1m0 0h1m3 0h1m0 0h1m9 0h1m8 0h1m12 0h1M11 24.5h1m4 0h1m15 0h1m0 0h1M1 25.5h1m2 0h1m9 0h1m14 0h1m3 0h1m0 0h1m13 0h1m11 0h1M7 26.5h1m2 0h1m31 0h1m17 0h1M14 27.5h1m6 0h1m8 0h1m17 0h1m11 0h1M26 28.5h1m21 0h1m5 0h1M9 29.5h1m2 0h1m40 0h1m3 0h1M2 30.5h1m17 0h1m23 0h1m0 0h1m4 0h1m4 0h1m5 0h1M24 31.5h1m27 0h1m4 0h1M1 32.5h1m0 0h1m11 0h1m2 0h1m7 0h1m1 0h1m12 0h1m9 0h1m3 0h1m6 0h1M7 33.5h1m55 0h1m2 0h1M13 34.5h1m2 0h1m7 0h1m19 0h1m2 0h1m3 0h1M1 35.5h1m47 0h1m15 0h1m1 0h1M24 36.5h1m3 0h1m37 0h1M50 37.5h1m6 0h1m10 0h1M6 38.5h1m2 0h1m11 0h1m1 0h1m1 0h1m14 0h1m18 0h1m3 0h1M6 39.5h1m1 0h1m36 0h1m1 0h1M31 40.5h1m31 0h1m0 0h1m2 0h1m0 0h1m2 0h1M31 41.5h1m6 0h1m0 0h1M0 42.5h1m1 0h1m2 0h1m20 0h1m3 0h1m0 0h1m3 0h1m29 0h1M60 43.5h1M19 44.5h1m3 0h1m45 0h1M0 45.5h1m4 0h1m4 0h1m1 0h1m5 0h1m31 0h1m11 0h1m7 0h1m0 0h1M5 46.5h1m1 0h1m14 0h1m2 0h1m1 0h1m2 0h1m10 0h1m14 0h1m12 0h1m1 0h1M1 47.5h1m13 0h1m1 0h1m28 0h1m20 0h1m1 0h1M0 48.5h1m13 0h1m6 0h1m13 0h1m5 0h1m0 0h1m10 0h1m3 0h1M3 49.5h1m11 0h1m14 0h1m4 0h1m2 0h1m11 0h1m5 0h1M0 50.5h1m1 0h1m12 0h1m0 0h1m20 0h1m3 0h1M37 51.5h1m0 0h1m10 0h1M7 52.5h1m0 0h1m2 0h1m0 0h1m5 0h1m6 0h1m5 0h1m0 0h1m37 0h1M5 53.5h1m28 0h1m34 0h1M0 54.5h1m10 0h1m13 0h1m3 0h1m33 0h1M3 55.5h1m5 0h1m9 0h1m37 0h1m0 0h1m5 0h1m5 0h1M24 56.5h1m1 0h1m8 0h1m8 0h1m4 0h1M4 57.5h1m4 0h1m4 0h1m23 0h1m22 0h1m1 0h1M5 58.5h1m3 0h1m2 0h1m18 0h1m8 0h1m1 0h1M6 59.5h1m17 0h1m6 0h1m1 0h1M15 60.5h1m9 0h1m2 0h1M27 61.5h1m1 0h1M34 62.5h1M18 63.5h1m5 0h1m8 0h1M11 64.5h1m5 0h1"/>
<path stroke="#abdda4" d="M2 0.5h1m21 0h1M7 1.5h1m56 0h1M1 2.5h1m2 0h1m23 0h1m4 0h1M5 3.5h1m14 0h1m6 0h1m1 0h1m14 0h1m16 0h1m3 0h1M21 4.5h1m0 0h1m6 0h1M36 5.5h1m8 0h1m18 0h1M23 6.5h1M4 7.5h1m56 0h1M5 9.5h1m6 0h1m2 0h1m45 0h1m2 0h1M0 10.5h1m7 0h1m8 0h1m23 0h1m0 0h1m20 0h1M3 11.5h1m65 0h1M23 12.5h1m11 0h1m30 0h1M13 13.5h1m1 0h1m6 0h1m0 0h1m13 0h1m23 0h1m9 0h1M12 14.5h1m24 0h1m0 0h1m0 0h1m1 0h1m22 0h1M2 15.5h1m5 0h1m5 0h1m12 0h1m12 0h1m2 0h1m0 0h1M24 16.5h1M2 17.5h1m0 0h1m0 0h1m21 0h1m5 0h1M0 18.5h1m22 0h1m6 0h1m0 0h1m5 0h1m1 0h1m5 0h1M11 19.5h1m16 0h1m15 0h1m0 0h1m23 0h1M1 20.5h1m10 0h1m9 0h1m2 0h1m5 0h1m0 0h1m7 0h1m3 0h1M1 21.5h1m7 0h1M50 22.5h1m8 0h1M6 23.5h1m1 0h1m20 0h1m32 0h1M1 24.5h1m7 0h1m5 0h1m4 0h1m9 0h1m16 0h1m4 0h1m1 0h1m16 0h1M8 25.5h1m1 0h1m13 0h1m0 0h1m14 0h1m6 0h1m5 0h1m1 0h1m11 0h1M0 26.5h1m23 0h1m11 0h1m9 0h1m0 0h1M2 27.5h1m8 0h1m6 0h1m1 0h1m10 0h1m1 0h1m5 0h1m6 0h1m2 0h1m4 0h1m0 0h1m6 0h1m6 0h1M21 28.5h1m8 0h1m3 0h1m14 0h1m16 0h1m1 0h1M45 29.5h1m9 0h1M3 30.5h1m19 0h1m7 0h1m16 0h1m7 0h1m3 0h1M31 31.5h1m16 0h1m14 0h1M15 32.5h1m13 0h1m16 0h1m8 0h1m9 0h1M17 33.5h1m1 0h1m0 0h1m26 0h1m9 0h1m7 0h1M15 34.5h1m2 0h1m13 0h1m2 0h1m9 0h1m9 0h1m13 0h1M15 35.5h1m43 0h1M5 36.5h1m12 0h1m18 0h1m1 0h1m8 0h1m0 0h1m9 0h1m10 0h1M46 37.5h1m19 0h1M8 38.5h1m15 0h1m24 0h1M7 39.5h1m1 0h1m3 0h1m1 0h1m19 0h1m24 0h1M4 40.5h1m20 0h1m23 0h1m8 0h1m3 0h1M0 41.5h1m2 0h1m1 0h1m6 0h1m1 0h1m0 0h1m18 0h1m14 0h1m21 0h1M4 42.5h1m35 0h1m22 0h1m2 0h1M2 43.5h1m14 0h1m9 0h1m5 0h1m3 0h1m11 0h1m15 0h1m3 0h1M22 44.5h1m16 0h1m19 0h1M4 45.5h1m1 0h1m2 0h1m5 0h1m16 0h1m19 0h1m7 0h1M4 46.5h1m10 0h1m15 0h1M5 47.5h1m2 0h1m0 0h1m28 0h1m9 0h1m7 0h1m7 0h1m5 0h1M37 48.5h1m6 0h1m7 0h1M9 49.5h1m3 0h1m19 0h1m8 0h1m5 0h1m20 0h1M36 50.5h1m7 0h1m3 0h1m8 0h1m1 0h1m7 0h1m1 0h1M7 51.5h1m6 0h1m0 0h1m4 0h1m39 0h1m4 0h1M17 52.5h1m47 0h1M36 53.5h1M34 54.5h1m1 0h1M34 55.5h1m1 0h1m18 0h1M27 56.5h1m22 0h1m6 0h1m7 0h1m3 0h1m1 0h1M23 57.5h1m0 0h1m29 0h1m0 0h1M4 58.5h1m5 0h1m25 0h1m19 0h1m6 0h1m0 0h1m0 0h1M4 59.5h1m31 0h1m5 0h1M14 60.5h1m14 0h1m6 0h1m2 0h1m24 0h1M32 61.5h1m2 0h1m3 0h1m23 0h1M4 62.5h1m8 0h1m23 0h1M3 63.5h1m4 0h1m4 0h1m21 0h1"/>
<path stroke="#bae3a1" d="M4 0.5h1M13 1.5h1m0 0h1M9 2.5h1m24 0h1m23 0h1M2 3.5h1m18 0h1m2 0h1m11 0h1M27 4.5h1m8 0h1m6 0h1m3 0h1m13 0h1M5 6.5h1m2 0h1m11 0h1m1 0h1m8 0h1m10 0h1m16 0h1m7 0h1M0 7.5h1m6 0h1M22 8.5h1m23 0h1m11 0h1M21 9.5h1m5 0h1m14 0h1M5 10.5h1m12 0h1m8 0h1m38 0h1M24 11.5h1m18 0h1m21 0h1M8 12.5h1m12 0h1m5 0h1m15 0h1m24 0h1M39 13.5h1M8 14.5h1m14 0h1m26 0h1M10 15.5h1m14 0h1m8 0h1m27 0h1m1 0h1M32 16.5h1m2 0h1m1 0h1m4 0h1m27 0h1M9 17.5h1m36 0h1m9 0h1m4 0h1m6 0h1M32 18.5h1m1 0h1m3 0h1m13 0h1m16 0h1M22 19.5h1m1 0h1m27 0h1m7 0h1m6 0h1M30 20.5h1m11 0h1m0 0h1m5 0h1m0 0h1m5 0h1M6 21.5h1m5 0h1m39 0h1m4 0h1m2 0h1M29 22.5h1m3 0h1m3 0h1m3 0h1m10 0h1M27 23.5h1m7 0h1m6 0h1m11 0h1m3 0h1M25 24.5h1m3 0h1m14 0h1m0 0h1m14 0h1M11 25.5h1m18 0h1m10 0h1m3 0h1m3 0h1m11 0h1m9 0h1M27 26.5h1m0 0h1m6 0h1m23 0h1M15 27.5h1m9 0h1m9 0h1m11 0h1m2 0h1M1 28.5h1m10 0h1m12 0h1m6 0h1m0 0h1m24 0h1m0 0h1m1 0h1m5 0h1M54 29.5h1m11 0h1M0 30.5h1m7 0h1m10 0h1m4 0h1m2 0h1m10 0h1m8 0h1M28 31.5h1m6 0h1m10 0h1m18 0h1M28 32.5h1m15 0h1m11 0h1M13 33.5h1m7 0h1m0 0h1m9 0h1m16 0h1m1 0h1m1 0h1M3 34.5h1m4 0h1m8 0h1m4 0h1m31 0h1m5 0h1m0 0h1M6 35.5h1m10 0h1m2 0h1m8 0h1m10 0h1m16 0h1m6 0h1M3 36.5h1m6 0h1m2 0h1m15 0h1m12 0h1m13 0h1m0 0h1M21 37.5h1m9 0h1m12 0h1m16 0h1m8 0h1M10 38.5h1m32 0h1m6 0h1m16 0h1M2 39.5h1m8 0h1m6 0h1m27 0h1m17 0h1m6 0h1M4 41.5h1m16 0h1m41 0h1m0 0h1m1 0h1M25 42.5h1m36 0h1M29 43.5h1m1 0h1m3 0h1m22 0h1m4 0h1m0 0h1M27 44.5h1m12 0h1m3 0h1m21 0h1m0 0h1m3 0h1M14 45.5h1m4 0h1m10 0h1m13 0h1M9 46.5h1m9 0h1m9 0h1m6 0h1m21 0h1m5 0h1M6 47.5h1m16 0h1m9 0h1m20 0h1m0 0h1m6 0h1M2 48.5h1m0 0h1m3 0h1m3 0h1m14 0h1m23 0h1m4 0h1m0 0h1m10 0h1M2 49.5h1m13 0h1m7 0h1m1 0h1m0 0h1m32 0h1M5 50.5h1m0 0h1m16 0h1m7 0h1m10 0h1m10 0h1m10 0h1m6 0h1M24 51.5h1m0 0h1m1 0h1m15 0h1m4 0h1m1 0h1m4 0h1M30 52.5h1m14 0h1m0 0h1m1 0h1m3 0h1m2 0h1m13 0h1M7 53.5h1m22 0h1m6 0h1m1 0h1m1 0h1m3 0h1m0 0h1m0 0h1m0 0h1m9 0h1m8 0h1m3 0h1M3 54.5h1m39 0h1m22 0h1M5 55.5h1m43 0h1m0 0h1m14 0h1m0 0h1m4 0h1M54 56.5h1m13 0h1M5 57.5h1m12 0h1m14 0h1m3 0h1m4 0h1M6 58.5h1m15 0h1m3 0h1m7 0h1m2 0h1m5 0h1m10 0h1m13 0h1M30 59.5h1m4 0h1m5 0h1m1 0h1m13 0h1m2 0h1m0 0h1m2 0h1M18 60.5h1m22 0h1m24 0h1M14 61.5h1m11 0h1m10 0h1M6 62.5h1m18 0h1m6 0h1M1 63.5h1m2 0h1M23 64.5h1"/>
<path stroke="#c8e99e" d="M8 0.5h1M60 1.5h1m5 0h1M5 2.5h1M50 3.5h1m12 0h1M23 4.5h1m39 0h1m0 0h1M5 5.5h1m22 0h1m9 0h1m10 0h1M16 6.5h1m33 0h1m15 0h1M56 7.5h1M16 8.5h1m27 0h1M13 9.5h1m2 0h1m31 0h1M11 10.5h1m46 0h1m3 0h1M12 11.5h1m4 0h1m43 0h1m0 0h1M18 13.5h1m15 0h1m8 0h1m6 0h1m6 0h1m2 0h1m7 0h1M15 15.5h1m40 0h1m13 0h1M56 16.5h1M17 17.5h1m11 0h1m10 0h1m7 0h1m0 0h1m10 0h1M48 18.5h1m5 0h1m6 0h1M3 19.5h1m23 0h1m2 0h1m5 0h1m9 0h1m15 0h1m2 0h1m4 0h1M37 20.5h1m1 0h1m1 0h1M29 21.5h1m2 0h1m3 0h1m2 0h1M25 22.5h1m8 0h1m1 0h1m10 0h1m5 0h1m4 0h1m2 0h1M18 23.5h1m27 0h1m12 0h1m0 0h1M18 24.5h1m19 0h1m17 0h1m1 0h1m11 0h1M15 25.5h1m0 0h1m1 0h1m1 0h1m5 0h1m1 0h1m2 0h1m3 0h1m3 0h1m19 0h1M16 26.5h1m2 0h1m0 0h1m8 0h1m0 0h1m8 0h1m11 0h1m18 0h1M10 27.5h1m5 0h1m17 0h1m8 0h1m13 0h1M2 28.5h1m17 0h1m10 0h1m4 0h1m3 0h1m1 0h1m4 0h1m4 0h1M18 29.5h1m0 0h1m7 0h1m6 0h1m0 0h1m6 0h1m8 0h1M16 30.5h1m5 0h1m6 0h1m6 0h1m15 0h1m9 0h1m0 0h1m0 0h1m5 0h1M12 31.5h1m30 0h1m1 0h1m13 0h1m9 0h1m0 0h1M5 32.5h1m13 0h1m11 0h1m6 0h1m2 0h1m9 0h1m15 0h1m1 0h1M3 33.5h1m33 0h1m20 0h1m12 0h1M50 34.5h1m7 0h1m7 0h1m1 0h1M8 35.5h1m12 0h1m0 0h1m14 0h1m0 0h1m14 0h1m14 0h1m0 0h1M7 36.5h1m9 0h1m9 0h1m2 0h1m3 0h1m5 0h1m5 0h1m15 0h1M0 37.5h1m3 0h1m4 0h1m2 0h1m16 0h1m4 0h1m6 0h1m16 0h1m10 0h1M29 38.5h1m7 0h1m1 0h1m16 0h1m1 0h1m1 0h1m1 0h1m3 0h1m2 0h1m0 0h1M16 39.5h1M6 40.5h1m7 0h1m4 0h1m7 0h1m11 0h1m3 0h1m4 0h1m10 0h1m9 0h1M13 41.5h1m16 0h1m4 0h1m11 0h1m2 0h1m6 0h1M3 42.5h1m16 0h1m8 0h1m28 0h1M1 43.5h1m37 0h1m19 0h1M1 45.5h1m18 0h1m7 0h1m4 0h1m0 0h1m7 0h1m0 0h1m7 0h1m2 0h1m1 0h1m8 0h1M38 46.5h1m1 0h1m6 0h1m2 0h1m14 0h1M0 47.5h1m2 0h1m18 0h1m5 0h1m16 0h1m14 0h1m2 0h1M28 48.5h1m18 0h1m1 0h1m1 0h1m8 0h1M58 49.5h1M8 50.5h1m2 0h1m10 0h1m9 0h1m18 0h1m0 0h1m2 0h1m2 0h1M11 51.5h1m19 0h1m2 0h1m0 0h1M15 52.5h1m0 0h1m12 0h1m10 0h1M2 53.5h1m29 0h1m11 0h1M9 54.5h1m28 0h1m6 0h1m1 0h1m13 0h1M10 55.5h1m13 0h1m4 0h1m5 0h1m7 0h1m7 0h1m11 0h1M11 56.5h1m22 0h1m1 0h1m29 0h1M3 57.5h1m30 0h1m5 0h1m2 0h1m14 0h1m6 0h1M16 58.5h1m0 0h1m2 0h1m4 0h1m9 0h1m21 0h1m0 0h1M13 59.5h1m11 0h1m8 0h1M7 60.5h1m4 0h1m25 0h1m24 0h1m1 0h1M4 61.5h1m7 0h1m5 0h1M30 62.5h1M2 63.5h1m4 0h1m29 0h1"/>
<path stroke="#d7ef9b" d="M60 2.5h1m1 0h1m2 0h1M58 3.5h1M66 5.5h1M0 6.5h1m0 0h1M21 7.5h1m43 0h1M55 8.5h1M57 9.5h1m13 0h1M3 10.5h1M31 11.5h1m18 0h1M9 12.5h1m26 0h1m3 0h1M59 13.5h1M42 14.5h1m2 0h1m12 0h1m12 0h1M26 15.5h1m33 0h1M48 16.5h1m15 0h1M27 17.5h1m8 0h1m5 0h1m27 0h1M11 18.5h1M33 19.5h1m5 0h1m2 0h1m7 0h1m3 0h1m16 0h1M7 20.5h1m13 0h1m35 0h1m12 0h1M15 21.5h1m25 0h1m1 0h1m2 0h1m7 0h1m7 0h1M0 22.5h1m7 0h1m6 0h1m11 0h1m7 0h1m8 0h1m1 0h1m2 0h1m1 0h1M7 23.5h1m26 0h1m6 0h1M23 24.5h1m2 0h1m0 0h1m0 0h1m5 0h1m6 0h1M52 25.5h1m1 0h1m13 0h1M9 26.5h1m12 0h1m9 0h1m12 0h1M24 27.5h1m43 0h1m1 0h1M13 28.5h1m10 0h1m16 0h1m2 0h1m0 0h1m14 0h1m3 0h1m5 0h1M25 29.5h1m4 0h1m9 0h1M17 30.5h1m19 0h1m19 0h1m7 0h1m5 0h1M6 31.5h1m25 0h1m11 0h1m2 0h1m1 0h1m1 0h1m6 0h1M45 32.5h1m1 0h1m12 0h1m2 0h1m7 0h1M24 33.5h1m16 0h1m4 0h1m3 0h1M19 34.5h1m3 0h1m2 0h1m2 0h1m6 0h1m4 0h1m0 0h1m0 0h1m27 0h1M13 35.5h1m29 0h1m1 0h1M1 36.5h1m19 0h1m0 0h1m3 0h1m17 0h1m15 0h1M2 37.5h1m8 0h1m1 0h1m4 0h1m11 0h1m7 0h1m10 0h1m2 0h1m10 0h1M34 38.5h1M34 39.5h1m2 0h1m1 0h1m18 0h1m6 0h1M13 40.5h1m3 0h1m2 0h1m24 0h1M8 41.5h1m0 0h1m35 0h1M1 42.5h1m8 0h1m4 0h1m17 0h1m0 0h1m22 0h1m2 0h1M16 43.5h1m1 0h1m0 0h1m1 0h1m45 0h1m0 0h1M11 44.5h1m9 0h1m4 0h1m30 0h1m4 0h1M21 45.5h1m0 0h1m6 0h1m7 0h1m0 0h1m2 0h1m3 0h1m3 0h1m9 0h1m6 0h1M0 46.5h1m38 0h1m2 0h1m8 0h1m1 0h1m3 0h1m1 0h1m6 0h1M2 47.5h1m1 0h1m24 0h1m11 0h1m10 0h1m5 0h1m2 0h1m3 0h1M34 48.5h1m1 0h1m22 0h1M5 49.5h1m38 0h1m4 0h1m7 0h1m6 0h1M3 50.5h1m15 0h1m50 0h1M1 51.5h1m37 0h1m0 0h1m0 0h1m11 0h1m13 0h1M49 52.5h1m12 0h1m5 0h1M17 53.5h1m20 0h1m1 0h1m20 0h1M4 54.5h1m5 0h1m15 0h1m10 0h1m4 0h1m9 0h1M11 55.5h1m47 0h1m1 0h1M19 56.5h1m21 0h1m9 0h1m0 0h1m9 0h1M15 57.5h1m41 0h1m6 0h1M41 58.5h1M16 59.5h1m48 0h1m1 0h1M3 60.5h1m7 0h1m56 0h1m1 0h1M62 61.5h1M19 63.5h1M18 64.5h1m15 0h1"/>
<path stroke="#e6f598" d="M66 0.5h1M13 3.5h1m8 0h1m0 0h1m35 0h1M34 4.5h1m0 0h1m6 0h1m8 0h1m5 0h1m4 0h1M22 5.5h1m0 0h1m18 0h1M3 6.5h1m41 0h1m0 0h1m0 0h1m0 0h1m7 0h1M10 7.5h1m35 0h1m6 0h1m12 0h1m0 0h1M19 8.5h1m27 0h1m11 0h1m4 0h1M41 9.5h1m2 0h1m5 0h1m5 0h1m5 0h1M12 10.5h1m58 0h1M44 11.5h1m11 0h1m2 0h1m0 0h1M42 12.5h1m1 0h1m14 0h1m4 0h1m2 0h1m3 0h1M6 13.5h1m38 0h1m16 0h1M35 14.5h1m8 0h1m2 0h1m3 0h1m7 0h1m1 0h1m4 0h1M57 15.5h1m3 0h1m7 0h1M51 16.5h1m3 0h1m5 0h1M55 17.5h1m3 0h1M28 18.5h1m14 0h1m5 0h1m13 0h1m0 0h1M1 19.5h1M33 20.5h1m11 0h1m0 0h1m16 0h1M45 21.5h1m10 0h1m7 0h1M31 22.5h1m8 0h1m24 0h1M24 23.5h1m7 0h1m4 0h1m0 0h1M10 24.5h1m46 0h1M22 25.5h1M33 26.5h1m0 0h1m9 0h1m4 0h1m3 0h1m0 0h1m12 0h1m0 0h1M40 27.5h1m3 0h1m7 0h1m12 0h1M18 28.5h1m24 0h1m7 0h1m4 0h1m5 0h1M20 29.5h1m10 0h1m1 0h1m5 0h1m23 0h1M34 30.5h1m4 0h1m0 0h1m5 0h1m2 0h1m19 0h1M25 31.5h1m3 0h1m4 0h1m20 0h1M35 32.5h1m1 0h1m11 0h1m16 0h1m1 0h1M6 33.5h1m1 0h1m25 0h1m7 0h1m12 0h1m4 0h1m3 0h1m2 0h1M20 34.5h1m18 0h1m0 0h1m8 0h1m7 0h1M19 35.5h1m8 0h1m23 0h1m2 0h1m2 0h1M0 36.5h1m31 0h1m0 0h1m17 0h1m1 0h1m10 0h1M32 37.5h1m7 0h1m1 0h1m8 0h1m3 0h1M1 38.5h1m30 0h1m0 0h1m2 0h1m4 0h1m2 0h1M3 39.5h1m10 0h1m10 0h1m24 0h1m17 0h1m1 0h1M18 40.5h1m4 0h1m8 0h1m37 0h1M48 41.5h1m16 0h1m4 0h1M28 42.5h1m30 0h1M28 43.5h1M2 44.5h1m12 0h1m16 0h1m0 0h1m1 0h1m25 0h1M16 45.5h1m6 0h1m22 0h1m14 0h1M28 46.5h1m25 0h1m0 0h1m12 0h1M40 47.5h1m30 0h1M1 48.5h1m44 0h1m1 0h1M36 49.5h1m0 0h1m9 0h1m15 0h1M27 50.5h1m10 0h1m4 0h1M23 51.5h1m8 0h1m3 0h1m29 0h1M38 52.5h1m21 0h1M43 53.5h1m7 0h1m18 0h1M6 54.5h1m52 0h1M48 55.5h1m5 0h1M3 56.5h1m6 0h1m29 0h1m6 0h1M12 57.5h1m3 0h1m27 0h1M11 58.5h1m57 0h1M37 59.5h1m20 0h1m7 0h1m3 0h1M42 60.5h1m28 0h1M30 61.5h1M36 62.5h1M30 63.5h1M20 64.5h1"/>
<path stroke="#ecf8a2" d="M59 1.5h1M6 2.5h1M38 3.5h1m27 0h1M14 4.5h1m43 0h1M47 5.5h1M57 6.5h1m5 0h1M47 7.5h1M56 8.5h1m6 0h1M10 9.5h1m11 0h1M21 10.5h1m38 0h1M9 11.5h1m6 0h1m47 0h1m1 0h1M45 12.5h1m17 0h1m1 0h1M42 13.5h1m4 0h1m17 0h1m0 0h1m3 0h1M43 14.5h1m24 0h1M0 15.5h1m44 0h1m12 0h1m0 0h1m6 0h1M47 16.5h1m10 0h1m4 0h1M52 17.5h1m14 0h1M1 18.5h1m0 0h1m24 0h1m7 0h1m5 0h1m2 0h1m12 0h1m12 0h1M35 19.5h1m12 0h1m6 0h1m1 0h1M54 20.5h1m3 0h1M16 21.5h1M30 22.5h1m31 0h1m5 0h1M51 23.5h1m12 0h1m6 0h1M53 24.5h1M23 25.5h1m33 0h1m11 0h1M66 26.5h1m2 0h1M41 27.5h1m14 0h1m7 0h1M0 28.5h1m70 0h1M0 29.5h1m0 0h1m35 0h1m3 0h1m2 0h1m19 0h1m3 0h1m1 0h1M33 30.5h1m24 0h1M36 31.5h1m2 0h1m1 0h1m8 0h1m11 0h1m5 0h1M34 32.5h1m4 0h1m8 0h1m13 0h1m1 0h1M29 33.5h1m6 0h1m3 0h1m11 0h1m9 0h1m6 0h1M6 34.5h1m0 0h1m19 0h1m37 0h1m4 0h1M42 35.5h1m3 0h1m3 0h1m11 0h1M14 36.5h1m16 0h1m9 0h1m23 0h1m3 0h1M22 37.5h1m5 0h1M13 38.5h1m16 0h1m4 0h1m21 0h1m3 0h1M22 39.5h1m18 0h1m1 0h1M22 40.5h1m7 0h1m4 0h1m0 0h1m1 0h1M19 41.5h1m22 0h1m16 0h1m0 0h1M61 42.5h1M34 43.5h1m31 0h1M29 44.5h1m1 0h1m10 0h1m6 0h1m3 0h1M40 45.5h1m14 0h1M23 46.5h1m20 0h1m0 0h1m16 0h1M19 47.5h1m7 0h1m3 0h1m17 0h1m3 0h1m12 0h1M66 48.5h1M50 50.5h1M17 51.5h1m34 0h1m9 0h1m6 0h1M54 52.5h1m2 0h1M15 53.5h1m48 0h1M19 54.5h1m28 0h1m4 0h1m3 0h1m6 0h1M38 55.5h1m0 0h1m16 0h1M39 56.5h1m2 0h1M35 57.5h1m16 0h1m9 0h1m8 0h1M23 58.5h1m43 0h1M15 59.5h1m23 0h1m22 0h1m5 0h1M31 60.5h1m0 0h1M38 61.5h1M12 62.5h1M34 63.5h1M15 64.5h1m14 0h1"/>
<path stroke="#f2faac" d="M66 2.5h1m2 0h1m0 0h1M64 3.5h1M52 4.5h1m0 0h1M44 5.5h1m16 0h1M49 6.5h1m10 0h1M45 7.5h1m17 0h1m4 0h1M0 8.5h1m17 0h1m14 0h1m27 0h1m3 0h1M46 9.5h1m2 0h1m4 0h1m3 0h1m6 0h1m1 0h1M16 10.5h1m28 0h1m2 0h1m6 0h1m9 0h1M5 11.5h1m35 0h1m26 0h1M51 12.5h1m8 0h1M58 13.5h1m5 0h1M65 14.5h1m3 0h1M54 15.5h1M52 16.5h1M43 17.5h1m3 0h1m2 0h1M47 18.5h1m2 0h1M43 19.5h1m20 0h1M61 20.5h1m3 0h1m0 0h1M48 21.5h1m2 0h1m1 0h1m16 0h1M64 22.5h1m5 0h1M50 23.5h1m12 0h1M42 24.5h1m12 0h1m6 0h1M43 25.5h1M21 26.5h1m18 0h1m20 0h1m9 0h1M1 27.5h1m64 0h1m0 0h1M35 28.5h1m3 0h1m13 0h1m1 0h1m13 0h1M36 29.5h1m25 0h1M35 30.5h1m6 0h1M40 31.5h1m25 0h1M33 32.5h1m2 0h1m6 0h1m15 0h1M15 33.5h1m23 0h1M28 34.5h1m30 0h1M27 35.5h1m3 0h1m2 0h1m4 0h1m1 0h1m19 0h1M25 36.5h1m26 0h1m1 0h1m6 0h1M23 37.5h1m13 0h1m1 0h1m13 0h1M14 38.5h1m12 0h1m0 0h1M12 39.5h1m13 0h1m4 0h1M21 40.5h1m4 0h1m13 0h1m9 0h1M33 41.5h1m6 0h1m2 0h1m0 0h1M17 42.5h1m3 0h1m23 0h1m1 0h1M44 43.5h1m16 0h1m9 0h1M34 44.5h1m17 0h1M36 45.5h1m21 0h1m5 0h1m2 0h1M3 46.5h1m59 0h1M36 47.5h1m5 0h1m1 0h1m12 0h1m10 0h1M51 49.5h1m0 0h1m6 0h1M4 50.5h1m34 0h1m20 0h1M42 51.5h1m27 0h1M36 52.5h1m19 0h1m1 0h1M52 53.5h1M46 54.5h1m9 0h1m5 0h1m7 0h1M20 55.5h1m19 0h1m0 0h1m5 0h1m5 0h1M20 56.5h1m32 0h1m4 0h1m1 0h1M10 57.5h1m48 0h1M3 58.5h1M11 59.5h1M61 60.5h1m7 0h1M28 62.5h1"/>
<path stroke="#f9fcb5" d="M65 0.5h1M31 2.5h1M67 3.5h1M49 4.5h1M50 5.5h1m0 0h1M1 7.5h1m13 0h1m36 0h1M7 8.5h1m41 0h1m7 0h1m10 0h1M47 9.5h1m12 0h1m8 0h1m0 0h1M67 11.5h1m2 0h1M49 14.5h1m17 0h1m2 0h1M42 15.5h1m3 0h1m4 0h1m3 0h1M45 16.5h1m13 0h1m8 0h1M44 17.5h1m0 0h1M65 18.5h1M32 19.5h1m16 0h1m13 0h1M38 21.5h1M32 22.5h1m15 0h1m6 0h1m1 0h1m13 0h1M47 23.5h1m18 0h1m1 0h1M22 24.5h1m26 0h1m1 0h1m11 0h1m1 0h1m0 0h1M44 25.5h1m6 0h1M56 26.5h1M51 27.5h1M26 29.5h1m42 0h1M66 30.5h1M38 31.5h1m3 0h1m21 0h1m6 0h1M16 33.5h1m18 0h1m2 0h1m6 0h1M60 35.5h1m5 0h1M12 36.5h1m7 0h1m26 0h1m15 0h1M26 37.5h1m8 0h1m20 0h1M38 38.5h1m3 0h1m2 0h1m0 0h1m4 0h1m13 0h1M24 39.5h1m13 0h1m23 0h1M0 40.5h1m43 0h1m12 0h1m2 0h1m0 0h1M23 41.5h1m2 0h1m5 0h1m3 0h1m32 0h1M16 42.5h1m6 0h1m43 0h1M15 43.5h1m31 0h1M50 44.5h1m9 0h1m4 0h1M39 45.5h1m13 0h1m3 0h1m10 0h1M39 47.5h1M22 48.5h1m17 0h1m22 0h1M6 49.5h1m27 0h1m6 0h1m20 0h1M40 50.5h1M47 51.5h1m8 0h1m7 0h1m6 0h1M41 52.5h1m22 0h1M35 53.5h1m13 0h1M49 54.5h1m21 0h1M45 55.5h1m22 0h1M48 56.5h1m7 0h1m7 0h1M11 57.5h1m13 0h1m15 0h1m24 0h1m1 0h1m0 0h1m0 0h1M38 58.5h1m22 0h1m0 0h1m3 0h1m3 0h1m0 0h1M59 59.5h1m11 0h1M64 61.5h1M38 62.5h1"/>
<path stroke="#ffffbf" d="M62 1.5h1M61 2.5h1m9 0h1M59 4.5h1M52 5.5h1m5 0h1m0 0h1M54 6.5h1m0 0h1m2 0h1M49 7.5h1m0 0h1m7 0h1m0 0h1m4 0h1M51 8.5h1m0 0h1m14 0h1M45 9.5h1m20 0h1M20 10.5h1m35 0h1m2 0h1M48 13.5h1m18 0h1M48 14.5h1m8 0h1M48 15.5h1m14 0h1m1 0h1M46 16.5h1m6 0h1m3 0h1m7 0h1M51 17.5h1m11 0h1m1 0h1M29 18.5h1m28 0h1m8 0h1M66 19.5h1M47 20.5h1m16 0h1m4 0h1M37 21.5h1m11 0h1m13 0h1M18 22.5h1m47 0h1M48 23.5h1m3 0h1M61 24.5h1M56 25.5h1M37 26.5h1m5 0h1m8 0h1m9 0h1M43 30.5h1M33 31.5h1m3 0h1M57 32.5h1M56 33.5h1M33 34.5h1m0 0h1m21 0h1m10 0h1M33 35.5h1m13 0h1m8 0h1M38 36.5h1m6 0h1m9 0h1M54 37.5h1M41 40.5h1m9 0h1M24 41.5h1M68 42.5h1M55 43.5h1M47 44.5h1m3 0h1m6 0h1M46 46.5h1m13 0h1M43 47.5h1M45 48.5h1M44 51.5h1m13 0h1M43 52.5h1m0 0h1m16 0h1m1 0h1m7 0h1M63 53.5h1m1 0h1M20 54.5h1m23 0h1m10 0h1m4 0h1M42 55.5h1m17 0h1m1 0h1M18 56.5h1M59 58.5h1M3 59.5h1M14 62.5h1M20 63.5h1m10 0h1"/>
<path stroke="#fff7b2" d="M68 1.5h1M67 2.5h1m0 0h1M53 5.5h1m9 0h1m1 0h1M52 6.5h1m12 0h1M48 7.5h1m6 0h1M2 9.5h1m56 0h1M46 10.5h1M45 11.5h1m0 0h1m1 0h1m8 0h1m0 0h1M48 12.5h1m20 0h1M55 13.5h1m13 0h1M46 14.5h1M53 15.5h1M50 16.5h1M60 18.5h1m1 0h1M0 19.5h1m46 0h1m8 0h1m4 0h1M34 20.5h1M47 21.5h1m2 0h1M65 23.5h1m1 0h1M43 24.5h1m25 0h1M65 26.5h1M63 27.5h1m7 0h1M42 32.5h1m15 0h1M28 33.5h1m14 0h1m26 0h1M37 34.5h1M47 37.5h1M47 38.5h1M32 39.5h1m0 0h1m6 0h1m7 0h1m2 0h1m11 0h1M12 40.5h1m11 0h1m9 0h1m12 0h1M25 41.5h1m32 0h1M41 42.5h1M56 43.5h1m0 0h1m4 0h1M16 44.5h1M47 45.5h1M12 46.5h1M39 48.5h1M61 50.5h1m1 0h1M56 53.5h1m0 0h1m2 0h1M69 55.5h1M61 56.5h1M37 60.5h1m24 0h1"/>
<path stroke="#fef0a5" d="M57 3.5h1M66 4.5h1M51 7.5h1M50 8.5h1M49 10.5h1m7 0h1m3 0h1m6 0h1M56 12.5h1m13 0h1M44 13.5h1m4 0h1M67 15.5h1m0 0h1M67 16.5h1M66 17.5h1M68 18.5h1M59 20.5h1m2 0h1M65 21.5h1M68 24.5h1M27 25.5h1m34 0h1m7 0h1M61 27.5h1M65 28.5h1M71 29.5h1M59 30.5h1m7 0h1M56 31.5h1m10 0h1M54 33.5h1m6 0h1M33 37.5h1m11 0h1m18 0h1M64 38.5h1M42 39.5h1m18 0h1M42 40.5h1M39 42.5h1m3 0h1m4 0h1m0 0h1m0 0h1M48 43.5h1m3 0h1M48 44.5h1M43 46.5h1m23 0h1M46 50.5h1M57 51.5h1M42 52.5h1m8 0h1m1 0h1M54 53.5h1m4 0h1M41 54.5h1m9 0h1M28 55.5h1m23 0h1M59 56.5h1M60 57.5h1M38 59.5h1M36 61.5h1M31 62.5h1M29 64.5h1"/>
<path stroke="#fee898" d="M69 3.5h1M67 5.5h1M53 6.5h1m14 0h1M55 9.5h1m12 0h1M47 10.5h1m4 0h1M47 11.5h1M49 12.5h1m2 0h1M52 15.5h1M43 16.5h1m5 0h1m16 0h1M64 17.5h1M46 18.5h1M29 20.5h1M66 21.5h1M35 24.5h1M63 26.5h1M68 30.5h1M36 37.5h1M19 38.5h1M44 39.5h1M41 41.5h1M40 43.5h1m9 0h1M41 44.5h1m1 0h1m11 0h1M63 45.5h1M50 47.5h1M40 49.5h1m5 0h1M62 50.5h1M59 51.5h1M39 54.5h1m18 0h1M43 56.5h1m1 0h1M36 57.5h1M30 60.5h1"/>
<path stroke="#fee08b" d="M68 5.5h1M57 7.5h1M54 8.5h1M50 10.5h1M53 11.5h1m1 0h1M46 12.5h1m0 0h1M51 13.5h1M52 14.5h1M47 15.5h1m1 0h1m0 0h1M68 21.5h1m0 0h1M65 25.5h1M55 26.5h1m8 0h1M65 29.5h1M33 33.5h1M62 34.5h1M31 38.5h1m22 0h1M44 42.5h1m6 0h1M14 46.5h1M45 50.5h1M45 57.5h1"/>
<path stroke="#fed480" d="M68 3.5h1M56 4.5h1m11 0h1M57 5.5h1M53 8.5h1m15 0h1M52 9.5h1m0 0h1M49 11.5h1M50 12.5h1M46 13.5h1m9 0h1M70 23.5h1M64 24.5h1M64 25.5h1M65 37.5h1M56 39.5h1M52 42.5h1M45 43.5h1M45 44.5h1m0 0h1m7 0h1M47 50.5h1M40 54.5h1M60 58.5h1M69 59.5h1"/>
<path stroke="#fec776" d="M65 1.5h1M54 3.5h1M54 4.5h1M54 5.5h1m0 0h1m13 0h1M69 6.5h1M69 7.5h1M53 10.5h1m0 0h1M68 19.5h1M67 21.5h1M69 22.5h1M63 25.5h1M52 38.5h1m2 0h1M52 39.5h1M51 41.5h1M46 42.5h1m6 0h1M41 43.5h1m11 0h1m0 0h1M45 49.5h1M63 51.5h1M55 56.5h1"/>
<path stroke="#fdba6c" d="M55 14.5h1m0 0h1M67 24.5h1M52 40.5h1m3 0h1M46 43.5h1"/>
<path stroke="#fdae61" d="M69 4.5h1M54 11.5h1M53 12.5h1M52 13.5h1M71 21.5h1M67 22.5h1M69 23.5h1M66 25.5h1M56 44.5h1M59 52.5h1"/>
<path stroke="#fb9e5a" d="M55 4.5h1M56 5.5h1M67 20.5h1M36 35.5h1M36 36.5h1M53 38.5h1M53 39.5h1m0 0h1M42 43.5h1"/>
<path stroke="#f88e52" d="M70 3.5h1M70 4.5h1M52 11.5h1M55 12.5h1M39 52.5h1"/>
<path stroke="#f67d4a" d="M71 3.5h1M51 9.5h1M54 12.5h1M56 42.5h1M43 43.5h1"/>
<path stroke="#f46d43" d="M54 7.5h1M51 11.5h1M53 40.5h1M42 42.5h1m12 0h1"/>
<path stroke="#e45649" d="M70 5.5h1M70 7.5h1m0 0h1M35 35.5h1M35 36.5h1"/>
<path stroke="#dd4a4c" d="M70 8.5h1M53 13.5h1M55 40.5h1M53 41.5h1m1 0h1"/>
<path stroke="#d53e4f" d="M71 6.5h1M71 8.5h1M68 20.5h1M55 39.5h1M54 41.5h1m1 0h1M54 42.5h1"/>
<path stroke="#c72f4c" d="M70 6.5h1M51 10.5h1M54 13.5h1M52 41.5h1"/>
<path stroke="#ba2048" d="M71 4.5h1"/>
<path stroke="#ac1045" d="M54 40.5h1"/>
<path stroke="#9e0142" d="M71 5.5h1M53 14.5h1m0 0h1"/>
</g>
<path d="M21.7 22h4.4v4.5h-4.4zM30.5 22h4.4v4.5h-4.4zM48.1 22h4.4v4.5h-4.4zM65.7 22h4.4v4.5h-4.4zM118.5 22h4.4v4.5h-4.4zM158.1 22h4.4v4.5h-4.4zM193.3 22h13.2v4.5h-13.2zM290.1 22h17.6v4.5h-17.6zM17.3 26.4h8.8v4.5h-8.8zM30.5 26.4h48.4v4.5h-48.4zM114.1 26.4h17.6v4.5h-17.6zM140.5 26.4h4.4v4.5h-4.4zM149.3 26.4h13.2v4.5h-13.2zM188.9 26.4h22v4.5h-22zM272.5 26.4h8.8v4.5h-8.8zM285.7 26.4h30.8v4.5h-30.8zM12.9 30.9h83.6v4.5h-83.6zM109.7 30.9h57.2v4.5h-57.2zM180.1 30.9h4.4v4.5h-4.4zM188.9 30.9h35.2v4.5h-35.2zM268.1 30.9h61.6v4.5h-61.6zM12.9 35.4h224.4v4.5h-224.4zM250.5 35.4h4.4v4.5h-4.4zM263.7 35.4h66v4.5h-66zM12.9 39.8h316.8v4.5h-316.8zM12.9 44.2h316.8v4.5h-316.8zM12.9 48.7h316.8v4.5h-316.8zM12.9 53.2h316.8v4.5h-316.8zM12.9 57.6h316.8v4.5h-316.8zM12.9 62.1h316.8v4.5h-316.8zM12.9 66.5h316.8v4.5h-316.8zM12.9 71h316.8v4.5h-316.8zM12.9 75.4h316.8v4.5h-316.8zM12.9 79.8h316.8v4.5h-316.8zM12.9 84.3h316.8v4.5h-316.8zM12.9 88.8h316.8v4.5h-316.8zM12.9 93.2h316.8v4.5h-316.8zM12.9 97.7h316.8v4.5h-316.8zM12.9 102.1h316.8v4.5h-316.8zM12.9 106.5h316.8v4.5h-316.8zM12.9 111h316.8v4.5h-316.8zM12.9 115.5h316.8v4.5h-316.8zM12.9 119.9h316.8v4.5h-316.8zM12.9 124.4h316.8v4.5h-316.8zM12.9 128.8h316.8v4.5h-316.8zM12.9 133.2h316.8v4.5h-316.8zM12.9 137.7h316.8v4.5h-316.8zM12.9 142.2h316.8v4.5h-316.8zM12.9 146.6h316.8v4.5h-316.8zM12.9 151.1h316.8v4.5h-316.8zM12.9 155.5h316.8v4.5h-316.8zM12.9 160h316.8v4.5h-316.8zM12.9 164.4h316.8v4.5h-316.8zM12.9 168.8h316.8v4.5h-316.8zM12.9 173.3h316.8v4.5h-316.8zM12.9 177.8h316.8v4.5h-316.8zM12.9 182.2h316.8v4.5h-316.8zM12.9 186.7h316.8v4.5h-316.8zM12.9 191.1h316.8v4.5h-316.8zM12.9 195.6h316.8v4.5h-316.8zM12.9 200h316.8v4.5h-316.8zM12.9 204.5h316.8v4.5h-316.8zM12.9 208.9h316.8v4.5h-316.8zM12.9 213.3h316.8v4.5h-316.8zM12.9 217.8h316.8v4.5h-316.8zM12.9 222.2h316.8v4.5h-316.8zM12.9 226.7h316.8v4.5h-316.8zM12.9 231.2h316.8v4.5h-316.8zM12.9 235.6h316.8v4.5h-316.8zM12.9 240.1h316.8v4.5h-316.8zM12.9 244.5h316.8v4.5h-316.8zM12.9 249h316.8v4.5h-316.8zM12.9 253.4h316.8v4.5h-316.8zM12.9 257.9h316.8v4.5h-316.8zM12.9 262.3h316.8v4.5h-316.8zM12.9 266.8h316.8v4.5h-316.8zM12.9 271.2h316.8v4.5h-316.8zM12.9 275.6h202.4v4.5h-202.4zM232.9 275.6h4.4v4.5h-4.4zM241.7 275.6h4.4v4.5h-4.4zM250.5 275.6h79.2v4.5h-79.2zM12.9 280.1h198v4.5h-198zM250.5 280.1h4.4v4.5h-4.4zM259.3 280.1h70.4v4.5h-70.4zM12.9 284.6h193.6v4.5h-193.6zM263.7 284.6h66v4.5h-66zM12.9 289h189.2v4.5h-189.2zM281.3 289h48.4v4.5h-48.4zM12.9 293.4h180.4v4.5h-180.4zM285.7 293.4h13.2v4.5h-13.2zM12.9 297.9h171.6v4.5h-171.6zM12.9 302.4h26.4v4.5h-26.4zM43.7 302.4h83.6v4.5h-83.6zM131.7 302.4h48.4v4.5h-48.4zM26.1 306.8h4.4v4.5h-4.4zM52.5 306.8h52.8v4.5h-52.8zM109.7 306.8h8.8v4.5h-8.8zM140.5 306.8h8.8v4.5h-8.8zM162.5 306.8h4.4v4.5h-4.4z" fill="url(#spots)"/>
<ellipse cx="20" cy="150" rx="11" ry="2.2" fill="#f4f4f6" transform="rotate(-12 20 150)"/>
<ellipse cx="84" cy="293" rx="8" ry="1.8" fill="#f4f4f6" transform="rotate(-10 84 293)"/>
</g>
<text x="2095.9" y="1795" font-size="23.6" text-anchor="start" fill="#222">Plasma</text>
<rect x="2201.4" y="1753.6" width="188.8" height="37.2" fill="url(#spec)"/>
<path d="M2208.6 1753.6 v7 M2208.6 1783.8 v7" stroke="#fff" stroke-width="1.3" stroke-opacity="0.8"/>
<text x="2208.6" y="1815.5" font-size="20.4" text-anchor="middle" fill="#222" letter-spacing="-0.6">−0.8</text>
<path d="M2253.8 1753.6 v7 M2253.8 1783.8 v7" stroke="#fff" stroke-width="1.3" stroke-opacity="0.8"/>
<text x="2253.8" y="1815.5" font-size="20.4" text-anchor="middle" fill="#222" letter-spacing="-0.6">−0.4</text>
<path d="M2298.9 1753.6 v7 M2298.9 1783.8 v7" stroke="#fff" stroke-width="1.3" stroke-opacity="0.8"/>
<text x="2298.9" y="1815.5" font-size="20.4" text-anchor="middle" fill="#222" letter-spacing="-0.6">0.0</text>
<path d="M2344 1753.6 v7 M2344 1783.8 v7" stroke="#fff" stroke-width="1.3" stroke-opacity="0.8"/>
<text x="2344" y="1815.5" font-size="20.4" text-anchor="middle" fill="#222" letter-spacing="-0.6">0.4</text>
<path d="M2389.2 1753.6 v7 M2389.2 1783.8 v7" stroke="#fff" stroke-width="1.3" stroke-opacity="0.8"/>
<text x="2389.2" y="1815.5" font-size="20.4" text-anchor="middle" fill="#222" letter-spacing="-0.6">0.8</text>
<g transform="translate(2072.4 1854.9)">
<rect x="0" y="0" width="342" height="328" fill="#EFEFF1"/>
<path d="M0 24 L13.5 26 L14 305 L0 307 Z" fill="url(#purp)"/>
<path d="M327 22 L341 20 L341 300 L327 299 Z" fill="url(#purp)"/>
<g transform="translate(12.9 22) scale(4.4 4.45)" fill="none" stroke-width="1">
<path stroke="#5e4fa2" d="M34 3.5h1M28 4.5h1M33 6.5h1m1 0h1m6 0h1M5 10.5h1M2 11.5h1M22 15.5h1M11 16.5h1m17 0h1M19 17.5h1M17 18.5h1m2 0h1M3 19.5h1m4 0h1M18 21.5h1M6 24.5h1m0 0h1M13 25.5h1M2 28.5h1M12 33.5h1"/>
<path stroke="#535da9" d="M20 11.5h1M22 12.5h1m4 0h1M21 13.5h1M4 14.5h1M18 15.5h1m4 0h1M18 18.5h1M14 20.5h1M10 22.5h1m0 0h1m3 0h1M13 24.5h1M3 33.5h1M0 42.5h1M7 44.5h1M17 50.5h1M20 63.5h1"/>
<path stroke="#486cb0" d="M22 6.5h1M15 8.5h1M1 9.5h1M5 12.5h1M5 14.5h1m27 0h1M4 16.5h1m16 0h1M22 17.5h1M19 20.5h1M6 27.5h1"/>
<path stroke="#3d7ab6" d="M31 3.5h1M35 4.5h1M17 6.5h1m19 0h1M27 7.5h1M37 8.5h1m6 0h1M6 11.5h1m0 0h1m1 0h1M2 15.5h1m17 0h1M3 17.5h1m4 0h1M7 18.5h1M16 20.5h1M11 23.5h1M30 24.5h1M6 33.5h1M8 41.5h1M10 42.5h1M0 54.5h1M10 58.5h1M0 59.5h1m7 0h1"/>
<path stroke="#3288bd" d="M32 3.5h1M36 5.5h1M34 6.5h1M30 7.5h1m4 0h1M10 8.5h1m18 0h1m9 0h1M23 11.5h1M6 12.5h1m10 0h1M4 13.5h1m14 0h1M7 14.5h1m22 0h1M1 15.5h1m27 0h1M1 17.5h1M3 18.5h1m10 0h1m1 0h1M12 19.5h1m8 0h1M6 21.5h1M10 23.5h1M14 24.5h1M7 25.5h1M6 26.5h1M10 27.5h1M11 28.5h1M9 30.5h1M12 35.5h1M1 39.5h1M3 45.5h1M15 50.5h1"/>
<path stroke="#3f96b7" d="M38 3.5h1M41 4.5h1m1 0h1M41 5.5h1M28 6.5h1m2 0h1M33 7.5h1M26 8.5h1M7 9.5h1m1 0h1m4 0h1m4 0h1m13 0h1M8 11.5h1m9 0h1m2 0h1m0 0h1M10 12.5h1m3 0h1m16 0h1M11 14.5h1m1 0h1M5 15.5h1m0 0h1M5 16.5h1m6 0h1M12 17.5h1m5 0h1M23 18.5h1M17 19.5h1m0 0h1m5 0h1M4 20.5h1m1 0h1m0 0h1m10 0h1M3 21.5h1M12 22.5h1M2 23.5h1M14 25.5h1m4 0h1M18 26.5h1M9 28.5h1m8 0h1M11 29.5h1M6 30.5h1M1 32.5h1M16 34.5h1M4 36.5h1M5 37.5h1m9 0h1m1 0h1M3 38.5h1M6 39.5h1M13 45.5h1M3 46.5h1M13 52.5h1M16 61.5h1M17 64.5h1"/>
<path stroke="#4ca5b1" d="M28 2.5h1m16 0h1M31 4.5h1M29 5.5h1M0 6.5h1m11 0h1M26 7.5h1M35 8.5h1M29 9.5h1M1 10.5h1m4 0h1m3 0h1m3 0h1M5 11.5h1m5 0h1m4 0h1M3 13.5h1m16 0h1M8 14.5h1m3 0h1m1 0h1m13 0h1m2 0h1M4 15.5h1m5 0h1m4 0h1m5 0h1M8 16.5h1m17 0h1m0 0h1M6 17.5h1m21 0h1M4 18.5h1m0 0h1m18 0h1M4 19.5h1m1 0h1m0 0h1m24 0h1M13 21.5h1m2 0h1M9 22.5h1M3 23.5h1M1 24.5h1m33 0h1M6 25.5h1m5 0h1M4 26.5h1m0 0h1M11 27.5h1m21 0h1M8 33.5h1M8 34.5h1M1 36.5h1M6 40.5h1M11 43.5h1M11 53.5h1M6 55.5h1m1 0h1M9 59.5h1M4 62.5h1"/>
<path stroke="#59b4ab" d="M44 1.5h1M28 3.5h1m4 0h1M12 5.5h1m12 0h1m13 0h1M25 6.5h1m18 0h1M7 7.5h1m2 0h1M19 8.5h1M2 10.5h1M10 11.5h1M7 12.5h1m10 0h1M0 13.5h1m5 0h1m9 0h1m16 0h1M22 14.5h1M31 15.5h1M13 16.5h1m4 0h1m1 0h1m2 0h1M27 17.5h1M10 19.5h1m3 0h1M2 20.5h1m2 0h1m4 0h1m16 0h1M0 21.5h1m9 0h1M4 22.5h1m0 0h1M9 23.5h1m3 0h1m3 0h1m7 0h1M3 24.5h1M1 26.5h1m11 0h1M9 27.5h1M1 31.5h1m1 0h1m12 0h1M3 36.5h1M3 37.5h1M9 40.5h1m4 0h1M7 41.5h1M3 42.5h1M12 44.5h1M15 48.5h1M9 53.5h1M1 54.5h1M7 57.5h1M6 59.5h1m0 0h1M16 60.5h1M19 62.5h1M16 63.5h1M14 64.5h1"/>
<path stroke="#66c2a5" d="M7 1.5h1m25 0h1m8 0h1M1 2.5h1m25 0h1M4 3.5h1m9 0h1m31 0h1M16 4.5h1m13 0h1M16 5.5h1m15 0h1M15 6.5h1m4 0h1M19 7.5h1m0 0h1m23 0h1M1 8.5h1m0 0h1m21 0h1m7 0h1M8 9.5h1m12 0h1M12 10.5h1m7 0h1m24 0h1M1 11.5h1m17 0h1m11 0h1M9 12.5h1m3 0h1m7 0h1m13 0h1M15 13.5h1m7 0h1m2 0h1M1 14.5h1m14 0h1M8 15.5h1m0 0h1m16 0h1m0 0h1m0 0h1M10 16.5h1m17 0h1M0 17.5h1m3 0h1m6 0h1m25 0h1M2 18.5h1M0 19.5h1m8 0h1M15 20.5h1M8 21.5h1m22 0h1M18 22.5h1M5 23.5h1m12 0h1M34 24.5h1M10 25.5h1M8 26.5h1M22 27.5h1m12 0h1M4 28.5h1m3 0h1M8 29.5h1M27 32.5h1M5 34.5h1M8 39.5h1m4 0h1m6 0h1M3 41.5h1m5 0h1M4 43.5h1m7 0h1m18 0h1M14 44.5h1M11 45.5h1M15 49.5h1M10 51.5h1M7 52.5h1M16 53.5h1M2 54.5h1m5 0h1m2 0h1M14 58.5h1M15 62.5h1M0 63.5h1"/>
<path stroke="#77c9a5" d="M42 0.5h1M10 1.5h1m14 0h1M41 3.5h1M38 4.5h1m0 0h1M34 5.5h1m5 0h1M6 6.5h1m12 0h1m16 0h1m8 0h1M11 7.5h1m9 0h1m0 0h1m5 0h1m2 0h1m4 0h1m4 0h1M0 8.5h1m4 0h1m2 0h1m12 0h1m14 0h1M12 9.5h1m10 0h1m14 0h1M8 10.5h1m2 0h1m7 0h1m1 0h1m10 0h1m0 0h1m4 0h1M37 11.5h1M12 12.5h1m6 0h1m5 0h1m6 0h1m3 0h1m3 0h1M7 13.5h1m0 0h1m0 0h1M21 14.5h1M11 15.5h1m1 0h1M2 16.5h1m11 0h1m0 0h1m15 0h1M10 17.5h1m2 0h1m7 0h1m8 0h1M6 18.5h1m1 0h1m1 0h1M1 19.5h1m14 0h1m2 0h1M31 20.5h1M15 21.5h1m9 0h1m2 0h1M1 22.5h1m0 0h1m16 0h1m4 0h1m3 0h1M1 23.5h1m6 0h1M5 24.5h1m16 0h1m0 0h1M2 25.5h1m1 0h1M12 26.5h1M8 27.5h1M15 28.5h1M9 29.5h1m13 0h1M15 30.5h1m6 0h1M14 31.5h1M3 32.5h1m8 0h1M22 33.5h1m4 0h1M13 34.5h1M1 35.5h1m2 0h1m2 0h1M8 36.5h1m4 0h1M24 37.5h1M1 38.5h1m4 0h1M3 40.5h1m19 0h1M0 41.5h1m4 0h1m5 0h1M7 42.5h1M13 43.5h1m4 0h1M2 44.5h1m3 0h1M5 45.5h1m4 0h1M18 49.5h1M11 51.5h1M6 53.5h1m3 0h1M5 54.5h1M2 56.5h1m7 0h1M6 57.5h1M33 59.5h1M9 61.5h1m5 0h1M5 62.5h1m4 0h1M4 63.5h1m3 0h1M16 64.5h1"/>
<path stroke="#88d0a4" d="M43 1.5h1M6 2.5h1m31 0h1m3 0h1M7 3.5h1m4 0h1m14 0h1M2 4.5h1m9 0h1m0 0h1m10 0h1m2 0h1m14 0h1M14 5.5h1m16 0h1m1 0h1m3 0h1M7 6.5h1m31 0h1m3 0h1M0 7.5h1m24 0h1m8 0h1M7 8.5h1m1 0h1m2 0h1m7 0h1m9 0h1m2 0h1m4 0h1M3 9.5h1m2 0h1m11 0h1m9 0h1M9 10.5h1m5 0h1m11 0h1m2 0h1m4 0h1M12 11.5h1m16 0h1M5 13.5h1m16 0h1m11 0h1M24 14.5h1m7 0h1M17 15.5h1M0 16.5h1m21 0h1m16 0h1M5 17.5h1m14 0h1M11 18.5h1m7 0h1m1 0h1m7 0h1m0 0h1m0 0h1m9 0h1M5 19.5h1m22 0h1M0 20.5h1m2 0h1m17 0h1M9 21.5h1M20 22.5h1m6 0h1M42 23.5h1M0 24.5h1m18 0h1M0 25.5h1m32 0h1m3 0h1M7 26.5h1m8 0h1m20 0h1M10 28.5h1m1 0h1M12 30.5h1m0 0h1m5 0h1M9 31.5h1m11 0h1M2 32.5h1M3 34.5h1m23 0h1M11 35.5h1m12 0h1M0 36.5h1M13 37.5h1m13 0h1M0 39.5h1m4 0h1m3 0h1m2 0h1m12 0h1M11 42.5h1M3 44.5h1m11 0h1m9 0h1M4 45.5h1m3 0h1M14 46.5h1M5 47.5h1m6 0h1M12 49.5h1m0 0h1M16 51.5h1M0 53.5h1M12 55.5h1M34 56.5h1M0 57.5h1m13 0h1M12 58.5h1m2 0h1M10 59.5h1M22 62.5h1M12 63.5h1"/>
<path stroke="#9ad6a4" d="M9 1.5h1M34 4.5h1m2 0h1m2 0h1m4 0h1M1 5.5h1m3 0h1m7 0h1m21 0h1m8 0h1M1 6.5h1m1 0h1m7 0h1m12 0h1m7 0h1m5 0h1m2 0h1M1 7.5h1m1 0h1m9 0h1m9 0h1m8 0h1m10 0h1M27 8.5h1M4 9.5h1m0 0h1m21 0h1m6 0h1m2 0h1m5 0h1M0 10.5h1m23 0h1m1 0h1m9 0h1M15 11.5h1m9 0h1m4 0h1m3 0h1M4 12.5h1m3 0h1m7 0h1M25 13.5h1m3 0h1M0 14.5h1m5 0h1m3 0h1M14 15.5h1m15 0h1m1 0h1M6 16.5h1m2 0h1m7 0h1M15 17.5h1M13 18.5h1M22 19.5h1m4 0h1M8 20.5h1m2 0h1m0 0h1m10 0h1M0 22.5h1m7 0h1m8 0h1M19 23.5h1m4 0h1m9 0h1M20 24.5h1m19 0h1M5 25.5h1m9 0h1m0 0h1m1 0h1M2 26.5h1m6 0h1m12 0h1M3 27.5h1m17 0h1M17 28.5h1m4 0h1M2 29.5h1m18 0h1M4 30.5h1m21 0h1m13 0h1M2 31.5h1m9 0h1m6 0h1m0 0h1M13 32.5h1m6 0h1M13 33.5h1M1 34.5h1m0 0h1m6 0h1m11 0h1m6 0h1M6 35.5h1m13 0h1m21 0h1M2 36.5h1m8 0h1m6 0h1m10 0h1M4 37.5h1m11 0h1m12 0h1M3 39.5h1m3 0h1m3 0h1M0 40.5h1m4 0h1m12 0h1m2 0h1m0 0h1M14 41.5h1M6 42.5h1M3 43.5h1m1 0h1M4 44.5h1M1 45.5h1m4 0h1m18 0h1M7 46.5h1M4 47.5h1m8 0h1M3 49.5h1m10 0h1M27 51.5h1M6 52.5h1m11 0h1M3 53.5h1m4 0h1m6 0h1M9 55.5h1m11 0h1M4 56.5h1m3 0h1M8 57.5h1m4 0h1M2 58.5h1M13 60.5h1m1 0h1m7 0h1M14 61.5h1M12 62.5h1M34 63.5h1"/>
<path stroke="#abdda4" d="M43 0.5h1M8 1.5h1M9 2.5h1m22 0h1m8 0h1M1 3.5h1m35 0h1m5 0h1M9 4.5h1m5 0h1m9 0h1m20 0h1M0 5.5h1m27 0h1m14 0h1M13 6.5h1M24 7.5h1m20 0h1M6 8.5h1m10 0h1m16 0h1M13 9.5h1m3 0h1m13 0h1m4 0h1M29 10.5h1m9 0h1M13 11.5h1m18 0h1M0 12.5h1m25 0h1m2 0h1M1 13.5h1m10 0h1m5 0h1m8 0h1M19 14.5h1m9 0h1m4 0h1M0 15.5h1m11 0h1m23 0h1M1 16.5h1M7 17.5h1m1 0h1m24 0h1M22 18.5h1M2 19.5h1m8 0h1m1 0h1m6 0h1m2 0h1m1 0h1M1 20.5h1m28 0h1M4 21.5h1m2 0h1m3 0h1m0 0h1m1 0h1m2 0h1m1 0h1m2 0h1m21 0h1M14 22.5h1m1 0h1m8 0h1M7 23.5h1M10 24.5h1m0 0h1m17 0h1m6 0h1M3 25.5h1m4 0h1m2 0h1m8 0h1M3 26.5h1m6 0h1m3 0h1m16 0h1m10 0h1M27 27.5h1M6 28.5h1M15 29.5h1m0 0h1m1 0h1M8 30.5h1m8 0h1m21 0h1M26 31.5h1M4 32.5h1m1 0h1m0 0h1m8 0h1m4 0h1M1 33.5h1M12 34.5h1M13 35.5h1m2 0h1m8 0h1M5 36.5h1m6 0h1M14 37.5h1m5 0h1M4 38.5h1m9 0h1M16 39.5h1m0 0h1m5 0h1M2 41.5h1m14 0h1M1 42.5h1m2 0h1m11 0h1m9 0h1M1 43.5h1m0 0h1m5 0h1m1 0h1M0 45.5h1m16 0h1M11 46.5h1M0 49.5h1m16 0h1M0 50.5h1m8 0h1m2 0h1m0 0h1M1 51.5h1m7 0h1m2 0h1m1 0h1m3 0h1m0 0h1M8 52.5h1m3 0h1M32 53.5h1M6 54.5h1m5 0h1m1 0h1M3 55.5h1M0 56.5h1m0 0h1m9 0h1m1 0h1M7 58.5h1m0 0h1m4 0h1m4 0h1M5 60.5h1m11 0h1m0 0h1M10 61.5h1M8 62.5h1M13 63.5h1m5 0h1M9 64.5h1m5 0h1"/>
<path stroke="#bae3a1" d="M4 1.5h1m1 0h1M12 2.5h1m0 0h1m16 0h1m16 0h1m17 0h1M13 3.5h1m21 0h1m3 0h1M8 4.5h1m5 0h1m8 0h1m9 0h1m10 0h1M4 5.5h1m3 0h1m2 0h1m11 0h1m0 0h1m23 0h1M8 6.5h1m0 0h1m16 0h1m2 0h1m0 0h1M15 7.5h1M3 8.5h1m12 0h1m5 0h1m0 0h1m4 0h1M0 9.5h1m10 0h1m3 0h1m6 0h1m2 0h1M13 10.5h1m2 0h1m11 0h1m5 0h1M36 11.5h1M34 12.5h1m2 0h1M11 13.5h1m2 0h1m2 0h1m13 0h1m3 0h1m4 0h1M3 14.5h1M7 15.5h1m25 0h1M36 16.5h1M17 17.5h1m13 0h1m0 0h1m22 0h1M9 18.5h1m16 0h1M15 19.5h1M44 20.5h1M2 21.5h1M7 22.5h1M28 23.5h1M4 24.5h1m4 0h1m5 0h1M1 25.5h1M15 26.5h1m18 0h1M5 27.5h1m6 0h1m4 0h1m8 0h1m11 0h1M5 28.5h1m18 0h1M3 29.5h1m3 0h1m2 0h1m6 0h1m15 0h1M3 30.5h1m1 0h1M5 31.5h1m0 0h1m1 0h1m14 0h1M8 32.5h1m27 0h1M4 33.5h1m12 0h1m27 0h1M4 34.5h1m17 0h1M14 36.5h1m8 0h1m2 0h1m0 0h1M1 37.5h1m0 0h1m3 0h1m28 0h1m29 0h1M15 38.5h1m0 0h1m2 0h1m1 0h1M13 40.5h1m2 0h1m3 0h1M13 41.5h1m4 0h1m3 0h1M9 42.5h1m3 0h1M0 43.5h1m8 0h1M11 44.5h1M14 45.5h1M2 46.5h1M15 47.5h1M17 48.5h1m11 0h1M23 51.5h1M0 52.5h1m15 0h1M5 53.5h1m17 0h1M7 54.5h1m2 0h1M1 55.5h1m12 0h1m4 0h1M3 56.5h1m10 0h1m2 0h1M1 57.5h1m7 0h1m0 0h1M11 58.5h1M25 59.5h1M4 61.5h1m7 0h1M2 62.5h1m18 0h1M9 63.5h1m8 0h1m2 0h1m11 0h1M13 64.5h1"/>
<path stroke="#c8e99e" d="M33 0.5h1m7 0h1M0 2.5h1m1 0h1m0 0h1m12 0h1m16 0h1M2 3.5h1m23 0h1m3 0h1m9 0h1M3 4.5h1m3 0h1m21 0h1m2 0h1m3 0h1m11 0h1M3 5.5h1m18 0h1m3 0h1m3 0h1M5 6.5h1m4 0h1m7 0h1m4 0h1m3 0h1M4 7.5h1m1 0h1m7 0h1m23 0h1m1 0h1M13 8.5h1m4 0h1M10 9.5h1m24 0h1m12 0h1M4 10.5h1m26 0h1M17 11.5h1m9 0h1M3 12.5h1m7 0h1m11 0h1M10 13.5h1m25 0h1M9 14.5h1m5 0h1m9 0h1m0 0h1m11 0h1M3 15.5h1m31 0h1M3 16.5h1m15 0h1m10 0h1M16 17.5h1m7 0h1m1 0h1M15 18.5h1m11 0h1m11 0h1M29 19.5h1m0 0h1m0 0h1m21 0h1M9 20.5h1m10 0h1m1 0h1m1 0h1M1 21.5h1m3 0h1m20 0h1m5 0h1M0 23.5h1m19 0h1m6 0h1m7 0h1M8 24.5h1m8 0h1m14 0h1M27 25.5h1m3 0h1M0 26.5h1m16 0h1m5 0h1m3 0h1M1 27.5h1m2 0h1m9 0h1m10 0h1M7 28.5h1m12 0h1M1 29.5h1m2 0h1m15 0h1m16 0h1m7 0h1M23 30.5h1m6 0h1M31 31.5h1m0 0h1m3 0h1M19 32.5h1m11 0h1m7 0h1M11 33.5h1m25 0h1M7 34.5h1m36 0h1M0 35.5h1m7 0h1m0 0h1m13 0h1M15 36.5h1m0 0h1m7 0h1m7 0h1m2 0h1M10 37.5h1m8 0h1m16 0h1M12 38.5h1m5 0h1M32 39.5h1m3 0h1M4 40.5h1m12 0h1m15 0h1M12 41.5h1m6 0h1m1 0h1m5 0h1M36 42.5h1M6 43.5h1m14 0h1m1 0h1m0 0h1m5 0h1m25 0h1M0 44.5h1m0 0h1m8 0h1M2 45.5h1m6 0h1m11 0h1m0 0h1M3 47.5h1m2 0h1m0 0h1m3 0h1m4 0h1M2 48.5h1m3 0h1m2 0h1m1 0h1m2 0h1m1 0h1M2 50.5h1m13 0h1M2 51.5h1m2 0h1m0 0h1M14 52.5h1m2 0h1M18 53.5h1m1 0h1M28 54.5h1M10 55.5h1M2 57.5h1M19 58.5h1m13 0h1M13 59.5h1m0 0h1m6 0h1m7 0h1m1 0h1M3 60.5h1M0 61.5h1m2 0h1m2 0h1m4 0h1m19 0h1m0 0h1M3 62.5h1m13 0h1M3 63.5h1m1 0h1m5 0h1m5 0h1m5 0h1m4 0h1"/>
<path stroke="#d7ef9b" d="M2 1.5h1m2 0h1m5 0h1m28 0h1M4 2.5h1m6 0h1m31 0h1M0 3.5h1m2 0h1m7 0h1m5 0h1m6 0h1m0 0h1m3 0h1m12 0h1M47 4.5h1M9 5.5h1m0 0h1m6 0h1M21 6.5h1M37 7.5h1M14 8.5h1m10 0h1m30 0h1M20 9.5h1M7 10.5h1m29 0h1M4 11.5h1m19 0h1m8 0h1m9 0h1M41 12.5h1m26 0h1M68 13.5h1M17 14.5h1m2 0h1M16 15.5h1m17 0h1M2 17.5h1m20 0h1m5 0h1M34 18.5h1M46 19.5h1M13 20.5h1M27 21.5h1m2 0h1m9 0h1M3 22.5h1m9 0h1m12 0h1m25 0h1M22 23.5h1M12 24.5h1m5 0h1m2 0h1m9 0h1M21 25.5h1m12 0h1m3 0h1m0 0h1m2 0h1M39 26.5h1M2 27.5h1m12 0h1m12 0h1m7 0h1m9 0h1M0 28.5h1m22 0h1m2 0h1m7 0h1M6 29.5h1M20 30.5h1m6 0h1m1 0h1m25 0h1M11 31.5h1m3 0h1m1 0h1m10 0h1M5 32.5h1m12 0h1m10 0h1m0 0h1m18 0h1M5 33.5h1m8 0h1m0 0h1m15 0h1m6 0h1M10 34.5h1m3 0h1m25 0h1M14 35.5h1m14 0h1M20 36.5h1m7 0h1m8 0h1m1 0h1M0 37.5h1m7 0h1m2 0h1m0 0h1m15 0h1M2 38.5h1m2 0h1m21 0h1M7 40.5h1M1 41.5h1m4 0h1m18 0h1M2 42.5h1M7 43.5h1m9 0h1M16 44.5h1m7 0h1M26 45.5h1M4 46.5h1m0 0h1m4 0h1M0 47.5h1m24 0h1M0 48.5h1M11 49.5h1m4 0h1M11 50.5h1m8 0h1M26 51.5h1m2 0h1m10 0h1m0 0h1M4 52.5h1m5 0h1m30 0h1M4 54.5h1m10 0h1m5 0h1M2 55.5h1m8 0h1m4 0h1m5 0h1m1 0h1m10 0h1M6 56.5h1m0 0h1m10 0h1m0 0h1M12 57.5h1M0 58.5h1M1 59.5h1m13 0h1m0 0h1M14 60.5h1m15 0h1M5 61.5h1m7 0h1m3 0h1m7 0h1M13 62.5h1m0 0h1m1 0h1m1 0h1M7 63.5h1m6 0h1m7 0h1M18 64.5h1m0 0h1m0 0h1m1 0h1"/>
<path stroke="#e6f598" d="M2 0.5h1M10 2.5h1m13 0h1m1 0h1M8 3.5h1m35 0h1m3 0h1M0 4.5h1m4 0h1m0 0h1m13 0h1m0 0h1m4 0h1M21 5.5h1m16 0h1M2 7.5h1m43 0h1M4 8.5h1m38 0h1M16 9.5h1m15 0h1m27 0h1M17 10.5h1m5 0h1m1 0h1M28 12.5h1m4 0h1m8 0h1m4 0h1M2 13.5h1m25 0h1m1 0h1M2 14.5h1M24 15.5h1M7 16.5h1m25 0h1M36 17.5h1m1 0h1M0 18.5h1m34 0h1M33 19.5h1M17 20.5h1m14 0h1m12 0h1m1 0h1M20 21.5h1m20 0h1M23 22.5h1m13 0h1M4 23.5h1m10 0h1m0 0h1m6 0h1m2 0h1m10 0h1M2 24.5h1M36 25.5h1m11 0h1M20 26.5h1m3 0h1m7 0h1m2 0h1M7 27.5h1m5 0h1m2 0h1m7 0h1M38 28.5h1m8 0h1M5 29.5h1m8 0h1M25 31.5h1m8 0h1m4 0h1M9 32.5h1m4 0h1m9 0h1M18 33.5h1m17 0h1m16 0h1m4 0h1M6 34.5h1m44 0h1M5 35.5h1m21 0h1m2 0h1m0 0h1M7 37.5h1m10 0h1m6 0h1m44 0h1M20 38.5h1m4 0h1m2 0h1M19 39.5h1m15 0h1m19 0h1M2 40.5h1m9 0h1m12 0h1m0 0h1m13 0h1M10 41.5h1m15 0h1m17 0h1M14 42.5h1m0 0h1m2 0h1m5 0h1M25 43.5h1m38 0h1M22 44.5h1M44 45.5h1M0 46.5h1m5 0h1m5 0h1m2 0h1m2 0h1m1 0h1M8 47.5h1M21 48.5h1M10 49.5h1m8 0h1M29 50.5h1M8 51.5h1m11 0h1m17 0h1m0 0h1M5 52.5h1m14 0h1m49 0h1M13 53.5h1m10 0h1M3 54.5h1m9 0h1m10 0h1m0 0h1m1 0h1M28 55.5h1m0 0h1M12 56.5h1m11 0h1M16 57.5h1m10 0h1m3 0h1M3 58.5h1m25 0h1m1 0h1m0 0h1m4 0h1M11 59.5h1m25 0h1M0 60.5h1m6 0h1m12 0h1m0 0h1m9 0h1M33 61.5h1M31 62.5h1M15 63.5h1m15 0h1M10 64.5h1m23 0h1"/>
<path stroke="#ecf8a2" d="M13 1.5h1M5 2.5h1m2 0h1m6 0h1m7 0h1m5 0h1m4 0h1m5 0h1M23 3.5h1M4 4.5h1m12 0h1m4 0h1m31 0h1M19 5.5h1m7 0h1m18 0h1m0 0h1m1 0h1m1 0h1M2 6.5h1m1 0h1m9 0h1m25 0h1M5 7.5h1m2 0h1m7 0h1m12 0h1m18 0h1M42 9.5h1M18 10.5h1m3 0h1M0 11.5h1m13 0h1m13 0h1m9 0h1m3 0h1m4 0h1m7 0h1M15 12.5h1m8 0h1M13 13.5h1m18 0h1m6 0h1M39 14.5h1M16 16.5h1m8 0h1m9 0h1M25 18.5h1m2 0h1m25 0h1m1 0h1M35 19.5h1m9 0h1M25 20.5h1m0 0h1m2 0h1m13 0h1M49 21.5h1M21 22.5h1m26 0h1m0 0h1M12 23.5h1m18 0h1m0 0h1M25 24.5h1m1 0h1m5 0h1M32 25.5h1M19 26.5h1m6 0h1M0 27.5h1m17 0h1m13 0h1m18 0h1M1 28.5h1m23 0h1m4 0h1m4 0h1M19 29.5h1m5 0h1m6 0h1m1 0h1m23 0h1M1 30.5h1m0 0h1m21 0h1m6 0h1m9 0h1M4 31.5h1m5 0h1m11 0h1m4 0h1M0 33.5h1m1 0h1m21 0h1m3 0h1m30 0h1M17 34.5h1m19 0h1m8 0h1m17 0h1M35 35.5h1M6 36.5h1m10 0h1m44 0h1M7 38.5h1m0 0h1m8 0h1M4 39.5h1m9 0h1m3 0h1m2 0h1m37 0h1m10 0h1M8 40.5h1m21 0h1M20 41.5h1m2 0h1m4 0h1M8 42.5h1m3 0h1M15 43.5h1m46 0h1M5 44.5h1m15 0h1m14 0h1M18 45.5h1m9 0h1M22 46.5h1m2 0h1M9 47.5h1m8 0h1m3 0h1M1 48.5h1m1 0h1m9 0h1M9 49.5h1m14 0h1M8 50.5h1m10 0h1m1 0h1m2 0h1m1 0h1m1 0h1M3 51.5h1m11 0h1m5 0h1M3 52.5h1m19 0h1m22 0h1M7 53.5h1m4 0h1m1 0h1m6 0h1m4 0h1M18 54.5h1m3 0h1m10 0h1M17 55.5h1m2 0h1m48 0h1M9 56.5h1M11 57.5h1m9 0h1M1 58.5h1m22 0h1M12 59.5h1M6 60.5h1m2 0h1M2 61.5h1m16 0h1m2 0h1m4 0h1M1 62.5h1m30 0h1M27 63.5h1m1 0h1m5 0h1M12 64.5h1"/>
<path stroke="#f2faac" d="M24 1.5h1m4 0h1m1 0h1M31 2.5h1m14 0h1M45 3.5h1M1 4.5h1m16 0h1M7 5.5h1m12 0h1m21 0h1M16 6.5h1m31 0h1m6 0h1M9 7.5h1m2 0h1m5 0h1m20 0h1M31 8.5h1m14 0h1M26 9.5h1M3 10.5h1m42 0h1M63 11.5h1M1 12.5h1m0 0h1m36 0h1M37 13.5h1M35 14.5h1m0 0h1m13 0h1M19 15.5h1m31 0h1M25 17.5h1m7 0h1m1 0h1m9 0h1m11 0h1M32 18.5h1m9 0h1M34 19.5h1m1 0h1M28 20.5h1m4 0h1m0 0h1m7 0h1M24 21.5h1m4 0h1m3 0h1m1 0h1m1 0h1M6 22.5h1m29 0h1m17 0h1m0 0h1M21 23.5h1m14 0h1M16 24.5h1m7 0h1m16 0h1M9 25.5h1m13 0h1m29 0h1M21 26.5h1m8 0h1M23 27.5h1m13 0h1M19 28.5h1M24 29.5h1m22 0h1M11 30.5h1m6 0h1m9 0h1m9 0h1M7 31.5h1m5 0h1m4 0h1m19 0h1m1 0h1m4 0h1m2 0h1M0 32.5h1m14 0h1m1 0h1m4 0h1m0 0h1m1 0h1m21 0h1M7 33.5h1m8 0h1m2 0h1m9 0h1M0 34.5h1m18 0h1m11 0h1m4 0h1M2 35.5h1m12 0h1m1 0h1m14 0h1m19 0h1M19 36.5h1m14 0h1m1 0h1M9 37.5h1m12 0h1m16 0h1m1 0h1M9 38.5h1m0 0h1m2 0h1m15 0h1m33 0h1M10 39.5h1m15 0h1m7 0h1m17 0h1M10 40.5h1m16 0h1M51 41.5h1M27 42.5h1m6 0h1M19 43.5h1m0 0h1m1 0h1m6 0h1M8 44.5h1m4 0h1m3 0h1m2 0h1m16 0h1M15 45.5h1m3 0h1M13 46.5h1m2 0h1m0 0h1m1 0h1m23 0h1M2 47.5h1m11 0h1m5 0h1m2 0h1m3 0h1m24 0h1M5 48.5h1m14 0h1m19 0h1m21 0h1M3 50.5h1m10 0h1M17 51.5h1M30 52.5h1m3 0h1m5 0h1M4 53.5h1m22 0h1M16 54.5h1m6 0h1m7 0h1m3 0h1M23 55.5h1M20 56.5h1m4 0h1m1 0h1m1 0h1m3 0h1M17 57.5h1m8 0h1m5 0h1M5 58.5h1m0 0h1m9 0h1m4 0h1M34 59.5h1m33 0h1M4 60.5h1M7 61.5h1m15 0h1m5 0h1M29 62.5h1"/>
<path stroke="#f9fcb5" d="M8 0.5h1M17 2.5h1m26 0h1M11 4.5h1m37 0h1M2 5.5h1m12 0h1M42 7.5h1M45 8.5h1M39 9.5h1M71 10.5h1M3 11.5h1m36 0h1m0 0h1M49 13.5h1M23 14.5h1M41 15.5h1m4 0h1M24 16.5h1m16 0h1m13 0h1m8 0h1M40 17.5h1m7 0h1M1 18.5h1m66 0h1M26 19.5h1m20 0h1m3 0h1M41 20.5h1m12 0h1M36 21.5h1m14 0h1m7 0h1m0 0h1M30 22.5h1m2 0h1m5 0h1m16 0h1M14 23.5h1m28 0h1m11 0h1m0 0h1M22 25.5h1m1 0h1m5 0h1m4 0h1M11 26.5h1m13 0h1m28 0h1M20 27.5h1m13 0h1m5 0h1m20 0h1M3 28.5h1m17 0h1m5 0h1m1 0h1m9 0h1m8 0h1m10 0h1M12 29.5h1m9 0h1m8 0h1m4 0h1m1 0h1m5 0h1m1 0h1m2 0h1m1 0h1M7 30.5h1m2 0h1m21 0h1m10 0h1m0 0h1m8 0h1M35 31.5h1M10 32.5h1m15 0h1m14 0h1m10 0h1M23 33.5h1m6 0h1m12 0h1M11 34.5h1m14 0h1m14 0h1m3 0h1M21 35.5h1m12 0h1m10 0h1m0 0h1m7 0h1m6 0h1M33 37.5h1m3 0h1m11 0h1m0 0h1M0 38.5h1m37 0h1m9 0h1m17 0h1M2 39.5h1m19 0h1m1 0h1m4 0h1M15 40.5h1m8 0h1m12 0h1m14 0h1M15 41.5h1m0 0h1m18 0h1m27 0h1M20 42.5h1m0 0h1m25 0h1m2 0h1M14 43.5h1m11 0h1M9 44.5h1m48 0h1M7 45.5h1m8 0h1m25 0h1M1 46.5h1m60 0h1M1 47.5h1m15 0h1m11 0h1M71 48.5h1M20 49.5h1m5 0h1m1 0h1m22 0h1M5 50.5h1m36 0h1M28 51.5h1m3 0h1M11 52.5h1m41 0h1M19 53.5h1m2 0h1m2 0h1M46 54.5h1M5 55.5h1m1 0h1m30 0h1M15 56.5h1m0 0h1m4 0h1m13 0h1m1 0h1m0 0h1M15 57.5h1m6 0h1m0 0h1m1 0h1M2 59.5h1m1 0h1m12 0h1m5 0h1M8 60.5h1m2 0h1m13 0h1m2 0h1m11 0h1M21 61.5h1m4 0h1m12 0h1M6 62.5h1m0 0h1m3 0h1m14 0h1m9 0h1M3 64.5h1m26 0h1"/>
<path stroke="#ffffbf" d="M24 0.5h1M14 1.5h1m11 0h1m5 0h1M18 2.5h1M6 3.5h1m2 0h1m9 0h1m16 0h1m13 0h1M10 4.5h1m41 0h1m9 0h1m0 0h1M18 5.5h1M47 6.5h1M51 7.5h1M11 8.5h1m40 0h1m16 0h1M30 9.5h1m18 0h1M40 10.5h1m20 0h1M26 11.5h1m25 0h1m17 0h1M38 13.5h1m11 0h1M18 14.5h1m26 0h1m24 0h1M25 15.5h1m14 0h1m13 0h1M37 16.5h1M14 17.5h1m31 0h1M40 18.5h1m5 0h1M38 19.5h1m2 0h1M39 20.5h1M21 21.5h1m25 0h1m0 0h1m3 0h1M29 22.5h1m4 0h1m7 0h1M6 23.5h1M17 25.5h1m22 0h1m10 0h1M28 26.5h1M42 27.5h1m15 0h1M14 28.5h1m13 0h1m3 0h1m4 0h1m13 0h1M13 29.5h1m15 0h1m18 0h1M34 30.5h1m1 0h1m19 0h1m0 0h1M0 31.5h1m28 0h1m13 0h1m11 0h1M35 32.5h1m2 0h1m5 0h1m26 0h1M10 33.5h1m10 0h1m10 0h1m7 0h1M23 34.5h1m0 0h1M22 35.5h1m33 0h1m9 0h1M7 36.5h1M38 37.5h1m8 0h1m14 0h1M24 38.5h1m32 0h1M39 39.5h1M1 40.5h1m9 0h1m16 0h1m3 0h1m18 0h1m1 0h1m2 0h1m4 0h1M4 41.5h1M17 42.5h1m1 0h1m3 0h1m14 0h1m2 0h1m14 0h1M39 43.5h1M26 44.5h1m29 0h1M12 45.5h1M9 46.5h1m21 0h1m10 0h1m1 0h1M21 47.5h1M10 48.5h1m8 0h1M8 49.5h1M6 50.5h1m27 0h1M7 51.5h1m5 0h1m8 0h1m22 0h1m24 0h1M15 52.5h1m8 0h1m1 0h1m2 0h1m1 0h1M38 53.5h1m0 0h1M9 54.5h1m19 0h1M0 55.5h1m17 0h1m14 0h1M5 56.5h1m25 0h1M20 57.5h1m13 0h1m31 0h1M22 58.5h1m5 0h1m1 0h1m4 0h1M33 60.5h1M30 61.5h1M0 62.5h1m29 0h1M25 63.5h1m4 0h1M11 64.5h1m17 0h1"/>
<path stroke="#fff7b2" d="M4 0.5h1M12 1.5h1m28 0h1M5 3.5h1M55 4.5h1m10 0h1M6 5.5h1m45 0h1M49 6.5h1M60 7.5h1M40 8.5h1M2 9.5h1m59 0h1M42 10.5h1m1 0h1m8 0h1m4 0h1m3 0h1m5 0h1M58 11.5h1m5 0h1m4 0h1M20 12.5h1m46 0h1M41 13.5h1M27 14.5h1m13 0h1m2 0h1M32 16.5h1m12 0h1m5 0h1m0 0h1m0 0h1M41 17.5h1m14 0h1M12 18.5h1m20 0h1m2 0h1m10 0h1m2 0h1m20 0h1M43 19.5h1m5 0h1m6 0h1m14 0h1M52 20.5h1m0 0h1m4 0h1M34 21.5h1M31 22.5h1m25 0h1m6 0h1m5 0h1M33 23.5h1m4 0h1m0 0h1m1 0h1M28 24.5h1m22 0h1M29 25.5h1m26 0h1m13 0h1M36 26.5h1m1 0h1m2 0h1m9 0h1m1 0h1m16 0h1M19 27.5h1m23 0h1M46 28.5h1m2 0h1m2 0h1m17 0h1M0 29.5h1m26 0h1m12 0h1m11 0h1M0 30.5h1m13 0h1m6 0h1m15 0h1m11 0h1M41 31.5h1m15 0h1M60 32.5h1m4 0h1M56 33.5h1m6 0h1M25 34.5h1M33 35.5h1m9 0h1m9 0h1M9 36.5h1m12 0h1M34 37.5h1m17 0h1m3 0h1M30 38.5h1m6 0h1m8 0h1m24 0h1M60 39.5h1M29 40.5h1M24 41.5h1m14 0h1m13 0h1m8 0h1M5 42.5h1m27 0h1M34 43.5h1m18 0h1m7 0h1M18 44.5h1m8 0h1m17 0h1m19 0h1M33 45.5h1m36 0h1M8 46.5h1m18 0h1M38 47.5h1m5 0h1m26 0h1M23 48.5h1M6 49.5h1M18 50.5h1m4 0h1m3 0h1m7 0h1M0 51.5h1m24 0h1m5 0h1m20 0h1m18 0h1M9 52.5h1m17 0h1M1 53.5h1m26 0h1m1 0h1m3 0h1m10 0h1m0 0h1M20 54.5h1M13 55.5h1m13 0h1m6 0h1m12 0h1M26 56.5h1M18 57.5h1m5 0h1m10 0h1m6 0h1M9 58.5h1m15 0h1m32 0h1m11 0h1M24 59.5h1m5 0h1m5 0h1M2 60.5h1m19 0h1m6 0h1M1 61.5h1m18 0h1m7 0h1m11 0h1M25 62.5h1m9 0h1m1 0h1M1 63.5h1m0 0h1"/>
<path stroke="#fef0a5" d="M23 1.5h1M7 2.5h1m14 0h1m2 0h1m38 0h1m3 0h1M18 3.5h1m3 0h1m31 0h1M56 4.5h1m7 0h1M45 5.5h1M46 6.5h1m24 0h1M42 8.5h1m7 0h1m3 0h1m16 0h1M46 9.5h1m4 0h1M41 10.5h1M39 11.5h1m8 0h1M71 12.5h1M45 13.5h1m13 0h1m10 0h1M37 14.5h1m20 0h1M37 15.5h1m10 0h1m8 0h1m4 0h1m8 0h1M60 16.5h1m6 0h1M47 17.5h1m11 0h1m7 0h1M45 18.5h1M40 19.5h1m11 0h1M35 20.5h1m2 0h1m21 0h1m0 0h1M23 21.5h1m15 0h1m2 0h1m11 0h1M22 22.5h1m15 0h1m4 0h1m6 0h1m20 0h1M53 23.5h1M26 24.5h1m11 0h1M26 25.5h1m34 0h1M45 26.5h1m0 0h1m12 0h1M13 28.5h1m17 0h1m22 0h1M16 30.5h1m8 0h1m16 0h1m2 0h1m1 0h1M30 31.5h1m2 0h1m15 0h1M11 32.5h1m28 0h1m2 0h1m9 0h1m10 0h1M44 33.5h1m2 0h1m6 0h1m7 0h1M29 34.5h1m0 0h1m11 0h1m13 0h1m0 0h1m11 0h1M3 35.5h1m15 0h1m17 0h1m17 0h1M10 36.5h1m29 0h1m12 0h1m0 0h1m6 0h1m5 0h1M32 37.5h1M23 38.5h1m21 0h1m21 0h1m1 0h1M33 39.5h1m15 0h1m19 0h1M19 40.5h1m40 0h1m7 0h1m2 0h1M29 41.5h1m4 0h1M31 42.5h1m11 0h1m1 0h1M33 43.5h1m3 0h1m2 0h1M20 45.5h1m46 0h1M28 46.5h1m6 0h1m4 0h1m23 0h1M19 47.5h1m14 0h1m7 0h1m14 0h1M8 48.5h1m3 0h1m5 0h1m5 0h1M27 49.5h1m2 0h1m2 0h1M10 50.5h1m11 0h1m47 0h1M33 51.5h1M1 52.5h1m0 0h1m19 0h1M31 53.5h1M17 54.5h1m12 0h1M4 55.5h1m10 0h1m9 0h1M23 56.5h1m25 0h1m19 0h1M28 57.5h1m12 0h1m2 0h1m16 0h1M23 58.5h1m3 0h1M39 59.5h1m3 0h1m26 0h1M1 60.5h1m8 0h1m1 0h1m53 0h1M36 63.5h1m0 0h1"/>
<path stroke="#fee898" d="M12 0.5h1M1 1.5h1M49 3.5h1M51 4.5h1m13 0h1M62 5.5h1M67 6.5h1M17 7.5h1m32 0h1m13 0h1M41 8.5h1M40 9.5h1m4 0h1m4 0h1M60 10.5h1m3 0h1M45 11.5h1M30 12.5h1m7 0h1m27 0h1M38 15.5h1M49 16.5h1m15 0h1M55 18.5h1m2 0h1M39 19.5h1m8 0h1m18 0h1M36 20.5h1M38 21.5h1m4 0h1M35 22.5h1m24 0h1M30 23.5h1m20 0h1m7 0h1M37 24.5h1M49 25.5h1M29 27.5h1m9 0h1M16 28.5h1m16 0h1m9 0h1m9 0h1m2 0h1m4 0h1M26 29.5h1m16 0h1m13 0h1m4 0h1M62 30.5h1M37 31.5h1M42 32.5h1m8 0h1M9 33.5h1m38 0h1m3 0h1m11 0h1M32 34.5h1m0 0h1m14 0h1m5 0h1M36 35.5h1m10 0h1m0 0h1M56 36.5h1M53 37.5h1M55 38.5h1m4 0h1m9 0h1M15 39.5h1m11 0h1m0 0h1m1 0h1m17 0h1m1 0h1m2 0h1M35 40.5h1m5 0h1m2 0h1M31 41.5h1m0 0h1m8 0h1M35 43.5h1m9 0h1M19 44.5h1m27 0h1m6 0h1M23 45.5h1m7 0h1m5 0h1m15 0h1m15 0h1M21 46.5h1m1 0h1M30 47.5h1M4 48.5h1m20 0h1m2 0h1m13 0h1M1 49.5h1m0 0h1m2 0h1m30 0h1m29 0h1m2 0h1M1 50.5h1m28 0h1M36 51.5h1m9 0h1M19 52.5h1m1 0h1m3 0h1m7 0h1m4 0h1M32 54.5h1m15 0h1m22 0h1M41 55.5h1m1 0h1m26 0h1M3 57.5h1m25 0h1m6 0h1m31 0h1m1 0h1M65 58.5h1M3 59.5h1m28 0h1m5 0h1m27 0h1M37 60.5h1M8 61.5h1M20 62.5h1m6 0h1m10 0h1M23 64.5h1"/>
<path stroke="#fee08b" d="M58 2.5h1m4 0h1M15 3.5h1m47 0h1m0 0h1M61 4.5h1m9 0h1M65 5.5h1M54 6.5h1m10 0h1M49 7.5h1m11 0h1m1 0h1M47 8.5h1M69 9.5h1m1 0h1M67 10.5h1M24 13.5h1m42 0h1M40 14.5h1m12 0h1m13 0h1M49 15.5h1m15 0h1M34 16.5h1m3 0h1m11 0h1m5 0h1M39 17.5h1m10 0h1m18 0h1M37 18.5h1m0 0h1m10 0h1m7 0h1M42 19.5h1m1 0h1m9 0h1m4 0h1M69 20.5h1M50 21.5h1m2 0h1m1 0h1m5 0h1M32 22.5h1m11 0h1M29 23.5h1m17 0h1m15 0h1M42 24.5h1m9 0h1m7 0h1M46 25.5h1M29 26.5h1m3 0h1m9 0h1m8 0h1M30 27.5h1m14 0h1m1 0h1m12 0h1M36 28.5h1m8 0h1M30 29.5h1m8 0h1m16 0h1m2 0h1M33 30.5h1m30 0h1m6 0h1M24 31.5h1m17 0h1M33 32.5h1m20 0h1M26 33.5h1m23 0h1m0 0h1M18 34.5h1m1 0h1m17 0h1M21 36.5h1m25 0h1m1 0h1m20 0h1M31 37.5h1m8 0h1m1 0h1m0 0h1m10 0h1M36 38.5h1m13 0h1M31 39.5h1m14 0h1M58 40.5h1M38 41.5h1m9 0h1m3 0h1m15 0h1M25 42.5h1m4 0h1m9 0h1m14 0h1m6 0h1M16 43.5h1m19 0h1m10 0h1m2 0h1M30 44.5h1m29 0h1M29 45.5h1m32 0h1m5 0h1M34 46.5h1m2 0h1M10 47.5h1m20 0h1m0 0h1m2 0h1m4 0h1M22 48.5h1m3 0h1m3 0h1m0 0h1m7 0h1m11 0h1M22 49.5h1m2 0h1m20 0h1m15 0h1m0 0h1m3 0h1m2 0h1M24 51.5h1m30 0h1M32 52.5h1m2 0h1m0 0h1m0 0h1m9 0h1M2 53.5h1m14 0h1m18 0h1m3 0h1m27 0h1M34 54.5h1m30 0h1M30 55.5h1m0 0h1m17 0h1M22 56.5h1m5 0h1m1 0h1M4 57.5h1m14 0h1m13 0h1m30 0h1m6 0h1M34 58.5h1M5 59.5h1m16 0h1M27 60.5h1m7 0h1M35 61.5h1m1 0h1M28 62.5h1M10 63.5h1"/>
<path stroke="#fed480" d="M64 0.5h1m1 0h1M63 1.5h1m0 0h1M67 2.5h1M60 3.5h1M19 4.5h1m33 0h1M53 6.5h1m15 0h1M52 7.5h1m1 0h1m0 0h1m9 0h1m3 0h1M57 8.5h1M24 9.5h1m19 0h1m21 0h1M43 10.5h1m8 0h1m2 0h1m3 0h1M44 11.5h1m12 0h1m7 0h1M44 12.5h1m16 0h1M43 14.5h1m8 0h1m13 0h1M44 15.5h1m0 0h1m9 0h1m13 0h1M49 17.5h1m2 0h1m5 0h1m11 0h1M51 18.5h1m15 0h1M40 20.5h1m9 0h1m20 0h1M62 22.5h1M49 23.5h1M54 24.5h1m16 0h1M40 26.5h1m20 0h1M48 27.5h1m0 0h1M42 28.5h1M28 29.5h1m12 0h1m18 0h1M35 30.5h1m15 0h1m18 0h1M58 31.5h1M28 32.5h1m17 0h1m16 0h1M33 33.5h1m8 0h1M39 34.5h1m9 0h1m10 0h1M18 35.5h1m19 0h1m12 0h1m11 0h1m1 0h1m4 0h1M25 36.5h1m12 0h1m9 0h1m2 0h1m3 0h1M23 37.5h1m2 0h1m17 0h1M11 38.5h1m21 0h1m19 0h1M37 39.5h1m4 0h1m1 0h1m0 0h1M31 40.5h1m4 0h1m5 0h1M55 41.5h1m5 0h1m5 0h1m2 0h1M22 42.5h1m21 0h1m14 0h1m0 0h1M44 43.5h1m18 0h1M64 44.5h1M41 45.5h1m19 0h1M70 46.5h1M24 47.5h1m3 0h1m7 0h1m29 0h1m1 0h1m0 0h1M27 48.5h1m9 0h1m5 0h1m6 0h1m17 0h1M4 49.5h1m16 0h1m21 0h1m1 0h1m11 0h1m10 0h1m2 0h1M4 50.5h1m2 0h1m17 0h1m13 0h1m8 0h1m6 0h1M34 51.5h1m2 0h1M28 52.5h1m35 0h1M33 53.5h1m7 0h1m21 0h1M19 54.5h1m17 0h1m0 0h1m11 0h1M26 55.5h1m21 0h1m7 0h1M45 56.5h1m21 0h1M30 57.5h1m6 0h1m29 0h1M17 58.5h1m8 0h1m34 0h1M18 59.5h1m1 0h1m38 0h1m11 0h1M19 60.5h1m4 0h1m7 0h1m6 0h1m1 0h1m29 0h1M34 61.5h1m3 0h1m24 0h1M9 62.5h1m13 0h1m9 0h1M32 63.5h1"/>
<path stroke="#fec776" d="M14 2.5h1M16 3.5h1m30 0h1M58 4.5h1M50 5.5h1m2 0h1m4 0h1M52 6.5h1M59 8.5h1m3 0h1m0 0h1M63 9.5h1m1 0h1M66 10.5h1M62 11.5h1M62 12.5h1M61 13.5h1m4 0h1M42 14.5h1m5 0h1m7 0h1m6 0h1m1 0h1M42 15.5h1m10 0h1m16 0h1M44 16.5h1m2 0h1m9 0h1m13 0h1M53 17.5h1m7 0h1M43 18.5h1M37 19.5h1M51 20.5h1m5 0h1m1 0h1M64 21.5h1M40 23.5h1m3 0h1m0 0h1m11 0h1m13 0h1M45 24.5h1m7 0h1m2 0h1M41 25.5h1m10 0h1M44 26.5h1m4 0h1m7 0h1M44 27.5h1M50 28.5h1m6 0h1M35 29.5h1m18 0h1M54 31.5h1m1 0h1m7 0h1M48 32.5h1m6 0h1m0 0h1m5 0h1M25 33.5h1m13 0h1M47 34.5h1m19 0h1m0 0h1m2 0h1M39 35.5h1m1 0h1m26 0h1M31 36.5h1m9 0h1m15 0h1m0 0h1m6 0h1M21 37.5h1m8 0h1m15 0h1m13 0h1m5 0h1M51 38.5h1M54 39.5h1M34 40.5h1m19 0h1m2 0h1m4 0h1m0 0h1m3 0h1M30 41.5h1m14 0h1m10 0h1m14 0h1M37 42.5h1m26 0h1m6 0h1M28 43.5h1m9 0h1m19 0h1M23 44.5h1m9 0h1m1 0h1m2 0h1m3 0h1m3 0h1m8 0h1M30 45.5h1m1 0h1m2 0h1m7 0h1m4 0h1m2 0h1m8 0h1M24 46.5h1m5 0h1m16 0h1m11 0h1m7 0h1M46 47.5h1m20 0h1M33 48.5h1m33 0h1M7 49.5h1m15 0h1m7 0h1m7 0h1m7 0h1m1 0h1m11 0h1M31 50.5h1m0 0h1m12 0h1M30 51.5h1m4 0h1m11 0h1m8 0h1m9 0h1m0 0h1M39 52.5h1m26 0h1m4 0h1M35 53.5h1m11 0h1m22 0h1m0 0h1M36 54.5h1m10 0h1M39 55.5h1m14 0h1m2 0h1m8 0h1M36 56.5h1m3 0h1m9 0h1M5 57.5h1m39 0h1M36 58.5h1m31 0h1m2 0h1M28 59.5h1m6 0h1M26 60.5h1m9 0h1m1 0h1M24 61.5h1m11 0h1"/>
<path stroke="#fdba6c" d="M65 1.5h1m0 0h1M71 3.5h1M50 4.5h1m9 0h1M67 5.5h1M51 6.5h1m6 0h1m0 0h1m2 0h1M62 7.5h1M61 8.5h1m3 0h1m1 0h1M41 9.5h1M47 10.5h1m1 0h1m15 0h1m4 0h1M55 12.5h1M56 13.5h1m8 0h1M47 14.5h1m1 0h1M39 15.5h1m18 0h1M43 16.5h1m2 0h1M51 17.5h1m2 0h1m8 0h1m1 0h1M48 18.5h1m11 0h1m1 0h1m3 0h1M60 19.5h1m1 0h1M49 20.5h1m18 0h1m1 0h1M56 21.5h1M45 22.5h1m5 0h1m17 0h1M50 23.5h1M39 24.5h1M25 25.5h1m17 0h1m0 0h1m10 0h1M48 26.5h1m11 0h1M53 27.5h1M40 28.5h1m19 0h1M55 29.5h1M48 30.5h1m9 0h1M46 31.5h1m0 0h1m2 0h1m1 0h1m12 0h1m4 0h1M37 32.5h1m19 0h1m9 0h1m1 0h1m0 0h1M20 33.5h1m14 0h1m13 0h1m7 0h1m11 0h1M34 34.5h1m0 0h1m14 0h1m2 0h1m9 0h1M40 35.5h1m9 0h1m8 0h1m7 0h1M30 36.5h1m15 0h1m22 0h1M48 37.5h1m18 0h1m3 0h1M49 38.5h1m2 0h1m1 0h1M40 39.5h1m10 0h1m6 0h1m4 0h1m4 0h1M38 40.5h1m6 0h1m4 0h1m4 0h1M49 41.5h1m8 0h1m7 0h1M46 42.5h1m18 0h1M41 43.5h1m6 0h1m0 0h1m2 0h1m7 0h1m4 0h1m4 0h1M28 44.5h1m28 0h1m12 0h1M27 45.5h1m8 0h1m8 0h1m3 0h1m2 0h1m12 0h1M39 46.5h1m8 0h1m1 0h1m3 0h1m0 0h1m4 0h1m8 0h1m1 0h1M43 47.5h1m4 0h1M7 48.5h1m26 0h1m26 0h1M53 49.5h1m4 0h1M46 50.5h1m3 0h1m0 0h1M4 51.5h1m45 0h1m14 0h1m2 0h1M65 52.5h1m3 0h1M42 53.5h1m24 0h1m1 0h1M53 54.5h1M37 55.5h1M41 56.5h1m12 0h1m10 0h1m5 0h1M56 57.5h1m8 0h1M42 58.5h1m0 0h1m12 0h1m10 0h1M19 59.5h1M34 62.5h1M24 63.5h1"/>
<path stroke="#fdae61" d="M59 1.5h1M10 3.5h1m46 0h1m0 0h1M57 4.5h1M68 5.5h1M50 6.5h1m9 0h1m0 0h1M57 7.5h1m0 0h1m12 0h1M55 8.5h1M47 9.5h1m11 0h1m1 0h1M49 11.5h1m9 0h1m1 0h1m5 0h1M56 12.5h1M43 13.5h1m11 0h1m4 0h1m10 0h1M57 14.5h1m2 0h1m7 0h1m0 0h1m1 0h1M43 15.5h1m12 0h1m11 0h1M66 16.5h1m3 0h1M71 17.5h1M52 18.5h1m0 0h1m5 0h1m1 0h1M66 19.5h1M37 20.5h1m8 0h1M57 21.5h1m12 0h1m0 0h1M47 22.5h1m10 0h1m0 0h1m3 0h1M52 23.5h1m5 0h1m1 0h1m0 0h1m6 0h1M46 24.5h1m2 0h1m8 0h1m2 0h1M28 25.5h1M62 26.5h1M31 27.5h1m24 0h1m2 0h1M44 28.5h1m13 0h1m10 0h1M42 29.5h1m10 0h1M46 30.5h1m3 0h1m9 0h1m8 0h1M51 31.5h1m17 0h1M32 32.5h1m17 0h1m10 0h1M61 33.5h1m8 0h1M52 34.5h1M10 35.5h1m15 0h1m33 0h1M50 36.5h1m15 0h1M59 37.5h1m3 0h1m5 0h1M32 38.5h1m8 0h1m2 0h1m14 0h1m8 0h1M38 39.5h1m4 0h1m22 0h1m4 0h1M39 40.5h1m6 0h1m2 0h1M33 41.5h1m9 0h1m15 0h1m4 0h1M54 42.5h1m11 0h1M27 43.5h1m14 0h1m0 0h1m7 0h1m3 0h1m1 0h1m1 0h1m8 0h1M29 44.5h1m1 0h1m7 0h1m4 0h1m14 0h1m1 0h1m7 0h1M34 45.5h1m20 0h1M32 46.5h1m5 0h1m18 0h1m5 0h1m1 0h1M26 47.5h1m12 0h1m13 0h1m6 0h1m0 0h1M35 48.5h1m2 0h1m9 0h1m3 0h1m12 0h1M34 49.5h1m17 0h1m6 0h1M33 50.5h1m4 0h1m14 0h1M63 51.5h1M68 52.5h1M65 53.5h1M26 54.5h1m24 0h1m16 0h1m0 0h1M32 55.5h1m7 0h1m5 0h1M46 56.5h1m0 0h1m5 0h1m9 0h1M40 57.5h1m9 0h1m8 0h1M38 58.5h1M40 59.5h1m1 0h1m26 0h1M61 60.5h1"/>
<path stroke="#fb9e5a" d="M59 2.5h1M62 3.5h1M63 6.5h1M51 8.5h1M57 9.5h1m10 0h1M54 10.5h1m14 0h1M35 11.5h1m10 0h1m4 0h1m4 0h1m14 0h1M54 12.5h1M63 13.5h1M61 14.5h1m2 0h1M42 16.5h1m11 0h1m8 0h1M42 17.5h1m17 0h1m1 0h1m3 0h1M44 18.5h1m20 0h1M50 19.5h1m7 0h1M48 20.5h1m7 0h1M68 21.5h1m0 0h1M48 23.5h1m5 0h1m9 0h1M43 24.5h1m3 0h1m2 0h1m4 0h1m8 0h1M71 25.5h1M63 26.5h1m7 0h1M52 27.5h1M41 28.5h1M71 29.5h1M54 30.5h1m8 0h1M44 31.5h1m16 0h1m9 0h1M34 33.5h1m11 0h1m19 0h1M58 34.5h1m0 0h1M28 35.5h1m15 0h1m4 0h1m8 0h1M42 36.5h1m2 0h1m6 0h1M51 37.5h1m3 0h1m1 0h1m3 0h1m6 0h1M26 38.5h1m4 0h1m7 0h1m16 0h1m5 0h1m2 0h1M56 39.5h1m5 0h1M43 40.5h1m4 0h1m20 0h1m0 0h1M36 41.5h1m0 0h1m2 0h1m1 0h1m3 0h1m3 0h1M52 42.5h1m10 0h1M32 44.5h1m17 0h1m0 0h1m11 0h1m4 0h1M24 45.5h1m15 0h1m13 0h1m16 0h1M26 46.5h1m2 0h1m16 0h1m6 0h1m4 0h1M41 47.5h1M32 48.5h1m14 0h1m5 0h1m3 0h1m11 0h1M32 49.5h1m2 0h1m1 0h1m0 0h1m3 0h1M36 50.5h1m3 0h1m8 0h1m4 0h1m6 0h1m6 0h1m2 0h1M43 51.5h1m4 0h1m2 0h1M44 52.5h1m0 0h1M40 54.5h1m1 0h1m27 0h1M53 55.5h1m17 0h1M44 56.5h1M4 58.5h1m15 0h1m18 0h1m23 0h1m2 0h1M67 59.5h1M34 60.5h1m27 0h1m0 0h1m4 0h1M18 61.5h1M24 62.5h1"/>
<path stroke="#f88e52" d="M67 1.5h1m0 0h1M66 2.5h1m3 0h1M54 5.5h1m0 0h1M66 6.5h1M47 7.5h1m11 0h1m10 0h1M49 8.5h1m10 0h1m9 0h1M52 9.5h1m14 0h1M48 10.5h1m1 0h1m0 0h1m4 0h1M53 11.5h1m6 0h1M48 12.5h1m2 0h1m5 0h1m1 0h1m0 0h1M48 13.5h1m3 0h1m4 0h1M46 14.5h1m8 0h1M52 15.5h1m6 0h1m1 0h1M40 16.5h1M70 18.5h1M63 19.5h1m0 0h1M55 20.5h1m6 0h1m3 0h1M62 21.5h1M46 22.5h1m6 0h1m11 0h1m1 0h1M69 23.5h1m0 0h1M59 24.5h1M63 25.5h1M56 26.5h1m1 0h1M41 27.5h1m12 0h1m14 0h1M65 30.5h1M63 31.5h1M15 34.5h1m39 0h1M57 35.5h1m13 0h1M60 36.5h1m2 0h1m4 0h1m2 0h1M45 37.5h1m18 0h1M34 38.5h1m0 0h1m7 0h1m3 0h1m16 0h1M41 39.5h1m19 0h1m2 0h1M47 40.5h1m11 0h1m4 0h1m1 0h1M47 41.5h1m21 0h1M35 42.5h1M32 43.5h1m21 0h1m12 0h1M34 44.5h1m27 0h1m8 0h1M38 45.5h1m0 0h1m10 0h1m5 0h1m1 0h1M33 46.5h1m17 0h1M33 47.5h1m15 0h1m0 0h1m5 0h1m1 0h1m5 0h1m5 0h1M44 48.5h1m4 0h1M65 49.5h1M37 50.5h1m31 0h1M58 51.5h1m5 0h1M67 52.5h1M29 53.5h1m23 0h1m4 0h1M39 54.5h1M45 55.5h1m9 0h1m8 0h1m0 0h1m1 0h1M48 56.5h1m6 0h1m10 0h1M38 57.5h1m18 0h1m5 0h1M58 59.5h1m3 0h1M42 60.5h1m24 0h1"/>
<path stroke="#f67d4a" d="M63 0.5h1M71 2.5h1M59 3.5h1M59 4.5h1m7 0h1M56 5.5h1m2 0h1m0 0h1M57 6.5h1m12 0h1M67 7.5h1M68 8.5h1M50 11.5h1m17 0h1M43 12.5h1m21 0h1M53 13.5h1m10 0h1m4 0h1M62 14.5h1M50 15.5h1m13 0h1M55 19.5h1M67 20.5h1M63 21.5h1M41 22.5h1M45 25.5h1m8 0h1m14 0h1M50 27.5h1m4 0h1m6 0h1m8 0h1M55 28.5h1m15 0h1M69 29.5h1m0 0h1M59 30.5h1m1 0h1m5 0h1M53 31.5h1m5 0h1m0 0h1m7 0h1M34 32.5h1M41 33.5h1m23 0h1m2 0h1M62 34.5h1m2 0h1m4 0h1M43 36.5h1m20 0h1M58 38.5h1M57 41.5h1M29 42.5h1m2 0h1m6 0h1m8 0h1m8 0h1M40 44.5h1m2 0h1m23 0h1M49 46.5h1m6 0h1m9 0h1m1 0h1M51 47.5h1M36 48.5h1m29 0h1M41 49.5h1m2 0h1m3 0h1m1 0h1M43 50.5h1m3 0h1m17 0h1m1 0h1M54 51.5h1m14 0h1M50 52.5h1m6 0h1M43 53.5h1m6 0h1m15 0h1M41 54.5h1m3 0h1m10 0h1m0 0h1m0 0h1m4 0h1M50 55.5h1M61 56.5h1m0 0h1M43 57.5h1M41 58.5h1m12 0h1m2 0h1m6 0h1m4 0h1M57 59.5h1m2 0h1m2 0h1M65 60.5h1"/>
<path stroke="#f46d43" d="M60 1.5h1m1 0h1M60 2.5h1m1 0h1m6 0h1M68 3.5h1M61 5.5h1m9 0h1M56 6.5h1M56 7.5h1m9 0h1M48 8.5h1m13 0h1M66 11.5h1M49 12.5h1M42 13.5h1m1 0h1m1 0h1M60 15.5h1M58 16.5h1m0 0h1m1 0h1M43 17.5h1m20 0h1M69 18.5h1M61 19.5h1m8 0h1M46 21.5h1M46 23.5h1m18 0h1M67 24.5h1m0 0h1m1 0h1M60 25.5h1m1 0h1M66 26.5h1M57 27.5h1m5 0h1M52 30.5h1m13 0h1M45 32.5h1m22 0h1M66 34.5h1M64 35.5h1m4 0h1M59 36.5h1M40 38.5h1m1 0h1m18 0h1M54 41.5h1m10 0h1M28 42.5h1m13 0h1m15 0h1m2 0h1M41 44.5h1m10 0h1m0 0h1M47 45.5h1M41 46.5h1m10 0h1m8 0h1M37 47.5h1m17 0h1m7 0h1m1 0h1M46 48.5h1m13 0h1M29 49.5h1m10 0h1m14 0h1M59 50.5h1m0 0h1m1 0h1M51 52.5h1m8 0h1M37 53.5h1m6 0h1m4 0h1m2 0h1m1 0h1m9 0h1M66 54.5h1M36 55.5h1M32 56.5h1m6 0h1M60 57.5h1M40 58.5h1M64 59.5h1m0 0h1M64 61.5h1"/>
<path stroke="#ec6146" d="M61 2.5h1M61 3.5h1m7 0h1m0 0h1M66 5.5h1m3 0h1M53 7.5h1M53 9.5h1M54 11.5h1M54 13.5h1m3 0h1M59 14.5h1M66 15.5h1m0 0h1M48 16.5h1m20 0h1M63 18.5h1M57 19.5h1m11 0h1M45 21.5h1m12 0h1m8 0h1M40 22.5h1m25 0h1m1 0h1M48 24.5h1m13 0h1m6 0h1M47 25.5h1M55 26.5h1M64 27.5h1M62 28.5h1m1 0h1M50 29.5h1M62 31.5h1M66 32.5h1M43 34.5h1M62 35.5h1M33 36.5h1M58 37.5h1M67 39.5h1M65 40.5h1M67 42.5h1M69 43.5h1M57 45.5h1M45 48.5h1m8 0h1m15 0h1M56 49.5h1M56 50.5h1m1 0h1M53 51.5h1M43 52.5h1m11 0h1M57 53.5h1m3 0h1M44 54.5h1m4 0h1m2 0h1m1 0h1M68 55.5h1M43 56.5h1m8 0h1m17 0h1M39 57.5h1m14 0h1M27 59.5h1m13 0h1"/>
<path stroke="#e45649" d="M65 0.5h1M66 3.5h1M70 4.5h1M63 5.5h1m0 0h1M64 6.5h1M68 7.5h1M58 9.5h1M57 10.5h1M45 12.5h1m0 0h1m6 0h1m9 0h1M54 14.5h1M62 16.5h1M63 20.5h1M66 21.5h1M44 24.5h1m18 0h1m1 0h1M50 25.5h1m7 0h1M50 26.5h1m13 0h1M70 27.5h1M63 28.5h1m1 0h1M58 32.5h1M60 33.5h1m6 0h1m3 0h1M61 34.5h1M44 36.5h1M22 38.5h1M57 39.5h1M60 41.5h1M68 42.5h1m1 0h1M66 44.5h1M59 45.5h1m6 0h1M36 46.5h1M59 47.5h1M59 48.5h1M63 50.5h1m0 0h1M42 51.5h1m14 0h1m3 0h1M58 52.5h1M42 55.5h1m16 0h1M42 56.5h1m14 0h1m0 0h1M59 58.5h1M61 59.5h1M64 60.5h1"/>
<path stroke="#dd4a4c" d="M21 3.5h1m43 0h1M69 5.5h1M55 9.5h1m14 0h1M63 10.5h1M50 12.5h1m7 0h1m5 0h1m4 0h1M62 13.5h1M63 15.5h1M65 19.5h1m2 0h1M61 22.5h1M62 23.5h1M65 29.5h1M68 30.5h1M67 31.5h1M59 32.5h1M55 33.5h1M47 39.5h1M49 42.5h1M66 43.5h1M48 44.5h1M63 45.5h1m0 0h1M45 46.5h1M47 47.5h1M55 48.5h1M64 49.5h1M52 50.5h1m13 0h1M60 51.5h1M42 52.5h1m6 0h1M51 53.5h1m7 0h1M43 54.5h1m16 0h1m1 0h1M44 55.5h1m7 0h1m7 0h1M51 56.5h1M69 57.5h1M44 58.5h1m15 0h1"/>
<path stroke="#d53e4f" d="M67 3.5h1M68 4.5h1M57 5.5h1M68 6.5h1M51 13.5h1M47 15.5h1M44 17.5h1M65 21.5h1M57 24.5h1M68 26.5h1M61 29.5h1m1 0h1M66 31.5h1M51 42.5h1M46 45.5h1M54 47.5h1M41 48.5h1M54 49.5h1m5 0h1M41 50.5h1M56 52.5h1m2 0h1M61 54.5h1m2 0h1m2 0h1M58 55.5h1M59 56.5h1m4 0h1M58 57.5h1M69 60.5h1"/>
<path stroke="#c72f4c" d="M69 4.5h1M58 8.5h1m7 0h1M54 9.5h1M68 17.5h1M64 20.5h1M59 25.5h1m4 0h1m1 0h1M69 26.5h1M67 28.5h1M68 29.5h1M69 42.5h1M62 47.5h1M63 48.5h1m0 0h1M44 50.5h1m12 0h1M52 52.5h1M62 53.5h1M55 54.5h1M62 55.5h1M56 56.5h1M55 57.5h1M62 61.5h1"/>
<path stroke="#ba2048" d="M20 3.5h1M56 9.5h1M52 12.5h1M47 13.5h1M64 18.5h1M66 23.5h1M66 24.5h1M57 25.5h1m10 0h1M67 26.5h1M71 43.5h1M49 44.5h1M56 48.5h1M44 51.5h1m4 0h1M63 52.5h1M48 53.5h1M51 55.5h1m9 0h1m1 0h1M52 57.5h1m9 0h1M62 58.5h1"/>
<path stroke="#ac1045" d="M64 9.5h1M51 14.5h1M47 26.5h1M68 28.5h1M66 29.5h1m0 0h1M65 39.5h1M53 42.5h1M58 48.5h1M59 51.5h1M48 52.5h1m12 0h1M59 54.5h1M26 59.5h1M70 60.5h1"/>
<path stroke="#9e0142" d="M53 8.5h1M70 12.5h1M68 16.5h1M65 20.5h1M67 23.5h1M65 25.5h1m1 0h1M65 26.5h1M65 27.5h1m0 0h1m0 0h1m0 0h1M66 28.5h1M64 29.5h1M46 43.5h1M45 47.5h1M62 51.5h1M54 52.5h1m7 0h1M55 53.5h1m0 0h1m3 0h1M60 56.5h1m7 0h1"/>
</g>
<path d="M21.7 22h4.4v4.5h-4.4zM30.5 22h4.4v4.5h-4.4zM48.1 22h4.4v4.5h-4.4zM65.7 22h4.4v4.5h-4.4zM118.5 22h4.4v4.5h-4.4zM158.1 22h4.4v4.5h-4.4zM193.3 22h13.2v4.5h-13.2zM290.1 22h17.6v4.5h-17.6zM17.3 26.4h8.8v4.5h-8.8zM30.5 26.4h48.4v4.5h-48.4zM114.1 26.4h17.6v4.5h-17.6zM140.5 26.4h4.4v4.5h-4.4zM149.3 26.4h13.2v4.5h-13.2zM188.9 26.4h22v4.5h-22zM272.5 26.4h8.8v4.5h-8.8zM285.7 26.4h30.8v4.5h-30.8zM12.9 30.9h83.6v4.5h-83.6zM109.7 30.9h57.2v4.5h-57.2zM180.1 30.9h4.4v4.5h-4.4zM188.9 30.9h35.2v4.5h-35.2zM268.1 30.9h61.6v4.5h-61.6zM12.9 35.4h224.4v4.5h-224.4zM250.5 35.4h4.4v4.5h-4.4zM263.7 35.4h66v4.5h-66zM12.9 39.8h316.8v4.5h-316.8zM12.9 44.2h316.8v4.5h-316.8zM12.9 48.7h316.8v4.5h-316.8zM12.9 53.2h316.8v4.5h-316.8zM12.9 57.6h316.8v4.5h-316.8zM12.9 62.1h316.8v4.5h-316.8zM12.9 66.5h316.8v4.5h-316.8zM12.9 71h316.8v4.5h-316.8zM12.9 75.4h316.8v4.5h-316.8zM12.9 79.8h316.8v4.5h-316.8zM12.9 84.3h316.8v4.5h-316.8zM12.9 88.8h316.8v4.5h-316.8zM12.9 93.2h316.8v4.5h-316.8zM12.9 97.7h316.8v4.5h-316.8zM12.9 102.1h316.8v4.5h-316.8zM12.9 106.5h316.8v4.5h-316.8zM12.9 111h316.8v4.5h-316.8zM12.9 115.5h316.8v4.5h-316.8zM12.9 119.9h316.8v4.5h-316.8zM12.9 124.4h316.8v4.5h-316.8zM12.9 128.8h316.8v4.5h-316.8zM12.9 133.2h316.8v4.5h-316.8zM12.9 137.7h316.8v4.5h-316.8zM12.9 142.2h316.8v4.5h-316.8zM12.9 146.6h316.8v4.5h-316.8zM12.9 151.1h316.8v4.5h-316.8zM12.9 155.5h316.8v4.5h-316.8zM12.9 160h316.8v4.5h-316.8zM12.9 164.4h316.8v4.5h-316.8zM12.9 168.8h316.8v4.5h-316.8zM12.9 173.3h316.8v4.5h-316.8zM12.9 177.8h316.8v4.5h-316.8zM12.9 182.2h316.8v4.5h-316.8zM12.9 186.7h316.8v4.5h-316.8zM12.9 191.1h316.8v4.5h-316.8zM12.9 195.6h316.8v4.5h-316.8zM12.9 200h316.8v4.5h-316.8zM12.9 204.5h316.8v4.5h-316.8zM12.9 208.9h316.8v4.5h-316.8zM12.9 213.3h316.8v4.5h-316.8zM12.9 217.8h316.8v4.5h-316.8zM12.9 222.2h316.8v4.5h-316.8zM12.9 226.7h316.8v4.5h-316.8zM12.9 231.2h316.8v4.5h-316.8zM12.9 235.6h316.8v4.5h-316.8zM12.9 240.1h316.8v4.5h-316.8zM12.9 244.5h316.8v4.5h-316.8zM12.9 249h316.8v4.5h-316.8zM12.9 253.4h316.8v4.5h-316.8zM12.9 257.9h316.8v4.5h-316.8zM12.9 262.3h316.8v4.5h-316.8zM12.9 266.8h316.8v4.5h-316.8zM12.9 271.2h316.8v4.5h-316.8zM12.9 275.6h202.4v4.5h-202.4zM232.9 275.6h4.4v4.5h-4.4zM241.7 275.6h4.4v4.5h-4.4zM250.5 275.6h79.2v4.5h-79.2zM12.9 280.1h198v4.5h-198zM250.5 280.1h4.4v4.5h-4.4zM259.3 280.1h70.4v4.5h-70.4zM12.9 284.6h193.6v4.5h-193.6zM263.7 284.6h66v4.5h-66zM12.9 289h189.2v4.5h-189.2zM281.3 289h48.4v4.5h-48.4zM12.9 293.4h180.4v4.5h-180.4zM285.7 293.4h13.2v4.5h-13.2zM12.9 297.9h171.6v4.5h-171.6zM12.9 302.4h26.4v4.5h-26.4zM43.7 302.4h83.6v4.5h-83.6zM131.7 302.4h48.4v4.5h-48.4zM26.1 306.8h4.4v4.5h-4.4zM52.5 306.8h52.8v4.5h-52.8zM109.7 306.8h8.8v4.5h-8.8zM140.5 306.8h8.8v4.5h-8.8zM162.5 306.8h4.4v4.5h-4.4z" fill="url(#spots)"/>
<ellipse cx="20" cy="150" rx="11" ry="2.2" fill="#f4f4f6" transform="rotate(-12 20 150)"/>
<ellipse cx="84" cy="293" rx="8" ry="1.8" fill="#f4f4f6" transform="rotate(-10 84 293)"/>
</g>
<text x="963" y="2263.5" font-size="23.6" text-anchor="start" fill="#222">Fibroblasts</text>
<rect x="1096.6" y="2222.8" width="189.1" height="38.2" fill="url(#spec)"/>
<path d="M1136.4 2222.8 v7 M1136.4 2254 v7" stroke="#fff" stroke-width="1.3" stroke-opacity="0.8"/>
<text x="1136.4" y="2284.3" font-size="20.4" text-anchor="middle" fill="#222" letter-spacing="-0.6">0.00</text>
<path d="M1182.8 2222.8 v7 M1182.8 2254 v7" stroke="#fff" stroke-width="1.3" stroke-opacity="0.8"/>
<text x="1182.8" y="2284.3" font-size="20.4" text-anchor="middle" fill="#222" letter-spacing="-0.6">0.25</text>
<path d="M1229.2 2222.8 v7 M1229.2 2254 v7" stroke="#fff" stroke-width="1.3" stroke-opacity="0.8"/>
<text x="1229.2" y="2284.3" font-size="20.4" text-anchor="middle" fill="#222" letter-spacing="-0.6">0.50</text>
<path d="M1275.7 2222.8 v7 M1275.7 2254 v7" stroke="#fff" stroke-width="1.3" stroke-opacity="0.8"/>
<text x="1275.7" y="2284.3" font-size="20.4" text-anchor="middle" fill="#222" letter-spacing="-0.6">0.75</text>
<g transform="translate(958.9 2327)">
<rect x="0" y="0" width="342" height="328" fill="#EFEFF1"/>
<path d="M0 24 L13.5 26 L14 305 L0 307 Z" fill="url(#purp)"/>
<path d="M327 22 L341 20 L341 300 L327 299 Z" fill="url(#purp)"/>
<g transform="translate(12.9 22) scale(4.4 4.45)" fill="none" stroke-width="1">
<path stroke="#5e4fa2" d="M36 6.5h1M25 7.5h1m3 0h1M27 9.5h1M13 18.5h1M9 19.5h1m12 0h1M18 21.5h1M11 28.5h1M20 61.5h1"/>
<path stroke="#535da9" d="M10 17.5h1M11 26.5h1"/>
<path stroke="#486cb0" d="M4 16.5h1M21 18.5h1M3 60.5h1M11 61.5h1m13 0h1"/>
<path stroke="#3d7ab6" d="M30 3.5h1M9 4.5h1m20 0h1M41 6.5h1M10 7.5h1m30 0h1M10 11.5h1m1 0h1M10 13.5h1M9 15.5h1M1 17.5h1M10 18.5h1M26 34.5h1M8 61.5h1"/>
<path stroke="#3288bd" d="M14 9.5h1M26 11.5h1M10 14.5h1M6 17.5h1m13 0h1M10 21.5h1M7 22.5h1M11 23.5h1m1 0h1M9 24.5h1M6 27.5h1M25 57.5h1"/>
<path stroke="#3f96b7" d="M43 0.5h1M30 6.5h1M36 7.5h1M20 19.5h1M7 23.5h1M17 24.5h1M15 26.5h1M21 32.5h1M5 33.5h1M21 55.5h1M21 59.5h1M15 64.5h1m14 0h1"/>
<path stroke="#4ca5b1" d="M23 6.5h1M26 8.5h1m5 0h1M31 13.5h1M19 17.5h1M22 18.5h1M4 26.5h1M24 57.5h1M15 58.5h1"/>
<path stroke="#59b4ab" d="M5 4.5h1m28 0h1m2 0h1M31 5.5h1M40 6.5h1M24 7.5h1M26 9.5h1M9 10.5h1M32 12.5h1M33 13.5h1M2 15.5h1M5 16.5h1M8 17.5h1M6 22.5h1M7 25.5h1M0 32.5h1M17 33.5h1M17 39.5h1M22 57.5h1M11 60.5h1m20 0h1M13 62.5h1m7 0h1"/>
<path stroke="#66c2a5" d="M31 3.5h1m1 0h1M8 4.5h1m31 0h1m2 0h1M13 8.5h1M12 10.5h1M33 12.5h1M18 13.5h1M22 16.5h1M19 18.5h1M20 21.5h1M4 22.5h1m6 0h1M25 26.5h1M9 29.5h1M14 37.5h1M11 43.5h1M27 55.5h1M12 64.5h1m4 0h1m2 0h1"/>
<path stroke="#77c9a5" d="M44 1.5h1M38 2.5h1M12 4.5h1m14 0h1m4 0h1M10 5.5h1M17 6.5h1m14 0h1m6 0h1M17 7.5h1m12 0h1M9 9.5h1M18 10.5h1M9 14.5h1M3 15.5h1m3 0h1M2 18.5h1M2 19.5h1M6 20.5h1M17 22.5h1M11 24.5h1m9 0h1M6 25.5h1m18 0h1M8 27.5h1M17 36.5h1M21 41.5h1M15 51.5h1M3 53.5h1M16 58.5h1M0 60.5h1m17 0h1M22 62.5h1M13 64.5h1m15 0h1"/>
<path stroke="#88d0a4" d="M43 2.5h1M26 5.5h1m12 0h1m1 0h1M12 6.5h1M8 7.5h1m33 0h1M16 8.5h1m1 0h1m11 0h1m4 0h1m1 0h1M22 9.5h1M30 10.5h1m0 0h1M24 12.5h1M13 15.5h1m6 0h1m9 0h1M10 19.5h1m10 0h1m8 0h1M10 20.5h1m0 0h1m0 0h1M11 21.5h1m2 0h1M10 22.5h1M9 23.5h1M14 24.5h1M1 25.5h1m10 0h1M1 29.5h1m20 0h1M15 31.5h1M23 33.5h1M18 36.5h1M1 37.5h1M0 45.5h1M11 55.5h1m21 0h1M12 57.5h1M14 58.5h1M19 59.5h1M24 60.5h1M19 62.5h1m6 0h1M19 63.5h1"/>
<path stroke="#9ad6a4" d="M14 3.5h1m10 0h1M33 4.5h1M1 6.5h1m23 0h1m3 0h1M15 7.5h1m15 0h1m5 0h1M12 8.5h1M7 9.5h1M23 10.5h1m4 0h1M4 14.5h1m14 0h1M4 15.5h1m0 0h1m6 0h1M9 16.5h1m2 0h1m1 0h1M7 17.5h1m5 0h1m3 0h1M9 18.5h1m13 0h1M19 19.5h1m7 0h1M6 21.5h1M12 23.5h1m1 0h1M0 25.5h1M4 30.5h1M3 33.5h1m9 0h1M3 36.5h1M20 37.5h1M22 39.5h1M17 40.5h1M13 41.5h1M8 42.5h1M18 50.5h1M20 54.5h1M12 55.5h1M17 56.5h1M11 58.5h1M29 59.5h1m1 0h1M13 60.5h1m13 0h1M26 61.5h1m2 0h1M0 63.5h1m14 0h1m12 0h1"/>
<path stroke="#abdda4" d="M42 1.5h1M7 3.5h1m27 0h1M14 4.5h1m27 0h1M8 5.5h1M11 7.5h1m0 0h1M22 8.5h1M8 10.5h1m2 0h1m2 0h1M7 12.5h1M6 13.5h1m1 0h1M31 15.5h1M14 17.5h1m7 0h1m4 0h1m2 0h1m2 0h1M4 18.5h1m13 0h1m9 0h1M6 19.5h1M7 20.5h1m0 0h1m4 0h1m0 0h1m3 0h1M12 22.5h1M4 23.5h1M4 24.5h1m7 0h1M11 25.5h1M8 26.5h1M24 27.5h1M10 28.5h1m13 0h1M25 29.5h1M21 30.5h1M16 37.5h1m0 0h1M19 38.5h1M3 41.5h1M1 42.5h1m11 0h1m1 0h1M12 52.5h1m6 0h1M19 56.5h1M9 57.5h1m10 0h1M17 58.5h1m7 0h1M11 59.5h1m12 0h1m5 0h1M12 60.5h1m7 0h1M6 61.5h1m0 0h1m13 0h1M20 62.5h1m13 0h1M16 64.5h1"/>
<path stroke="#bae3a1" d="M42 0.5h1M23 2.5h1M3 3.5h1m0 0h1M0 4.5h1m24 0h1m9 0h1m3 0h1m1 0h1M36 5.5h1m1 0h1m3 0h1M10 6.5h1m0 0h1m12 0h1m9 0h1m7 0h1M26 7.5h1M0 8.5h1m22 0h1m7 0h1m11 0h1M11 9.5h1m8 0h1M17 10.5h1m3 0h1M17 12.5h1M15 13.5h1m11 0h1M12 14.5h1M16 15.5h1m2 0h1m7 0h1M0 16.5h1m5 0h1M5 17.5h1m3 0h1m1 0h1M7 18.5h1m3 0h1m0 0h1m18 0h1M7 21.5h1m5 0h1M8 22.5h1m6 0h1M7 24.5h1m2 0h1M13 25.5h1m2 0h1M19 26.5h1M2 27.5h1m1 0h1m4 0h1M3 28.5h1M5 29.5h1m0 0h1M5 31.5h1m0 0h1m10 0h1M7 32.5h1M1 33.5h1M21 34.5h1M3 35.5h1m1 0h1m8 0h1M15 36.5h1m0 0h1M0 38.5h1m2 0h1m23 0h1M21 39.5h1M9 41.5h1M23 50.5h1M18 53.5h1M19 54.5h1m2 0h1M16 56.5h1M15 57.5h1m1 0h1M19 58.5h1m2 0h1m6 0h1M15 59.5h1M1 61.5h1M32 62.5h1M18 64.5h1"/>
<path stroke="#c8e99e" d="M11 2.5h1M26 3.5h1m0 0h1m4 0h1m4 0h1m1 0h1m1 0h1M1 4.5h1M1 5.5h1m26 0h1M31 6.5h1m5 0h1M32 7.5h1M8 9.5h1M7 11.5h1m13 0h1m6 0h1m0 0h1m2 0h1M11 13.5h1m4 0h1m15 0h1m1 0h1M6 14.5h1m11 0h1m13 0h1m3 0h1M8 15.5h1M10 16.5h1m2 0h1m16 0h1M8 19.5h1m8 0h1M12 21.5h1M14 22.5h1M5 23.5h1m4 0h1m4 0h1m0 0h1M5 27.5h1M2 28.5h1m11 0h1M20 31.5h1M14 32.5h1M4 33.5h1m19 0h1M4 35.5h1M7 37.5h1m7 0h1M15 38.5h1M2 39.5h1m0 0h1m12 0h1M13 40.5h1M0 41.5h1m14 0h1m0 0h1M4 42.5h1m16 0h1M1 44.5h1M15 52.5h1M23 54.5h1M19 55.5h1m0 0h1M6 57.5h1m12 0h1M22 59.5h1m9 0h1M19 61.5h1M8 62.5h1m2 0h1m0 0h1m17 0h1m0 0h1M18 63.5h1m8 0h1M19 64.5h1"/>
<path stroke="#d7ef9b" d="M9 2.5h1m19 0h1m1 0h1M44 3.5h1M15 4.5h1m8 0h1M34 5.5h1M0 6.5h1m2 0h1m5 0h1m3 0h1m0 0h1m13 0h1M38 7.5h1M14 8.5h1M6 9.5h1m6 0h1m22 0h1M2 10.5h1m31 0h1M25 11.5h1M9 13.5h1M16 14.5h1M3 16.5h1m7 0h1m8 0h1m2 0h1m5 0h1M31 17.5h1M29 18.5h1M1 19.5h1M20 20.5h1m1 0h1M19 21.5h1M9 22.5h1m3 0h1m8 0h1M2 23.5h1m3 0h1m14 0h1M1 24.5h1m16 0h1M26 25.5h1M12 26.5h1M16 27.5h1M5 28.5h1M0 30.5h1m1 0h1m25 0h1M19 34.5h1m2 0h1M21 35.5h1m4 0h1M1 36.5h1M19 37.5h1M4 38.5h1M0 40.5h1m20 0h1M6 41.5h1m1 0h1m8 0h1m4 0h1M9 42.5h1M12 53.5h1m7 0h1m8 0h1M8 54.5h1m0 0h1M7 55.5h1m20 0h1M10 56.5h1m2 0h1m6 0h1M8 57.5h1M6 58.5h1m16 0h1m2 0h1M8 59.5h1m1 0h1m7 0h1m9 0h1M13 61.5h1M17 62.5h1"/>
<path stroke="#e6f598" d="M29 1.5h1M5 2.5h1m34 0h1m0 0h1m2 0h1m2 0h1M10 3.5h1M45 4.5h1M12 5.5h1m0 0h1m1 0h1m8 0h1m0 0h1m7 0h1M16 6.5h1m2 0h1m6 0h1m16 0h1M33 7.5h1m10 0h1M10 8.5h1m0 0h1m22 0h1m1 0h1M28 9.5h1m8 0h1M16 10.5h1m7 0h1m4 0h1M16 11.5h1M2 12.5h1m5 0h1m2 0h1m17 0h1M12 13.5h1M20 14.5h1m5 0h1m2 0h1M10 15.5h1m18 0h1M15 16.5h1m16 0h1M0 17.5h1m17 0h1m10 0h1M14 18.5h1m18 0h1M11 19.5h1m2 0h1M18 23.5h1M16 24.5h1m7 0h1m10 0h1M8 25.5h1m8 0h1m5 0h1M23 26.5h1M23 28.5h1m15 0h1M11 29.5h1M3 31.5h1m4 0h1m4 0h1M23 32.5h1m3 0h1m1 0h1M14 33.5h1m10 0h1M4 34.5h1M9 36.5h1m3 0h1M22 38.5h1M12 39.5h1M10 40.5h1m8 0h1M2 41.5h1m9 0h1m5 0h1M14 42.5h1m8 0h1M12 43.5h1m1 0h1m1 0h1M7 44.5h1M12 45.5h1M17 53.5h1m6 0h1m7 0h1M11 54.5h1m3 0h1M17 55.5h1M12 59.5h1M7 60.5h1m17 0h1M9 61.5h1m14 0h1M6 62.5h1M22 63.5h1"/>
<path stroke="#ecf8a2" d="M26 2.5h1m19 0h1M9 3.5h1M36 4.5h1M35 5.5h1M14 7.5h1m4 0h1m20 0h1M15 8.5h1m9 0h1M24 9.5h1m0 0h1m14 0h1M25 10.5h1M6 11.5h1m4 0h1m3 0h1M18 12.5h1m11 0h1m0 0h1M19 13.5h1m6 0h1M1 14.5h1m22 0h1M6 15.5h1M24 16.5h1m6 0h1M3 17.5h1m11 0h1m0 0h1m17 0h1M15 18.5h1m1 0h1m2 0h1M13 19.5h1M21 20.5h1m6 0h1M22 21.5h1m11 0h1M2 24.5h1M14 25.5h1m0 0h1M1 26.5h1m7 0h1m14 0h1M0 27.5h1m10 0h1M6 28.5h1m5 0h1M3 29.5h1m17 0h1M19 31.5h1m2 0h1m2 0h1M16 33.5h1M17 34.5h1m7 0h1M24 36.5h1M4 37.5h1m13 0h1m10 0h1M34 38.5h1M8 40.5h1m2 0h1m0 0h1M19 41.5h1M23 49.5h1M29 51.5h1M15 53.5h1m0 0h1m9 0h1M9 55.5h1m4 0h1M6 56.5h1m8 0h1m5 0h1m5 0h1M8 58.5h1M10 60.5h1m4 0h1M4 61.5h1m11 0h1m14 0h1M9 62.5h1m0 0h1M5 63.5h1m1 0h1m4 0h1m18 0h1"/>
<path stroke="#f2faac" d="M9 1.5h1m33 0h1M25 2.5h1m4 0h1M6 3.5h1m4 0h1m34 0h1M6 4.5h1m3 0h1m7 0h1m10 0h1m1 0h1m12 0h1M30 5.5h1m1 0h1M16 7.5h1m6 0h1m3 0h1M33 8.5h1M12 9.5h1m18 0h1M6 10.5h1m3 0h1m8 0h1m2 0h1m14 0h1M8 11.5h1m4 0h1m0 0h1m16 0h1M10 12.5h1m3 0h1m4 0h1m6 0h1M25 13.5h1m2 0h1m0 0h1M8 14.5h1m4 0h1m7 0h1M7 16.5h1m13 0h1m3 0h1m0 0h1M30 18.5h1M5 19.5h1m6 0h1m5 0h1m4 0h1m1 0h1m3 0h1M19 20.5h1M3 21.5h1m0 0h1m3 0h1m7 0h1m0 0h1M2 22.5h1m15 0h1M3 23.5h1m19 0h1M23 24.5h1m1 0h1M4 25.5h1m16 0h1M7 26.5h1m24 0h1M35 27.5h1M21 28.5h1m5 0h1m4 0h1M15 30.5h1m4 0h1M11 31.5h1M2 32.5h1m14 0h1M2 34.5h1m28 0h1m3 0h1M17 35.5h1M2 36.5h1m18 0h1m1 0h1m1 0h1M18 39.5h1M15 40.5h1M5 41.5h1m4 0h1M16 42.5h1m2 0h1m4 0h1M4 44.5h1M0 46.5h1M1 47.5h1M15 48.5h1M25 49.5h1M14 50.5h1M22 51.5h1M17 52.5h1m10 0h1M27 54.5h1M16 55.5h1M21 57.5h1m8 0h1M9 58.5h1m3 0h1M1 59.5h1M1 60.5h1m14 0h1m4 0h1m8 0h1m0 0h1M12 61.5h1m5 0h1m11 0h1M18 62.5h1M1 63.5h1m15 0h1m6 0h1m10 0h1"/>
<path stroke="#f9fcb5" d="M1 1.5h1m23 0h1m7 0h1m7 0h1M15 2.5h1m18 0h1M42 3.5h1M4 4.5h1m41 0h1M4 6.5h1m13 0h1m8 0h1M6 7.5h1m0 0h1m20 0h1M1 8.5h1m0 0h1m2 0h1m3 0h1m11 0h1M0 9.5h1m22 0h1M13 10.5h1m19 0h1M4 11.5h1m13 0h1M14 13.5h1M11 14.5h1m3 0h1m6 0h1m2 0h1m7 0h1M11 15.5h1m3 0h1M19 16.5h1M12 17.5h1M6 18.5h1m18 0h1M4 19.5h1M9 20.5h1m5 0h1m0 0h1m10 0h1m3 0h1M0 23.5h1M19 24.5h1M0 26.5h1M13 27.5h1m7 0h1m0 0h1m6 0h1m1 0h1M15 28.5h1M26 29.5h1m1 0h1M12 30.5h1m0 0h1m8 0h1M0 31.5h1m1 0h1m9 0h1M15 32.5h1M26 33.5h1m0 0h1M1 34.5h1m3 0h1m18 0h1M24 35.5h1M14 36.5h1M13 37.5h1M14 38.5h1m3 0h1m5 0h1M14 39.5h1m4 0h1m0 0h1M16 40.5h1m1 0h1m1 0h1M7 42.5h1M6 43.5h1M13 44.5h1M1 45.5h1M22 48.5h1M16 50.5h1m8 0h1m1 0h1M13 52.5h1M11 53.5h1m19 0h1M22 55.5h1m0 0h1m0 0h1m5 0h1M5 56.5h1m20 0h1M16 57.5h1m9 0h1M2 59.5h1m10 0h1m0 0h1m20 0h1M5 60.5h1m17 0h1M2 61.5h1m2 0h1m9 0h1m1 0h1m10 0h1M23 62.5h1m3 0h1M21 63.5h1M22 64.5h1"/>
<path stroke="#ffffbf" d="M33 0.5h1M26 1.5h1M2 2.5h1m3 0h1m6 0h1m19 0h1M8 3.5h1m10 0h1m8 0h1M4 5.5h1m6 0h1m5 0h1m0 0h1m4 0h1m3 0h1m15 0h1M20 7.5h1m0 0h1m12 0h1m4 0h1M17 8.5h1m6 0h1M32 9.5h1m8 0h1M1 10.5h1M24 11.5h1M9 12.5h1m13 0h1m11 0h1M1 13.5h1m5 0h1m13 0h1m13 0h1M14 14.5h1M18 15.5h1m22 0h1M2 16.5h1M25 17.5h1M0 18.5h1m2 0h1m23 0h1m6 0h1M7 19.5h1M3 20.5h1M5 21.5h1m17 0h1m4 0h1M5 22.5h1m10 0h1m10 0h1M1 23.5h1m15 0h1m2 0h1m17 0h1M5 24.5h1m14 0h1M19 25.5h1M23 27.5h1m8 0h1M7 28.5h1m21 0h1M7 29.5h1m2 0h1M7 30.5h1M21 31.5h1m1 0h1m2 0h1m13 0h1M14 34.5h1M0 35.5h1m19 0h1m4 0h1M7 36.5h1m14 0h1M10 37.5h1M16 38.5h1m4 0h1M0 39.5h1m22 0h1M27 40.5h1M1 41.5h1m9 0h1M18 42.5h1M2 43.5h1m0 0h1m4 0h1M0 47.5h1M11 50.5h1m1 0h1m5 0h1m6 0h1M0 51.5h1M27 52.5h1M21 54.5h1m4 0h1m1 0h1m0 0h1M6 55.5h1m3 0h1m20 0h1M29 56.5h1m5 0h1M0 57.5h1m1 0h1m8 0h1m1 0h1M28 58.5h1m2 0h1m2 0h1M3 59.5h1m21 0h1m0 0h1m6 0h1M8 60.5h1m24 0h1M27 61.5h1m10 0h1M3 62.5h1m0 0h1m11 0h1m16 0h1M2 63.5h1m1 0h1m6 0h1"/>
<path stroke="#fff7b2" d="M32 1.5h1M3 2.5h1m13 0h1m14 0h1M0 3.5h1m11 0h1m27 0h1m2 0h1M5 6.5h1m32 0h1M4 7.5h1m30 0h1M39 8.5h1M18 9.5h1M32 10.5h1m5 0h1M36 11.5h1M12 12.5h1m12 0h1M2 13.5h1M17 14.5h1M14 15.5h1m8 0h1m1 0h1M1 16.5h1M21 17.5h1m2 0h1m7 0h1m3 0h1M24 18.5h1M24 20.5h1M21 21.5h1M3 22.5h1m30 0h1M8 23.5h1m24 0h1M6 24.5h1m8 0h1m6 0h1M9 25.5h1m22 0h1m11 0h1M10 26.5h1m9 0h1m0 0h1M17 27.5h1m12 0h1M9 28.5h1m7 0h1m4 0h1M33 29.5h1m5 0h1M8 30.5h1m0 0h1M9 31.5h1m0 0h1M9 32.5h1m8 0h1m3 0h1m5 0h1M6 33.5h1m13 0h1M20 34.5h1M2 35.5h1m12 0h1M0 36.5h1m19 0h1M25 38.5h1M1 39.5h1M2 40.5h1m11 0h1m7 0h1M7 41.5h1M17 43.5h1m0 0h1M20 44.5h1M16 49.5h1M18 51.5h1m12 0h1M16 52.5h1m15 0h1M18 54.5h1M2 55.5h1m1 0h1m20 0h1M5 57.5h1m29 0h1M0 58.5h1m0 0h1m16 0h1m14 0h1M4 59.5h1M19 60.5h1m17 0h1M22 61.5h1M14 62.5h1m10 0h1M14 63.5h1m1 0h1m17 0h1M10 64.5h1m3 0h1"/>
<path stroke="#fef0a5" d="M4 0.5h1m19 0h1M10 1.5h1m13 0h1M4 2.5h1m2 0h1m0 0h1M34 3.5h1m3 0h1M7 4.5h1m8 0h1m2 0h1m6 0h1m22 0h1M2 5.5h1m6 0h1m4 0h1m14 0h1M1 7.5h1m0 0h1M28 8.5h1m0 0h1m16 0h1M19 9.5h1m19 0h1M15 10.5h1m11 0h1m11 0h1m3 0h1M0 11.5h1m29 0h1m12 0h1M0 12.5h1m4 0h1m14 0h1m15 0h1M17 13.5h1M0 14.5h1m1 0h1m35 0h1M36 15.5h1m2 0h1M17 16.5h1m0 0h1m8 0h1M40 17.5h1M8 18.5h1m7 0h1M16 19.5h1m9 0h1m4 0h1M4 20.5h1m25 0h1M15 21.5h1m17 0h1m1 0h1m7 0h1M24 23.5h1M2 25.5h1M3 26.5h1m2 0h1m7 0h1m28 0h1M25 27.5h1m8 0h1M13 28.5h1m16 0h1m0 0h1M4 29.5h1m3 0h1m15 0h1m9 0h1M32 30.5h1M36 31.5h1M31 32.5h1M11 33.5h1m3 0h1M18 34.5h1m8 0h1M1 35.5h1m28 0h1M19 36.5h1m8 0h1M9 37.5h1m2 0h1M12 38.5h1m0 0h1m12 0h1M1 40.5h1m21 0h1m4 0h1M6 42.5h1m13 0h1M9 44.5h1M16 45.5h1M19 47.5h1M17 48.5h1M12 49.5h1M28 50.5h1M11 52.5h1M10 53.5h1m2 0h1m11 0h1m4 0h1M14 54.5h1M18 55.5h1M18 57.5h1m13 0h1M2 58.5h1m7 0h1m10 0h1M7 59.5h1m12 0h1M14 60.5h1M10 61.5h1M7 62.5h1M29 63.5h1m2 0h1M9 64.5h1m1 0h1"/>
<path stroke="#fee898" d="M11 1.5h1m1 0h1M16 2.5h1m7 0h1M1 3.5h1m14 0h1m7 0h1M0 5.5h1m43 0h1M7 6.5h1m13 0h1M0 7.5h1m2 0h1m14 0h1m3 0h1M1 9.5h1m0 0h1M7 10.5h1m28 0h1M19 11.5h1m0 0h1m16 0h1M16 12.5h1M13 13.5h1m10 0h1M0 15.5h1M37 16.5h1M5 18.5h1m20 0h1M0 19.5h1M23 20.5h1m2 0h1M24 21.5h1m4 0h1m1 0h1M31 22.5h1m0 0h1m5 0h1M22 23.5h1m2 0h1M13 24.5h1M20 25.5h1m3 0h1m17 0h1M16 26.5h1m19 0h1M1 27.5h1M0 28.5h1m25 0h1M5 30.5h1m5 0h1m5 0h1m25 0h1M4 31.5h1m22 0h1m15 0h1M1 32.5h1m2 0h1m11 0h1m13 0h1M9 33.5h1m9 0h1m1 0h1M39 34.5h1M28 35.5h1M41 36.5h1M28 37.5h1M1 38.5h1M6 39.5h1m3 0h1M7 40.5h1M0 42.5h1m1 0h1m2 0h1M4 43.5h1M0 44.5h1m9 0h1M10 45.5h1M30 46.5h1M18 47.5h1M13 49.5h1M12 51.5h1m1 0h1M23 52.5h1m2 0h1m2 0h1m0 0h1M14 53.5h1m4 0h1m2 0h1m0 0h1M5 54.5h1m10 0h1M34 56.5h1M3 57.5h1m3 0h1m25 0h1M5 59.5h1M35 60.5h1M39 61.5h1M5 62.5h1m29 0h1M13 63.5h1"/>
<path stroke="#fee08b" d="M5 1.5h1m1 0h1m0 0h1M18 2.5h1m8 0h1m17 0h1M15 3.5h1M13 4.5h1M22 6.5h1m21 0h1M13 7.5h1M7 8.5h1m11 0h1m21 0h1m3 0h1M3 9.5h1m0 0h1m5 0h1m6 0h1m3 0h1m11 0h1m4 0h1m7 0h1M20 10.5h1M27 11.5h1M3 13.5h1M27 14.5h1M17 15.5h1M28 16.5h1m5 0h1M4 17.5h1M3 19.5h1m20 0h1m12 0h1M5 20.5h1m11 0h1M26 22.5h1m9 0h1M46 23.5h1M30 24.5h1m3 0h1M3 25.5h1m14 0h1m3 0h1m5 0h1m1 0h1m2 0h1m0 0h1M5 26.5h1m21 0h1M3 27.5h1M16 28.5h1m8 0h1m2 0h1M14 29.5h1m0 0h1m0 0h1m2 0h1m0 0h1m15 0h1M24 30.5h1m5 0h1M1 31.5h1M10 32.5h1m14 0h1m6 0h1M2 33.5h1M29 34.5h1m19 0h1M6 36.5h1m4 0h1m14 0h1m24 0h1M0 37.5h1M11 38.5h1M15 39.5h1m31 0h1M3 40.5h1m21 0h1M17 42.5h1M0 43.5h1m12 0h1m1 0h1M15 44.5h1m10 0h1M1 46.5h1m1 0h1M4 48.5h1M0 50.5h1M21 51.5h1m10 0h1M14 52.5h1M27 53.5h1m0 0h1M17 54.5h1m18 0h1M0 55.5h1m14 0h1m10 0h1M0 56.5h1m7 0h1m0 0h1m18 0h1m1 0h1M31 57.5h1M27 58.5h1M9 59.5h1M39 60.5h1M32 61.5h1m0 0h1M15 62.5h1m12 0h1M10 63.5h1m9 0h1m4 0h1M23 64.5h1"/>
<path stroke="#fed480" d="M8 0.5h1M2 1.5h1m28 0h1m8 0h1M10 2.5h1m17 0h1m13 0h1M49 3.5h1M3 4.5h1m7 0h1M7 5.5h1m37 0h1M8 6.5h1m11 0h1M9 7.5h1M3 8.5h1m38 0h1M16 9.5h1M5 10.5h1m20 0h1M17 11.5h1m15 0h1M22 12.5h1m5 0h1M20 13.5h1M23 14.5h1m4 0h1M22 15.5h1m1 0h1M16 16.5h1M28 17.5h1m6 0h1m1 0h1m0 0h1M41 18.5h1M15 19.5h1m12 0h1M35 20.5h1M21 22.5h1M37 24.5h1m0 0h1M29 26.5h1m1 0h1M15 27.5h1m11 0h1m0 0h1m10 0h1m6 0h1M1 28.5h1M12 29.5h1m4 0h1m5 0h1m11 0h1M14 30.5h1m11 0h1M0 33.5h1m21 0h1m7 0h1M0 34.5h1M7 35.5h1m14 0h1m0 0h1M27 36.5h1M6 37.5h1m14 0h1m25 0h1M5 38.5h1m4 0h1m17 0h1M5 39.5h1m19 0h1m1 0h1M20 41.5h1M12 42.5h1M25 43.5h1M3 44.5h1M4 45.5h1m4 0h1m9 0h1m4 0h1M4 46.5h1M26 48.5h1M15 49.5h1m17 0h1M21 50.5h1m7 0h1m1 0h1M2 51.5h1m14 0h1m1 0h1m7 0h1m7 0h1M20 52.5h1m1 0h1m8 0h1M5 53.5h1m27 0h1m5 0h1M7 54.5h1m4 0h1m17 0h1M8 55.5h1m20 0h1M14 56.5h1m22 0h1M24 58.5h1M37 59.5h1M2 60.5h1m1 0h1m4 0h1M3 61.5h1M9 63.5h1m13 0h1"/>
<path stroke="#fec776" d="M12 0.5h1m28 0h1M12 2.5h1M2 3.5h1m26 0h1M17 4.5h1M6 5.5h1m9 0h1m20 0h1M15 6.5h1m19 0h1M43 7.5h1M4 8.5h1m35 0h1M30 9.5h1m14 0h1M23 11.5h1M27 12.5h1M36 13.5h1M3 14.5h1m1 0h1m25 0h1M28 15.5h1M35 16.5h1m2 0h1M32 18.5h1M35 19.5h1M9 21.5h1m15 0h1m1 0h1m2 0h1m1 0h1M26 23.5h1M8 24.5h1m17 0h1M45 25.5h1M17 26.5h1m0 0h1m7 0h1M10 27.5h1m15 0h1M4 28.5h1m14 0h1m17 0h1M45 29.5h1M3 30.5h1m2 0h1M14 31.5h1m15 0h1M3 32.5h1m1 0h1m13 0h1M28 34.5h1m1 0h1M19 35.5h1m7 0h1M10 36.5h1m35 0h1M8 37.5h1m36 0h1m9 0h1M17 38.5h1M6 40.5h1M11 42.5h1M1 43.5h1M25 45.5h1M19 46.5h1m1 0h1m3 0h1M12 47.5h1M29 48.5h1M1 49.5h1m15 0h1m14 0h1M3 51.5h1m16 0h1m4 0h1m0 0h1m3 0h1m6 0h1M21 52.5h1M0 53.5h1m6 0h1m0 0h1m0 0h1m26 0h1M0 54.5h1m24 0h1M1 55.5h1m33 0h1m0 0h1M18 56.5h1m4 0h1m7 0h1m7 0h1M4 57.5h1M3 58.5h1m0 0h1m2 0h1m4 0h1m17 0h1m1 0h1m2 0h1M34 59.5h1M14 61.5h1M1 62.5h1M36 63.5h1M3 64.5h1m30 0h1"/>
<path stroke="#fdba6c" d="M18 3.5h1m17 0h1M2 4.5h1m20 0h1m14 0h1m9 0h1M21 5.5h1m18 0h1m5 0h1M6 6.5h1M27 8.5h1m16 0h1M35 10.5h1m4 0h1m4 0h1M9 11.5h1m29 0h1M1 12.5h1m1 0h1M22 13.5h1M26 15.5h1M36 16.5h1M25 20.5h1m11 0h1M2 21.5h1M0 22.5h1m23 0h1m8 0h1M31 23.5h1m3 0h1M27 24.5h1m0 0h1M29 25.5h1M2 26.5h1M18 28.5h1M0 29.5h1m1 0h1m10 0h1M16 30.5h1m1 0h1m0 0h1m13 0h1M29 31.5h1M13 32.5h1m32 0h1M39 33.5h1M3 34.5h1m9 0h1m1 0h1m16 0h1M18 35.5h1m21 0h1m8 0h1M5 36.5h1m6 0h1M11 37.5h1m10 0h1m1 0h1m1 0h1M9 38.5h1m13 0h1M7 39.5h1m3 0h1m17 0h1M47 40.5h1M23 41.5h1M10 42.5h1M20 43.5h1M18 44.5h1M11 45.5h1m6 0h1M15 46.5h1m11 0h1M30 47.5h1M1 48.5h1m0 0h1m9 0h1m5 0h1m6 0h1M19 49.5h1m4 0h1M1 51.5h1m8 0h1m5 0h1m7 0h1m9 0h1M35 52.5h1M21 53.5h1M33 54.5h1m0 0h1M3 55.5h1m33 0h1M22 56.5h1m15 0h1M27 57.5h1M36 58.5h1M17 59.5h1M6 60.5h1M23 61.5h1m10 0h1M24 62.5h1M3 63.5h1"/>
<path stroke="#fdae61" d="M2 0.5h1M6 1.5h1M0 2.5h1m0 0h1M5 3.5h1M47 4.5h1M33 6.5h1m12 0h1M29 9.5h1M0 10.5h1m3 0h1m39 0h1M2 11.5h1m0 0h1M5 13.5h1m24 0h1M8 16.5h1M23 17.5h1M2 20.5h1m26 0h1m2 0h1m1 0h1M30 22.5h1M19 23.5h1m7 0h1m19 0h1M0 24.5h1m28 0h1m6 0h1m5 0h1M5 25.5h1m4 0h1m25 0h1m0 0h1M33 26.5h1m4 0h1m10 0h1M7 27.5h1m25 0h1m13 0h1M33 28.5h1m0 0h1m3 0h1M30 29.5h1m9 0h1M16 31.5h1m1 0h1m5 0h1m3 0h1m3 0h1M20 32.5h1m3 0h1M6 34.5h1m9 0h1M13 35.5h1m2 0h1m12 0h1M35 36.5h1M8 38.5h1m11 0h1M8 39.5h1m4 0h1m10 0h1M4 40.5h1M5 43.5h1m13 0h1M17 45.5h1M16 47.5h1M0 48.5h1m2 0h1m12 0h1m2 0h1m7 0h1M14 49.5h1m5 0h1M17 50.5h1M28 51.5h1M3 52.5h1m30 0h1M1 54.5h1m22 0h1m10 0h1M4 56.5h1m20 0h1M1 57.5h1m21 0h1m4 0h1M20 58.5h1M26 60.5h1m1 0h1m0 0h1M35 61.5h1M0 62.5h1m36 0h1M30 63.5h1"/>
<path stroke="#fb9e5a" d="M13 3.5h1m31 0h1M20 4.5h1m29 0h1M19 5.5h1M47 7.5h1M6 8.5h1M1 11.5h1m32 0h1M4 12.5h1m1 0h1m8 0h1m21 0h1M0 13.5h1M30 14.5h1M34 15.5h1m2 0h1M33 16.5h1m6 0h1M2 17.5h1m23 0h1M32 19.5h1m7 0h1m1 0h1M19 22.5h1m22 0h1M34 23.5h1m9 0h1M44 24.5h1M38 25.5h1M40 27.5h1M8 28.5h1M40 30.5h1m6 0h1M31 31.5h1m16 0h1M29 33.5h1m1 0h1m1 0h1m3 0h1m4 0h1M42 34.5h1M37 35.5h1M31 36.5h1M23 37.5h1M33 38.5h1M4 39.5h1m4 0h1m18 0h1M30 40.5h1m1 0h1m25 0h1M4 41.5h1m20 0h1M8 44.5h1m12 0h1M3 45.5h1M24 48.5h1M27 49.5h1M12 50.5h1m7 0h1m3 0h1m5 0h1m1 0h1M5 51.5h1m5 0h1M0 52.5h1m23 0h1M37 53.5h1M10 54.5h1m2 0h1M13 55.5h1M2 56.5h1m8 0h1m0 0h1M37 57.5h1M22 60.5h1m11 0h1M0 61.5h1M36 62.5h1m1 0h1M8 63.5h1m28 0h1"/>
<path stroke="#f88e52" d="M14 1.5h1M23 3.5h1M28 4.5h1M5 5.5h1M2 6.5h1M45 7.5h1M8 8.5h1M5 9.5h1m29 0h1M22 11.5h1m15 0h1M38 13.5h1m2 0h1M1 15.5h1m30 0h1M1 18.5h1m37 0h1M38 19.5h1M45 21.5h1M29 23.5h1m20 0h1M22 26.5h1m25 0h1M12 27.5h1m1 0h1m22 0h1M10 30.5h1m24 0h1M33 31.5h1M8 32.5h1m28 0h1M10 33.5h1m33 0h1m2 0h1M9 34.5h1M9 35.5h1m54 0h1M29 36.5h1m0 0h1m27 0h1M52 37.5h1M52 38.5h1m4 0h1M43 40.5h1M14 41.5h1M7 43.5h1M5 44.5h1M46 45.5h1M23 46.5h1M14 47.5h1m5 0h1M5 48.5h1m7 0h1m0 0h1m16 0h1m0 0h1m31 0h1M28 49.5h1M33 51.5h1M2 52.5h1m7 0h1M2 53.5h1M4 54.5h1M38 55.5h1M24 56.5h1M29 57.5h1M5 58.5h1M17 60.5h1"/>
<path stroke="#f67d4a" d="M12 1.5h1m10 0h1M17 3.5h1m29 0h1M20 5.5h1m26 0h1M38 8.5h1M5 11.5h1M7 14.5h1m26 0h1m5 0h1M33 15.5h1M35 18.5h1M39 19.5h1M26 21.5h1m13 0h1m0 0h1m2 0h1M20 22.5h1m2 0h1m1 0h1m11 0h1M32 23.5h1m4 0h1m3 0h1m1 0h1M33 24.5h1m11 0h1m4 0h1M39 25.5h1M29 29.5h1m7 0h1m0 0h1m7 0h1M1 30.5h1m23 0h1M46 31.5h1m12 0h1M26 32.5h1m6 0h1M18 33.5h1m17 0h1m8 0h1M11 34.5h1m31 0h1M12 35.5h1m19 0h1M36 36.5h1M5 37.5h1m26 0h1m11 0h1M43 38.5h1M26 39.5h1M9 40.5h1m16 0h1m2 0h1m10 0h1m5 0h1M29 41.5h1m9 0h1m10 0h1M3 42.5h1m51 0h1m4 0h1M9 43.5h1m12 0h1M25 44.5h1M8 45.5h1m17 0h1m1 0h1m5 0h1M17 46.5h1M31 47.5h1M28 48.5h1M3 49.5h1m14 0h1m11 0h1m3 0h1M2 50.5h1m12 0h1m17 0h1m2 0h1M23 51.5h1M18 52.5h1M1 53.5h1m33 0h1M37 54.5h1m1 0h1m1 0h1M40 55.5h1M7 56.5h1m25 0h1M36 57.5h1M6 59.5h1m9 0h1m6 0h1m12 0h1"/>
<path stroke="#f46d43" d="M4 1.5h1M22 3.5h1m25 0h1M45 6.5h1m2 0h1M46 7.5h1M44 9.5h1M46 11.5h1M4 13.5h1m51 0h1M59 15.5h1M41 17.5h1M36 18.5h1M33 19.5h1M0 20.5h1m0 0h1m31 0h1M57 21.5h1M44 22.5h1m1 0h1M45 23.5h1m2 0h1m0 0h1M3 24.5h1m28 0h1m10 0h1m7 0h1M40 25.5h1M44 26.5h1M19 27.5h1M40 28.5h1m0 0h1m0 0h1M44 29.5h1M38 30.5h1M7 31.5h1m27 0h1m29 0h1M11 32.5h1m0 0h1m21 0h1m6 0h1m6 0h1M38 33.5h1m4 0h1m8 0h1M7 34.5h1m44 0h1M6 35.5h1m44 0h1M32 36.5h1m14 0h1m1 0h1M34 37.5h1M6 38.5h1m22 0h1m5 0h1M35 40.5h1m6 0h1M27 41.5h1m2 0h1m0 0h1m11 0h1m1 0h1m13 0h1M54 42.5h1M29 43.5h1M17 44.5h1M2 45.5h1M22 46.5h1M22 47.5h1M10 48.5h1m9 0h1M22 50.5h1m14 0h1m2 0h1M6 52.5h1M42 53.5h1M6 54.5h1m24 0h1m0 0h1m5 0h1M1 56.5h1M14 57.5h1m25 0h1M0 59.5h1m26 0h1M37 61.5h1M33 63.5h1"/>
<path stroke="#ec6146" d="M20 3.5h1M48 5.5h1m0 0h1m0 0h1m8 0h1M51 8.5h1M47 9.5h1m17 0h1M46 10.5h1M35 11.5h1M21 12.5h1m17 0h1m2 0h1M38 15.5h1m32 0h1M45 17.5h1M40 18.5h1m30 0h1M42 20.5h1m26 0h1M0 21.5h1m35 0h1m10 0h1M1 22.5h1m26 0h1m0 0h1m5 0h1m3 0h1m0 0h1m19 0h1M42 23.5h1M31 24.5h1m9 0h1m7 0h1M27 25.5h1m7 0h1M30 26.5h1m3 0h1M36 27.5h1m11 0h1m2 0h1M35 28.5h1M27 29.5h1m14 0h1M45 30.5h1m10 0h1m7 0h1M39 31.5h1m4 0h1m12 0h1m0 0h1M39 32.5h1m3 0h1m9 0h1M8 33.5h1m19 0h1m3 0h1m2 0h1m17 0h1M51 34.5h1m7 0h1m10 0h1M11 35.5h1m27 0h1m5 0h1m15 0h1M44 36.5h1M2 37.5h1m22 0h1m4 0h1m8 0h1m0 0h1m5 0h1m4 0h1m1 0h1M49 38.5h1m3 0h1M42 39.5h1m3 0h1M31 40.5h1m1 0h1m0 0h1M54 41.5h1M22 42.5h1m4 0h1M2 44.5h1m27 0h1m20 0h1M14 45.5h1M18 46.5h1m1 0h1m32 0h1M6 47.5h1m2 0h1m3 0h1m1 0h1M6 48.5h1m14 0h1m40 0h1M0 49.5h1m20 0h1m28 0h1M3 50.5h1m1 0h1m28 0h1M5 52.5h1m27 0h1m2 0h1m0 0h1m2 0h1m29 0h1M6 53.5h1m27 0h1M3 54.5h1M5 55.5h1m26 0h1M3 56.5h1m37 0h1M10 57.5h1M37 58.5h1M36 60.5h1"/>
<path stroke="#e45649" d="M63 0.5h1M63 1.5h1M65 5.5h1M47 6.5h1m3 0h1m2 0h1M48 7.5h1m21 0h1M49 8.5h1M47 10.5h1M41 11.5h1M34 12.5h1m28 0h1M44 13.5h1M35 14.5h1m7 0h1m11 0h1M21 15.5h1M37 18.5h1m32 0h1M44 19.5h1m12 0h1m4 0h1M40 20.5h1m8 0h1M51 21.5h1M36 23.5h1M40 24.5h1m12 0h1m5 0h1M43 25.5h1m5 0h1m9 0h1M13 26.5h1m28 0h1m21 0h1m3 0h1M38 27.5h1m2 0h1m2 0h1m14 0h1M45 28.5h1m3 0h1m13 0h1M18 29.5h1m28 0h1M27 30.5h1m6 0h1M6 32.5h1m37 0h1m0 0h1M46 33.5h1m4 0h1m5 0h1m0 0h1M12 34.5h1m20 0h1m7 0h1m21 0h1m5 0h1M65 35.5h1M53 36.5h1m12 0h1M56 37.5h1M31 38.5h1m5 0h1m2 0h1m4 0h1m0 0h1m8 0h1M30 39.5h1m26 0h1M54 40.5h1m4 0h1M24 41.5h1m3 0h1m6 0h1m34 0h1M41 42.5h1m0 0h1m21 0h1M27 43.5h1m0 0h1m9 0h1m0 0h1m27 0h1M16 44.5h1M5 45.5h1m1 0h1m15 0h1m9 0h1m22 0h1M16 46.5h1m24 0h1m9 0h1M4 47.5h1m12 0h1m8 0h1m2 0h1m5 0h1M22 49.5h1m3 0h1m13 0h1m29 0h1M35 50.5h1M62 51.5h1M4 52.5h1m20 0h1m16 0h1m12 0h1m15 0h1M66 54.5h1M34 55.5h1M45 57.5h1M59 58.5h1M40 59.5h1M38 60.5h1m2 0h1M36 61.5h1m26 0h1"/>
<path stroke="#dd4a4c" d="M64 0.5h1M68 1.5h1M57 3.5h1M53 4.5h1m0 0h1m10 0h1M3 5.5h1m47 0h1M50 6.5h1m2 0h1M68 9.5h1M41 10.5h1M42 11.5h1m14 0h1m9 0h1m1 0h1M13 12.5h1m29 0h1m4 0h1m12 0h1M37 13.5h1m10 0h1m10 0h1m3 0h1M39 14.5h1m2 0h1m25 0h1M35 15.5h1m4 0h1m1 0h1m5 0h1M60 16.5h1m9 0h1M50 17.5h1m7 0h1M53 19.5h1M47 20.5h1m2 0h1M37 21.5h1m24 0h1M48 22.5h1m4 0h1M55 23.5h1m8 0h1M48 25.5h1M60 27.5h1M20 28.5h1m23 0h1m1 0h1m1 0h1m17 0h1M31 29.5h1m29 0h1M29 30.5h1m1 0h1m28 0h1M35 32.5h1m14 0h1m5 0h1m0 0h1m7 0h1M37 34.5h1m33 0h1M44 35.5h1m5 0h1M8 36.5h1m24 0h1m0 0h1m8 0h1m8 0h1m6 0h1M3 37.5h1m23 0h1m8 0h1m1 0h1m3 0h1M2 38.5h1M31 39.5h1m5 0h1m1 0h1m4 0h1m20 0h1M36 40.5h1m18 0h1m5 0h1M26 41.5h1m6 0h1M25 42.5h1M10 43.5h1m10 0h1m1 0h1m22 0h1m15 0h1M24 44.5h1m2 0h1m25 0h1m2 0h1M29 45.5h1m5 0h1m2 0h1m1 0h1m9 0h1m0 0h1m2 0h1M10 46.5h1m3 0h1m11 0h1m18 0h1M23 47.5h1m3 0h1m6 0h1M9 48.5h1M2 49.5h1m26 0h1m1 0h1M1 50.5h1m7 0h1m0 0h1m31 0h1m4 0h1m2 0h1m10 0h1m2 0h1M56 51.5h1m2 0h1M8 52.5h1m60 0h1M55 53.5h1M51 54.5h1m0 0h1m10 0h1M41 55.5h1m2 0h1m12 0h1M40 56.5h1m27 0h1M58 58.5h1M58 59.5h1m8 0h1m0 0h1M40 61.5h1"/>
<path stroke="#d53e4f" d="M60 2.5h1m7 0h1M21 3.5h1m28 0h1M57 5.5h1m0 0h1M56 6.5h1m7 0h1M55 7.5h1M20 8.5h1m43 0h1M42 9.5h1m10 0h1M3 10.5h1M44 11.5h1M70 12.5h1M43 15.5h1m14 0h1m8 0h1M49 16.5h1m14 0h1m2 0h1M51 18.5h1m1 0h1M50 19.5h1M41 20.5h1m1 0h1M38 21.5h1m26 0h1M47 22.5h1m4 0h1m10 0h1M54 23.5h1m3 0h1m6 0h1m4 0h1M48 24.5h1M63 26.5h1M43 27.5h1m21 0h1m1 0h1M36 28.5h1m23 0h1M32 29.5h1M36 30.5h1m4 0h1m10 0h1m15 0h1m2 0h1M37 31.5h1m26 0h1M36 32.5h1m1 0h1m3 0h1m4 0h1m1 0h1m10 0h1m0 0h1m1 0h1M41 33.5h1m7 0h1m15 0h1M36 34.5h1m9 0h1m1 0h1m13 0h1m1 0h1M10 35.5h1m20 0h1m1 0h1m4 0h1m13 0h1m1 0h1m5 0h1m2 0h1M42 36.5h1m13 0h1m0 0h1m6 0h1m3 0h1M43 37.5h1m5 0h1M58 38.5h1m2 0h1m4 0h1M32 39.5h1M24 40.5h1m26 0h1M37 41.5h1m9 0h1m10 0h1M44 43.5h1m19 0h1M11 44.5h1m0 0h1m1 0h1m27 0h1m11 0h1m0 0h1M6 45.5h1m8 0h1m4 0h1m0 0h1m21 0h1m14 0h1M9 46.5h1m1 0h1m23 0h1m10 0h1m5 0h1m16 0h1M25 47.5h1m15 0h1m5 0h1m2 0h1m11 0h1M35 48.5h1M6 49.5h1m2 0h1m1 0h1m25 0h1m7 0h1m1 0h1M44 50.5h1m10 0h1m6 0h1M8 51.5h1m4 0h1m28 0h1m18 0h1m6 0h1M7 52.5h1m50 0h1m2 0h1m0 0h1M41 53.5h1m7 0h1m14 0h1M43 54.5h1m5 0h1M42 55.5h1m8 0h1m18 0h1M36 56.5h1m30 0h1M34 57.5h1m4 0h1m19 0h1m4 0h1M69 60.5h1M29 62.5h1"/>
<path stroke="#c72f4c" d="M62 1.5h1M67 2.5h1m1 0h1M60 3.5h1m1 0h1m5 0h1M59 4.5h1m2 0h1m0 0h1M57 6.5h1M5 7.5h1m43 0h1m3 0h1M59 8.5h1m1 0h1M15 9.5h1m18 0h1M48 10.5h1M54 11.5h1M42 13.5h1m7 0h1m18 0h1m0 0h1M37 14.5h1m11 0h1m9 0h1m9 0h1M41 16.5h1m17 0h1M39 17.5h1m6 0h1m2 0h1m16 0h1M65 18.5h1m1 0h1M34 19.5h1m14 0h1m16 0h1m1 0h1M38 20.5h1m18 0h1m6 0h1m5 0h1M49 21.5h1m10 0h1m5 0h1M49 22.5h1m0 0h1m3 0h1m2 0h1m7 0h1M28 23.5h1m1 0h1m25 0h1m4 0h1m1 0h1M54 24.5h1M52 25.5h1m15 0h1m2 0h1M47 26.5h1m9 0h1m0 0h1M42 27.5h1m2 0h1m3 0h1m8 0h1m2 0h1m0 0h1M67 28.5h1M48 29.5h1m0 0h1m14 0h1m3 0h1M54 30.5h1m0 0h1m7 0h1m1 0h1M42 31.5h1m13 0h1m4 0h1M55 32.5h1M7 33.5h1m4 0h1m43 0h1m2 0h1m1 0h1m0 0h1m8 0h1M10 34.5h1m12 0h1m20 0h1m0 0h1m7 0h1m3 0h1M8 35.5h1m25 0h1m0 0h1m17 0h1m3 0h1M45 36.5h1m8 0h1M50 37.5h1m6 0h1m1 0h1M32 38.5h1m8 0h1m5 0h1m8 0h1M34 39.5h1m6 0h1m1 0h1m1 0h1m10 0h1m13 0h1M39 40.5h1m5 0h1M36 41.5h1m3 0h1m1 0h1m14 0h1m7 0h1M29 42.5h1m6 0h1m1 0h1m4 0h1m1 0h1m1 0h1m8 0h1m2 0h1m5 0h1m3 0h1M24 43.5h1m6 0h1m0 0h1m3 0h1m4 0h1m1 0h1m11 0h1m3 0h1M19 44.5h1m9 0h1m3 0h1m3 0h1m5 0h1m5 0h1m8 0h1m0 0h1m0 0h1M42 45.5h1m21 0h1M2 46.5h1m2 0h1m34 0h1m14 0h1M5 47.5h1m39 0h1m3 0h1m3 0h1m4 0h1m4 0h1m0 0h1m4 0h1M11 48.5h1m11 0h1m10 0h1m1 0h1m5 0h1m4 0h1m2 0h1m19 0h1M43 49.5h1m2 0h1M39 50.5h1m3 0h1m1 0h1m23 0h1M9 51.5h1m28 0h1m2 0h1m3 0h1m7 0h1m9 0h1M38 52.5h1m0 0h1m5 0h1M4 53.5h1m39 0h1m15 0h1M2 54.5h1m37 0h1m7 0h1m9 0h1m6 0h1m5 0h1M44 56.5h1m6 0h1m2 0h1m9 0h1M56 57.5h1m4 0h1m6 0h1M41 58.5h1m1 0h1m10 0h1M65 59.5h1m4 0h1M66 60.5h1m0 0h1"/>
<path stroke="#ba2048" d="M65 0.5h1m0 0h1M14 2.5h1m44 0h1m2 0h1M61 4.5h1m2 0h1m3 0h1M61 5.5h1M52 6.5h1m6 0h1M50 7.5h1m15 0h1M50 8.5h1m1 0h1M66 9.5h1M49 10.5h1m5 0h1m8 0h1m1 0h1M40 11.5h1m4 0h1m20 0h1M38 12.5h1m5 0h1m10 0h1m4 0h1m1 0h1M45 13.5h1m7 0h1m10 0h1M44 14.5h1m1 0h1m1 0h1m22 0h1M46 15.5h1m2 0h1m3 0h1M46 16.5h1m6 0h1m2 0h1m5 0h1m3 0h1m2 0h1M71 17.5h1M38 18.5h1m4 0h1m1 0h1m2 0h1m10 0h1M58 19.5h1m10 0h1M39 20.5h1m11 0h1m7 0h1m0 0h1m10 0h1M39 21.5h1m18 0h1m4 0h1m0 0h1M43 22.5h1m7 0h1m10 0h1m3 0h1m1 0h1M56 24.5h1m13 0h1M31 25.5h1m14 0h1m9 0h1m4 0h1m0 0h1m0 0h1M28 26.5h1m6 0h1m3 0h1m0 0h1m5 0h1m8 0h1M54 27.5h1M47 28.5h1m17 0h1m2 0h1M43 29.5h1m15 0h1m2 0h1m2 0h1m1 0h1M37 30.5h1m1 0h1m2 0h1m7 0h1M47 31.5h1m7 0h1m7 0h1m2 0h1m2 0h1M52 32.5h1M40 33.5h1m22 0h1M8 34.5h1m51 0h1m4 0h1M48 35.5h1m13 0h1m8 0h1M4 36.5h1m56 0h1M62 37.5h1M36 38.5h1m1 0h1m20 0h1m10 0h1M40 39.5h1m18 0h1M5 40.5h1m47 0h1m2 0h1m0 0h1m7 0h1M46 41.5h1m2 0h1m6 0h1m5 0h1m5 0h1m2 0h1M30 42.5h1m1 0h1m4 0h1m6 0h1m3 0h1m8 0h1m0 0h1M33 43.5h1m3 0h1m12 0h1m1 0h1m1 0h1M6 44.5h1m16 0h1m8 0h1m1 0h1m1 0h1M36 45.5h1m0 0h1m7 0h1m1 0h1m4 0h1m7 0h1m5 0h1M31 46.5h1m1 0h1m2 0h1m11 0h1m5 0h1M2 47.5h1m0 0h1m4 0h1m12 0h1m18 0h1m1 0h1m8 0h1m0 0h1m1 0h1m16 0h1M30 48.5h1m21 0h1m1 0h1m0 0h1m2 0h1m0 0h1m0 0h1M5 49.5h1m1 0h1m28 0h1m12 0h1m3 0h1m1 0h1m1 0h1m1 0h1m4 0h1m3 0h1M46 50.5h1m21 0h1M7 51.5h1m31 0h1m0 0h1M9 52.5h1m47 0h1m5 0h1M46 53.5h1m0 0h1m4 0h1m1 0h1M44 54.5h1m15 0h1m8 0h1M39 55.5h1m3 0h1M42 56.5h1m0 0h1m15 0h1m5 0h1m4 0h1M38 57.5h1m5 0h1m18 0h1m6 0h1M65 58.5h1m2 0h1m2 0h1M57 59.5h1m1 0h1m11 0h1M2 62.5h1"/>
<path stroke="#ac1045" d="M58 2.5h1m5 0h1m1 0h1M59 3.5h1m5 0h1m1 0h1m1 0h1M58 4.5h1m12 0h1M22 5.5h1m37 0h1M55 6.5h1m6 0h1m5 0h1M54 7.5h1m6 0h1m3 0h1M53 8.5h1m0 0h1m1 0h1m1 0h1m11 0h1M48 9.5h1m3 0h1m4 0h1m6 0h1m2 0h1M51 10.5h1m11 0h1M64 11.5h1M50 12.5h1m0 0h1m5 0h1m6 0h1M68 13.5h1M41 14.5h1m14 0h1m6 0h1m1 0h1M52 15.5h1m9 0h1m2 0h1M58 16.5h1m2 0h1M48 17.5h1m8 0h1m7 0h1m3 0h1M44 18.5h1m9 0h1m9 0h1M41 19.5h1m6 0h1m12 0h1M36 20.5h1m15 0h1m10 0h1m1 0h1m1 0h1M48 21.5h1m1 0h1m1 0h1m2 0h1m3 0h1m7 0h1m0 0h1M45 22.5h1m10 0h1m14 0h1M40 23.5h1m18 0h1m11 0h1M39 24.5h1m6 0h1m8 0h1m2 0h1m2 0h1m1 0h1m1 0h1m0 0h1m4 0h1M50 25.5h1m0 0h1m5 0h1M54 26.5h1m4 0h1M50 27.5h1M43 28.5h1m7 0h1M50 29.5h1m2 0h1m0 0h1M23 30.5h1m22 0h1m2 0h1m8 0h1m8 0h1m2 0h1M38 31.5h1m12 0h1m0 0h1m14 0h1M40 32.5h1m28 0h1M34 33.5h1m13 0h1m5 0h1M38 34.5h1m11 0h1m7 0h1M36 35.5h1m4 0h1m4 0h1m11 0h1M37 36.5h1m2 0h1m9 0h1M33 37.5h1m20 0h1m6 0h1m1 0h1m4 0h1M39 38.5h1m11 0h1m8 0h1m3 0h1M36 39.5h1m12 0h1m14 0h1m6 0h1M68 40.5h1m0 0h1m1 0h1M32 41.5h1m15 0h1m18 0h1M31 42.5h1m1 0h1m5 0h1m23 0h1m4 0h1M40 43.5h1m7 0h1m0 0h1M28 44.5h1m6 0h1m2 0h1m1 0h1m3 0h1m1 0h1m10 0h1m3 0h1m1 0h1M27 45.5h1m16 0h1m12 0h1m13 0h1M8 46.5h1m3 0h1m11 0h1m22 0h1m1 0h1m7 0h1m5 0h1m1 0h1M24 47.5h1m3 0h1m7 0h1m7 0h1m10 0h1m0 0h1M8 48.5h1m28 0h1m15 0h1M54 49.5h1m3 0h1m3 0h1m6 0h1M4 50.5h1m53 0h1m6 0h1m5 0h1M4 51.5h1m41 0h1m24 0h1M41 52.5h1m5 0h1m4 0h1m13 0h1M38 53.5h1m1 0h1m2 0h1m9 0h1m3 0h1m1 0h1m2 0h1M47 54.5h1m7 0h1m3 0h1m4 0h1M58 55.5h1m0 0h1m3 0h1M32 56.5h1m17 0h1m1 0h1m7 0h1m0 0h1M41 57.5h1m1 0h1m13 0h1m7 0h1M38 58.5h1m18 0h1M43 59.5h1M63 60.5h1"/>
<path stroke="#9e0142" d="M59 1.5h1m0 0h1m3 0h1m0 0h1m0 0h1m0 0h1M22 2.5h1m38 0h1m1 0h1m1 0h1m4 0h1m0 0h1M54 3.5h1m3 0h1m2 0h1m1 0h1m0 0h1m1 0h1m3 0h1m0 0h1M21 4.5h1m0 0h1m28 0h1m0 0h1m2 0h1m0 0h1m0 0h1m2 0h1m5 0h1m0 0h1m1 0h1m0 0h1M52 5.5h1m0 0h1m0 0h1m0 0h1m0 0h1m5 0h1m0 0h1m0 0h1m1 0h1m0 0h1m0 0h1m0 0h1m0 0h1m0 0h1M49 6.5h1m8 0h1m1 0h1m0 0h1m1 0h1m1 0h1m0 0h1m0 0h1m1 0h1m0 0h1m0 0h1M51 7.5h1m0 0h1m3 0h1m0 0h1m0 0h1m0 0h1m0 0h1m1 0h1m0 0h1m0 0h1m2 0h1m0 0h1m0 0h1m1 0h1M47 8.5h1m0 0h1m6 0h1m1 0h1m2 0h1m1 0h1m0 0h1m1 0h1m0 0h1m0 0h1m0 0h1m0 0h1m1 0h1M43 9.5h1m5 0h1m0 0h1m0 0h1m2 0h1m0 0h1m0 0h1m1 0h1m0 0h1m0 0h1m0 0h1m0 0h1m0 0h1m5 0h1m0 0h1m0 0h1M42 10.5h1m7 0h1m1 0h1m0 0h1m0 0h1m1 0h1m0 0h1m0 0h1m0 0h1m0 0h1m0 0h1m0 0h1m2 0h1m1 0h1m0 0h1m0 0h1m0 0h1m0 0h1M47 11.5h1m0 0h1m0 0h1m0 0h1m0 0h1m0 0h1m0 0h1m1 0h1m0 0h1m1 0h1m0 0h1m0 0h1m0 0h1m0 0h1m0 0h1m1 0h1m2 0h1m1 0h1m0 0h1M40 12.5h1m0 0h1m3 0h1m0 0h1m0 0h1m1 0h1m2 0h1m0 0h1m0 0h1m1 0h1m1 0h1m0 0h1m5 0h1m0 0h1m0 0h1m0 0h1m0 0h1m1 0h1M23 13.5h1m15 0h1m0 0h1m2 0h1m2 0h1m0 0h1m1 0h1m1 0h1m0 0h1m1 0h1m0 0h1m1 0h1m0 0h1m1 0h1m0 0h1m0 0h1m2 0h1m0 0h1m0 0h1m3 0h1M45 14.5h1m1 0h1m2 0h1m0 0h1m0 0h1m0 0h1m0 0h1m2 0h1m0 0h1m1 0h1m0 0h1m0 0h1m1 0h1m1 0h1m0 0h1m2 0h1M44 15.5h1m0 0h1m1 0h1m2 0h1m0 0h1m2 0h1m0 0h1m0 0h1m0 0h1m2 0h1m0 0h1m1 0h1m0 0h1m1 0h1m1 0h1m0 0h1m0 0h1M39 16.5h1m2 0h1m0 0h1m0 0h1m0 0h1m1 0h1m0 0h1m1 0h1m0 0h1m0 0h1m1 0h1m0 0h1m1 0h1m5 0h1m1 0h1m2 0h1m2 0h1M42 17.5h1m0 0h1m0 0h1m2 0h1m3 0h1m0 0h1m0 0h1m0 0h1m0 0h1m0 0h1m2 0h1m0 0h1m0 0h1m0 0h1m0 0h1m0 0h1m2 0h1m0 0h1m1 0h1M42 18.5h1m3 0h1m0 0h1m1 0h1m0 0h1m1 0h1m2 0h1m0 0h1m0 0h1m0 0h1m1 0h1m0 0h1m0 0h1m0 0h1m2 0h1m1 0h1m0 0h1M36 19.5h1m6 0h1m1 0h1m0 0h1m0 0h1m3 0h1m0 0h1m1 0h1m0 0h1m0 0h1m2 0h1m0 0h1m2 0h1m0 0h1m0 0h1m1 0h1m2 0h1m0 0h1M44 20.5h1m0 0h1m0 0h1m1 0h1m4 0h1m0 0h1m0 0h1m0 0h1m1 0h1m2 0h1m0 0h1m3 0h1m1 0h1M1 21.5h1m40 0h1m3 0h1m6 0h1m0 0h1m1 0h1m4 0h1m7 0h1m0 0h1m0 0h1M41 22.5h1m13 0h1m2 0h1m0 0h1m1 0h1m2 0h1m2 0h1m1 0h1m0 0h1M39 23.5h1m11 0h1m0 0h1m0 0h1m3 0h1m2 0h1m1 0h1m3 0h1m0 0h1m0 0h1m0 0h1M47 24.5h1m4 0h1m4 0h1m2 0h1m1 0h1m1 0h1m2 0h1m0 0h1m0 0h1M41 25.5h1m5 0h1m5 0h1m0 0h1m0 0h1m2 0h1m1 0h1m3 0h1m0 0h1m0 0h1m0 0h1m1 0h1m0 0h1M37 26.5h1m3 0h1m3 0h1m4 0h1m0 0h1m0 0h1m0 0h1m2 0h1m3 0h1m0 0h1m0 0h1m2 0h1m0 0h1m0 0h1m1 0h1m0 0h1m0 0h1M18 27.5h1m1 0h1m31 0h1m0 0h1m1 0h1m0 0h1m0 0h1m5 0h1m0 0h1m1 0h1m1 0h1m0 0h1m0 0h1m0 0h1M50 28.5h1m1 0h1m0 0h1m0 0h1m0 0h1m0 0h1m0 0h1m0 0h1m0 0h1m1 0h1m0 0h1m1 0h1m4 0h1m0 0h1m0 0h1M41 29.5h1m9 0h1m0 0h1m2 0h1m0 0h1m0 0h1m0 0h1m1 0h1m2 0h1m2 0h1m2 0h1m0 0h1m0 0h1M44 30.5h1m3 0h1m2 0h1m1 0h1m3 0h1m1 0h1m1 0h1m0 0h1m3 0h1m2 0h1M34 31.5h1m6 0h1m3 0h1m3 0h1m0 0h1m2 0h1m0 0h1m5 0h1m1 0h1m5 0h1m1 0h1m0 0h1M51 32.5h1m2 0h1m3 0h1m0 0h1m2 0h1m1 0h1m1 0h1m0 0h1m0 0h1m1 0h1m0 0h1M50 33.5h1m4 0h1m4 0h1m3 0h1m1 0h1m0 0h1m0 0h1m0 0h1m0 0h1M34 34.5h1m5 0h1m6 0h1m6 0h1m0 0h1m0 0h1m4 0h1m4 0h1m0 0h1m0 0h1M42 35.5h1m0 0h1m3 0h1m7 0h1m0 0h1m2 0h1m6 0h1m0 0h1m0 0h1m0 0h1m0 0h1M38 36.5h1m0 0h1m8 0h1m6 0h1m4 0h1m1 0h1m0 0h1m1 0h1m1 0h1m1 0h1m0 0h1m0 0h1M31 37.5h1m3 0h1m1 0h1m3 0h1m6 0h1m9 0h1m1 0h1m3 0h1m0 0h1m0 0h1m0 0h1m1 0h1m0 0h1m0 0h1M7 38.5h1m22 0h1m11 0h1m1 0h1m3 0h1m1 0h1m3 0h1m7 0h1m0 0h1m1 0h1m1 0h1m0 0h1m0 0h1m1 0h1M33 39.5h1m1 0h1m2 0h1m9 0h1m1 0h1m0 0h1m0 0h1m0 0h1m0 0h1m0 0h1m2 0h1m1 0h1m0 0h1m0 0h1m0 0h1m2 0h1m0 0h1m0 0h1m0 0h1M37 40.5h1m0 0h1m2 0h1m2 0h1m3 0h1m0 0h1m0 0h1m1 0h1m7 0h1m1 0h1m0 0h1m0 0h1m1 0h1m0 0h1m2 0h1M34 41.5h1m3 0h1m2 0h1m2 0h1m6 0h1m0 0h1m0 0h1m1 0h1m4 0h1m0 0h1m1 0h1m0 0h1m1 0h1m2 0h1M26 42.5h1m1 0h1m5 0h1m0 0h1m4 0h1m5 0h1m2 0h1m0 0h1m0 0h1m0 0h1m0 0h1m7 0h1m0 0h1m3 0h1m0 0h1m2 0h1m0 0h1M26 43.5h1m3 0h1m3 0h1m0 0h1m6 0h1m2 0h1m1 0h1m3 0h1m1 0h1m2 0h1m0 0h1m0 0h1m1 0h1m0 0h1m1 0h1m1 0h1m0 0h1m1 0h1m0 0h1m0 0h1m0 0h1M22 44.5h1m8 0h1m7 0h1m1 0h1m3 0h1m1 0h1m0 0h1m1 0h1m1 0h1m9 0h1m1 0h1m0 0h1m0 0h1m0 0h1m0 0h1m0 0h1m0 0h1m0 0h1M13 45.5h1m8 0h1m7 0h1m0 0h1m0 0h1m6 0h1m1 0h1m6 0h1m0 0h1m3 0h1m1 0h1m3 0h1m1 0h1m0 0h1m0 0h1m1 0h1m1 0h1m0 0h1m0 0h1m0 0h1M6 46.5h1m0 0h1m5 0h1m14 0h1m0 0h1m2 0h1m1 0h1m2 0h1m0 0h1m0 0h1m2 0h1m0 0h1m0 0h1m5 0h1m5 0h1m1 0h1m0 0h1m0 0h1m0 0h1m0 0h1m1 0h1m1 0h1m0 0h1m0 0h1m1 0h1m0 0h1M7 47.5h1m2 0h1m0 0h1m20 0h1m0 0h1m3 0h1m0 0h1m0 0h1m3 0h1m2 0h1m1 0h1m8 0h1m1 0h1m0 0h1m0 0h1m3 0h1m0 0h1m0 0h1m0 0h1m1 0h1M7 48.5h1m25 0h1m4 0h1m0 0h1m0 0h1m0 0h1m1 0h1m0 0h1m0 0h1m0 0h1m1 0h1m0 0h1m1 0h1m4 0h1m0 0h1m3 0h1m1 0h1m1 0h1m0 0h1m0 0h1m0 0h1m0 0h1m1 0h1M4 49.5h1m3 0h1m1 0h1m24 0h1m2 0h1m0 0h1m1 0h1m0 0h1m1 0h1m3 0h1m2 0h1m0 0h1m3 0h1m3 0h1m0 0h1m1 0h1m1 0h1m0 0h1m0 0h1m3 0h1M6 50.5h1m0 0h1m0 0h1m29 0h1m2 0h1m6 0h1m0 0h1m1 0h1m0 0h1m0 0h1m0 0h1m1 0h1m0 0h1m1 0h1m0 0h1m2 0h1m2 0h1m0 0h1m2 0h1M6 51.5h1m29 0h1m6 0h1m0 0h1m2 0h1m0 0h1m0 0h1m0 0h1m0 0h1m0 0h1m1 0h1m0 0h1m1 0h1m0 0h1m1 0h1m3 0h1m0 0h1m0 0h1m0 0h1m1 0h1m0 0h1M1 52.5h1m41 0h1m0 0h1m1 0h1m1 0h1m0 0h1m0 0h1m0 0h1m1 0h1m0 0h1m1 0h1m2 0h1m0 0h1m3 0h1m0 0h1m1 0h1m0 0h1M45 53.5h1m2 0h1m1 0h1m0 0h1m4 0h1m1 0h1m2 0h1m1 0h1m1 0h1m0 0h1m0 0h1m0 0h1m0 0h1m0 0h1m0 0h1M42 54.5h1m2 0h1m0 0h1m3 0h1m2 0h1m0 0h1m1 0h1m0 0h1m3 0h1m0 0h1m4 0h1m0 0h1m1 0h1M45 55.5h1m0 0h1m0 0h1m0 0h1m0 0h1m0 0h1m1 0h1m0 0h1m0 0h1m0 0h1m0 0h1m3 0h1m0 0h1m0 0h1m1 0h1m0 0h1m0 0h1m0 0h1m0 0h1m0 0h1m1 0h1M45 56.5h1m0 0h1m0 0h1m0 0h1m0 0h1m3 0h1m1 0h1m0 0h1m0 0h1m0 0h1m3 0h1m0 0h1m2 0h1m2 0h1m1 0h1M42 57.5h1m7 0h1m1 0h1m1 0h1m0 0h1m2 0h1m1 0h1m1 0h1m3 0h1m0 0h1m1 0h1m1 0h1M39 58.5h1m0 0h1m1 0h1m1 0h1m11 0h1m3 0h1m0 0h1m0 0h1m0 0h1m0 0h1m1 0h1m0 0h1m1 0h1m0 0h1M38 59.5h1m0 0h1m1 0h1m0 0h1m17 0h1m0 0h1m0 0h1m0 0h1m0 0h1m1 0h1m2 0h1M40 60.5h1m1 0h1m18 0h1m0 0h1m1 0h1m0 0h1m2 0h1m1 0h1m0 0h1M62 61.5h1m1 0h1"/>
</g>
<path d="M21.7 22h4.4v4.5h-4.4zM30.5 22h4.4v4.5h-4.4zM48.1 22h4.4v4.5h-4.4zM65.7 22h4.4v4.5h-4.4zM118.5 22h4.4v4.5h-4.4zM158.1 22h4.4v4.5h-4.4zM193.3 22h13.2v4.5h-13.2zM290.1 22h17.6v4.5h-17.6zM17.3 26.4h8.8v4.5h-8.8zM30.5 26.4h48.4v4.5h-48.4zM114.1 26.4h17.6v4.5h-17.6zM140.5 26.4h4.4v4.5h-4.4zM149.3 26.4h13.2v4.5h-13.2zM188.9 26.4h22v4.5h-22zM272.5 26.4h8.8v4.5h-8.8zM285.7 26.4h30.8v4.5h-30.8zM12.9 30.9h83.6v4.5h-83.6zM109.7 30.9h57.2v4.5h-57.2zM180.1 30.9h4.4v4.5h-4.4zM188.9 30.9h35.2v4.5h-35.2zM268.1 30.9h61.6v4.5h-61.6zM12.9 35.4h224.4v4.5h-224.4zM250.5 35.4h4.4v4.5h-4.4zM263.7 35.4h66v4.5h-66zM12.9 39.8h316.8v4.5h-316.8zM12.9 44.2h316.8v4.5h-316.8zM12.9 48.7h316.8v4.5h-316.8zM12.9 53.2h316.8v4.5h-316.8zM12.9 57.6h316.8v4.5h-316.8zM12.9 62.1h316.8v4.5h-316.8zM12.9 66.5h316.8v4.5h-316.8zM12.9 71h316.8v4.5h-316.8zM12.9 75.4h316.8v4.5h-316.8zM12.9 79.8h316.8v4.5h-316.8zM12.9 84.3h316.8v4.5h-316.8zM12.9 88.8h316.8v4.5h-316.8zM12.9 93.2h316.8v4.5h-316.8zM12.9 97.7h316.8v4.5h-316.8zM12.9 102.1h316.8v4.5h-316.8zM12.9 106.5h316.8v4.5h-316.8zM12.9 111h316.8v4.5h-316.8zM12.9 115.5h316.8v4.5h-316.8zM12.9 119.9h316.8v4.5h-316.8zM12.9 124.4h316.8v4.5h-316.8zM12.9 128.8h316.8v4.5h-316.8zM12.9 133.2h316.8v4.5h-316.8zM12.9 137.7h316.8v4.5h-316.8zM12.9 142.2h316.8v4.5h-316.8zM12.9 146.6h316.8v4.5h-316.8zM12.9 151.1h316.8v4.5h-316.8zM12.9 155.5h316.8v4.5h-316.8zM12.9 160h316.8v4.5h-316.8zM12.9 164.4h316.8v4.5h-316.8zM12.9 168.8h316.8v4.5h-316.8zM12.9 173.3h316.8v4.5h-316.8zM12.9 177.8h316.8v4.5h-316.8zM12.9 182.2h316.8v4.5h-316.8zM12.9 186.7h316.8v4.5h-316.8zM12.9 191.1h316.8v4.5h-316.8zM12.9 195.6h316.8v4.5h-316.8zM12.9 200h316.8v4.5h-316.8zM12.9 204.5h316.8v4.5h-316.8zM12.9 208.9h316.8v4.5h-316.8zM12.9 213.3h316.8v4.5h-316.8zM12.9 217.8h316.8v4.5h-316.8zM12.9 222.2h316.8v4.5h-316.8zM12.9 226.7h316.8v4.5h-316.8zM12.9 231.2h316.8v4.5h-316.8zM12.9 235.6h316.8v4.5h-316.8zM12.9 240.1h316.8v4.5h-316.8zM12.9 244.5h316.8v4.5h-316.8zM12.9 249h316.8v4.5h-316.8zM12.9 253.4h316.8v4.5h-316.8zM12.9 257.9h316.8v4.5h-316.8zM12.9 262.3h316.8v4.5h-316.8zM12.9 266.8h316.8v4.5h-316.8zM12.9 271.2h316.8v4.5h-316.8zM12.9 275.6h202.4v4.5h-202.4zM232.9 275.6h4.4v4.5h-4.4zM241.7 275.6h4.4v4.5h-4.4zM250.5 275.6h79.2v4.5h-79.2zM12.9 280.1h198v4.5h-198zM250.5 280.1h4.4v4.5h-4.4zM259.3 280.1h70.4v4.5h-70.4zM12.9 284.6h193.6v4.5h-193.6zM263.7 284.6h66v4.5h-66zM12.9 289h189.2v4.5h-189.2zM281.3 289h48.4v4.5h-48.4zM12.9 293.4h180.4v4.5h-180.4zM285.7 293.4h13.2v4.5h-13.2zM12.9 297.9h171.6v4.5h-171.6zM12.9 302.4h26.4v4.5h-26.4zM43.7 302.4h83.6v4.5h-83.6zM131.7 302.4h48.4v4.5h-48.4zM26.1 306.8h4.4v4.5h-4.4zM52.5 306.8h52.8v4.5h-52.8zM109.7 306.8h8.8v4.5h-8.8zM140.5 306.8h8.8v4.5h-8.8zM162.5 306.8h4.4v4.5h-4.4z" fill="url(#spots)"/>
<ellipse cx="20" cy="150" rx="11" ry="2.2" fill="#f4f4f6" transform="rotate(-12 20 150)"/>
<ellipse cx="84" cy="293" rx="8" ry="1.8" fill="#f4f4f6" transform="rotate(-10 84 293)"/>
</g>
<text x="1326.2" y="2263.5" font-size="23.6" text-anchor="start" fill="#222">Macrophage</text>
<rect x="1486.1" y="2222.8" width="189.6" height="38.2" fill="url(#spec)"/>
<path d="M1492.1 2222.8 v7 M1492.1 2254 v7" stroke="#fff" stroke-width="1.3" stroke-opacity="0.8"/>
<text x="1492.1" y="2284.3" font-size="20.4" text-anchor="middle" fill="#222" letter-spacing="-0.6">−0.4</text>
<path d="M1524.3 2222.8 v7 M1524.3 2254 v7" stroke="#fff" stroke-width="1.3" stroke-opacity="0.8"/>
<text x="1524.3" y="2284.3" font-size="20.4" text-anchor="middle" fill="#222" letter-spacing="-0.6">−0.2</text>
<path d="M1556.5 2222.8 v7 M1556.5 2254 v7" stroke="#fff" stroke-width="1.3" stroke-opacity="0.8"/>
<text x="1556.5" y="2284.3" font-size="20.4" text-anchor="middle" fill="#222" letter-spacing="-0.6">0.0</text>
<path d="M1588.7 2222.8 v7 M1588.7 2254 v7" stroke="#fff" stroke-width="1.3" stroke-opacity="0.8"/>
<text x="1588.7" y="2284.3" font-size="20.4" text-anchor="middle" fill="#222" letter-spacing="-0.6">0.2</text>
<path d="M1620.9 2222.8 v7 M1620.9 2254 v7" stroke="#fff" stroke-width="1.3" stroke-opacity="0.8"/>
<text x="1620.9" y="2284.3" font-size="20.4" text-anchor="middle" fill="#222" letter-spacing="-0.6">0.4</text>
<path d="M1653.1 2222.8 v7 M1653.1 2254 v7" stroke="#fff" stroke-width="1.3" stroke-opacity="0.8"/>
<text x="1653.1" y="2284.3" font-size="20.4" text-anchor="middle" fill="#222" letter-spacing="-0.6">0.6</text>
<g transform="translate(1329.7 2327)">
<rect x="0" y="0" width="342" height="328" fill="#EFEFF1"/>
<path d="M0 24 L13.5 26 L14 305 L0 307 Z" fill="url(#purp)"/>
<path d="M327 22 L341 20 L341 300 L327 299 Z" fill="url(#purp)"/>
<g transform="translate(12.9 22) scale(4.4 4.45)" fill="none" stroke-width="1">
<path stroke="#5e4fa2" d="M37 4.5h1M31 7.5h1M3 14.5h1m1 0h1M3 16.5h1M7 17.5h1M1 20.5h1M10 22.5h1M2 39.5h1M3 49.5h1M14 51.5h1M6 52.5h1M5 58.5h1"/>
<path stroke="#535da9" d="M3 7.5h1M5 39.5h1M15 59.5h1"/>
<path stroke="#486cb0" d="M3 11.5h1M3 13.5h1M2 18.5h1m6 0h1M16 20.5h1M3 44.5h1M7 53.5h1M8 62.5h1"/>
<path stroke="#3d7ab6" d="M42 0.5h1M36 5.5h1M5 12.5h1M19 16.5h1M11 18.5h1M12 34.5h1M3 58.5h1M25 60.5h1"/>
<path stroke="#3288bd" d="M35 4.5h1M10 10.5h1M4 13.5h1M4 15.5h1m6 0h1m5 0h1M8 17.5h1M5 21.5h1M13 33.5h1M6 45.5h1M2 47.5h1M2 49.5h1M7 51.5h1M9 58.5h1M7 60.5h1M18 63.5h1"/>
<path stroke="#3f96b7" d="M30 2.5h1M8 3.5h1M12 6.5h1M6 8.5h1M13 12.5h1M20 13.5h1M8 26.5h1M5 29.5h1M17 35.5h1M20 39.5h1M1 46.5h1m2 0h1M4 47.5h1M12 49.5h1M0 51.5h1M2 53.5h1m3 0h1M4 54.5h1M3 56.5h1M16 59.5h1M21 63.5h1"/>
<path stroke="#4ca5b1" d="M24 0.5h1m18 0h1M4 1.5h1M31 2.5h1m9 0h1M9 4.5h1m17 0h1m0 0h1M34 5.5h1M5 7.5h1m0 0h1m31 0h1M31 8.5h1m3 0h1M10 12.5h1M0 15.5h1M8 16.5h1m8 0h1M9 17.5h1M0 18.5h1M8 20.5h1M7 21.5h1M18 31.5h1M2 41.5h1M5 48.5h1M10 52.5h1m3 0h1M1 56.5h1m13 0h1M28 63.5h1"/>
<path stroke="#59b4ab" d="M42 1.5h1M15 2.5h1m10 0h1M10 4.5h1m27 0h1M29 5.5h1M4 11.5h1M23 14.5h1M5 15.5h1m13 0h1M25 16.5h1M7 18.5h1m5 0h1m0 0h1m2 0h1m4 0h1M5 20.5h1m11 0h1m3 0h1M4 21.5h1M5 22.5h1M13 23.5h1M15 32.5h1M8 38.5h1m8 0h1M8 46.5h1m6 0h1M6 47.5h1M1 48.5h1M13 51.5h1M19 56.5h1M10 59.5h1M9 61.5h1M22 62.5h1M19 63.5h1"/>
<path stroke="#66c2a5" d="M27 3.5h1M11 4.5h1M38 5.5h1M1 6.5h1m42 0h1M1 7.5h1m30 0h1m2 0h1m3 0h1M0 8.5h1M3 9.5h1m31 0h1M12 13.5h1m8 0h1M5 17.5h1M5 18.5h1M0 19.5h1m0 0h1m14 0h1M9 21.5h1M14 22.5h1M10 25.5h1M9 26.5h1M12 32.5h1M16 40.5h1m5 0h1M18 41.5h1M4 43.5h1M5 44.5h1M3 45.5h1M13 48.5h1M4 49.5h1m3 0h1M13 55.5h1M5 57.5h1m1 0h1m15 0h1"/>
<path stroke="#77c9a5" d="M44 1.5h1M2 3.5h1m4 0h1m30 0h1M5 6.5h1m26 0h1m1 0h1m3 0h1M9 7.5h1m3 0h1M4 8.5h1M7 9.5h1m3 0h1m3 0h1m18 0h1M8 10.5h1M24 11.5h1m9 0h1m0 0h1M7 12.5h1m3 0h1m3 0h1M24 13.5h1M12 14.5h1M2 16.5h1m1 0h1M13 17.5h1m1 0h1M10 18.5h1M2 19.5h1m5 0h1M18 20.5h1m7 0h1M4 22.5h1M10 24.5h1M4 28.5h1m12 0h1M2 33.5h1M24 35.5h1M4 38.5h1M4 39.5h1M0 42.5h1M3 47.5h1M7 49.5h1M7 50.5h1m3 0h1m3 0h1M5 51.5h1M0 53.5h1M8 55.5h1M5 56.5h1M6 60.5h1M17 64.5h1"/>
<path stroke="#88d0a4" d="M7 1.5h1m23 0h1M30 3.5h1m0 0h1M14 4.5h1M26 5.5h1M12 8.5h1M6 9.5h1M12 11.5h1m0 0h1m2 0h1m1 0h1m13 0h1M16 12.5h1m12 0h1m3 0h1M1 13.5h1m24 0h1M11 14.5h1M6 15.5h1m15 0h1M22 16.5h1M6 17.5h1m9 0h1M16 18.5h1M10 19.5h1m3 0h1m2 0h1M3 21.5h1M12 22.5h1M6 23.5h1M23 25.5h1M3 27.5h1M3 29.5h1M11 36.5h1M0 39.5h1M1 40.5h1m15 0h1M2 42.5h1m14 0h1M5 43.5h1M1 47.5h1M4 48.5h1M10 49.5h1M3 51.5h1M2 52.5h1m8 0h1m8 0h1M14 53.5h1M3 54.5h1M3 55.5h1m0 0h1m11 0h1M8 56.5h1m9 0h1m16 0h1M19 58.5h1M5 59.5h1M14 61.5h1M15 62.5h1M10 63.5h1"/>
<path stroke="#9ad6a4" d="M3 2.5h1m4 0h1m24 0h1M0 3.5h1M39 4.5h1M15 5.5h1m12 0h1m11 0h1M0 6.5h1m6 0h1m7 0h1m12 0h1M8 9.5h1m19 0h1M3 10.5h1m0 0h1m10 0h1m7 0h1m0 0h1m0 0h1m6 0h1M15 11.5h1M8 12.5h1M6 13.5h1m21 0h1m1 0h1M26 14.5h1M9 16.5h1m8 0h1m7 0h1M1 18.5h1M13 22.5h1M7 23.5h1M7 27.5h1M10 29.5h1M1 36.5h1m3 0h1m13 0h1M0 37.5h1M17 39.5h1m1 0h1m7 0h1M21 40.5h1M1 42.5h1M16 43.5h1M2 46.5h1M2 50.5h1m19 0h1M1 51.5h1M21 52.5h1M9 53.5h1m2 0h1m0 0h1M5 54.5h1m0 0h1M15 55.5h1M11 56.5h1m15 0h1M20 58.5h1M4 59.5h1m7 0h1m8 0h1M16 60.5h1m13 0h1M12 61.5h1M17 63.5h1m4 0h1"/>
<path stroke="#abdda4" d="M12 0.5h1M13 1.5h1M16 2.5h1M1 3.5h1m18 0h1m14 0h1m5 0h1M30 4.5h1M8 5.5h1M6 6.5h1m6 0h1m27 0h1m1 0h1M0 7.5h1M1 8.5h1m1 0h1m5 0h1m32 0h1M11 10.5h1M25 11.5h1m2 0h1M14 12.5h1m8 0h1m1 0h1m0 0h1M2 14.5h1m3 0h1m7 0h1m0 0h1M23 15.5h1M16 16.5h1M1 17.5h1m12 0h1m3 0h1m16 0h1M12 19.5h1m0 0h1M9 20.5h1M11 21.5h1m0 0h1M3 22.5h1m2 0h1M14 23.5h1M14 24.5h1m8 0h1M3 25.5h1M20 26.5h1M2 27.5h1M15 31.5h1M0 33.5h1m10 0h1M11 34.5h1m4 0h1M8 36.5h1M3 37.5h1M5 38.5h1m0 0h1M1 39.5h1m22 0h1M18 40.5h1M4 41.5h1M16 45.5h1M11 48.5h1M12 52.5h1m3 0h1M1 53.5h1m18 0h1M8 54.5h1m8 0h1M6 55.5h1m2 0h1M4 56.5h1m17 0h1m2 0h1M1 57.5h1m8 0h1m0 0h1m12 0h1M4 58.5h1m2 0h1m2 0h1m4 0h1M2 59.5h1m6 0h1M15 60.5h1m3 0h1M5 61.5h1M9 62.5h1m4 0h1m8 0h1M10 64.5h1"/>
<path stroke="#bae3a1" d="M8 1.5h1m34 0h1M32 2.5h1m10 0h1M0 4.5h1m0 0h1m1 0h1m3 0h1M32 5.5h1m2 0h1M11 6.5h1m19 0h1m7 0h1M4 7.5h1m2 0h1m0 0h1m19 0h1m8 0h1m4 0h1M14 8.5h1m14 0h1M9 9.5h1m0 0h1m1 0h1m19 0h1M17 10.5h1m0 0h1M38 11.5h1M20 12.5h1m1 0h1M10 13.5h1m5 0h1m12 0h1M22 14.5h1M13 15.5h1m4 0h1M7 16.5h1m13 0h1M23 17.5h1m0 0h1M21 19.5h1M2 20.5h1M2 24.5h1M2 25.5h1M5 26.5h1M0 27.5h1m3 0h1M8 29.5h1M27 31.5h1M17 32.5h1M6 34.5h1M8 37.5h1M25 38.5h1M3 39.5h1m17 0h1M2 40.5h1m16 0h1M23 41.5h1m0 0h1M4 42.5h1M0 43.5h1m17 0h1m5 0h1M10 44.5h1m45 0h1M0 46.5h1m4 0h1M8 47.5h1M3 50.5h1m1 0h1M11 51.5h1M1 52.5h1M9 54.5h1m0 0h1m2 0h1m2 0h1M0 56.5h1M12 57.5h1M18 58.5h1M7 61.5h1m8 0h1M11 63.5h1M14 64.5h1"/>
<path stroke="#c8e99e" d="M1 1.5h1m0 0h1m3 0h1M6 2.5h1m21 0h1M12 3.5h1m20 0h1m6 0h1M33 4.5h1m7 0h1M10 5.5h1m19 0h1m10 0h1M33 6.5h1m2 0h1M11 7.5h1m22 0h1M11 8.5h1m3 0h1m23 0h1M14 9.5h1M1 10.5h1m3 0h1m31 0h1M5 11.5h1M3 12.5h1m8 0h1m11 0h1M5 13.5h1m2 0h1m2 0h1M10 14.5h1m21 0h1M20 15.5h1M10 16.5h1m2 0h1m6 0h1M3 17.5h1m0 0h1m15 0h1m13 0h1M18 18.5h1m2 0h1M4 19.5h1m2 0h1m17 0h1M0 20.5h1M6 21.5h1m6 0h1M9 22.5h1m1 0h1m3 0h1M12 23.5h1M4 24.5h1M17 25.5h1M7 26.5h1m7 0h1M6 27.5h1m3 0h1M9 28.5h1m0 0h1M15 29.5h1m10 0h1m1 0h1M15 30.5h1M6 32.5h1m23 0h1M10 33.5h1m9 0h1m2 0h1M10 34.5h1M2 35.5h1M17 36.5h1M1 37.5h1m0 0h1m13 0h1M26 40.5h1M8 41.5h1m11 0h1M5 42.5h1m15 0h1M1 45.5h1M6 46.5h1M0 47.5h1m4 0h1m12 0h1M0 49.5h1m4 0h1m3 0h1M9 50.5h1m3 0h1M0 54.5h1m6 0h1m14 0h1M2 55.5h1M6 56.5h1M13 58.5h1M6 59.5h1m1 0h1M21 60.5h1M2 61.5h1m10 0h1m7 0h1m2 0h1M6 62.5h1m11 0h1m6 0h1M12 63.5h1M16 64.5h1"/>
<path stroke="#d7ef9b" d="M33 1.5h1M13 2.5h1m20 0h1m5 0h1m1 0h1m2 0h1M39 3.5h1m3 0h1M5 5.5h1m0 0h1m0 0h1m4 0h1m5 0h1M14 6.5h1M14 7.5h1M16 8.5h1m23 0h1M33 9.5h1M9 10.5h1m12 0h1m10 0h1M21 11.5h1M1 12.5h1m0 0h1m31 0h1m1 0h1M13 13.5h1m3 0h1m1 0h1m5 0h1M0 14.5h1m20 0h1m2 0h1M8 15.5h1m5 0h1m11 0h1M0 16.5h1m28 0h1M12 18.5h1m10 0h1M9 19.5h1m9 0h1M22 20.5h1m5 0h1M15 21.5h1m4 0h1M9 23.5h1M0 24.5h1m0 0h1m14 0h1M19 25.5h1m37 0h1M13 26.5h1m42 0h1M9 27.5h1m13 0h1M3 28.5h1m2 0h1m0 0h1M9 29.5h1M2 30.5h1m2 0h1M13 31.5h1M0 32.5h1m8 0h1M22 34.5h1M3 35.5h1m0 0h1m2 0h1m5 0h1m0 0h1M54 37.5h1M0 38.5h1m1 0h1M6 39.5h1M3 40.5h1m10 0h1m0 0h1M5 41.5h1m6 0h1M7 42.5h1m15 0h1M1 43.5h1m18 0h1M7 44.5h1m10 0h1M2 45.5h1M11 46.5h1M10 47.5h1M1 49.5h1M4 50.5h1M8 51.5h1m7 0h1m2 0h1m36 0h1M4 52.5h1m4 0h1M29 54.5h1M12 55.5h1m1 0h1m7 0h1M0 57.5h1m3 0h1m13 0h1m39 0h1M0 58.5h1m5 0h1m9 0h1M3 59.5h1m13 0h1m11 0h1M12 60.5h1m13 0h1m4 0h1M0 61.5h1m5 0h1M12 62.5h1"/>
<path stroke="#e6f598" d="M25 1.5h1m0 0h1m13 0h1M5 2.5h1M13 3.5h1m10 0h1m4 0h1M5 4.5h1m0 0h1m29 0h1m5 0h1M37 5.5h1m1 0h1m3 0h1M2 6.5h1m32 0h1m1 0h1M40 7.5h1M5 8.5h1m1 0h1m24 0h1M16 9.5h1m6 0h1M13 10.5h1M7 11.5h1m6 0h1m16 0h1M7 13.5h1m1 0h1M27 14.5h1M7 15.5h1m1 0h1m6 0h1M27 16.5h1M0 17.5h1m9 0h1m6 0h1M4 18.5h1m1 0h1M3 19.5h1M8 22.5h1M4 23.5h1M9 24.5h1M0 25.5h1m0 0h1m18 0h1M0 26.5h1m1 0h1m0 0h1M5 28.5h1M1 31.5h1m4 0h1m1 0h1m7 0h1m47 0h1M58 32.5h1M6 33.5h1M6 36.5h1m15 0h1M57 37.5h1M10 38.5h1m11 0h1m0 0h1m32 0h1M60 39.5h1M0 40.5h1M15 41.5h1m3 0h1m5 0h1M16 42.5h1m1 0h1M0 44.5h1m3 0h1M9 45.5h1M9 46.5h1M14 47.5h1m1 0h1m2 0h1M3 48.5h1m2 0h1m3 0h1m10 0h1M14 49.5h1M8 50.5h1m19 0h1M15 51.5h1m11 0h1M0 52.5h1m16 0h1M17 53.5h1m0 0h1m4 0h1m9 0h1M2 54.5h1m12 0h1m5 0h1m2 0h1m0 0h1m0 0h1M0 55.5h1m20 0h1M2 56.5h1m17 0h1m2 0h1m2 0h1M8 57.5h1m7 0h1M1 58.5h1m12 0h1m20 0h1M26 59.5h1M5 60.5h1m11 0h1m2 0h1m1 0h1m9 0h1M15 61.5h1M0 62.5h1M1 63.5h1m3 0h1m8 0h1m5 0h1m2 0h1M3 64.5h1"/>
<path stroke="#ecf8a2" d="M8 0.5h1m24 0h1M5 1.5h1m18 0h1M11 2.5h1m5 0h1m11 0h1M11 3.5h1m16 0h1m13 0h1M0 5.5h1m0 0h1m2 0h1m6 0h1M3 6.5h1m5 0h1m17 0h1m2 0h1M17 7.5h1m15 0h1m7 0h1m2 0h1M8 8.5h1m29 0h1M13 9.5h1m5 0h1m7 0h1M12 10.5h1m7 0h1m14 0h1M10 11.5h1m12 0h1m2 0h1M17 12.5h1m1 0h1m8 0h1M0 13.5h1m26 0h1M4 14.5h1m24 0h1m0 0h1M15 15.5h1M12 16.5h1m2 0h1M21 17.5h1m8 0h1M8 18.5h1M15 19.5h1m8 0h1m1 0h1m0 0h1M6 20.5h1m0 0h1m2 0h1m0 0h1m3 0h1M16 21.5h1m0 0h1M17 22.5h1M8 23.5h1m7 0h1M7 24.5h1m3 0h1m3 0h1M4 25.5h1m0 0h1m5 0h1M1 26.5h1m2 0h1m18 0h1M24 27.5h1M1 28.5h1M0 30.5h1M9 31.5h1m2 0h1M1 33.5h1m19 0h1M8 34.5h1m10 0h1M18 35.5h1M0 36.5h1m6 0h1M5 37.5h1M6 40.5h1m55 0h1M0 41.5h1m2 0h1m2 0h1m0 0h1m18 0h1M10 42.5h1m13 0h1M3 43.5h1m15 0h1M1 44.5h1M3 46.5h1M57 47.5h1M16 48.5h1M16 50.5h1M12 51.5h1M23 52.5h1M8 53.5h1m1 0h1M14 54.5h1M7 55.5h1m11 0h1m4 0h1m2 0h1m0 0h1M7 56.5h1m2 0h1M20 57.5h1m1 0h1M2 58.5h1m5 0h1m22 0h1M14 59.5h1M4 61.5h1M4 62.5h1M4 63.5h1m11 0h1M11 64.5h1m6 0h1m0 0h1m10 0h1"/>
<path stroke="#f2faac" d="M4 0.5h1M11 1.5h1M38 2.5h1M3 3.5h1m2 0h1m10 0h1m14 0h1m1 0h1M19 4.5h1m6 0h1M14 5.5h1M10 6.5h1m5 0h1m25 0h1M22 8.5h1m3 0h1m1 0h1M4 9.5h1m15 0h1m8 0h1m9 0h1M0 10.5h1m5 0h1m14 0h1m6 0h1m2 0h1M8 11.5h1m2 0h1m5 0h1M18 12.5h1M33 13.5h1M7 14.5h1m1 0h1m15 0h1M2 15.5h1m24 0h1M6 16.5h1m16 0h1M2 17.5h1m24 0h1M3 18.5h1m22 0h1M11 19.5h1M23 20.5h1m3 0h1M19 21.5h1m42 0h1M2 22.5h1m15 0h1m4 0h1M5 23.5h1m57 0h1M8 24.5h1m8 0h1m42 0h1M12 25.5h1M11 26.5h1M12 27.5h1m9 0h1m3 0h1m29 0h1M0 28.5h1m10 0h1m36 0h1M16 30.5h1m12 0h1M8 32.5h1m13 0h1M12 33.5h1m9 0h1M7 34.5h1M2 36.5h1m23 0h1M25 37.5h1M8 40.5h1m15 0h1M51 41.5h1M3 42.5h1m16 0h1M2 44.5h1m22 0h1M4 45.5h1M14 46.5h1M0 48.5h1M15 49.5h1M0 50.5h1m9 0h1m1 0h1M5 53.5h1M18 54.5h1M17 56.5h1M2 57.5h1m12 0h1m11 0h1M17 58.5h1M7 59.5h1m12 0h1M3 61.5h1m4 0h1m1 0h1m19 0h1M3 62.5h1m6 0h1m0 0h1m4 0h1m2 0h1m6 0h1m0 0h1M9 64.5h1m13 0h1"/>
<path stroke="#f9fcb5" d="M9 1.5h1m2 0h1m1 0h1M1 2.5h1M4 4.5h1m24 0h1m4 0h1m8 0h1m0 0h1M27 5.5h1m14 0h1M2 7.5h1m22 0h1m4 0h1m12 0h1M26 9.5h1m10 0h1M34 10.5h1M27 11.5h1m5 0h1m2 0h1M1 14.5h1m17 0h1m16 0h1M21 15.5h1M34 16.5h1M24 18.5h1M22 19.5h1m5 0h1M12 20.5h1M1 21.5h1m12 0h1m19 0h1M16 22.5h1m2 0h1m0 0h1m0 0h1m2 0h1M0 23.5h1m9 0h1m8 0h1m44 0h1M6 24.5h1m23 0h1M7 25.5h1m5 0h1M1 27.5h1m13 0h1M12 28.5h1m8 0h1M7 29.5h1M8 30.5h1m0 0h1m11 0h1m0 0h1M0 31.5h1m4 0h1m4 0h1M1 32.5h1m5 0h1m5 0h1m2 0h1m44 0h1M9 33.5h1M5 34.5h1m7 0h1m10 0h1m1 0h1m28 0h1M0 35.5h1m0 0h1m6 0h1m13 0h1M3 36.5h1m20 0h1m29 0h1m9 0h1m2 0h1M4 37.5h1m7 0h1m5 0h1m2 0h1M1 38.5h1m5 0h1M7 39.5h1m7 0h1M1 41.5h1m20 0h1M22 42.5h1M15 44.5h1m4 0h1M13 45.5h1M10 46.5h1m7 0h1m34 0h1M9 48.5h1M19 49.5h1m48 0h1M6 50.5h1M2 51.5h1m6 0h1m12 0h1m5 0h1M3 52.5h1m18 0h1m2 0h1M21 53.5h1m35 0h1M12 54.5h1M11 55.5h1m8 0h1m8 0h1m4 0h1M14 56.5h1m6 0h1m7 0h1m4 0h1M19 57.5h1m5 0h1m4 0h1m1 0h1M0 59.5h1m17 0h1m3 0h1m1 0h1M2 60.5h1m0 0h1m0 0h1m13 0h1m4 0h1m5 0h1m34 0h1M20 61.5h1M5 62.5h1m11 0h1M9 63.5h1M13 64.5h1m1 0h1"/>
<path stroke="#ffffbf" d="M2 0.5h1M29 1.5h1M7 2.5h1m1 0h1m4 0h1m3 0h1M37 3.5h1M24 4.5h1M2 5.5h1m28 0h1M19 6.5h1m26 0h1M10 7.5h1M2 8.5h1m10 0h1m23 0h1M0 9.5h1m0 0h1m19 0h1m3 0h1M14 10.5h1m24 0h1M20 11.5h1m9 0h1m9 0h1M31 13.5h1M28 14.5h1m9 0h1M3 15.5h1m21 0h1M14 16.5h1m13 0h1M6 19.5h1m11 0h1m4 0h1M3 20.5h1m0 0h1m9 0h1M26 21.5h1M1 22.5h1M3 23.5h1m11 0h1M25 24.5h1M15 25.5h1M14 26.5h1m3 0h1m8 0h1M5 27.5h1M8 28.5h1m46 0h1M4 29.5h1M1 30.5h1m9 0h1m1 0h1m3 0h1M22 31.5h1m13 0h1M5 32.5h1m4 0h1m0 0h1M8 33.5h1M2 34.5h1m63 0h1M12 35.5h1m13 0h1M10 36.5h1m14 0h1M6 37.5h1m3 0h1M3 38.5h1M25 39.5h1M9 40.5h1m10 0h1m2 0h1m29 0h1M63 41.5h1M11 42.5h1M14 43.5h1m2 0h1M8 44.5h1m2 0h1m55 0h1M0 45.5h1m9 0h1m3 0h1m0 0h1M12 47.5h1m0 0h1M2 48.5h1m4 0h1m15 0h1M6 49.5h1m10 0h1M6 51.5h1m3 0h1M29 53.5h1m28 0h1M23 54.5h1M26 55.5h1M13 56.5h1M6 57.5h1m6 0h1m14 0h1M23 58.5h1m1 0h1m7 0h1M19 59.5h1M14 60.5h1M11 61.5h1m5 0h1m5 0h1m3 0h1m4 0h1M32 62.5h1M3 63.5h1M20 64.5h1"/>
<path stroke="#fff7b2" d="M32 1.5h1M23 2.5h1m3 0h1m18 0h1M14 3.5h1m4 0h1m6 0h1m9 0h1m11 0h1M2 4.5h1m10 0h1m11 0h1m5 0h1m0 0h1m12 0h1m0 0h1m0 0h1M16 5.5h1m31 0h1M17 6.5h1m22 0h1M12 7.5h1m23 0h1M10 8.5h1m10 0h1m3 0h1m4 0h1M30 9.5h1m9 0h1M0 11.5h1m36 0h1M21 12.5h1m10 0h1m6 0h1M23 13.5h1M8 14.5h1m51 0h1M5 16.5h1M25 18.5h1m2 0h1m0 0h1m4 0h1M24 20.5h1M18 21.5h1m5 0h1M56 23.5h1M5 24.5h1M6 26.5h1M16 27.5h1m0 0h1M27 28.5h1M6 29.5h1m4 0h1m0 0h1m0 0h1m4 0h1M20 30.5h1M19 31.5h1m1 0h1M19 32.5h1M4 33.5h1m2 0h1m6 0h1m0 0h1m0 0h1m8 0h1M27 34.5h1M5 35.5h1m10 0h1m4 0h1M14 36.5h1m3 0h1m2 0h1M9 37.5h1m1 0h1M18 38.5h1M16 39.5h1m34 0h1m1 0h1m2 0h1M17 41.5h1m43 0h1M26 42.5h1M8 43.5h1m13 0h1m0 0h1m30 0h1m11 0h1M6 44.5h1m7 0h1M5 45.5h1M11 47.5h1M59 48.5h1M11 49.5h1M23 50.5h1m38 0h1M20 51.5h1m8 0h1M13 52.5h1m39 0h1M16 53.5h1M19 54.5h1m31 0h1M5 55.5h1m11 0h1m7 0h1m35 0h1M3 57.5h1m10 0h1m11 0h1M28 58.5h1M61 59.5h1M0 60.5h1m9 0h1M13 62.5h1M7 63.5h1m7 0h1m16 0h1"/>
<path stroke="#fef0a5" d="M0 2.5h1m43 0h1m2 0h1M4 3.5h1M8 4.5h1m11 0h1M13 5.5h1M4 6.5h1m24 0h1M18 7.5h1M19 8.5h1m0 0h1M18 9.5h1M19 10.5h1m9 0h1m11 0h1M1 11.5h1M6 12.5h1m30 0h1M2 13.5h1m11 0h1m22 0h1M16 14.5h1m0 0h1m2 0h1M1 15.5h1m8 0h1m17 0h1m0 0h1m4 0h1M1 16.5h1m31 0h1m32 0h1M11 17.5h1m10 0h1m40 0h1M27 18.5h1m2 0h1M31 19.5h1M0 21.5h1m24 0h1m37 0h1M22 22.5h1m32 0h1M31 23.5h1m20 0h1m5 0h1m2 0h1M58 24.5h1M8 25.5h1m7 0h1m1 0h1m35 0h1M29 26.5h1m23 0h1M13 27.5h1m13 0h1m27 0h1m5 0h1M13 28.5h1m5 0h1m6 0h1m3 0h1M20 29.5h1m4 0h1m10 0h1m18 0h1M12 30.5h1m10 0h1m11 0h1m27 0h1M32 31.5h1M14 32.5h1m16 0h1M19 33.5h1m6 0h1m30 0h1M17 34.5h1m0 0h1m6 0h1m32 0h1m1 0h1M10 35.5h1m4 0h1m3 0h1m39 0h1M4 36.5h1m7 0h1m7 0h1m44 0h1M15 37.5h1m1 0h1m35 0h1m7 0h1M16 38.5h1m7 0h1M5 40.5h1m21 0h1m26 0h1M21 41.5h1M15 43.5h1m44 0h1m4 0h1M12 44.5h1m0 0h1m15 0h1M11 45.5h1m46 0h1M13 46.5h1m3 0h1M7 47.5h1m47 0h1M14 48.5h1m43 0h1M1 50.5h1M4 51.5h1m49 0h1m9 0h1M29 52.5h1m0 0h1M3 53.5h1m7 0h1m13 0h1m10 0h1M1 54.5h1m18 0h1M30 55.5h1m4 0h1M9 56.5h1m6 0h1m7 0h1M9 57.5h1m51 0h1M21 58.5h1m2 0h1m1 0h1m34 0h1M23 59.5h1m3 0h1M9 60.5h1m1 0h1m12 0h1M26 61.5h1M20 62.5h1M2 63.5h1m10 0h1M29 64.5h1"/>
<path stroke="#fee898" d="M10 2.5h1m1 0h1m11 0h1M9 3.5h1m8 0h1M18 4.5h1m21 0h1M9 5.5h1m7 0h1m2 0h1M45 6.5h1M16 7.5h1M18 8.5h1m15 0h1M5 9.5h1M26 10.5h1m0 0h1m36 0h1M2 11.5h1m3 0h1m15 0h1m34 0h1M4 12.5h1m22 0h1M15 13.5h1m2 0h1m3 0h1m12 0h1m2 0h1M13 14.5h1M30 15.5h1m37 0h1M12 17.5h1m16 0h1m3 0h1m28 0h1M15 18.5h1m40 0h1M29 19.5h1m3 0h1M2 21.5h1m24 0h1m0 0h1m31 0h1M0 22.5h1m27 0h1m5 0h1M1 23.5h1m16 0h1m1 0h1m1 0h1m18 0h1m8 0h1m14 0h1M21 24.5h1M56 25.5h1M12 26.5h1m13 0h1M19 27.5h1m0 0h1m38 0h1M2 28.5h1m12 0h1m4 0h1M17 29.5h1m1 0h1m2 0h1M4 30.5h1m34 0h1M11 31.5h1m2 0h1m2 0h1M20 32.5h1m0 0h1m1 0h1m28 0h1M17 33.5h1m9 0h1m28 0h1M14 34.5h1m50 0h1m1 0h1M9 35.5h1m44 0h1M53 36.5h1M22 39.5h1M11 40.5h1m1 0h1M6 42.5h1m22 0h1M50 43.5h1M7 45.5h1m55 0h1M28 47.5h1m29 0h1M22 48.5h1m7 0h1M18 49.5h1m2 0h1m38 0h1m3 0h1M21 50.5h1M17 51.5h1m3 0h1m10 0h1m24 0h1M62 52.5h1m2 0h1M26 53.5h1M27 54.5h1m5 0h1M10 55.5h1m7 0h1m12 0h1M56 56.5h1M21 57.5h1m33 0h1M11 58.5h1m10 0h1m6 0h1m4 0h1M13 59.5h1M24 62.5h1m5 0h1M24 63.5h1M22 64.5h1"/>
<path stroke="#fee08b" d="M10 3.5h1m5 0h1M16 4.5h1M8 6.5h1m38 0h1m21 0h1M26 7.5h1m19 0h1M27 8.5h1m13 0h1M2 9.5h1m14 0h1M16 10.5h1m13 0h1m5 0h1m20 0h1M9 11.5h1M36 13.5h1M18 14.5h1m15 0h1M32 15.5h1m0 0h1m1 0h1M58 16.5h1M55 17.5h1M19 18.5h1m0 0h1m38 0h1M34 20.5h1M10 21.5h1m22 0h1m23 0h1m6 0h1M7 22.5h1m27 0h1M11 23.5h1m32 0h1m2 0h1M3 24.5h1m15 0h1m8 0h1m34 0h1M22 25.5h1m21 0h1m7 0h1M17 26.5h1m3 0h1m13 0h1m19 0h1m1 0h1M8 27.5h1m16 0h1m10 0h1M25 28.5h1m3 0h1m3 0h1M0 29.5h1m1 0h1m57 0h1M7 30.5h1m6 0h1m26 0h1m6 0h1M18 32.5h1m6 0h1m3 0h1m13 0h1m5 0h1M35 33.5h1M0 34.5h1m58 0h1M11 35.5h1m11 0h1m14 0h1M15 36.5h1m11 0h1m2 0h1M7 37.5h1m12 0h1M62 38.5h1M29 39.5h1M4 40.5h1m23 0h1M28 41.5h1m27 0h1m0 0h1M15 42.5h1m36 0h1M6 43.5h1m0 0h1m17 0h1M26 44.5h1m23 0h1M8 45.5h1m9 0h1m37 0h1M66 47.5h1M43 48.5h1M20 49.5h1M29 50.5h1M25 51.5h1m4 0h1m2 0h1M7 52.5h1m11 0h1m37 0h1M30 53.5h1m24 0h1M35 54.5h1M23 55.5h1m9 0h1m34 0h1M65 56.5h1M1 59.5h1m60 0h1M1 60.5h1m6 0h1M28 61.5h1M27 63.5h1"/>
<path stroke="#fed480" d="M2 2.5h1M25 3.5h1m19 0h1m3 0h1M17 4.5h1M24 6.5h1m1 0h1M23 7.5h1m3 0h1M17 8.5h1m49 0h1M36 9.5h1m1 0h1m2 0h1M7 10.5h1m50 0h1m0 0h1M19 11.5h1m19 0h1M9 12.5h1M39 13.5h1m19 0h1M31 14.5h1M12 15.5h1m11 0h1m15 0h1M11 16.5h1M19 17.5h1m5 0h1M33 18.5h1M5 19.5h1m56 0h1M13 20.5h1m6 0h1m37 0h1M8 21.5h1m14 0h1m11 0h1M29 22.5h1m2 0h1m23 0h1M28 23.5h1m0 0h1m6 0h1M22 24.5h1m38 0h1M9 25.5h1m4 0h1m14 0h1m4 0h1m35 0h1M10 26.5h1m5 0h1m13 0h1m0 0h1M14 27.5h1m14 0h1m3 0h1M18 28.5h1m25 0h1m13 0h1m6 0h1M10 30.5h1M4 31.5h1m2 0h1m15 0h1m11 0h1m14 0h1m8 0h1m7 0h1M54 32.5h1M18 33.5h1m9 0h1m0 0h1m14 0h1m0 0h1m5 0h1m3 0h1M21 34.5h1m1 0h1m20 0h1m17 0h1M20 35.5h1m4 0h1M23 36.5h1m22 0h1m5 0h1M26 38.5h1M8 39.5h1m0 0h1m18 0h1m19 0h1m18 0h1M61 40.5h1M41 41.5h1m17 0h1M9 42.5h1m2 0h1m1 0h1m13 0h1m27 0h1M10 43.5h1m0 0h1m14 0h1m31 0h1M12 46.5h1m14 0h1m20 0h1M17 47.5h1m27 0h1m19 0h1M12 48.5h1m48 0h1M61 49.5h1m4 0h1M14 50.5h1m44 0h1M18 51.5h1m4 0h1M15 52.5h1m10 0h1m31 0h1M27 53.5h1m31 0h1M31 54.5h1m35 0h1M52 55.5h1m7 0h1M12 56.5h1m37 0h1M29 57.5h1m32 0h1M11 59.5h1M27 60.5h1m0 0h1m6 0h1M19 61.5h1m2 0h1m6 0h1m1 0h1m2 0h1M7 62.5h1m13 0h1m11 0h1M0 63.5h1m7 0h1"/>
<path stroke="#fec776" d="M41 0.5h1M64 1.5h1M4 2.5h1M5 3.5h1m38 0h1m1 0h1m3 0h1M45 5.5h1M67 6.5h1M24 7.5h1m20 0h1M23 8.5h1m9 0h1m34 0h1M31 9.5h1m30 0h1M40 10.5h1M29 11.5h1M30 12.5h1m0 0h1m9 0h1M35 14.5h1m33 0h1M30 16.5h1m4 0h1m32 0h1M28 17.5h1M20 19.5h1m9 0h1m21 0h1M30 20.5h1m22 0h1M21 21.5h1M63 22.5h1m1 0h1M21 23.5h1m8 0h1M12 24.5h1m0 0h1m6 0h1m12 0h1m28 0h1M21 25.5h1m3 0h1m7 0h1m3 0h1m15 0h1M16 28.5h1m28 0h1M53 30.5h1m2 0h1M20 31.5h1m21 0h1M58 33.5h1M3 34.5h1m0 0h1m4 0h1m40 0h1m0 0h1m1 0h1M40 35.5h1m15 0h1M16 36.5h1m32 0h1m7 0h1M24 37.5h1m26 0h1m3 0h1m12 0h1M19 38.5h1m47 0h1M11 39.5h1m45 0h1m5 0h1m0 0h1M64 40.5h1M13 41.5h1M25 42.5h1m24 0h1M29 43.5h1m27 0h1m5 0h1M9 44.5h1m6 0h1m40 0h1M17 45.5h1m36 0h1m6 0h1M7 46.5h1m18 0h1M9 47.5h1M15 48.5h1m1 0h1M13 49.5h1M17 50.5h1m2 0h1m42 0h1m1 0h1M55 51.5h1m6 0h1m3 0h1M8 52.5h1m45 0h1m4 0h1m3 0h1M15 53.5h1m3 0h1M28 54.5h1m25 0h1M57 55.5h1m8 0h1M32 56.5h1m0 0h1m26 0h1M17 57.5h1M32 58.5h1M28 59.5h1M63 60.5h1M33 61.5h1M25 63.5h1m5 0h1"/>
<path stroke="#fdba6c" d="M41 1.5h1M12 4.5h1M22 6.5h1m0 0h1m1 0h1M15 7.5h1m13 0h1m17 0h1M44 8.5h1m3 0h1m17 0h1M43 9.5h1M67 11.5h1M0 12.5h1m37 0h1m27 0h1M34 13.5h1M32 16.5h1m24 0h1m9 0h1m1 0h1M52 18.5h1M37 19.5h1M25 20.5h1m33 0h1m3 0h1M55 21.5h1m0 0h1M36 22.5h1M24 23.5h1m0 0h1m17 0h1M18 24.5h1m22 0h1m17 0h1M6 25.5h1m20 0h1m0 0h1m11 0h1M19 26.5h1M50 27.5h1m9 0h1m2 0h1M22 28.5h1M16 29.5h1m4 0h1m10 0h1m1 0h1M34 30.5h1M2 31.5h1m38 0h1M24 32.5h1m9 0h1m16 0h1M24 33.5h1m29 0h1M15 34.5h1m15 0h1m15 0h1m6 0h1m1 0h1m0 0h1M30 35.5h1m8 0h1m26 0h1M28 37.5h1m34 0h1m3 0h1M51 38.5h1m16 0h1M18 39.5h1m7 0h1M7 40.5h1m22 0h1m29 0h1M54 41.5h1M9 43.5h1m18 0h1m27 0h1m5 0h1M19 44.5h1m3 0h1M12 45.5h1m14 0h1M56 46.5h1m2 0h1m9 0h1m0 0h1M20 47.5h1m39 0h1m7 0h1m0 0h1M8 48.5h1m10 0h1m9 0h1M30 49.5h1m2 0h1M27 50.5h1m2 0h1m33 0h1M18 52.5h1m5 0h1m10 0h1M34 53.5h1M32 54.5h1m32 0h1M32 55.5h1M28 56.5h1m2 0h1m23 0h1M31 57.5h1M27 58.5h1m2 0h1m36 0h1M32 59.5h1M13 60.5h1m19 0h1m31 0h1M25 61.5h1M28 62.5h1M30 63.5h1"/>
<path stroke="#fdae61" d="M22 2.5h1M44 5.5h1M68 6.5h1M36 8.5h1M40 13.5h1m23 0h1m5 0h1M57 15.5h1M24 16.5h1m35 0h1M31 17.5h1M32 19.5h1m1 0h1m20 0h1m8 0h1m2 0h1M29 20.5h1M31 21.5h1m21 0h1m7 0h1M25 22.5h1m1 0h1m16 0h1M27 24.5h1m1 0h1m13 0h1M55 25.5h1M22 26.5h1m39 0h1M11 27.5h1M38 28.5h1m17 0h1m5 0h1M27 29.5h1M30 30.5h1m0 0h1m11 0h1m16 0h1m8 0h1M24 31.5h1m20 0h1m7 0h1M40 32.5h1m23 0h1M34 33.5h1m12 0h1m18 0h1M62 35.5h1M29 36.5h1m26 0h1M14 37.5h1m11 0h1m23 0h1m19 0h1M53 38.5h1m4 0h1m5 0h1M66 39.5h1M25 40.5h1m24 0h1m1 0h1M53 41.5h1m8 0h1M55 42.5h1m3 0h1m4 0h1M27 43.5h1M17 44.5h1m4 0h1m4 0h1m17 0h1m9 0h1M55 45.5h1M24 46.5h1m5 0h1m20 0h1m5 0h1m3 0h1m0 0h1M61 47.5h1M55 48.5h1m11 0h1M58 49.5h1M25 50.5h1m6 0h1m16 0h1M24 51.5h1m10 0h1M28 52.5h1m38 0h1m1 0h1M4 53.5h1m17 0h1m28 0h1M11 54.5h1m50 0h1M54 55.5h1m7 0h1m7 0h1M49 56.5h1m16 0h1M54 57.5h1M12 58.5h1m47 0h1M25 59.5h1m34 0h1m7 0h1M2 62.5h1m28 0h1m2 0h1"/>
<path stroke="#fb9e5a" d="M66 1.5h1M25 2.5h1M62 4.5h1M33 5.5h1M66 6.5h1M22 7.5h1m37 0h1M47 8.5h1M24 9.5h1m17 0h1m24 0h1m3 0h1M41 11.5h1m13 0h1m3 0h1m10 0h1M33 14.5h1m5 0h1m14 0h1m8 0h1M58 15.5h1m1 0h1m2 0h1m1 0h1m4 0h1M59 16.5h1M31 18.5h1m28 0h1m0 0h1m3 0h1M59 19.5h1M19 20.5h1m36 0h1m0 0h1m2 0h1m0 0h1m0 0h1m8 0h1M30 21.5h1m1 0h1m3 0h1m3 0h1m10 0h1M30 22.5h1m6 0h1m15 0h1M26 23.5h1m22 0h1M54 24.5h1m16 0h1M38 25.5h1m22 0h1M57 27.5h1m13 0h1M24 28.5h1m25 0h1m10 0h1m2 0h1M29 29.5h1m27 0h1m4 0h1M24 30.5h1m8 0h1m2 0h1m0 0h1m26 0h1M38 31.5h1m4 0h1M4 32.5h1m33 0h1M5 33.5h1M1 34.5h1m18 0h1m17 0h1M6 35.5h1m46 0h1m7 0h1m3 0h1M32 36.5h1M13 37.5h1m5 0h1M66 38.5h1M56 40.5h1m13 0h1M14 41.5h1m15 0h1m19 0h1m4 0h1m9 0h1M65 42.5h1M53 43.5h1m1 0h1M31 44.5h1m22 0h1M29 45.5h1m27 0h1M16 46.5h1m3 0h1m7 0h1m36 0h1m1 0h1M63 47.5h1M24 48.5h1m9 0h1m31 0h1M16 49.5h1m6 0h1m7 0h1m24 0h1m6 0h1M24 50.5h1M5 52.5h1m21 0h1m3 0h1M24 53.5h1m6 0h1m24 0h1m14 0h1M34 54.5h1m12 0h1m2 0h1m8 0h1M51 55.5h1M48 56.5h1m4 0h1M35 57.5h1m1 0h1m22 0h1M33 59.5h1m24 0h1M40 60.5h1M63 61.5h1M33 63.5h1m0 0h1"/>
<path stroke="#f88e52" d="M23 1.5h1M15 3.5h1M48 4.5h1M19 5.5h1m5 0h1M2 10.5h1M42 11.5h1m2 0h1m14 0h1m7 0h1M36 15.5h1M56 16.5h1M61 17.5h1m6 0h1M37 18.5h1M60 19.5h1m9 0h1M35 20.5h1m30 0h1M22 21.5h1m6 0h1m8 0h1M26 22.5h1m6 0h1m4 0h1m12 0h1m2 0h1m7 0h1M17 23.5h1M24 25.5h1m26 0h1m8 0h1M33 26.5h1M31 27.5h1m5 0h1m6 0h1M28 28.5h1m11 0h1m16 0h1m11 0h1M24 29.5h1m16 0h1m23 0h1m1 0h1M28 30.5h1m22 0h1m3 0h1m2 0h1m7 0h1M25 31.5h1m2 0h1m1 0h1m3 0h1M2 32.5h1m38 0h1m14 0h1M46 33.5h1m13 0h1M35 34.5h1m3 0h1m0 0h1m5 0h1M48 35.5h1m6 0h1m12 0h1M28 36.5h1m16 0h1m2 0h1m14 0h1M22 37.5h1m19 0h1m16 0h1M11 38.5h1m2 0h1m15 0h1m18 0h1m5 0h1M30 39.5h1m0 0h1m22 0h1m0 0h1m6 0h1M12 40.5h1m38 0h1M16 41.5h1m10 0h1m1 0h1M44 42.5h1m6 0h1m6 0h1M13 43.5h1m37 0h1M24 44.5h1m7 0h1m19 0h1m6 0h1m6 0h1M45 45.5h1m6 0h1M19 46.5h1m30 0h1m12 0h1M18 48.5h1m1 0h1m5 0h1m33 0h1M54 49.5h1m2 0h1m7 0h1M18 50.5h1m38 0h1M52 51.5h1m18 0h1M33 52.5h1M32 53.5h1M57 54.5h1M1 55.5h1m48 0h1M37 56.5h1m16 0h1M33 57.5h1m18 0h1m11 0h1M31 59.5h1m6 0h1M61 60.5h1m8 0h1M40 61.5h1M29 63.5h1"/>
<path stroke="#f67d4a" d="M10 1.5h1m54 0h1M60 3.5h1M3 5.5h1m46 0h1m13 0h1m5 0h1M59 8.5h1M45 9.5h1m15 0h1M38 10.5h1m27 0h1m0 0h1m1 0h1M35 12.5h1m18 0h1m6 0h1m7 0h1M41 13.5h1m21 0h1M50 14.5h1m5 0h1M67 15.5h1M43 16.5h1m10 0h1M58 17.5h1M58 18.5h1m3 0h1M39 20.5h1M52 21.5h1M31 22.5h1m7 0h1M2 23.5h1m20 0h1m8 0h1m4 0h1m4 0h1m12 0h1m4 0h1m6 0h1m2 0h1M34 24.5h1m0 0h1m0 0h1M63 25.5h1m2 0h1M24 26.5h1m33 0h1m4 0h1m2 0h1M35 27.5h1m2 0h1m8 0h1m6 0h1M14 28.5h1m22 0h1m21 0h1M14 29.5h1m20 0h1m7 0h1m9 0h1m10 0h1M40 30.5h1m1 0h1m6 0h1M33 31.5h1m14 0h1m7 0h1m1 0h1m4 0h1M28 32.5h1m28 0h1m2 0h1M3 33.5h1m36 0h1m28 0h1M29 34.5h1m7 0h1m30 0h1M29 35.5h1m15 0h1m11 0h1m0 0h1M9 36.5h1m3 0h1m29 0h1m3 0h1m14 0h1m5 0h1M31 37.5h1M39 38.5h1m3 0h1m3 0h1m12 0h1m9 0h1M52 39.5h1m8 0h1M10 40.5h1m34 0h1M68 41.5h1m1 0h1M27 42.5h1m2 0h1m22 0h1M12 43.5h1m8 0h1m26 0h1M21 44.5h1m36 0h1M22 45.5h1m0 0h1m2 0h1m1 0h1m40 0h1M23 46.5h1m5 0h1M22 47.5h1m6 0h1m20 0h1m20 0h1M68 48.5h1M27 49.5h1m22 0h1m4 0h1M19 50.5h1m27 0h1m6 0h1m11 0h1M58 51.5h1m8 0h1M71 52.5h1M37 53.5h1m26 0h1m1 0h1M69 54.5h1M63 55.5h1M51 56.5h1m7 0h1M43 57.5h1m1 0h1m4 0h1m12 0h1m6 0h1M56 58.5h1m1 0h1M30 59.5h1M62 60.5h1M18 61.5h1"/>
<path stroke="#f46d43" d="M15 4.5h1M65 5.5h1m2 0h1M18 6.5h1M48 7.5h1M58 8.5h1m6 0h1M69 9.5h1M62 11.5h1m2 0h1m0 0h1M55 12.5h1m6 0h1M32 13.5h1m23 0h1m14 0h1M37 14.5h1m15 0h1m10 0h1m0 0h1M55 15.5h1m10 0h1M61 16.5h1M26 17.5h1M32 18.5h1m2 0h1m0 0h1m2 0h1m7 0h1m1 0h1m18 0h1M51 19.5h1m14 0h1M31 20.5h1m1 0h1m18 0h1m11 0h1M37 21.5h1m6 0h1m4 0h1m19 0h1M40 22.5h1m1 0h1m0 0h1M57 23.5h1M39 24.5h1m2 0h1m3 0h1m6 0h1m12 0h1M45 25.5h1m2 0h1m10 0h1m4 0h1m3 0h1M38 26.5h1m0 0h1m0 0h1m18 0h1m5 0h1M18 27.5h1m2 0h1m8 0h1m21 0h1m9 0h1M41 28.5h1m1 0h1m5 0h1m3 0h1m9 0h1m6 0h1M37 29.5h1m4 0h1m1 0h1m1 0h1m0 0h1m10 0h1m11 0h1M3 30.5h1m14 0h1m33 0h1m4 0h1M26 31.5h1m27 0h1M27 32.5h1m7 0h1m1 0h1m29 0h1m0 0h1M33 33.5h1m2 0h1m5 0h1m6 0h1M36 34.5h1m4 0h1m19 0h1m8 0h1M34 35.5h1M37 36.5h1m0 0h1m22 0h1m4 0h1M15 38.5h1m11 0h1m6 0h1m22 0h1M46 39.5h1M31 40.5h1m37 0h1M62 42.5h1M36 43.5h1M30 44.5h1m11 0h1m0 0h1M25 45.5h1m6 0h1m14 0h1m1 0h1M32 46.5h1m31 0h1M15 47.5h1m16 0h1m23 0h1m13 0h1M35 48.5h1m11 0h1m1 0h1m12 0h1M22 49.5h1m36 0h1m9 0h1M34 50.5h1m13 0h1m7 0h1M26 51.5h1m24 0h1m13 0h1M34 52.5h1m1 0h1m27 0h1m1 0h1M28 53.5h1m24 0h1m9 0h1M36 55.5h1m8 0h1m7 0h1m11 0h1M44 58.5h1m12 0h1m4 0h1M41 59.5h1m1 0h1m22 0h1M37 61.5h1"/>
<path stroke="#ec6146" d="M67 1.5h1M21 3.5h1m25 0h1m17 0h1m0 0h1M49 4.5h1m11 0h1m2 0h1M49 5.5h1m1 0h1M60 6.5h1m1 0h1M19 7.5h1m1 0h1m40 0h1m4 0h1m0 0h1M60 8.5h1M46 9.5h1m11 0h1M44 10.5h1m0 0h1m8 0h1m0 0h1M56 12.5h1m11 0h1M42 13.5h1m3 0h1m1 0h1m4 0h1m0 0h1m7 0h1M55 14.5h1m1 0h1m9 0h1m3 0h1M59 15.5h1M31 16.5h1m13 0h1m7 0h1M42 17.5h1m9 0h1m0 0h1M57 18.5h1m5 0h1M54 19.5h1M40 20.5h1m4 0h1m22 0h1M66 21.5h1M46 23.5h1m6 0h1M31 24.5h1m6 0h1m6 0h1m21 0h1m2 0h1M32 26.5h1m35 0h1M45 27.5h1m5 0h1m6 0h1m7 0h1m2 0h1M33 29.5h1m25 0h1m1 0h1m7 0h1M6 30.5h1m12 0h1m6 0h1m34 0h1m8 0h1M37 31.5h1m32 0h1M62 32.5h1M28 34.5h1m3 0h1m9 0h1m26 0h1M27 35.5h1m0 0h1m18 0h1m3 0h1m11 0h1m5 0h1M44 36.5h1m15 0h1M23 37.5h1m9 0h1m22 0h1m5 0h1M21 38.5h1m20 0h1M49 39.5h1m8 0h1m6 0h1M32 40.5h1m11 0h1m3 0h1M52 41.5h1M13 42.5h1m28 0h1M2 43.5h1m28 0h1m10 0h1m16 0h1m7 0h1m0 0h1m1 0h1M69 44.5h1M34 45.5h1m15 0h1m9 0h1m6 0h1M25 46.5h1m12 0h1m2 0h1m3 0h1m12 0h1m9 0h1M24 47.5h1m2 0h1m25 0h1m5 0h1m7 0h1M38 48.5h1m18 0h1m5 0h1M35 49.5h1m10 0h1m1 0h1m18 0h1M35 50.5h1m1 0h1m3 0h1M60 51.5h1m0 0h1m8 0h1M56 52.5h1m11 0h1M42 53.5h1m0 0h1m5 0h1m15 0h1M39 54.5h1m20 0h1m5 0h1M58 55.5h1m0 0h1M71 57.5h1M65 58.5h1M59 59.5h1M42 60.5h1M1 61.5h1m37 0h1M37 62.5h1"/>
<path stroke="#e45649" d="M59 2.5h1m3 0h1m5 0h1M21 4.5h1m28 0h1m18 0h1M60 5.5h1M52 6.5h1M20 7.5h1m30 0h1m14 0h1m2 0h1M24 8.5h1m21 0h1m6 0h1m15 0h1m0 0h1M44 9.5h1m6 0h1m2 0h1m1 0h1M42 10.5h1m5 0h1M51 11.5h1m2 0h1m3 0h1m10 0h1m1 0h1M42 12.5h1m2 0h1m18 0h1M58 13.5h1M44 14.5h1m16 0h1m0 0h1M69 15.5h1M70 16.5h1M59 17.5h1M53 18.5h1M35 19.5h1m0 0h1m7 0h1m2 0h1m8 0h1m0 0h1m0 0h1m9 0h1M41 20.5h1m1 0h1m7 0h1m18 0h1M42 21.5h1m16 0h1m11 0h1M46 22.5h1M35 23.5h1m18 0h1m7 0h1M26 24.5h1m37 0h1m0 0h1M26 25.5h1M43 26.5h1m0 0h1m16 0h1M28 27.5h1M23 28.5h1M1 29.5h1m28 0h1m7 0h1m1 0h1M67 30.5h1m0 0h1M39 31.5h1m9 0h1m7 0h1m13 0h1M39 32.5h1m6 0h1M38 33.5h1m11 0h1M42 35.5h1m0 0h1m8 0h1M40 36.5h1m1 0h1m15 0h1m0 0h1M47 37.5h1m23 0h1M12 38.5h1m35 0h1m5 0h1m4 0h1m9 0h1M23 39.5h1m19 0h1m1 0h1M55 40.5h1M45 41.5h1M34 42.5h1m11 0h1m7 0h1m2 0h1m9 0h1M30 43.5h1m3 0h1m0 0h1m13 0h1M28 44.5h1m6 0h1m10 0h1m4 0h1m1 0h1M33 45.5h1m17 0h1m12 0h1M22 46.5h1M25 47.5h1m9 0h1m3 0h1M25 48.5h1m1 0h1m20 0h1m1 0h1M24 49.5h1m1 0h1m1 0h1m0 0h1m7 0h1m14 0h1m0 0h1M33 50.5h1m17 0h1m15 0h1m2 0h1M31 51.5h1m2 0h1m7 0h1m3 0h1m12 0h1M32 52.5h1M47 53.5h1m2 0h1M42 54.5h1m2 0h1m10 0h1M41 55.5h1m7 0h1m14 0h1m2 0h1M38 56.5h1m31 0h1M34 57.5h1m1 0h1m1 0h1m18 0h1m10 0h1M41 58.5h1m26 0h1M34 59.5h1m0 0h1m0 0h1m20 0h1m11 0h1M36 61.5h1M1 62.5h1m33 0h1M12 64.5h1"/>
<path stroke="#dd4a4c" d="M60 1.5h1m1 0h1M61 2.5h1m6 0h1m1 0h1M64 3.5h1M51 4.5h1m4 0h1m11 0h1M46 5.5h1m9 0h1m0 0h1m13 0h1M53 6.5h1m3 0h1m5 0h1M43 8.5h1M50 9.5h1m6 0h1m7 0h1m4 0h1M62 10.5h1M47 11.5h1m5 0h1m10 0h1M60 12.5h1M45 13.5h1m1 0h1M47 14.5h1m4 0h1m5 0h1m11 0h1M31 15.5h1M36 16.5h1m25 0h1M37 17.5h1m16 0h1m9 0h1M50 18.5h1m3 0h1m16 0h1M41 19.5h1m6 0h1m0 0h1M48 20.5h1M41 21.5h1M48 22.5h1m18 0h1M27 23.5h1m5 0h1m6 0h1m4 0h1m5 0h1m7 0h1M24 24.5h1m19 0h1m2 0h1m3 0h1m16 0h1M39 25.5h1m18 0h1m6 0h1M47 26.5h1m22 0h1M34 27.5h1m7 0h1m27 0h1M35 28.5h1m15 0h1M48 29.5h1M32 30.5h1M31 31.5h1m15 0h1m14 0h1M33 32.5h1m14 0h1m4 0h1m11 0h1m3 0h1M37 33.5h1m23 0h1m2 0h1M64 34.5h1M36 35.5h1m4 0h1m25 0h1M39 36.5h1M40 37.5h1M9 38.5h1m10 0h1m12 0h1m29 0h1M32 39.5h1M29 40.5h1m12 0h1m0 0h1m19 0h1M39 41.5h1m2 0h1m1 0h1m3 0h1m11 0h1M8 42.5h1m24 0h1m29 0h1m4 0h1M32 43.5h1m8 0h1m22 0h1M38 44.5h1m32 0h1M30 45.5h1M31 46.5h1m2 0h1m0 0h1m13 0h1M21 47.5h1m20 0h1m0 0h1m0 0h1m3 0h1m3 0h1M31 48.5h1m37 0h1M25 49.5h1m12 0h1m6 0h1m1 0h1M43 50.5h1m14 0h1M47 51.5h1m0 0h1M39 52.5h1m2 0h1m9 0h1m2 0h1M44 53.5h1m9 0h1m13 0h1M46 54.5h1m6 0h1M43 55.5h1m12 0h1m14 0h1M30 56.5h1m15 0h1m10 0h1m3 0h1m9 0h1M44 57.5h1M37 58.5h1m21 0h1M40 59.5h1m23 0h1M37 60.5h1m1 0h1M29 62.5h1M34 64.5h1"/>
<path stroke="#d53e4f" d="M23 3.5h1m44 0h1m2 0h1M57 4.5h1M23 5.5h1m0 0h1m38 0h1M48 6.5h1m7 0h1M57 7.5h1m12 0h1M49 8.5h1m2 0h1m11 0h1M47 9.5h1m0 0h1m4 0h1m5 0h1m8 0h1M47 10.5h1m12 0h1m2 0h1m1 0h1m4 0h1m0 0h1M44 11.5h1m11 0h1m4 0h1M48 12.5h1M52 13.5h1m4 0h1M45 14.5h1m3 0h1M39 15.5h1m8 0h1m3 0h1m3 0h1M51 16.5h1m0 0h1m10 0h1m0 0h1M36 17.5h1m2 0h1m1 0h1m3 0h1m3 0h1m0 0h1m20 0h1M40 18.5h1m1 0h1M65 19.5h1M42 20.5h1m7 0h1M43 21.5h1m1 0h1M45 22.5h1m25 0h1M68 23.5h1M32 24.5h1m16 0h1m6 0h1M32 25.5h1m14 0h1m1 0h1M25 26.5h1m2 0h1m12 0h1m3 0h1m2 0h1m11 0h1M43 27.5h1m5 0h1m18 0h1M36 28.5h1m10 0h1m6 0h1m5 0h1M31 29.5h1m17 0h1m4 0h1m11 0h1M44 31.5h1m20 0h1M32 32.5h1m30 0h1m2 0h1M48 33.5h1M34 34.5h1m13 0h1m3 0h1M31 35.5h1m3 0h1m1 0h1m32 0h1M34 36.5h1m34 0h1m1 0h1M36 37.5h1m0 0h1m7 0h1m0 0h1m5 0h1M32 38.5h1m12 0h1m4 0h1m14 0h1M39 39.5h1m28 0h1M65 40.5h1m0 0h1M32 41.5h1m33 0h1M19 42.5h1m17 0h1m7 0h1M38 43.5h1m32 0h1M41 44.5h1m5 0h1m0 0h1m11 0h1m2 0h1M19 45.5h1m1 0h1m9 0h1m8 0h1m24 0h1m5 0h1M42 46.5h1m17 0h1M33 47.5h1m0 0h1m27 0h1M37 48.5h1m6 0h1m11 0h1m7 0h1M51 49.5h1M36 51.5h1m12 0h1M60 52.5h1M35 53.5h1m3 0h1m0 0h1m4 0h1m16 0h1m7 0h1M41 54.5h1m26 0h1M36 56.5h1m2 0h1m1 0h1M42 57.5h1m22 0h1M64 58.5h1M39 59.5h1m27 0h1m2 0h1M36 60.5h1m32 0h1M35 61.5h1M36 63.5h1"/>
<path stroke="#c72f4c" d="M63 0.5h1m0 0h1m1 0h1M64 2.5h1m1 0h1m0 0h1M52 4.5h1m17 0h1M47 5.5h1m18 0h1m0 0h1M65 6.5h1m4 0h1m0 0h1M49 7.5h1m6 0h1M51 8.5h1M66 9.5h1M49 10.5h1M49 11.5h1M40 12.5h1m5 0h1m0 0h1m2 0h1m0 0h1M65 13.5h1m0 0h1M66 14.5h1M38 15.5h1m4 0h1m1 0h1m5 0h1m9 0h1M37 16.5h1m0 0h1m1 0h1m6 0h1m7 0h1m15 0h1M46 17.5h1m13 0h1m8 0h1M46 18.5h1M40 19.5h1m5 0h1M39 21.5h1M57 22.5h1m3 0h1m2 0h1m5 0h1M39 23.5h1M37 24.5h1m19 0h1M30 25.5h1m15 0h1m3 0h1M54 26.5h1M40 27.5h1m7 0h1M39 28.5h1m31 0h1M23 29.5h1m26 0h1m12 0h1m7 0h1M44 30.5h1m2 0h1m2 0h1m11 0h1m8 0h1M29 31.5h1m10 0h1m19 0h1M30 33.5h1m22 0h1m5 0h1m2 0h1m0 0h1M30 34.5h1m2 0h1m29 0h1M33 35.5h1m15 0h1M55 36.5h1M29 37.5h1m5 0h1M61 38.5h1M12 39.5h1m25 0h1M71 40.5h1M33 41.5h1m1 0h1m11 0h1m10 0h1M48 42.5h1m12 0h1m9 0h1M44 43.5h1m0 0h1m6 0h1M37 44.5h1m26 0h1m3 0h1m1 0h1M59 45.5h1m2 0h1m3 0h1M33 46.5h1m12 0h1m0 0h1m6 0h1M23 47.5h1m6 0h1m9 0h1m8 0h1M32 48.5h1m32 0h1M39 49.5h1m0 0h1m21 0h1M26 50.5h1m4 0h1m6 0h1m1 0h1m9 0h1M43 51.5h1m9 0h1m9 0h1M44 52.5h1m3 0h1m0 0h1M41 53.5h1m4 0h1m22 0h1M30 54.5h1m12 0h1m0 0h1m7 0h1m8 0h1m8 0h1M44 56.5h1M40 58.5h1m22 0h1M37 59.5h1m4 0h1m22 0h1m5 0h1M41 60.5h1M62 61.5h1M35 63.5h1"/>
<path stroke="#ba2048" d="M68 1.5h1M59 3.5h1m3 0h1m3 0h1M55 4.5h1m9 0h1M53 5.5h1M64 6.5h1M50 7.5h1m8 0h1m4 0h1M45 8.5h1M22 9.5h1m26 0h1M53 10.5h1M46 11.5h1M53 12.5h1m5 0h1m5 0h1M61 13.5h1m7 0h1M41 15.5h1m4 0h1M44 16.5h1m20 0h1M43 17.5h1m4 0h1m17 0h1M44 18.5h1m0 0h1m5 0h1M38 19.5h1m0 0h1m2 0h1m10 0h1M47 20.5h1m7 0h1m11 0h1M46 21.5h1m3 0h1m3 0h1m15 0h1M41 22.5h1m5 0h1m2 0h1m17 0h1M38 23.5h1m9 0h1m20 0h1M67 25.5h1m1 0h1M34 26.5h1m14 0h1m0 0h1m0 0h1M32 27.5h1M46 28.5h1M54 30.5h1M55 31.5h1m5 0h1m4 0h1m1 0h1M26 32.5h1m23 0h1M39 33.5h1m30 0h1m0 0h1M44 35.5h1m1 0h1M35 36.5h1m15 0h1M32 37.5h1M28 38.5h1m7 0h1m7 0h1M36 39.5h1m13 0h1m18 0h1M38 40.5h1m10 0h1m7 0h1m10 0h1M10 41.5h1m0 0h1M35 42.5h1m4 0h1m0 0h1m7 0h1M46 43.5h1m14 0h1m7 0h1M34 44.5h1M20 45.5h1m14 0h1M43 46.5h1m8 0h1m2 0h1M26 47.5h1m10 0h1m0 0h1m8 0h1m16 0h1M53 48.5h1M34 49.5h1m14 0h1M42 50.5h1m1 0h1M37 51.5h1m6 0h1m5 0h1M37 52.5h1m0 0h1m1 0h1m0 0h1m3 0h1m15 0h1m8 0h1M38 54.5h1m16 0h1m2 0h1m4 0h1m7 0h1M40 55.5h1m3 0h1m3 0h1m20 0h1M42 56.5h1m9 0h1m5 0h1m3 0h1m0 0h1M69 57.5h1M38 58.5h1m0 0h1m30 0h1M63 59.5h1M34 60.5h1m32 0h1m3 0h1M38 61.5h1m25 0h1M36 62.5h1"/>
<path stroke="#ac1045" d="M65 0.5h1M62 2.5h1M69 3.5h1M54 4.5h1m11 0h1M21 5.5h1m37 0h1M58 6.5h1m0 0h1m1 0h1M53 7.5h1m4 0h1M54 8.5h1m7 0h1M52 9.5h1M52 10.5h1m3 0h1m4 0h1M43 11.5h1m4 0h1m1 0h1M57 12.5h1m5 0h1M40 14.5h1m1 0h1M37 15.5h1m11 0h1m3 0h1m0 0h1m9 0h1m6 0h1M67 17.5h1M38 18.5h1m2 0h1m13 0h1m10 0h1m3 0h1M37 20.5h1m8 0h1m2 0h1m19 0h1M59 22.5h1M34 23.5h1M40 24.5h1M31 25.5h1m3 0h1m35 0h1M64 26.5h1m4 0h1m1 0h1M39 27.5h1m24 0h1M32 28.5h1M39 29.5h1m12 0h1M27 30.5h1m10 0h1m20 0h1M44 32.5h1m0 0h1m24 0h1M41 33.5h1m10 0h1m15 0h1M45 34.5h1M64 35.5h1M34 37.5h1m9 0h1m13 0h1m5 0h1m0 0h1M37 38.5h1m3 0h1m10 0h1M70 39.5h1M34 40.5h1m4 0h1m19 0h1m7 0h1M9 41.5h1m21 0h1m2 0h1m32 0h1M38 42.5h1m0 0h1m7 0h1m18 0h1M39 43.5h1m0 0h1M33 44.5h1m2 0h1m2 0h1m4 0h1m16 0h1M24 45.5h1m13 0h1m5 0h1M36 46.5h1M31 47.5h1M28 48.5h1m13 0h1m2 0h1m0 0h1m4 0h1m2 0h1m15 0h1M32 49.5h1m3 0h1m4 0h1m2 0h1M45 50.5h1m0 0h1m8 0h1m5 0h1m7 0h1M40 51.5h1m0 0h1m3 0h1m22 0h1M46 52.5h1M38 55.5h1m8 0h1M40 56.5h1m4 0h1M36 58.5h1m34 0h1"/>
<path stroke="#9e0142" d="M59 1.5h1m3 0h1M58 2.5h1m1 0h1m4 0h1m5 0h1M22 3.5h1m31 0h1m2 0h1m0 0h1m2 0h1m0 0h1m7 0h1M22 4.5h1m0 0h1m29 0h1m4 0h1m0 0h1m0 0h1m2 0h1m3 0h1m3 0h1M22 5.5h1m29 0h1m1 0h1m0 0h1m2 0h1m2 0h1m0 0h1m6 0h1M20 6.5h1m0 0h1m27 0h1m0 0h1m0 0h1m2 0h1m0 0h1M52 7.5h1m1 0h1m0 0h1m5 0h1m1 0h1m1 0h1m5 0h1M50 8.5h1m4 0h1m0 0h1m0 0h1m3 0h1m1 0h1m7 0h1M55 9.5h1m4 0h1m2 0h1m0 0h1M43 10.5h1m2 0h1m3 0h1m0 0h1m16 0h1M52 11.5h1m10 0h1M43 12.5h1m0 0h1m4 0h1m2 0h1m5 0h1m8 0h1m2 0h1m0 0h1M43 13.5h1m0 0h1m4 0h1m0 0h1m0 0h1m3 0h1m4 0h1m6 0h1m0 0h1M41 14.5h1m1 0h1m2 0h1m1 0h1m2 0h1m7 0h1m8 0h1M42 15.5h1m1 0h1m2 0h1m2 0h1m11 0h1M39 16.5h1m1 0h1m0 0h1m3 0h1m1 0h1m0 0h1m0 0h1M32 17.5h1m5 0h1m1 0h1m3 0h1m2 0h1m3 0h1m4 0h1m0 0h1m7 0h1m4 0h1M43 18.5h1m4 0h1m15 0h1m2 0h1m1 0h1M43 19.5h1m1 0h1m4 0h1m10 0h1m1 0h1m5 0h1m1 0h1M32 20.5h1m3 0h1m1 0h1m5 0h1m9 0h1m10 0h1M47 21.5h1m0 0h1m9 0h1m6 0h1m1 0h1m0 0h1M49 22.5h1m2 0h1m5 0h1m1 0h1m5 0h1m2 0h1M66 23.5h1m4 0h1M48 24.5h1m1 0h1m1 0h1m2 0h1m13 0h1M36 25.5h1m4 0h1m0 0h1m0 0h1m18 0h1M36 26.5h1m0 0h1m4 0h1m3 0h1m5 0h1m14 0h1M41 27.5h1m4 0h1m6 0h1m11 0h1m1 0h1M31 28.5h1m2 0h1m7 0h1m9 0h1m13 0h1m0 0h1m0 0h1M45 29.5h1m5 0h1m4 0h1m11 0h1M25 30.5h1m19 0h1m0 0h1m18 0h1M3 31.5h1m42 0h1m4 0h1m0 0h1m16 0h1M3 32.5h1m32 0h1m5 0h1m4 0h1m7 0h1m3 0h1m11 0h1M31 33.5h1m0 0h1m10 0h1m21 0h1m1 0h1M43 34.5h1m5 0h1m21 0h1M32 35.5h1m17 0h1m9 0h1m10 0h1M31 36.5h1m1 0h1m2 0h1m4 0h1m8 0h1m19 0h1M27 37.5h1m2 0h1m7 0h1m0 0h1m1 0h1m1 0h1m4 0h1m0 0h1m10 0h1m5 0h1m2 0h1M13 38.5h1m15 0h1m1 0h1m3 0h1m2 0h1m1 0h1m5 0h1m24 0h1M10 39.5h1m2 0h1m0 0h1m18 0h1m0 0h1m0 0h1m1 0h1m2 0h1m0 0h1m0 0h1m1 0h1m2 0h1m11 0h1m11 0h1M33 40.5h1m1 0h1m0 0h1m0 0h1m2 0h1m0 0h1m4 0h1m0 0h1m10 0h1M36 41.5h1m0 0h1m0 0h1m1 0h1m2 0h1m2 0h1m2 0h1m14 0h1m4 0h1m1 0h1M31 42.5h1m0 0h1m3 0h1m6 0h1m16 0h1m8 0h1m0 0h1M33 43.5h1m3 0h1m5 0h1m3 0h1M40 44.5h1m8 0h1m12 0h1m2 0h1M36 45.5h1m0 0h1m1 0h1m1 0h1m0 0h1m0 0h1m2 0h1m1 0h1m4 0h1m14 0h1m1 0h1M21 46.5h1m15 0h1m1 0h1m0 0h1m3 0h1m21 0h1m4 0h1M36 47.5h1m4 0h1m4 0h1m4 0h1m2 0h1M33 48.5h1m2 0h1m2 0h1m0 0h1m0 0h1m10 0h1m18 0h1M42 49.5h1m0 0h1m26 0h1m0 0h1M36 50.5h1m2 0h1m12 0h1m0 0h1m6 0h1m7 0h1m2 0h1M38 51.5h1m0 0h1m29 0h1M43 52.5h1m3 0h1m2 0h1m0 0h1M38 53.5h1m9 0h1m3 0h1m7 0h1m0 0h1m5 0h1M36 54.5h1m0 0h1m2 0h1m7 0h1m0 0h1m14 0h1M37 55.5h1m1 0h1m2 0h1m3 0h1m8 0h1M43 56.5h1m3 0h1m16 0h1m2 0h1m0 0h1m0 0h1M39 57.5h1m0 0h1m0 0h1m14 0h1m2 0h1m6 0h1m0 0h1M42 58.5h1m0 0h1m10 0h1m11 0h1m2 0h1M38 60.5h1m27 0h1m1 0h1M38 62.5h1M37 63.5h1"/>
</g>
<path d="M21.7 22h4.4v4.5h-4.4zM30.5 22h4.4v4.5h-4.4zM48.1 22h4.4v4.5h-4.4zM65.7 22h4.4v4.5h-4.4zM118.5 22h4.4v4.5h-4.4zM158.1 22h4.4v4.5h-4.4zM193.3 22h13.2v4.5h-13.2zM290.1 22h17.6v4.5h-17.6zM17.3 26.4h8.8v4.5h-8.8zM30.5 26.4h48.4v4.5h-48.4zM114.1 26.4h17.6v4.5h-17.6zM140.5 26.4h4.4v4.5h-4.4zM149.3 26.4h13.2v4.5h-13.2zM188.9 26.4h22v4.5h-22zM272.5 26.4h8.8v4.5h-8.8zM285.7 26.4h30.8v4.5h-30.8zM12.9 30.9h83.6v4.5h-83.6zM109.7 30.9h57.2v4.5h-57.2zM180.1 30.9h4.4v4.5h-4.4zM188.9 30.9h35.2v4.5h-35.2zM268.1 30.9h61.6v4.5h-61.6zM12.9 35.4h224.4v4.5h-224.4zM250.5 35.4h4.4v4.5h-4.4zM263.7 35.4h66v4.5h-66zM12.9 39.8h316.8v4.5h-316.8zM12.9 44.2h316.8v4.5h-316.8zM12.9 48.7h316.8v4.5h-316.8zM12.9 53.2h316.8v4.5h-316.8zM12.9 57.6h316.8v4.5h-316.8zM12.9 62.1h316.8v4.5h-316.8zM12.9 66.5h316.8v4.5h-316.8zM12.9 71h316.8v4.5h-316.8zM12.9 75.4h316.8v4.5h-316.8zM12.9 79.8h316.8v4.5h-316.8zM12.9 84.3h316.8v4.5h-316.8zM12.9 88.8h316.8v4.5h-316.8zM12.9 93.2h316.8v4.5h-316.8zM12.9 97.7h316.8v4.5h-316.8zM12.9 102.1h316.8v4.5h-316.8zM12.9 106.5h316.8v4.5h-316.8zM12.9 111h316.8v4.5h-316.8zM12.9 115.5h316.8v4.5h-316.8zM12.9 119.9h316.8v4.5h-316.8zM12.9 124.4h316.8v4.5h-316.8zM12.9 128.8h316.8v4.5h-316.8zM12.9 133.2h316.8v4.5h-316.8zM12.9 137.7h316.8v4.5h-316.8zM12.9 142.2h316.8v4.5h-316.8zM12.9 146.6h316.8v4.5h-316.8zM12.9 151.1h316.8v4.5h-316.8zM12.9 155.5h316.8v4.5h-316.8zM12.9 160h316.8v4.5h-316.8zM12.9 164.4h316.8v4.5h-316.8zM12.9 168.8h316.8v4.5h-316.8zM12.9 173.3h316.8v4.5h-316.8zM12.9 177.8h316.8v4.5h-316.8zM12.9 182.2h316.8v4.5h-316.8zM12.9 186.7h316.8v4.5h-316.8zM12.9 191.1h316.8v4.5h-316.8zM12.9 195.6h316.8v4.5h-316.8zM12.9 200h316.8v4.5h-316.8zM12.9 204.5h316.8v4.5h-316.8zM12.9 208.9h316.8v4.5h-316.8zM12.9 213.3h316.8v4.5h-316.8zM12.9 217.8h316.8v4.5h-316.8zM12.9 222.2h316.8v4.5h-316.8zM12.9 226.7h316.8v4.5h-316.8zM12.9 231.2h316.8v4.5h-316.8zM12.9 235.6h316.8v4.5h-316.8zM12.9 240.1h316.8v4.5h-316.8zM12.9 244.5h316.8v4.5h-316.8zM12.9 249h316.8v4.5h-316.8zM12.9 253.4h316.8v4.5h-316.8zM12.9 257.9h316.8v4.5h-316.8zM12.9 262.3h316.8v4.5h-316.8zM12.9 266.8h316.8v4.5h-316.8zM12.9 271.2h316.8v4.5h-316.8zM12.9 275.6h202.4v4.5h-202.4zM232.9 275.6h4.4v4.5h-4.4zM241.7 275.6h4.4v4.5h-4.4zM250.5 275.6h79.2v4.5h-79.2zM12.9 280.1h198v4.5h-198zM250.5 280.1h4.4v4.5h-4.4zM259.3 280.1h70.4v4.5h-70.4zM12.9 284.6h193.6v4.5h-193.6zM263.7 284.6h66v4.5h-66zM12.9 289h189.2v4.5h-189.2zM281.3 289h48.4v4.5h-48.4zM12.9 293.4h180.4v4.5h-180.4zM285.7 293.4h13.2v4.5h-13.2zM12.9 297.9h171.6v4.5h-171.6zM12.9 302.4h26.4v4.5h-26.4zM43.7 302.4h83.6v4.5h-83.6zM131.7 302.4h48.4v4.5h-48.4zM26.1 306.8h4.4v4.5h-4.4zM52.5 306.8h52.8v4.5h-52.8zM109.7 306.8h8.8v4.5h-8.8zM140.5 306.8h8.8v4.5h-8.8zM162.5 306.8h4.4v4.5h-4.4z" fill="url(#spots)"/>
<ellipse cx="20" cy="150" rx="11" ry="2.2" fill="#f4f4f6" transform="rotate(-12 20 150)"/>
<ellipse cx="84" cy="293" rx="8" ry="1.8" fill="#f4f4f6" transform="rotate(-10 84 293)"/>
</g>
<text x="1730.5" y="2263.5" font-size="23.6" text-anchor="start" fill="#222">Mal_Epithelial</text>
<rect x="1899" y="2222.8" width="153.4" height="38.2" fill="url(#spec2)"/>
<path d="M1935.9 2222.8 v7 M1935.9 2254 v7" stroke="#fff" stroke-width="1.3" stroke-opacity="0.8"/>
<text x="1935.9" y="2284.3" font-size="20.4" text-anchor="middle" fill="#222" letter-spacing="-0.6">−0.4</text>
<path d="M1985.8 2222.8 v7 M1985.8 2254 v7" stroke="#fff" stroke-width="1.3" stroke-opacity="0.8"/>
<text x="1985.8" y="2284.3" font-size="20.4" text-anchor="middle" fill="#222" letter-spacing="-0.6">0.0</text>
<path d="M2035.8 2222.8 v7 M2035.8 2254 v7" stroke="#fff" stroke-width="1.3" stroke-opacity="0.8"/>
<text x="2035.8" y="2284.3" font-size="20.4" text-anchor="middle" fill="#222" letter-spacing="-0.6">0.4</text>
<g transform="translate(1699.8 2327)">
<rect x="0" y="0" width="342" height="328" fill="#EFEFF1"/>
<path d="M0 24 L13.5 26 L14 305 L0 307 Z" fill="url(#purp)"/>
<path d="M327 22 L341 20 L341 300 L327 299 Z" fill="url(#purp)"/>
<g transform="translate(12.9 22) scale(4.4 4.45)" fill="none" stroke-width="1">
<path stroke="#5e4fa2" d="M60 2.5h1m2 0h1M63 4.5h1M66 7.5h1m1 0h1M57 11.5h1M59 12.5h1M48 13.5h1M56 19.5h1M50 24.5h1M60 30.5h1m0 0h1M64 32.5h1M59 34.5h1M57 36.5h1m0 0h1M60 38.5h1M50 41.5h1m9 0h1M55 43.5h1M55 49.5h1M45 50.5h1m2 0h1M46 51.5h1M49 53.5h1M51 54.5h1m0 0h1M48 55.5h1m2 0h1m0 0h1m1 0h1m2 0h1M51 56.5h1m4 0h1m1 0h1M56 57.5h1"/>
<path stroke="#535da9" d="M65 2.5h1M59 3.5h1M55 6.5h1m12 0h1M71 11.5h1M49 24.5h1M66 25.5h1M61 28.5h1M58 46.5h1M41 48.5h1m10 0h1M56 49.5h1M51 51.5h1M45 54.5h1M56 55.5h1M67 60.5h1"/>
<path stroke="#486cb0" d="M64 4.5h1m1 0h1m4 0h1M69 5.5h1M50 15.5h1M54 17.5h1m9 0h1M54 23.5h1M58 24.5h1m12 0h1M70 27.5h1M62 28.5h1M63 33.5h1m0 0h1M63 34.5h1M59 36.5h1M58 38.5h1m12 0h1M60 40.5h1M39 41.5h1M57 46.5h1M55 48.5h1M66 50.5h1M50 57.5h1"/>
<path stroke="#3d7ab6" d="M50 14.5h1M53 18.5h1M68 21.5h1M60 24.5h1M54 25.5h1m10 0h1M65 28.5h1M65 32.5h1M65 33.5h1M62 34.5h1M37 38.5h1M44 42.5h1M45 44.5h1M69 49.5h1M55 50.5h1M60 52.5h1M57 54.5h1M59 56.5h1m3 0h1M70 59.5h1"/>
<path stroke="#3288bd" d="M66 0.5h1M62 2.5h1m1 0h1M67 3.5h1M66 6.5h1m4 0h1M58 7.5h1m6 0h1M53 14.5h1M54 18.5h1M57 21.5h1M49 22.5h1m8 0h1M49 23.5h1M50 25.5h1M60 27.5h1M56 28.5h1M58 32.5h1M58 33.5h1M60 34.5h1M62 35.5h1M50 36.5h1M38 37.5h1m32 0h1M56 44.5h1M55 45.5h1M59 46.5h1M39 48.5h1M54 50.5h1m8 0h1M71 51.5h1M58 53.5h1M61 55.5h1m8 0h1M46 56.5h1m0 0h1"/>
<path stroke="#3f96b7" d="M62 3.5h1M62 6.5h1M69 7.5h1M68 8.5h1m1 0h1m0 0h1M70 11.5h1M65 12.5h1M59 13.5h1m8 0h1M64 14.5h1M47 17.5h1M63 19.5h1M67 21.5h1M44 22.5h1m16 0h1m4 0h1M60 23.5h1m3 0h1M41 24.5h1M70 25.5h1M64 26.5h1M69 30.5h1M64 31.5h1M59 32.5h1m0 0h1M49 33.5h1m12 0h1M43 35.5h1m13 0h1m1 0h1M60 36.5h1m1 0h1M37 37.5h1m20 0h1m1 0h1M60 39.5h1M47 40.5h1M36 41.5h1m14 0h1m7 0h1M47 42.5h1m21 0h1M43 44.5h1M45 47.5h1m12 0h1M39 49.5h1m10 0h1m10 0h1M51 50.5h1M53 51.5h1M51 52.5h1m1 0h1m1 0h1M58 54.5h1m1 0h1M58 55.5h1M52 56.5h1m4 0h1M61 60.5h1"/>
<path stroke="#4ca5b1" d="M64 3.5h1m0 0h1M57 4.5h1M61 5.5h1M55 12.5h1M52 13.5h1m12 0h1M52 14.5h1M45 15.5h1m14 0h1M54 16.5h1M61 17.5h1M69 18.5h1M59 21.5h1M50 22.5h1M63 23.5h1M65 24.5h1M48 26.5h1m2 0h1M50 27.5h1m6 0h1m3 0h1m5 0h1M54 29.5h1M55 30.5h1m2 0h1M51 31.5h1m9 0h1M50 32.5h1m12 0h1M64 34.5h1m1 0h1m1 0h1m2 0h1M44 35.5h1m2 0h1M56 36.5h1M47 37.5h1m19 0h1M63 38.5h1M40 40.5h1M46 43.5h1m17 0h1M52 44.5h1m6 0h1M50 45.5h1M45 46.5h1m5 0h1m1 0h1M43 47.5h1m17 0h1M64 48.5h1M70 49.5h1M50 50.5h1M37 51.5h1m10 0h1M40 53.5h1M59 55.5h1m4 0h1M48 56.5h1m1 0h1m11 0h1M52 57.5h1m11 0h1M56 58.5h1M62 59.5h1m0 0h1m2 0h1M63 60.5h1"/>
<path stroke="#59b4ab" d="M58 2.5h1M60 3.5h1m7 0h1M67 5.5h1M63 7.5h1M59 8.5h1M53 9.5h1m13 0h1M54 11.5h1M57 13.5h1M65 14.5h1M52 15.5h1M49 17.5h1m1 0h1m13 0h1M56 18.5h1m1 0h1M59 19.5h1m10 0h1M42 20.5h1m7 0h1m3 0h1m1 0h1m2 0h1M45 22.5h1m10 0h1m11 0h1M52 23.5h1m2 0h1m2 0h1M48 24.5h1m12 0h1M56 25.5h1M57 26.5h1m5 0h1m1 0h1m3 0h1M56 27.5h1M55 28.5h1M60 31.5h1m2 0h1M53 32.5h1m8 0h1m8 0h1M59 33.5h1M53 35.5h1M69 36.5h1M35 37.5h1m9 0h1m11 0h1m10 0h1M38 38.5h1m31 0h1M47 39.5h1m11 0h1M33 40.5h1m0 0h1m33 0h1M30 41.5h1m31 0h1M57 42.5h1m13 0h1M47 44.5h1m17 0h1M69 45.5h1M47 46.5h1m16 0h1M49 47.5h1m2 0h1m1 0h1m10 0h1M53 48.5h1M51 49.5h1m2 0h1M42 50.5h1M47 51.5h1m20 0h1M53 54.5h1m9 0h1M46 55.5h1m6 0h1M65 57.5h1M44 58.5h1m13 0h1"/>
<path stroke="#66c2a5" d="M67 1.5h1M70 4.5h1M64 6.5h1m5 0h1M59 7.5h1M63 9.5h1M51 12.5h1m1 0h1m10 0h1M49 13.5h1M55 14.5h1m1 0h1M57 15.5h1m7 0h1m4 0h1M57 19.5h1m0 0h1M52 20.5h1M48 21.5h1m3 0h1m1 0h1m15 0h1M62 22.5h1M51 23.5h1M64 24.5h1m5 0h1M46 25.5h1m8 0h1m1 0h1m5 0h1M49 26.5h1m6 0h1M54 27.5h1M56 33.5h1m4 0h1M42 34.5h1m18 0h1M67 36.5h1M44 37.5h1m16 0h1m2 0h1m4 0h1M59 38.5h1M69 39.5h1M44 40.5h1m3 0h1m8 0h1m7 0h1m1 0h1M37 41.5h1M55 42.5h1M45 43.5h1M62 44.5h1M47 45.5h1m3 0h1m11 0h1M48 46.5h1M60 47.5h1M46 48.5h1m13 0h1M41 50.5h1m11 0h1M69 51.5h1M52 52.5h1m16 0h1M44 53.5h1m12 0h1m11 0h1M47 55.5h1M53 56.5h1m1 0h1M45 57.5h1m13 0h1m6 0h1M60 59.5h1m0 0h1M63 61.5h1"/>
<path stroke="#77c9a5" d="M61 2.5h1m5 0h1M63 3.5h1m7 0h1M68 4.5h1M68 5.5h1m2 0h1M69 6.5h1M60 7.5h1m0 0h1M57 8.5h1m2 0h1m6 0h1M54 9.5h1M51 10.5h1m13 0h1M54 12.5h1m6 0h1M44 13.5h1m15 0h1m0 0h1M43 18.5h1m21 0h1M60 20.5h1m5 0h1M50 21.5h1m9 0h1m0 0h1m3 0h1M57 22.5h1m5 0h1M47 23.5h1M46 24.5h1m8 0h1m6 0h1M69 25.5h1M47 27.5h1m5 0h1M56 30.5h1M34 31.5h1m10 0h1M68 32.5h1M60 33.5h1M50 34.5h1M49 35.5h1m10 0h1m0 0h1M54 37.5h1M40 38.5h1m5 0h1M41 39.5h1m1 0h1m6 0h1M34 41.5h1m13 0h1m9 0h1M43 42.5h1M60 43.5h1m4 0h1M36 44.5h1m29 0h1m0 0h1M58 45.5h1M46 47.5h1M58 48.5h1m3 0h1m8 0h1M45 49.5h1m22 0h1M44 50.5h1m4 0h1m14 0h1m2 0h1M61 51.5h1m0 0h1M44 52.5h1M46 53.5h1m0 0h1m3 0h1m0 0h1m18 0h1M46 54.5h1m3 0h1m20 0h1M60 55.5h1M49 56.5h1m10 0h1m6 0h1m3 0h1M57 58.5h1m2 0h1m8 0h1"/>
<path stroke="#88d0a4" d="M60 1.5h1m1 0h1M68 2.5h1M69 3.5h1m0 0h1M69 4.5h1M59 5.5h1m2 0h1M59 6.5h1m1 0h1m5 0h1M54 7.5h1m12 0h1M63 8.5h1M55 9.5h1M50 10.5h1m3 0h1M68 11.5h1M49 12.5h1M47 14.5h1m6 0h1M69 15.5h1M55 16.5h1M50 17.5h1m18 0h1M66 18.5h1M44 19.5h1m6 0h1m15 0h1M48 20.5h1m2 0h1m16 0h1M45 21.5h1m0 0h1m6 0h1M47 22.5h1m17 0h1M67 23.5h1M56 24.5h1m0 0h1m1 0h1m3 0h1m4 0h1M48 25.5h1m10 0h1m4 0h1M46 26.5h1m3 0h1m7 0h1M65 27.5h1m5 0h1M52 28.5h1m1 0h1m9 0h1M48 29.5h1m1 0h1m2 0h1m1 0h1m6 0h1m1 0h1m4 0h1M65 30.5h1M48 31.5h1M36 33.5h1m14 0h1m16 0h1M36 34.5h1m6 0h1m3 0h1m0 0h1m2 0h1m5 0h1m7 0h1m3 0h1M46 36.5h1M65 37.5h1M41 38.5h1m2 0h1m10 0h1m8 0h1m2 0h1M57 39.5h1m3 0h1m0 0h1M49 40.5h1m0 0h1m20 0h1M24 41.5h1M46 42.5h1m4 0h1M30 43.5h1m22 0h1m5 0h1m11 0h1M48 44.5h1m1 0h1m3 0h1m0 0h1m5 0h1m1 0h1M68 46.5h1M42 47.5h1m5 0h1m1 0h1m13 0h1m6 0h1M61 48.5h1m8 0h1M48 49.5h1m0 0h1m3 0h1m8 0h1M65 50.5h1m4 0h1m0 0h1M52 51.5h1M58 52.5h1m6 0h1m5 0h1M43 53.5h1m6 0h1m8 0h1m10 0h1M44 54.5h1m16 0h1m6 0h1M38 56.5h1m26 0h1M58 57.5h1M54 58.5h1M57 59.5h1m10 0h1m2 0h1M70 60.5h1"/>
<path stroke="#9ad6a4" d="M63 0.5h1M65 1.5h1m0 0h1M66 2.5h1m2 0h1m0 0h1M67 4.5h1M56 5.5h1m0 0h1m5 0h1m0 0h1m5 0h1M60 6.5h1m2 0h1M64 7.5h1m5 0h1M55 8.5h1m2 0h1m5 0h1m0 0h1M56 9.5h1m8 0h1M56 10.5h1m11 0h1M47 11.5h1m2 0h1m1 0h1m2 0h1m10 0h1M53 13.5h1m2 0h1M46 14.5h1m2 0h1m19 0h1M51 15.5h1m1 0h1m1 0h1M62 16.5h1m3 0h1M47 18.5h1m4 0h1M53 20.5h1m3 0h1M47 21.5h1M48 22.5h1M44 23.5h1m5 0h1m10 0h1m0 0h1M67 25.5h1M66 26.5h1M48 27.5h1m10 0h1M66 28.5h1M47 29.5h1m20 0h1m1 0h1M46 30.5h1M68 31.5h1M52 33.5h1m1 0h1M54 34.5h1m1 0h1M45 35.5h1m4 0h1m12 0h1m0 0h1m0 0h1m0 0h1m1 0h1M53 36.5h1m12 0h1m4 0h1M49 37.5h1m20 0h1M49 38.5h1m4 0h1m7 0h1M54 39.5h1m12 0h1m0 0h1M43 40.5h1m18 0h1M60 42.5h1m9 0h1M47 43.5h1m0 0h1m18 0h1M35 44.5h1m32 0h1M45 45.5h1m3 0h1m2 0h1m3 0h1m0 0h1M46 46.5h1m8 0h1m10 0h1m2 0h1M38 47.5h1m14 0h1m8 0h1M56 48.5h1M46 49.5h1m16 0h1m0 0h1m6 0h1M40 50.5h1m19 0h1M40 51.5h1m1 0h1m22 0h1m0 0h1M40 52.5h1m5 0h1m10 0h1m12 0h1M41 53.5h1m13 0h1m7 0h1M36 54.5h1M49 55.5h1m21 0h1M37 56.5h1m3 0h1M63 57.5h1M43 58.5h1M38 60.5h1m27 0h1M62 61.5h1"/>
<path stroke="#abdda4" d="M63 1.5h1M60 4.5h1m1 0h1M59 9.5h1M52 10.5h1m9 0h1m1 0h1m2 0h1M56 11.5h1m3 0h1m2 0h1m1 0h1m1 0h1M52 12.5h1M45 13.5h1m17 0h1m3 0h1M48 14.5h1m7 0h1M61 15.5h1M53 16.5h1m7 0h1M43 17.5h1m19 0h1M59 18.5h1m11 0h1M48 19.5h1m12 0h1m0 0h1M44 20.5h1M60 22.5h1M41 23.5h1M37 24.5h1m9 0h1m18 0h1M41 25.5h1M41 26.5h1m5 0h1m6 0h1M62 27.5h1m5 0h1M65 29.5h1M51 30.5h1m14 0h1M67 31.5h1M52 32.5h1m14 0h1M37 33.5h1m9 0h1m2 0h1M67 34.5h1m2 0h1M48 35.5h1m22 0h1M44 36.5h1m18 0h1m4 0h1M46 37.5h1M42 38.5h1m2 0h1M37 39.5h1m8 0h1m1 0h1m21 0h1M58 40.5h1M31 41.5h1m17 0h1m6 0h1m7 0h1m3 0h1m2 0h1M61 42.5h1M57 43.5h1M53 44.5h1M38 45.5h1m3 0h1m1 0h1m21 0h1m4 0h1M37 47.5h1m6 0h1m10 0h1m11 0h1M65 48.5h1M43 49.5h1M47 50.5h1M70 51.5h1M60 53.5h1M39 54.5h1m24 0h1m5 0h1M50 55.5h1m18 0h1M38 57.5h1m15 0h1m0 0h1m4 0h1M66 58.5h1m0 0h1M37 59.5h1m26 0h1M71 60.5h1"/>
<path stroke="#bae3a1" d="M59 1.5h1M71 2.5h1M61 4.5h1m3 0h1M55 5.5h1m2 0h1M55 7.5h1m0 0h1M51 9.5h1m16 0h1M53 10.5h1m17 0h1M49 11.5h1M48 12.5h1m13 0h1M55 13.5h1M62 14.5h1M44 15.5h1m1 0h1m9 0h1m6 0h1m0 0h1M42 16.5h1m1 0h1m6 0h1m0 0h1m11 0h1m0 0h1M55 17.5h1m3 0h1m6 0h1M39 18.5h1m4 0h1m22 0h1M45 19.5h1m6 0h1M49 21.5h1m6 0h1m7 0h1M67 22.5h1M48 23.5h1m7 0h1m8 0h1m0 0h1M44 24.5h1M45 25.5h1m7 0h1m8 0h1M44 26.5h1m10 0h1m14 0h1M64 27.5h1m4 0h1M63 28.5h1m6 0h1M58 29.5h1M41 30.5h1m7 0h1m13 0h1m0 0h1M46 31.5h1m10 0h1m7 0h1M48 32.5h1m0 0h1m11 0h1M42 33.5h1m12 0h1m10 0h1m3 0h1M45 34.5h1m3 0h1m2 0h1m0 0h1M38 35.5h1m16 0h1m0 0h1M38 36.5h1m3 0h1m11 0h1M40 37.5h1m25 0h1M34 38.5h1m12 0h1m0 0h1m12 0h1m6 0h1M44 39.5h1m4 0h1m1 0h1M53 40.5h1m2 0h1m9 0h1M40 41.5h1m2 0h1m17 0h1M33 42.5h1m8 0h1m24 0h1M50 43.5h1m1 0h1m5 0h1M38 44.5h1m30 0h1m0 0h1M40 45.5h1m2 0h1m16 0h1M52 46.5h1m12 0h1m5 0h1M41 47.5h1m24 0h1m2 0h1M37 48.5h1m4 0h1m23 0h1M38 49.5h1m1 0h1m19 0h1M43 50.5h1m2 0h1m5 0h1m3 0h1m12 0h1M38 51.5h1m2 0h1m1 0h1m0 0h1m5 0h1m9 0h1m6 0h1M59 52.5h1M54 53.5h1M55 54.5h1m0 0h1M38 55.5h1M39 56.5h1m4 0h1m0 0h1M59 58.5h1m3 0h1M42 60.5h1"/>
<path stroke="#c8e99e" d="M64 1.5h1M61 3.5h1M56 4.5h1M57 6.5h1M62 7.5h1M54 8.5h1m14 0h1M59 11.5h1M50 12.5h1m9 0h1m7 0h1M50 13.5h1m15 0h1M63 14.5h1M49 15.5h1m12 0h1M57 17.5h1m9 0h1M45 18.5h1m4 0h1M63 20.5h1m0 0h1M51 21.5h1m6 0h1m12 0h1M53 22.5h1m1 0h1M57 23.5h1m11 0h1M39 24.5h1m3 0h1m7 0h1m2 0h1M44 25.5h1m2 0h1m4 0h1m7 0h1m10 0h1M61 26.5h1M49 27.5h1m5 0h1m7 0h1M46 28.5h1m3 0h1m2 0h1M49 29.5h1M31 30.5h1m0 0h1m26 0h1m10 0h1M38 31.5h1m1 0h1m0 0h1m11 0h1m16 0h1M47 32.5h1m21 0h1M48 33.5h1M44 34.5h1m10 0h1M52 35.5h1m5 0h1m10 0h1M36 36.5h1m10 0h1m13 0h1M36 37.5h1m4 0h1m20 0h1M35 38.5h1M39 39.5h1m18 0h1m12 0h1M28 40.5h1m6 0h1m10 0h1m5 0h1M35 41.5h1m8 0h1m7 0h1M56 42.5h1m1 0h1m0 0h1M40 43.5h1m1 0h1m25 0h1M60 44.5h1m3 0h1M30 45.5h1m17 0h1m5 0h1m4 0h1m1 0h1m2 0h1M32 46.5h1m5 0h1m2 0h1m14 0h1m4 0h1M63 47.5h1m4 0h1M36 48.5h1m10 0h1m0 0h1m2 0h1m2 0h1m8 0h1M66 49.5h1M47 52.5h1m14 0h1M48 53.5h1m12 0h1m4 0h1M41 54.5h1m5 0h1m1 0h1m15 0h1m0 0h1M45 55.5h1m16 0h1M54 56.5h1m11 0h1M44 57.5h1m16 0h1m8 0h1m0 0h1M41 58.5h1m26 0h1"/>
<path stroke="#d7ef9b" d="M65 0.5h1M65 5.5h1M57 7.5h1m13 0h1M51 8.5h1M63 10.5h1m2 0h1m3 0h1M51 11.5h1m6 0h1m5 0h1m4 0h1M43 13.5h1m10 0h1m9 0h1m5 0h1M58 14.5h1M59 15.5h1m6 0h1M48 16.5h1m0 0h1m6 0h1m6 0h1M52 17.5h1m7 0h1m10 0h1M49 18.5h1m18 0h1M43 19.5h1m10 0h1m9 0h1M45 20.5h1m1 0h1m10 0h1m8 0h1m2 0h1M39 21.5h1m22 0h1m3 0h1M52 22.5h1m16 0h1m0 0h1m0 0h1M45 23.5h1m25 0h1M45 24.5h1M51 25.5h1m6 0h1M62 26.5h1M48 28.5h1m9 0h1m1 0h1m8 0h1M56 29.5h1m3 0h1m0 0h1m4 0h1m0 0h1M71 30.5h1M43 31.5h1m0 0h1M44 32.5h1m9 0h1m11 0h1M67 33.5h1M41 34.5h1m4 0h1m11 0h1M37 35.5h1M48 36.5h1m3 0h1M39 37.5h1m19 0h1m3 0h1M51 38.5h1m5 0h1M42 39.5h1m22 0h1M32 40.5h1m6 0h1m19 0h1m1 0h1M25 41.5h1M45 42.5h1m3 0h1m0 0h1m1 0h1M33 43.5h1m15 0h1M42 44.5h1M39 45.5h1m22 0h1M44 46.5h1M47 47.5h1m9 0h1m1 0h1M45 48.5h1m22 0h1M47 49.5h1m9 0h1M58 50.5h1M35 51.5h1m21 0h1M48 52.5h1m14 0h1m3 0h1M45 53.5h1m22 0h1M43 54.5h1m4 0h1m10 0h1m2 0h1M68 56.5h1M67 57.5h1m1 0h1M62 58.5h1m7 0h1M65 59.5h1m3 0h1M62 60.5h1M40 61.5h1"/>
<path stroke="#e6f598" d="M68 1.5h1M53 4.5h1M66 5.5h1M56 6.5h1m8 0h1M61 8.5h1M57 9.5h1m13 0h1M49 10.5h1m9 0h1M46 11.5h1m1 0h1m4 0h1M69 12.5h1M57 16.5h1m13 0h1M44 17.5h1m17 0h1M61 18.5h1M68 19.5h1M43 20.5h1m2 0h1m14 0h1M42 22.5h1m16 0h1M59 23.5h1M53 24.5h1m15 0h1M43 26.5h1m27 0h1M42 27.5h1m15 0h1M49 28.5h1M43 29.5h1M52 30.5h1m1 0h1m12 0h1M39 31.5h1m2 0h1m12 0h1M39 32.5h1M43 33.5h1m0 0h1m1 0h1m22 0h1m1 0h1M18 34.5h1m13 0h1M51 35.5h1M40 36.5h1m4 0h1m5 0h1m3 0h1m14 0h1M43 37.5h1M39 38.5h1M53 39.5h1m10 0h1M27 40.5h1m10 0h1M45 41.5h1m1 0h1m18 0h1m0 0h1m1 0h1m0 0h1M62 42.5h1m2 0h1M43 43.5h1m7 0h1m10 0h1M40 44.5h1m5 0h1m10 0h1M34 45.5h1m18 0h1M40 46.5h1m22 0h1M30 47.5h1M67 48.5h1M58 49.5h1M37 50.5h1m30 0h1M39 51.5h1m16 0h1m1 0h1m0 0h1M45 52.5h1M42 53.5h1m10 0h1m8 0h1m2 0h1m1 0h1M36 56.5h1m5 0h1m18 0h1M39 57.5h1m0 0h1m21 0h1M64 60.5h1m0 0h1m2 0h1"/>
<path stroke="#ecf8a2" d="M64 0.5h1M59 2.5h1M54 3.5h1m3 0h1M58 4.5h1M60 5.5h1M56 8.5h1M48 9.5h1m11 0h1m0 0h1m4 0h1M57 10.5h1m0 0h1M62 11.5h1M57 12.5h1m0 0h1m8 0h1m3 0h1M58 13.5h1m3 0h1M42 14.5h1m1 0h1m6 0h1m8 0h1m9 0h1M41 15.5h1m5 0h1m6 0h1m13 0h1M60 16.5h1M45 17.5h1m24 0h1M51 18.5h1M36 19.5h1m10 0h1m17 0h1m5 0h1M62 20.5h1M42 21.5h1M53 23.5h1m14 0h1M49 25.5h1M52 26.5h1m6 0h1M66 27.5h1M37 28.5h1m2 0h1M30 30.5h1m7 0h1m5 0h1m17 0h1M49 31.5h1M55 32.5h1M19 33.5h1m18 0h1m14 0h1M20 35.5h1m46 0h1M30 36.5h1m4 0h1m5 0h1M42 37.5h1M31 38.5h1m4 0h1m16 0h1m2 0h1m8 0h1m0 0h1M36 39.5h1m8 0h1M42 40.5h1m8 0h1m2 0h1m14 0h1M26 41.5h1m11 0h1m14 0h1m3 0h1M29 42.5h1m11 0h1m6 0h1m14 0h1M32 43.5h1m11 0h1m16 0h1M37 44.5h1M68 45.5h1m1 0h1M35 46.5h1m0 0h1m6 0h1m5 0h1m17 0h1m2 0h1M31 47.5h1m24 0h1M40 48.5h1m8 0h1M32 49.5h1m2 0h1m5 0h1m0 0h1m16 0h1m5 0h1m1 0h1M61 50.5h1M33 51.5h1m15 0h1m14 0h1M50 52.5h1M39 53.5h1m24 0h1M40 54.5h1m1 0h1M42 57.5h1m0 0h1M42 58.5h1m21 0h1M67 59.5h1"/>
<path stroke="#f2faac" d="M13 2.5h1M54 5.5h1M43 12.5h1m12 0h1M51 13.5h1m17 0h1m1 0h1M61 14.5h1M71 15.5h1M45 16.5h1m13 0h1m9 0h1M53 17.5h1m2 0h1M48 18.5h1m11 0h1M55 19.5h1M49 20.5h1M44 21.5h1M29 22.5h1m11 0h1m4 0h1M42 23.5h1M67 24.5h1M34 26.5h1m4 0h1M45 28.5h1m5 0h1m15 0h1M42 29.5h1m3 0h1M42 30.5h1m7 0h1m2 0h1m3 0h1m10 0h1M32 31.5h1m2 0h1m16 0h1m5 0h1m0 0h1M51 32.5h1M57 33.5h1M34 35.5h1m6 0h1m0 0h1m27 0h1M31 36.5h1m1 0h1m0 0h1M48 37.5h1m3 0h1m2 0h1M29 38.5h1m20 0h1m1 0h1M29 39.5h1m1 0h1M29 40.5h1m15 0h1m9 0h1m7 0h1M32 41.5h1m22 0h1m9 0h1M35 42.5h1m17 0h1m12 0h1m1 0h1M38 43.5h1M33 44.5h1m7 0h1M31 45.5h1m5 0h1m8 0h1M37 46.5h1m16 0h1M51 47.5h1m18 0h1M31 48.5h1m0 0h1m5 0h1m4 0h1m6 0h1m8 0h1m9 0h1M34 49.5h1m17 0h1M38 50.5h1m23 0h1M45 51.5h1M38 52.5h1m15 0h1M56 53.5h1M37 54.5h1M44 55.5h1m21 0h1m0 0h1M38 61.5h1M35 63.5h1"/>
<path stroke="#f9fcb5" d="M55 4.5h1m3 0h1M58 6.5h1M66 8.5h1M22 9.5h1m29 0h1m9 0h1m1 0h1m4 0h1M47 10.5h1m0 0h1m20 0h1M66 12.5h1M41 14.5h1m17 0h1M42 15.5h1m15 0h1M55 18.5h1M35 19.5h1m13 0h1m19 0h1M69 20.5h1M41 21.5h1m27 0h1M64 22.5h1M39 23.5h1M35 25.5h1m4 0h1m1 0h1M42 26.5h1m17 0h1M38 27.5h1m1 0h1m2 0h1m1 0h1M22 28.5h1m16 0h1m28 0h1M59 29.5h1m11 0h1M47 30.5h1M50 31.5h1m11 0h1M20 32.5h1m9 0h1m9 0h1M31 34.5h1m7 0h1M18 36.5h1m24 0h1m20 0h1M31 37.5h1m2 0h1m18 0h1M69 38.5h1M28 39.5h1m27 0h1M25 40.5h1m0 0h1m9 0h1m0 0h1m3 0h1m28 0h1M41 41.5h1m0 0h1M30 42.5h1m6 0h1M34 43.5h1m19 0h1m11 0h1M27 44.5h1m21 0h1m1 0h1M67 45.5h1M60 46.5h1m1 0h1M33 50.5h1m5 0h1m17 0h1M28 51.5h1M68 52.5h1M35 53.5h1M36 55.5h1m5 0h1m20 0h1M40 56.5h1m23 0h1M57 57.5h1M38 58.5h1m22 0h1M36 59.5h1m2 0h1m1 0h1m16 0h1M41 60.5h1"/>
<path stroke="#ffffbf" d="M52 6.5h1m1 0h1M52 8.5h1m0 0h1m8 0h1M47 9.5h1M55 10.5h1M45 11.5h1M63 12.5h1m6 0h1M41 13.5h1M68 14.5h1M40 16.5h1M48 17.5h1m9 0h1M37 18.5h1m19 0h1m5 0h1M35 21.5h1M51 22.5h1M40 23.5h1M61 25.5h1M51 27.5h1M41 28.5h1m29 0h1M41 29.5h1m2 0h1m7 0h1m4 0h1M27 30.5h1m8 0h1m3 0h1m2 0h1m1 0h1M47 31.5h1m6 0h1m14 0h1M57 32.5h1m12 0h1M41 33.5h1M21 34.5h1M19 35.5h1m9 0h1m1 0h1m4 0h1M65 36.5h1M33 37.5h1m17 0h1m4 0h1M32 38.5h1M33 39.5h1m1 0h1m16 0h1m13 0h1M22 41.5h1m10 0h1m20 0h1m8 0h1M28 42.5h1m11 0h1m13 0h1M35 43.5h1m5 0h1m28 0h1M30 44.5h1m27 0h1m12 0h1M30 46.5h1M36 47.5h1M35 48.5h1M34 50.5h1M36 51.5h1m26 0h1M36 52.5h1m6 0h1m12 0h1M38 53.5h1M54 54.5h1M40 55.5h1m24 0h1M69 56.5h1M71 58.5h1M42 59.5h1m16 0h1M39 61.5h1M37 63.5h1"/>
<path stroke="#fff7b2" d="M66 3.5h1M17 6.5h1m35 0h1M44 12.5h1m0 0h1m1 0h1M67 14.5h1M39 16.5h1m10 0h1M38 17.5h1m7 0h1M64 18.5h1M41 19.5h1m4 0h1m19 0h1M28 20.5h1M43 21.5h1M34 24.5h1m7 0h1M43 25.5h1M35 26.5h1m4 0h1M22 27.5h1m12 0h1m10 0h1m5 0h1M42 28.5h1m16 0h1M45 29.5h1m17 0h1M37 31.5h1m18 0h1m9 0h1M32 32.5h1m12 0h1M20 33.5h1m14 0h1m9 0h1M37 34.5h1m2 0h1M54 35.5h1M29 36.5h1m2 0h1M34 39.5h1M64 40.5h1M27 41.5h1m0 0h1m17 0h1M31 42.5h1m7 0h1M36 43.5h1m19 0h1m6 0h1M44 44.5h1M32 45.5h1M50 46.5h1M39 47.5h1M57 48.5h1M36 49.5h1M59 50.5h1M34 51.5h1M34 52.5h1m6 0h1m24 0h1M38 54.5h1m28 0h1m1 0h1M39 55.5h1m1 0h1M43 56.5h1M36 58.5h1M37 61.5h1"/>
<path stroke="#fef0a5" d="M23 10.5h1m37 0h1M46 12.5h1M67 15.5h1M23 16.5h1m22 0h1m11 0h1M41 17.5h1m0 0h1M41 18.5h1m0 0h1m3 0h1M39 19.5h1m20 0h1M55 20.5h1m15 0h1M54 22.5h1M46 23.5h1M15 25.5h1m17 0h1M53 26.5h1m13 0h1M21 27.5h1m14 0h1M24 28.5h1m1 0h1m9 0h1M33 30.5h1M15 31.5h1M34 32.5h1m3 0h1m4 0h1M39 33.5h1m0 0h1M38 34.5h1M30 35.5h1M24 37.5h1m2 0h1m22 0h1M21 39.5h1M30 40.5h1M29 41.5h1M64 42.5h1M28 43.5h1m10 0h1M34 44.5h1M9 45.5h1m19 0h1M34 47.5h1m0 0h1M24 48.5h1m19 0h1M55 51.5h1M39 52.5h1m2 0h1m6 0h1m11 0h1M43 55.5h1m11 0h1m12 0h1M70 56.5h1M65 58.5h1M40 59.5h1m2 0h1M69 60.5h1M64 61.5h1"/>
<path stroke="#fee898" d="M25 6.5h1M52 7.5h1M49 9.5h1m20 0h1M18 10.5h1m41 0h1M40 12.5h1M47 13.5h1M66 14.5h1M16 15.5h1m26 0h1M47 16.5h1m22 0h1M39 17.5h1m0 0h1m27 0h1M17 18.5h1m22 0h1m21 0h1M33 19.5h1m6 0h1M27 20.5h1m11 0h1M29 21.5h1m8 0h1m24 0h1M28 23.5h1m0 0h1m5 0h1m0 0h1m33 0h1M52 24.5h1M26 25.5h1M25 26.5h1m7 0h1M44 27.5h1M47 28.5h1M39 29.5h1M28 30.5h1m0 0h1M30 31.5h1m0 0h1M23 32.5h1m9 0h1m1 0h1m6 0h1M27 33.5h1m6 0h1M20 34.5h1M23 35.5h1m15 0h1m6 0h1M39 36.5h1M32 37.5h1M26 38.5h1m1 0h1M30 39.5h1m1 0h1m7 0h1M21 40.5h1m2 0h1M23 41.5h1M31 43.5h1M28 44.5h1M35 45.5h1m5 0h1M33 47.5h1m6 0h1M28 49.5h1m8 0h1M22 50.5h1M31 51.5h1M35 52.5h1M34 53.5h1M36 57.5h1"/>
<path stroke="#fee08b" d="M23 3.5h1M54 4.5h1M15 5.5h1M51 7.5h1M12 9.5h1m8 0h1M42 10.5h1M61 11.5h1M28 13.5h1m17 0h1M15 14.5h1m2 0h1m21 0h1m2 0h1m1 0h1M68 16.5h1M16 17.5h1M70 18.5h1M33 20.5h1M55 21.5h1M5 22.5h1M31 23.5h1m0 0h1m10 0h1M17 24.5h1m4 0h1m15 0h1M37 25.5h1m1 0h1M27 26.5h1m40 0h1M37 27.5h1M27 28.5h1m7 0h1M24 29.5h1m10 0h1m2 0h1M34 30.5h1M3 31.5h1m1 0h1M31 32.5h1M31 33.5h1m1 0h1M37 36.5h1m11 0h1M27 38.5h1m2 0h1M24 39.5h1m30 0h1M31 40.5h1M19 42.5h1M29 44.5h1M27 46.5h1m6 0h1m7 0h1M26 47.5h1m1 0h1m0 0h1M25 48.5h1m7 0h1M30 49.5h1M32 51.5h1M32 52.5h1M28 53.5h1M37 55.5h1M41 57.5h1m26 0h1M37 58.5h1M36 63.5h1"/>
<path stroke="#fed480" d="M57 3.5h1M15 4.5h1m35 0h1M15 8.5h1m33 0h1M46 9.5h1m3 0h1M20 12.5h1M39 13.5h1M12 14.5h1M38 15.5h1m9 0h1M67 16.5h1M28 18.5h1m7 0h1M34 19.5h1m7 0h1m7 0h1m2 0h1M41 20.5h1M36 22.5h1m2 0h1M27 24.5h1M16 26.5h1m11 0h1m16 0h1M39 27.5h1m1 0h1M21 28.5h1m21 0h1M26 29.5h1m2 0h1m0 0h1m6 0h1m2 0h1m10 0h1M1 31.5h1m0 0h1m33 0h1M0 32.5h1m45 0h1M29 33.5h1M13 34.5h1m10 0h1m5 0h1M14 35.5h1m2 0h1m8 0h1m6 0h1M33 38.5h1M16 39.5h1m21 0h1M32 42.5h1m1 0h1M32 44.5h1m6 0h1M27 45.5h1m37 0h1M29 46.5h1M21 48.5h1M19 50.5h1m4 0h1M35 59.5h1M40 60.5h1M38 62.5h1"/>
<path stroke="#fec776" d="M51 5.5h1M20 6.5h1m3 0h1M7 7.5h1m15 0h1M17 9.5h1m40 0h1M16 10.5h1m10 0h1M21 11.5h1m16 0h1m5 0h1M34 14.5h1m0 0h1m2 0h1m0 0h1M43 16.5h1M30 18.5h1m3 0h1m3 0h1M38 19.5h1M26 20.5h1m10 0h1m27 0h1M16 21.5h1m23 0h1M43 22.5h1M38 23.5h1M19 24.5h1m3 0h1m6 0h1M23 25.5h1m44 0h1M32 26.5h1m4 0h1m0 0h1M16 27.5h1M38 28.5h1m5 0h1M8 29.5h1m14 0h1m7 0h1M9 30.5h1m1 0h1m36 0h1M14 31.5h1M5 32.5h1m13 0h1m5 0h1m15 0h1m14 0h1M21 33.5h1M29 34.5h1m5 0h1M8 37.5h1m10 0h1m6 0h1m1 0h1M19 38.5h1m4 0h1M15 39.5h1m4 0h1M11 40.5h1m2 0h1M23 42.5h1m12 0h1m1 0h1M31 44.5h1M20 45.5h1m7 0h1M39 46.5h1M10 47.5h1m21 0h1M23 48.5h1M24 49.5h1M35 50.5h1m0 0h1M64 52.5h1M36 53.5h1M37 57.5h1M15 58.5h1M39 60.5h1"/>
<path stroke="#fdba6c" d="M12 1.5h1M15 7.5h1m3 0h1m4 0h1m19 0h1M18 8.5h1m22 0h1M19 9.5h1m3 0h1M21 10.5h1M20 11.5h1M40 13.5h1M71 14.5h1M15 15.5h1M16 16.5h1m24 0h1M29 17.5h1M9 18.5h1M15 20.5h1m4 0h1M28 21.5h1M27 23.5h1M17 26.5h1m6 0h1m11 0h1M18 27.5h1M57 28.5h1M36 29.5h1M5 30.5h1m16 0h1m0 0h1M13 31.5h1m57 0h1M7 32.5h1m4 0h1m23 0h1m0 0h1M34 34.5h1M13 35.5h1m18 0h1M27 36.5h1M23 38.5h1M22 39.5h1m3 0h1M21 42.5h1m0 0h1m3 0h1M26 43.5h1m0 0h1M11 45.5h1m11 0h1m2 0h1M18 47.5h1M29 48.5h1m4 0h1M29 49.5h1m3 0h1m10 0h1M27 50.5h1M29 52.5h1M39 58.5h1M38 59.5h1M37 60.5h1M37 62.5h1M32 63.5h1"/>
<path stroke="#fdae61" d="M16 3.5h1M5 5.5h1M30 6.5h1M8 8.5h1m20 0h1m16 0h1m1 0h1M29 9.5h1M14 10.5h1m4 0h1M39 11.5h1M16 12.5h1m22 0h1m2 0h1M42 13.5h1M36 14.5h1m0 0h1M39 15.5h1M34 16.5h1M24 17.5h1M35 18.5h1M11 19.5h1m16 0h1m0 0h1m7 0h1M27 21.5h1m4 0h1m3 0h1M14 22.5h1m4 0h1m8 0h1M34 23.5h1M31 24.5h1m3 0h1m0 0h1m3 0h1M18 25.5h1m9 0h1M4 26.5h1m17 0h1m6 0h1M6 27.5h1m21 0h1m5 0h1M34 29.5h1M0 30.5h1m7 0h1m11 0h1M9 31.5h1m2 0h1m15 0h1M12 33.5h1m0 0h1m0 0h1M21 35.5h1m3 0h1m1 0h1M13 36.5h1m9 0h1M18 37.5h1m4 0h1m5 0h1M8 38.5h1m4 0h1M27 39.5h1m35 0h1M20 40.5h1M10 41.5h1m10 0h1M37 43.5h1M36 45.5h1M28 46.5h1m4 0h1M19 47.5h1M30 48.5h1M20 49.5h1m1 0h1m3 0h1M20 50.5h1m11 0h1M29 51.5h1M33 52.5h1M37 53.5h1M34 54.5h1M30 55.5h1m4 0h1M13 58.5h1m16 0h1M34 59.5h1M36 60.5h1M15 62.5h1m14 0h1m5 0h1M30 64.5h1"/>
<path stroke="#fb9e5a" d="M4 0.5h1M23 1.5h1M7 2.5h1M21 3.5h1M11 5.5h1M8 6.5h1m10 0h1m3 0h1M3 7.5h1M10 8.5h1m0 0h1m38 0h1M14 9.5h1M17 12.5h1m1 0h1M36 15.5h1m0 0h1M36 17.5h1M31 18.5h1M10 19.5h1m7 0h1M10 20.5h1m7 0h1m11 0h1M8 21.5h1M35 22.5h1m2 0h1M6 23.5h1m13 0h1m16 0h1M21 24.5h1m4 0h1m2 0h1M6 25.5h1m18 0h1m12 0h1M32 27.5h1m0 0h1M37 30.5h1M4 31.5h1m1 0h1m9 0h1M22 32.5h1M15 33.5h1m9 0h1M1 34.5h1m5 0h1m11 0h1m2 0h1M12 35.5h1m27 0h1M25 37.5h1m4 0h1M12 39.5h1m12 0h1M3 40.5h1m18 0h1M27 42.5h1M25 43.5h1m43 0h1M19 45.5h1m4 0h1M12 46.5h1M15 49.5h1m5 0h1m9 0h1M30 50.5h1M54 51.5h1M27 52.5h1M20 54.5h1M31 56.5h1m3 0h1M18 59.5h1M36 61.5h1M21 63.5h1"/>
<path stroke="#f88e52" d="M9 1.5h1M9 2.5h1M12 4.5h1m10 0h1m0 0h1m18 0h1m8 0h1M7 5.5h1m15 0h1M28 6.5h1m22 0h1M20 7.5h1m20 0h1M25 9.5h1m13 0h1m5 0h1M20 10.5h1m4 0h1m11 0h1m2 0h1m3 0h1m0 0h1m0 0h1M3 11.5h1m36 0h1M23 12.5h1m3 0h1M19 15.5h1m0 0h1m7 0h1m3 0h1m2 0h1m4 0h1M17 16.5h1m18 0h1M33 17.5h1m1 0h1M0 20.5h1m34 0h1m4 0h1M13 21.5h1M6 22.5h1m26 0h1m6 0h1M13 23.5h1m2 0h1m4 0h1M15 24.5h1m8 0h1m0 0h1M20 25.5h1m3 0h1m2 0h1m8 0h1M19 26.5h1m6 0h1M7 27.5h1M5 28.5h1m2 0h1M22 29.5h1M10 30.5h1m13 0h1m10 0h1m3 0h1M28 32.5h1M18 33.5h1M3 34.5h1m7 0h1m2 0h1m13 0h1m4 0h1M22 35.5h1m12 0h1M11 36.5h1m7 0h1M5 37.5h1M23 39.5h1M4 40.5h1M7 41.5h1M15 43.5h1m4 0h1M7 44.5h1m16 0h1M22 47.5h1M26 48.5h1M27 49.5h1M3 50.5h1m22 0h1m4 0h1M30 53.5h1m1 0h1m0 0h1M4 56.5h1m27 0h1m0 0h1M12 58.5h1m6 0h1m14 0h1M21 62.5h1m1 0h1M28 63.5h1m4 0h1m0 0h1M34 64.5h1"/>
<path stroke="#f67d4a" d="M2 2.5h1m21 0h1m2 0h1m0 0h1M1 3.5h1m4 0h1m6 0h1m8 0h1M18 4.5h1m9 0h1m3 0h1M27 5.5h1M6 6.5h1m4 0h1m1 0h1m1 0h1m13 0h1m2 0h1m10 0h1M10 7.5h1m3 0h1m3 0h1m2 0h1m0 0h1m6 0h1m23 0h1M2 8.5h1m4 0h1m9 0h1m8 0h1m0 0h1M4 9.5h1M32 10.5h1M41 11.5h1M14 12.5h1m9 0h1m12 0h1m3 0h1M17 14.5h1m15 0h1M34 15.5h1M20 16.5h1m6 0h1m3 0h1m5 0h1m0 0h1M23 17.5h1M33 18.5h1M24 19.5h1m1 0h1M9 20.5h1m9 0h1m14 0h1m1 0h1M17 21.5h1m19 0h1M7 22.5h1m5 0h1m8 0h1m7 0h1M25 23.5h1m0 0h1M2 24.5h1m6 0h1m10 0h1m11 0h1M21 25.5h1m9 0h1M11 26.5h1m9 0h1M30 28.5h1m0 0h1m0 0h1m0 0h1M19 29.5h1M0 31.5h1m9 0h1m0 0h1m5 0h1m4 0h1M2 32.5h1m0 0h1m13 0h1M23 33.5h1m0 0h1M2 34.5h1M5 35.5h1m12 0h1M6 36.5h1m5 0h1m2 0h1m8 0h1m0 0h1M14 37.5h1M12 38.5h1m5 0h1M3 39.5h1m0 0h1M17 40.5h1M4 41.5h1m6 0h1m4 0h1M10 42.5h1m3 0h1m9 0h1M19 43.5h1m9 0h1M26 44.5h1M21 45.5h1m3 0h1M11 46.5h1m13 0h1M14 47.5h1m8 0h1m1 0h1M20 48.5h1M7 49.5h1m17 0h1M25 50.5h1M0 51.5h1m13 0h1M19 52.5h1m8 0h1M6 53.5h1M29 55.5h1m2 0h1m0 0h1M29 56.5h1M14 57.5h1m17 0h1m0 0h1m0 0h1M1 58.5h1m14 0h1m1 0h1m21 0h1M0 60.5h1M15 61.5h1M13 63.5h1M13 64.5h1"/>
<path stroke="#f46d43" d="M14 1.5h1M4 2.5h1m10 0h1M49 3.5h1M0 4.5h1m3 0h1m9 0h1m6 0h1m28 0h1M1 5.5h1m15 0h1m0 0h1m6 0h1M41 6.5h1m8 0h1M27 7.5h1m17 0h1M23 8.5h1m19 0h1M35 9.5h1M4 10.5h1M22 11.5h1M18 12.5h1m2 0h1m16 0h1M16 13.5h1m7 0h1m1 0h1M3 15.5h1m13 0h1m0 0h1m2 0h1m0 0h1M15 16.5h1m10 0h1M32 17.5h1M11 18.5h1m8 0h1M0 19.5h1m16 0h1m4 0h1M14 20.5h1m9 0h1m6 0h1m6 0h1M9 21.5h1m1 0h1m2 0h1m15 0h1m0 0h1m1 0h1M26 22.5h1m10 0h1M12 23.5h1m2 0h1m6 0h1m1 0h1m8 0h1M5 24.5h1m22 0h1m4 0h1M30 25.5h1M6 26.5h1m24 0h1M1 27.5h1m22 0h1m4 0h1m1 0h1M29 28.5h1M4 29.5h1m6 0h1m0 0h1m7 0h1m4 0h1m1 0h1M7 30.5h1m6 0h1m10 0h1m0 0h1M7 31.5h1m12 0h1m5 0h1m2 0h1M8 32.5h1m1 0h1M3 33.5h1m12 0h1m13 0h1m1 0h1M8 34.5h1m16 0h1M4 35.5h1m23 0h1M9 36.5h1m10 0h1m7 0h1M2 37.5h1m6 0h1m0 0h1m5 0h1M43 38.5h1M9 39.5h1M5 40.5h1m10 0h1m6 0h1M6 41.5h1m1 0h1m11 0h1M5 42.5h1m10 0h1M6 43.5h1m1 0h1m7 0h1m4 0h1M3 44.5h1m5 0h1m7 0h1m0 0h1m3 0h1m2 0h1M19 46.5h1m6 0h1m4 0h1M1 47.5h1m7 0h1M9 48.5h1M0 49.5h1m17 0h1m0 0h1m3 0h1M4 50.5h1m24 0h1M21 51.5h1M37 52.5h1M25 53.5h1m5 0h1M1 54.5h1m7 0h1m7 0h1m11 0h1M0 55.5h1M1 57.5h1m16 0h1m10 0h1M19 59.5h1m9 0h1m3 0h1M9 61.5h1m1 0h1m2 0h1m7 0h1m7 0h1m0 0h1m2 0h1M1 62.5h1M18 64.5h1m0 0h1m9 0h1"/>
<path stroke="#ec6146" d="M2 0.5h1M29 1.5h1m1 0h1M10 2.5h1m7 0h1m10 0h1m0 0h1M6 4.5h1m6 0h1m11 0h1m16 0h1M12 5.5h1m11 0h1M22 6.5h1m8 0h1m1 0h1m11 0h1M26 7.5h1m1 0h1m3 0h1M19 8.5h1m4 0h1m19 0h1m0 0h1M11 9.5h1m8 0h1m6 0h1m12 0h1M28 10.5h1M9 11.5h1m4 0h1m0 0h1m2 0h1m5 0h1m4 0h1M7 12.5h1m4 0h1m15 0h1M9 13.5h1m4 0h1m5 0h1m6 0h1m6 0h1m3 0h1M22 14.5h1m2 0h1M7 15.5h1M33 16.5h1M7 17.5h1m9 0h1M10 18.5h1m1 0h1m16 0h1M9 19.5h1m4 0h1m1 0h1m6 0h1M11 20.5h1m9 0h1M23 21.5h1m10 0h1M1 22.5h1m15 0h1m2 0h1m10 0h1M7 23.5h1M11 24.5h1m0 0h1M7 25.5h1m4 0h1m1 0h1m1 0h1m0 0h1m11 0h1m2 0h1M15 27.5h1m10 0h1m0 0h1M4 28.5h1m10 0h1m12 0h1M5 29.5h1m15 0h1M1 30.5h1m17 0h1m1 0h1M19 31.5h1m3 0h1M6 32.5h1m4 0h1M4 33.5h1m2 0h1m14 0h1M5 34.5h1m11 0h1M8 35.5h1m7 0h1M15 37.5h1m4 0h1M6 38.5h1m2 0h1m4 0h1m5 0h1M5 39.5h1m1 0h1m2 0h1m2 0h1m3 0h1M9 40.5h1m3 0h1m4 0h1M3 41.5h1M8 42.5h1m6 0h1M7 43.5h1m2 0h1M10 45.5h1m22 0h1M2 46.5h1m14 0h1m4 0h1M11 47.5h1m3 0h1m1 0h1M0 48.5h1m9 0h1m1 0h1m5 0h1m3 0h1M2 49.5h1m3 0h1M6 50.5h1M23 51.5h1M25 52.5h1M24 53.5h1m4 0h1M32 54.5h1m2 0h1M4 55.5h1m21 0h1M31 57.5h1M2 58.5h1m1 0h1m6 0h1M2 59.5h1m10 0h1m18 0h1M22 60.5h1m7 0h1M7 61.5h1m18 0h1"/>
<path stroke="#e45649" d="M4 1.5h1m20 0h1M0 2.5h1M0 3.5h1m11 0h1m2 0h1m31 0h1M3 4.5h1m1 0h1m2 0h1M4 5.5h1m8 0h1m6 0h1m1 0h1m29 0h1m0 0h1M26 6.5h1m20 0h1M8 7.5h1m2 0h1m28 0h1m6 0h1M5 8.5h1M18 9.5h1M0 10.5h1m11 0h1m16 0h1m1 0h1m1 0h1m9 0h1M5 12.5h1m7 0h1m15 0h1m1 0h1M7 13.5h1m24 0h1M16 14.5h1m2 0h1m8 0h1m1 0h1m1 0h1M27 15.5h1M7 16.5h1m2 0h1m18 0h1m5 0h1M8 17.5h1m2 0h1m16 0h1M0 18.5h1m26 0h1M6 19.5h1m1 0h1m4 0h1m11 0h1m5 0h1m0 0h1M2 20.5h1m1 0h1m8 0h1M15 21.5h1m9 0h1M8 22.5h1m3 0h1m19 0h1m1 0h1M3 23.5h1M3 24.5h1m0 0h1m5 0h1m5 0h1M19 25.5h1M2 27.5h1m6 0h1m4 0h1m2 0h1M20 28.5h1m13 0h1M0 29.5h1m15 0h1m1 0h1m9 0h1M15 30.5h1M24 31.5h1m0 0h1m7 0h1M18 32.5h1m2 0h1m7 0h1M2 33.5h1m23 0h1m1 0h1M27 34.5h1M10 36.5h1m15 0h1M7 37.5h1m3 0h1m1 0h1m7 0h1M2 38.5h1m0 0h1M1 39.5h1m9 0h1m7 0h1M12 40.5h1M17 41.5h1M3 43.5h1m0 0h1M2 45.5h1m9 0h1m0 0h1m0 0h1m0 0h1M9 46.5h1m0 0h1m2 0h1M0 47.5h1m2 0h1m0 0h1m7 0h1m8 0h1M5 48.5h1m2 0h1m6 0h1M10 49.5h1M10 50.5h1m1 0h1m3 0h1m4 0h1M10 51.5h1m8 0h1m0 0h1M2 52.5h1M5 54.5h1m12 0h1m0 0h1m10 0h1m0 0h1M3 55.5h1m2 0h1M3 56.5h1m6 0h1m0 0h1m3 0h1m5 0h1m8 0h1M16 57.5h1m0 0h1m9 0h1m7 0h1M17 58.5h1m7 0h1m7 0h1M4 59.5h1m0 0h1m10 0h1m3 0h1m9 0h1M12 60.5h1m1 0h1m11 0h1m4 0h1M1 61.5h1m3 0h1m22 0h1M11 62.5h1m10 0h1M11 63.5h1m3 0h1m3 0h1m10 0h1M12 64.5h1m3 0h1"/>
<path stroke="#dd4a4c" d="M10 1.5h1M12 2.5h1m10 0h1m1 0h1m5 0h1m14 0h1M10 3.5h1m3 0h1m13 0h1m7 0h1M10 4.5h1m16 0h1m19 0h1m0 0h1M2 5.5h1m13 0h1m13 0h1m1 0h1m13 0h1M4 6.5h1m11 0h1m10 0h1m11 0h1M34 7.5h1M32 8.5h1m9 0h1M13 9.5h1m1 0h1m28 0h1M8 10.5h1m8 0h1m8 0h1m3 0h1m4 0h1M6 11.5h1m24 0h1M1 12.5h1m23 0h1m0 0h1m6 0h1M22 13.5h1m8 0h1m4 0h1M20 14.5h1m3 0h1m1 0h1m0 0h1M11 15.5h1m11 0h1M8 16.5h1m21 0h1m1 0h1M19 17.5h1m0 0h1m10 0h1m5 0h1M15 18.5h1M6 20.5h1m9 0h1m8 0h1m6 0h1M3 21.5h1m14 0h1M2 22.5h1m1 0h1m18 0h1m1 0h1M8 23.5h1m10 0h1m10 0h1M2 25.5h1m1 0h1m4 0h1M0 26.5h1m2 0h1m8 0h1m17 0h1M4 27.5h1m6 0h1m13 0h1M2 28.5h1m13 0h1M1 29.5h1m5 0h1m7 0h1M21 31.5h1m5 0h1M1 32.5h1m11 0h1m0 0h1m12 0h1M5 33.5h1m2 0h1M12 34.5h1m10 0h1M3 35.5h1m3 0h1M0 36.5h1m20 0h1M12 37.5h1M7 38.5h1M7 40.5h1M5 41.5h1m3 0h1m3 0h1m1 0h1m2 0h1M25 42.5h1M0 43.5h1m21 0h1m0 0h1M0 45.5h1m3 0h1m12 0h1m0 0h1M4 46.5h1m3 0h1m5 0h1m0 0h1M20 47.5h1M2 48.5h1m8 0h1m2 0h1m12 0h1m0 0h1M3 49.5h1m7 0h1M0 50.5h1m8 0h1m1 0h1m3 0h1m12 0h1M15 51.5h1m10 0h1m3 0h1M0 52.5h1m4 0h1m2 0h1m8 0h1m12 0h1M27 53.5h1M7 54.5h1m6 0h1m10 0h1M22 55.5h1M0 56.5h1m1 0h1m16 0h1m0 0h1m5 0h1m7 0h1M24 57.5h1M10 58.5h1m18 0h1m5 0h1M12 59.5h1m15 0h1M2 60.5h1m0 0h1m6 0h1m2 0h1m20 0h1m0 0h1M3 61.5h1m6 0h1m18 0h1M2 62.5h1m4 0h1m2 0h1m7 0h1m8 0h1m4 0h1M2 63.5h1m1 0h1m7 0h1m9 0h1m6 0h1M17 64.5h1m5 0h1"/>
<path stroke="#d53e4f" d="M1 1.5h1m3 0h1m7 0h1m18 0h1M3 2.5h1m28 0h1M18 3.5h1m0 0h1m11 0h1m8 0h1m2 0h1m4 0h1M2 4.5h1m13 0h1m27 0h1m4 0h1M3 5.5h1m2 0h1m7 0h1m28 0h1m0 0h1m2 0h1m0 0h1M0 6.5h1m1 0h1m11 0h1m23 0h1m1 0h1m8 0h1M2 7.5h1M3 8.5h1m34 0h1m1 0h1M2 9.5h1m27 0h1m0 0h1m0 0h1M22 10.5h1M4 11.5h1m5 0h1m1 0h1m0 0h1m5 0h1m10 0h1m6 0h1m4 0h1M36 12.5h1M3 13.5h1m26 0h1M0 14.5h1m7 0h1m12 0h1m1 0h1m5 0h1M10 15.5h1m1 0h1m1 0h1m14 0h1m0 0h1M13 16.5h1m7 0h1m0 0h1m2 0h1M13 17.5h1m4 0h1m6 0h1M1 18.5h1m6 0h1m7 0h1m1 0h1m3 0h1m1 0h1m1 0h1M30 19.5h1M7 20.5h1M7 21.5h1m14 0h1m3 0h1M3 22.5h1m11 0h1m8 0h1M5 23.5h1m11 0h1M1 24.5h1m11 0h1M3 25.5h1m7 0h1M1 26.5h1m6 0h1m0 0h1m0 0h1M3 27.5h1m4 0h1m1 0h1m12 0h1m6 0h1M9 28.5h1m1 0h1m6 0h1m0 0h1m3 0h1M2 29.5h1m3 0h1M13 30.5h1M18 31.5h1M15 32.5h1M6 33.5h1M16 34.5h1M2 35.5h1m8 0h1M5 36.5h1M1 37.5h1m1 0h1m13 0h1m4 0h1M0 38.5h1m0 0h1m3 0h1m4 0h1m4 0h1m5 0h1M8 39.5h1m5 0h1m3 0h1M2 40.5h1m3 0h1m3 0h1M2 41.5h1M17 42.5h1m0 0h1M11 43.5h1M11 44.5h1M3 46.5h1m14 0h1m1 0h1m0 0h1M7 47.5h1M6 48.5h1m0 0h1m8 0h1m0 0h1M4 49.5h1m4 0h1M2 50.5h1m11 0h1m8 0h1M3 51.5h1m12 0h1M1 52.5h1m5 0h1m1 0h1m5 0h1m2 0h1M7 53.5h1m2 0h1m0 0h1m14 0h1M3 54.5h1m2 0h1m1 0h1m1 0h1m16 0h1m0 0h1M2 55.5h1m4 0h1m2 0h1m7 0h1m0 0h1M7 56.5h1m4 0h1m10 0h1M2 57.5h1m0 0h1m5 0h1m3 0h1m12 0h1M21 58.5h1m6 0h1M15 59.5h1m11 0h1M5 60.5h1m3 0h1m6 0h1m4 0h1m5 0h1M21 61.5h1m3 0h1m6 0h1m0 0h1M3 62.5h1M7 63.5h1m10 0h1m4 0h1M3 64.5h1m18 0h1"/>
<path stroke="#c72f4c" d="M43 1.5h1M33 2.5h1M3 3.5h1m0 0h1m2 0h1m3 0h1m26 0h1m5 0h1M30 4.5h1m3 0h1m0 0h1m3 0h1M28 5.5h1m8 0h1M7 6.5h1m4 0h1m31 0h1M1 7.5h1m3 0h1m7 0h1m16 0h1m0 0h1m3 0h1m6 0h1m5 0h1M4 8.5h1m15 0h1m4 0h1m4 0h1m16 0h1M5 9.5h1m20 0h1m15 0h1M2 10.5h1m2 0h1m3 0h1m14 0h1m14 0h1M2 11.5h1m2 0h1m10 0h1m19 0h1m6 0h1M11 12.5h1m10 0h1m7 0h1m1 0h1m1 0h1M4 13.5h1m10 0h1m3 0h1m5 0h1m11 0h1M5 14.5h1m0 0h1m2 0h1m3 0h1m17 0h1M0 15.5h1m5 0h1m1 0h1m0 0h1m16 0h1M3 16.5h1M1 17.5h1m0 0h1m6 0h1m16 0h1m3 0h1M4 18.5h1m0 0h1m7 0h1m0 0h1m10 0h1M4 19.5h1M8 20.5h1m8 0h1M4 21.5h1m0 0h1M16 22.5h1m1 0h1m2 0h1M10 23.5h1m7 0h1m4 0h1M0 25.5h1m0 0h1m20 0h1M13 26.5h1m0 0h1M0 27.5h1m4 0h1m6 0h1M0 28.5h1m0 0h1m5 0h1m4 0h1m0 0h1M13 29.5h1m18 0h1m0 0h1M2 30.5h1m15 0h1M1 33.5h1m9 0h1M26 34.5h1M2 36.5h1m1 0h1M11 38.5h1m5 0h1m4 0h1M19 40.5h1M1 42.5h1M0 44.5h1m9 0h1m3 0h1M1 46.5h1m22 0h1M13 47.5h1M16 49.5h1m0 0h1M5 51.5h1m0 0h1m17 0h1M3 52.5h1m2 0h1m6 0h1m2 0h1m4 0h1m2 0h1m1 0h1m4 0h1M8 53.5h1m11 0h1M2 54.5h1m1 0h1m6 0h1m4 0h1m5 0h1m10 0h1M1 55.5h1m3 0h1m9 0h1m4 0h1m0 0h1M1 56.5h1m3 0h1m3 0h1m17 0h1M0 57.5h1m6 0h1m12 0h1m2 0h1M3 58.5h1m1 0h1m3 0h1M1 59.5h1m24 0h1M18 60.5h1m4 0h1m0 0h1m7 0h1M0 61.5h1M4 62.5h1m3 0h1m0 0h1m4 0h1m16 0h1M27 63.5h1M15 64.5h1"/>
<path stroke="#ba2048" d="M42 0.5h1M6 1.5h1m1 0h1m2 0h1m30 0h1M5 2.5h1m0 0h1m1 0h1m29 0h1m5 0h1M8 3.5h1m28 0h1M11 4.5h1m7 0h1m2 0h1m3 0h1m4 0h1M0 5.5h1m20 0h1m4 0h1m6 0h1m2 0h1m3 0h1m0 0h1M9 6.5h1m36 0h1m1 0h1M0 7.5h1m5 0h1m5 0h1m36 0h1m0 0h1M0 8.5h1m0 0h1m4 0h1m2 0h1m4 0h1m13 0h1m5 0h1m0 0h1M0 9.5h1m40 0h1M1 10.5h1m5 0h1m3 0h1m22 0h1M1 11.5h1m5 0h1m15 0h1m3 0h1m6 0h1M8 12.5h1M10 13.5h1m6 0h1M3 14.5h1m0 0h1m2 0h1m2 0h1m3 0h1M13 15.5h1m10 0h1m8 0h1M19 16.5h1M3 17.5h1m0 0h1m0 0h1m0 0h1m7 0h1m0 0h1M2 18.5h1m3 0h1m12 0h1m1 0h1m10 0h1M5 20.5h1M0 21.5h1m5 0h1m5 0h1m6 0h1m4 0h1M9 23.5h1M0 24.5h1m5 0h1m0 0h1M5 25.5h1m4 0h1m2 0h1M2 26.5h1M20 27.5h1M3 29.5h1m6 0h1m6 0h1M8 31.5h1M4 32.5h1m21 0h1M0 33.5h1m8 0h1m7 0h1M0 34.5h1M6 35.5h1M25 38.5h1M14 41.5h1M11 42.5h1M2 43.5h1m2 0h1m8 0h1M2 44.5h1m2 0h1m6 0h1m2 0h1m4 0h1m0 0h1M3 45.5h1m1 0h1m0 0h1M8 47.5h1m15 0h1m2 0h1M1 48.5h1M1 49.5h1m3 0h1M18 50.5h1M1 51.5h1m6 0h1m9 0h1m8 0h1M12 52.5h1m10 0h1M1 53.5h1m7 0h1m4 0h1m0 0h1m2 0h1m2 0h1M13 54.5h1m9 0h1m0 0h1M9 55.5h1m1 0h1m1 0h1m10 0h1m2 0h1M13 56.5h1m8 0h1M5 57.5h1m24 0h1M0 58.5h1m6 0h1m0 0h1m11 0h1m6 0h1M0 59.5h1m16 0h1m3 0h1m0 0h1m8 0h1M8 60.5h1m16 0h1m2 0h1m0 0h1M4 61.5h1m7 0h1m10 0h1m0 0h1M12 62.5h1m11 0h1m10 0h1M1 63.5h1m8 0h1m20 0h1M14 64.5h1"/>
<path stroke="#ac1045" d="M8 0.5h1M44 1.5h1M11 2.5h1m10 0h1m17 0h1m0 0h1m5 0h1M17 3.5h1m2 0h1m3 0h1m8 0h1m1 0h1M17 4.5h1m22 0h1m0 0h1M42 6.5h1M9 7.5h1m26 0h1m0 0h1m1 0h1m6 0h1M13 8.5h1m2 0h1M16 9.5h1m17 0h1m8 0h1M3 10.5h1m9 0h1m1 0h1m20 0h1m1 0h1m2 0h1M25 11.5h1m0 0h1M2 12.5h1M0 13.5h1m1 0h1m3 0h1m4 0h1m21 0h1m1 0h1M1 14.5h1m0 0h1M2 16.5h1m1 0h1m0 0h1m6 0h1m11 0h1M12 17.5h1m8 0h1M23 18.5h1M3 19.5h1m16 0h1m0 0h1M1 20.5h1m27 0h1M20 21.5h1M9 22.5h1m0 0h1m0 0h1M1 23.5h1m2 0h1m6 0h1m2 0h1M6 28.5h1m3 0h1M12 30.5h1M9 32.5h1m6 0h1M10 33.5h1M6 34.5h1m2 0h1m5 0h1M0 35.5h1m14 0h1M1 36.5h1m5 0h1m9 0h1m4 0h1M4 37.5h1M16 38.5h1M0 39.5h1m5 0h1M0 40.5h1m7 0h1M1 41.5h1m10 0h1M4 42.5h1m8 0h1M24 43.5h1M1 44.5h1m6 0h1M5 46.5h1M4 48.5h1M12 49.5h1m1 0h1M1 50.5h1m3 0h1m7 0h1m3 0h1M4 51.5h1m6 0h1m1 0h1M4 52.5h1m9 0h1M2 53.5h1m0 0h1m0 0h1m12 0h1m1 0h1m3 0h1M21 54.5h1M31 55.5h1M6 56.5h1m1 0h1m15 0h1M4 57.5h1m10 0h1m3 0h1m8 0h1M14 58.5h1m16 0h1M3 59.5h1m4 0h1m1 0h1m0 0h1m2 0h1M4 60.5h1m1 0h1M6 61.5h1M6 62.5h1M3 63.5h1m21 0h1M9 64.5h1m1 0h1m8 0h1"/>
<path stroke="#9e0142" d="M12 0.5h1m11 0h1m8 0h1m7 0h1m1 0h1M2 1.5h1m4 0h1m16 0h1m1 0h1m6 0h1m6 0h1m0 0h1M1 2.5h1m12 0h1m1 0h1m0 0h1m8 0h1m7 0h1m7 0h1m0 0h1m1 0h1M2 3.5h1m2 0h1m3 0h1m15 0h1m0 0h1m0 0h1m1 0h1m0 0h1m1 0h1m1 0h1m4 0h1m1 0h1m0 0h1m2 0h1m0 0h1m3 0h1M1 4.5h1m5 0h1m1 0h1m10 0h1m8 0h1m3 0h1m2 0h1m0 0h1m0 0h1m6 0h1m0 0h1M8 5.5h1m0 0h1m0 0h1m8 0h1m9 0h1m1 0h1m2 0h1m0 0h1m2 0h1m0 0h1m2 0h1m2 0h1m3 0h1m0 0h1M1 6.5h1m1 0h1m1 0h1m4 0h1m7 0h1m2 0h1m12 0h1m0 0h1m0 0h1m0 0h1M4 7.5h1m11 0h1m0 0h1m7 0h1m7 0h1m4 0h1m4 0h1M12 8.5h1m8 0h1m0 0h1m8 0h1m1 0h1m2 0h1m0 0h1m1 0h1M1 9.5h1m1 0h1m2 0h1m0 0h1m0 0h1m0 0h1m0 0h1m13 0h1m3 0h1m4 0h1m2 0h1m0 0h1m0 0h1M6 10.5h1m3 0h1M0 11.5h1m7 0h1m2 0h1m5 0h1m10 0h1m3 0h1m0 0h1m1 0h1M0 12.5h1m2 0h1m0 0h1m1 0h1m2 0h1m0 0h1m4 0h1m19 0h1M1 13.5h1m3 0h1m2 0h1m3 0h1m0 0h1m4 0h1m2 0h1m1 0h1m5 0h1M11 14.5h1M1 15.5h1m0 0h1m1 0h1m0 0h1m19 0h1m5 0h1M0 16.5h1m0 0h1m4 0h1m2 0h1m1 0h1m2 0h1m3 0h1m9 0h1M0 17.5h1m9 0h1m11 0h1m4 0h1m6 0h1M3 18.5h1m3 0h1M1 19.5h1m0 0h1m2 0h1m1 0h1m4 0h1m2 0h1m3 0h1m7 0h1M3 20.5h1m8 0h1m9 0h1m0 0h1M1 21.5h1m0 0h1m7 0h1m10 0h1M0 22.5h1m26 0h1M0 23.5h1m1 0h1M8 24.5h1m5 0h1m3 0h1M8 25.5h1m25 0h1M5 26.5h1m1 0h1m7 0h1m2 0h1m1 0h1m2 0h1M13 27.5h1m5 0h1M3 28.5h1m10 0h1m2 0h1m7 0h1M9 29.5h1m4 0h1M3 30.5h1m0 0h1m1 0h1m9 0h1m0 0h1M24 32.5h1M4 34.5h1m5 0h1M1 35.5h1m7 0h1m0 0h1m13 0h1M3 36.5h1m4 0h1m5 0h1m1 0h1M0 37.5h1m5 0h1M4 38.5h1M2 39.5h1M1 40.5h1m13 0h1M0 41.5h1m18 0h1M0 42.5h1m1 0h1m0 0h1m2 0h1m0 0h1m1 0h1m2 0h1m7 0h1M1 43.5h1m7 0h1m2 0h1m0 0h1m3 0h1m0 0h1M4 44.5h1m1 0h1m6 0h1m2 0h1m2 0h1m3 0h1M1 45.5h1m5 0h1m0 0h1m7 0h1m5 0h1M0 46.5h1m5 0h1m0 0h1m8 0h1m6 0h1M2 47.5h1m2 0h1m0 0h1m9 0h1M3 48.5h1m9 0h1m5 0h1M8 49.5h1m4 0h1M7 50.5h1m0 0h1M2 51.5h1m4 0h1m1 0h1m2 0h1m4 0h1m4 0h1m2 0h1M10 52.5h1m0 0h1m8 0h1m1 0h1M0 53.5h1m4 0h1m6 0h1m0 0h1m2 0h1m5 0h1M0 54.5h1m11 0h1m2 0h1m10 0h1M8 55.5h1m3 0h1m1 0h1m1 0h1m0 0h1m5 0h1m1 0h1m2 0h1m5 0h1M14 56.5h1m1 0h1m0 0h1m0 0h1m6 0h1m2 0h1M6 57.5h1m1 0h1m1 0h1m0 0h1m0 0h1m8 0h1m0 0h1m2 0h1M6 58.5h1m15 0h1m0 0h1m0 0h1m1 0h1m5 0h1M6 59.5h1m0 0h1m1 0h1m13 0h1m0 0h1m0 0h1M1 60.5h1m5 0h1m3 0h1m3 0h1m1 0h1m1 0h1m0 0h1m12 0h1M2 61.5h1m5 0h1m4 0h1m2 0h1m0 0h1m0 0h1m0 0h1m0 0h1m6 0h1m7 0h1M0 62.5h1m4 0h1m7 0h1m2 0h1m0 0h1m1 0h1m0 0h1m4 0h1m0 0h1m1 0h1m0 0h1m3 0h1m0 0h1M0 63.5h1m4 0h1m2 0h1m0 0h1m4 0h1m1 0h1m0 0h1m2 0h1m3 0h1M10 64.5h1"/>
</g>
<path d="M21.7 22h4.4v4.5h-4.4zM30.5 22h4.4v4.5h-4.4zM48.1 22h4.4v4.5h-4.4zM65.7 22h4.4v4.5h-4.4zM118.5 22h4.4v4.5h-4.4zM158.1 22h4.4v4.5h-4.4zM193.3 22h13.2v4.5h-13.2zM290.1 22h17.6v4.5h-17.6zM17.3 26.4h8.8v4.5h-8.8zM30.5 26.4h48.4v4.5h-48.4zM114.1 26.4h17.6v4.5h-17.6zM140.5 26.4h4.4v4.5h-4.4zM149.3 26.4h13.2v4.5h-13.2zM188.9 26.4h22v4.5h-22zM272.5 26.4h8.8v4.5h-8.8zM285.7 26.4h30.8v4.5h-30.8zM12.9 30.9h83.6v4.5h-83.6zM109.7 30.9h57.2v4.5h-57.2zM180.1 30.9h4.4v4.5h-4.4zM188.9 30.9h35.2v4.5h-35.2zM268.1 30.9h61.6v4.5h-61.6zM12.9 35.4h224.4v4.5h-224.4zM250.5 35.4h4.4v4.5h-4.4zM263.7 35.4h66v4.5h-66zM12.9 39.8h316.8v4.5h-316.8zM12.9 44.2h316.8v4.5h-316.8zM12.9 48.7h316.8v4.5h-316.8zM12.9 53.2h316.8v4.5h-316.8zM12.9 57.6h316.8v4.5h-316.8zM12.9 62.1h316.8v4.5h-316.8zM12.9 66.5h316.8v4.5h-316.8zM12.9 71h316.8v4.5h-316.8zM12.9 75.4h316.8v4.5h-316.8zM12.9 79.8h316.8v4.5h-316.8zM12.9 84.3h316.8v4.5h-316.8zM12.9 88.8h316.8v4.5h-316.8zM12.9 93.2h316.8v4.5h-316.8zM12.9 97.7h316.8v4.5h-316.8zM12.9 102.1h316.8v4.5h-316.8zM12.9 106.5h316.8v4.5h-316.8zM12.9 111h316.8v4.5h-316.8zM12.9 115.5h316.8v4.5h-316.8zM12.9 119.9h316.8v4.5h-316.8zM12.9 124.4h316.8v4.5h-316.8zM12.9 128.8h316.8v4.5h-316.8zM12.9 133.2h316.8v4.5h-316.8zM12.9 137.7h316.8v4.5h-316.8zM12.9 142.2h316.8v4.5h-316.8zM12.9 146.6h316.8v4.5h-316.8zM12.9 151.1h316.8v4.5h-316.8zM12.9 155.5h316.8v4.5h-316.8zM12.9 160h316.8v4.5h-316.8zM12.9 164.4h316.8v4.5h-316.8zM12.9 168.8h316.8v4.5h-316.8zM12.9 173.3h316.8v4.5h-316.8zM12.9 177.8h316.8v4.5h-316.8zM12.9 182.2h316.8v4.5h-316.8zM12.9 186.7h316.8v4.5h-316.8zM12.9 191.1h316.8v4.5h-316.8zM12.9 195.6h316.8v4.5h-316.8zM12.9 200h316.8v4.5h-316.8zM12.9 204.5h316.8v4.5h-316.8zM12.9 208.9h316.8v4.5h-316.8zM12.9 213.3h316.8v4.5h-316.8zM12.9 217.8h316.8v4.5h-316.8zM12.9 222.2h316.8v4.5h-316.8zM12.9 226.7h316.8v4.5h-316.8zM12.9 231.2h316.8v4.5h-316.8zM12.9 235.6h316.8v4.5h-316.8zM12.9 240.1h316.8v4.5h-316.8zM12.9 244.5h316.8v4.5h-316.8zM12.9 249h316.8v4.5h-316.8zM12.9 253.4h316.8v4.5h-316.8zM12.9 257.9h316.8v4.5h-316.8zM12.9 262.3h316.8v4.5h-316.8zM12.9 266.8h316.8v4.5h-316.8zM12.9 271.2h316.8v4.5h-316.8zM12.9 275.6h202.4v4.5h-202.4zM232.9 275.6h4.4v4.5h-4.4zM241.7 275.6h4.4v4.5h-4.4zM250.5 275.6h79.2v4.5h-79.2zM12.9 280.1h198v4.5h-198zM250.5 280.1h4.4v4.5h-4.4zM259.3 280.1h70.4v4.5h-70.4zM12.9 284.6h193.6v4.5h-193.6zM263.7 284.6h66v4.5h-66zM12.9 289h189.2v4.5h-189.2zM281.3 289h48.4v4.5h-48.4zM12.9 293.4h180.4v4.5h-180.4zM285.7 293.4h13.2v4.5h-13.2zM12.9 297.9h171.6v4.5h-171.6zM12.9 302.4h26.4v4.5h-26.4zM43.7 302.4h83.6v4.5h-83.6zM131.7 302.4h48.4v4.5h-48.4zM26.1 306.8h4.4v4.5h-4.4zM52.5 306.8h52.8v4.5h-52.8zM109.7 306.8h8.8v4.5h-8.8zM140.5 306.8h8.8v4.5h-8.8zM162.5 306.8h4.4v4.5h-4.4z" fill="url(#spots)"/>
<ellipse cx="20" cy="150" rx="11" ry="2.2" fill="#f4f4f6" transform="rotate(-12 20 150)"/>
<ellipse cx="84" cy="293" rx="8" ry="1.8" fill="#f4f4f6" transform="rotate(-10 84 293)"/>
</g>
<text x="2110" y="2263.5" font-size="23.6" text-anchor="start" fill="#222">Mast</text>
<rect x="2187.2" y="2222.8" width="190" height="38.2" fill="url(#spec)"/>
<path d="M2215.2 2222.8 v7 M2215.2 2254 v7" stroke="#fff" stroke-width="1.3" stroke-opacity="0.8"/>
<text x="2215.2" y="2284.3" font-size="20.4" text-anchor="middle" fill="#222" letter-spacing="-0.6">−0.25</text>
<path d="M2262.7 2222.8 v7 M2262.7 2254 v7" stroke="#fff" stroke-width="1.3" stroke-opacity="0.8"/>
<text x="2262.7" y="2284.3" font-size="20.4" text-anchor="middle" fill="#222" letter-spacing="-0.6">0.00</text>
<path d="M2310.3 2222.8 v7 M2310.3 2254 v7" stroke="#fff" stroke-width="1.3" stroke-opacity="0.8"/>
<text x="2310.3" y="2284.3" font-size="20.4" text-anchor="middle" fill="#222" letter-spacing="-0.6">0.25</text>
<path d="M2357.8 2222.8 v7 M2357.8 2254 v7" stroke="#fff" stroke-width="1.3" stroke-opacity="0.8"/>
<text x="2357.8" y="2284.3" font-size="20.4" text-anchor="middle" fill="#222" letter-spacing="-0.6">0.50</text>
<g transform="translate(2072.4 2327)">
<rect x="0" y="0" width="342" height="328" fill="#EFEFF1"/>
<path d="M0 24 L13.5 26 L14 305 L0 307 Z" fill="url(#purp)"/>
<path d="M327 22 L341 20 L341 300 L327 299 Z" fill="url(#purp)"/>
<g transform="translate(12.9 22) scale(4.4 4.45)" fill="none" stroke-width="1">
<path stroke="#5e4fa2" d="M15 3.5h1M28 7.5h1M6 8.5h1m21 0h1M0 10.5h1m17 0h1M1 12.5h1M43 14.5h1M1 15.5h1M48 16.5h1M21 19.5h1M15 20.5h1M21 23.5h1M11 37.5h1M6 40.5h1m18 0h1M9 43.5h1M9 48.5h1M15 50.5h1M19 52.5h1M22 53.5h1M21 61.5h1M15 62.5h1"/>
<path stroke="#535da9" d="M23 4.5h1M10 5.5h1M11 9.5h1M20 10.5h1M7 11.5h1M9 14.5h1M12 18.5h1M10 20.5h1M3 24.5h1M5 26.5h1M20 27.5h1M16 46.5h1M60 52.5h1M22 58.5h1M12 60.5h1M23 62.5h1"/>
<path stroke="#486cb0" d="M13 1.5h1M15 5.5h1M8 6.5h1m27 0h1M5 9.5h1M11 10.5h1m0 0h1m21 0h1M2 11.5h1m7 0h1m3 0h1m1 0h1m17 0h1M51 12.5h1M14 14.5h1m2 0h1M15 15.5h1M9 17.5h1m36 0h1M10 19.5h1M12 20.5h1m5 0h1M2 22.5h1M20 23.5h1M5 25.5h1M22 35.5h1M65 37.5h1M19 39.5h1M7 44.5h1M6 45.5h1M15 47.5h1M29 48.5h1M29 49.5h1M20 51.5h1M16 53.5h1m1 0h1m1 0h1M15 61.5h1M2 62.5h1M15 63.5h1m9 0h1"/>
<path stroke="#3d7ab6" d="M29 1.5h1m13 0h1M21 3.5h1M22 4.5h1m20 0h1M16 5.5h1M9 6.5h1m19 0h1M6 7.5h1m7 0h1m14 0h1m30 0h1M3 8.5h1m3 0h1m17 0h1M44 9.5h1m10 0h1M19 10.5h1M13 11.5h1M14 12.5h1M15 13.5h1m7 0h1M17 15.5h1M22 17.5h1M11 18.5h1M13 19.5h1M19 20.5h1M25 21.5h1M15 23.5h1m6 0h1M6 24.5h1m9 0h1m7 0h1M33 25.5h1M4 26.5h1M22 28.5h1M33 31.5h1M11 33.5h1M9 36.5h1M1 37.5h1M7 38.5h1M22 39.5h1M8 42.5h1m0 0h1M36 44.5h1M56 48.5h1M23 51.5h1M52 53.5h1M31 54.5h1M15 55.5h1m4 0h1M8 56.5h1m8 0h1M10 59.5h1M20 62.5h1M29 63.5h1M30 64.5h1"/>
<path stroke="#3288bd" d="M41 1.5h1M5 3.5h1m10 0h1m30 0h1M1 4.5h1m19 0h1m2 0h1m19 0h1M1 6.5h1m35 0h1M2 7.5h1m2 0h1m21 0h1M0 8.5h1m8 0h1M15 9.5h1m13 0h1m3 0h1M25 10.5h1M4 11.5h1m6 0h1m11 0h1m15 0h1M12 12.5h1M0 13.5h1m12 0h1M0 14.5h1m11 0h1m0 0h1m42 0h1M9 15.5h1m1 0h1m23 0h1M11 16.5h1m11 0h1m5 0h1M10 17.5h1m3 0h1m0 0h1m12 0h1M18 18.5h1m3 0h1M9 19.5h1m1 0h1m3 0h1m6 0h1m28 0h1M2 20.5h1m6 0h1m4 0h1m8 0h1M21 21.5h1M6 22.5h1M26 23.5h1M4 24.5h1m42 0h1M8 25.5h1M3 26.5h1m16 0h1m3 0h1M16 27.5h1m14 0h1M19 28.5h1m7 0h1M13 30.5h1M31 33.5h1M24 34.5h1M20 35.5h1M0 36.5h1m0 0h1m1 0h1m35 0h1M9 37.5h1m29 0h1M11 39.5h1m9 0h1M3 41.5h1m16 0h1m48 0h1M8 43.5h1m25 0h1M8 44.5h1M15 45.5h1m1 0h1m4 0h1m0 0h1M19 46.5h1m30 0h1M25 49.5h1M17 50.5h1m13 0h1M23 53.5h1m7 0h1m28 0h1M8 54.5h1m7 0h1M9 55.5h1m16 0h1M15 56.5h1m6 0h1m33 0h1M10 57.5h1m12 0h1M12 58.5h1M61 59.5h1M20 60.5h1m11 0h1M23 61.5h1M0 62.5h1M10 63.5h1M9 64.5h1m7 0h1m2 0h1"/>
<path stroke="#3f96b7" d="M33 2.5h1m12 0h1M18 3.5h1m4 0h1m15 0h1M39 4.5h1m9 0h1M3 5.5h1m40 0h1M30 6.5h1m1 0h1m0 0h1m4 0h1m0 0h1M4 7.5h1m31 0h1M4 8.5h1m14 0h1m40 0h1M0 9.5h1m8 0h1m3 0h1m10 0h1m13 0h1m3 0h1m0 0h1M1 10.5h1m12 0h1M9 11.5h1m9 0h1m12 0h1M19 13.5h1m31 0h1M15 14.5h1m4 0h1m1 0h1m7 0h1m11 0h1m4 0h1M49 15.5h1M9 16.5h1m28 0h1m21 0h1M16 17.5h1m0 0h1M8 18.5h1m1 0h1m5 0h1m6 0h1m9 0h1M12 19.5h1m14 0h1m0 0h1m1 0h1m4 0h1m4 0h1M53 20.5h1M18 21.5h1m4 0h1m2 0h1M12 22.5h1m10 0h1m8 0h1m4 0h1M55 23.5h1M8 24.5h1m3 0h1m12 0h1m10 0h1M4 25.5h1m11 0h1m20 0h1M15 27.5h1M9 28.5h1m6 0h1m1 0h1M8 29.5h1m1 0h1m16 0h1m2 0h1M4 30.5h1m7 0h1m1 0h1M14 31.5h1m7 0h1m6 0h1m39 0h1M10 33.5h1M17 34.5h1M9 35.5h1M6 36.5h1m14 0h1M21 37.5h1m5 0h1M6 38.5h1M6 39.5h1M20 40.5h1M7 41.5h1m0 0h1m4 0h1m5 0h1m29 0h1M5 42.5h1M14 43.5h1m1 0h1M12 44.5h1m15 0h1M44 46.5h1M22 48.5h1m0 0h1M18 49.5h1M22 50.5h1M8 51.5h1m13 0h1m31 0h1m7 0h1M20 52.5h1M19 53.5h1M11 54.5h1m8 0h1m24 0h1M18 55.5h1m11 0h1m14 0h1M23 56.5h1m11 0h1M8 57.5h1m15 0h1m0 0h1M10 58.5h1m13 0h1m1 0h1m4 0h1m2 0h1M31 59.5h1M35 60.5h1M20 61.5h1m10 0h1m1 0h1M19 62.5h1M34 63.5h1M12 64.5h1"/>
<path stroke="#4ca5b1" d="M33 0.5h1M23 1.5h1m9 0h1M23 2.5h1m2 0h1m5 0h1m14 0h1M44 3.5h1M6 4.5h1m1 0h1m8 0h1M36 5.5h1m18 0h1M11 6.5h1m6 0h1m15 0h1m9 0h1m9 0h1M24 7.5h1m12 0h1m6 0h1M10 8.5h1m21 0h1m3 0h1m1 0h1M7 9.5h1m8 0h1m1 0h1m1 0h1m0 0h1m3 0h1m9 0h1m0 0h1M5 10.5h1m9 0h1m1 0h1m14 0h1m10 0h1M3 11.5h1m31 0h1m9 0h1m19 0h1M2 12.5h1m10 0h1m14 0h1M12 13.5h1m9 0h1m19 0h1m9 0h1M16 14.5h1m2 0h1m3 0h1m11 0h1M7 15.5h1m0 0h1m1 0h1m1 0h1m6 0h1m1 0h1M17 16.5h1m23 0h1m8 0h1m10 0h1M23 17.5h1M19 18.5h1m0 0h1M6 19.5h1m13 0h1m12 0h1M0 20.5h1m7 0h1m4 0h1M12 21.5h1m0 0h1m1 0h1m29 0h1M7 22.5h1m0 0h1m4 0h1m6 0h1m3 0h1m11 0h1m1 0h1m13 0h1M16 23.5h1m7 0h1m8 0h1M18 24.5h1m0 0h1m1 0h1m4 0h1M17 25.5h1m0 0h1m5 0h1M7 26.5h1m3 0h1m7 0h1m14 0h1M3 27.5h1m15 0h1m41 0h1M10 28.5h1m34 0h1M1 29.5h1M2 30.5h1m2 0h1M4 31.5h1m44 0h1M3 32.5h1m18 0h1M5 33.5h1m15 0h1M24 35.5h1m6 0h1M22 36.5h1M13 37.5h1m3 0h1m10 0h1m25 0h1m13 0h1M0 38.5h1m7 0h1m0 0h1m0 0h1m44 0h1m0 0h1M7 39.5h1m15 0h1m2 0h1M12 40.5h1m15 0h1M21 41.5h1M14 42.5h1m6 0h1m19 0h1M10 43.5h1M1 44.5h1m14 0h1m13 0h1m4 0h1M37 45.5h1M17 46.5h1M6 47.5h1M33 48.5h1M8 49.5h1m6 0h1m6 0h1m5 0h1m5 0h1M9 50.5h1m2 0h1m16 0h1m4 0h1m0 0h1m25 0h1M6 51.5h1m11 0h1m18 0h1m0 0h1M8 52.5h1m14 0h1m23 0h1m1 0h1m12 0h1M30 53.5h1m4 0h1M2 54.5h1m20 0h1M0 55.5h1m46 0h1m2 0h1M31 57.5h1M11 58.5h1m3 0h1M28 59.5h1m6 0h1m2 0h1m0 0h1M21 60.5h1m2 0h1M5 61.5h1m12 0h1m3 0h1m3 0h1M4 62.5h1m9 0h1M16 63.5h1m11 0h1m2 0h1m0 0h1M11 64.5h1m4 0h1"/>
<path stroke="#59b4ab" d="M11 1.5h1m13 0h1M24 2.5h1m15 0h1m1 0h1m15 0h1m0 0h1M22 3.5h1m1 0h1m11 0h1m6 0h1M28 4.5h1m0 0h1m7 0h1m12 0h1m11 0h1M8 5.5h1m0 0h1m13 0h1m1 0h1M7 6.5h1m7 0h1m11 0h1m12 0h1m2 0h1m22 0h1M10 7.5h1m15 0h1m5 0h1m8 0h1m20 0h1M2 8.5h1m14 0h1M10 9.5h1m19 0h1m3 0h1m4 0h1m6 0h1m1 0h1m5 0h1M2 10.5h1m1 0h1m4 0h1m3 0h1m23 0h1m8 0h1m3 0h1M0 11.5h1m14 0h1m1 0h1m8 0h1m16 0h1M11 12.5h1m3 0h1m26 0h1m18 0h1M8 13.5h1M2 14.5h1m7 0h1m16 0h1m10 0h1m0 0h1m0 0h1m4 0h1m11 0h1M14 15.5h1m45 0h1M5 16.5h1m12 0h1m2 0h1m3 0h1m11 0h1M19 17.5h1m0 0h1m23 0h1M0 18.5h1m3 0h1m2 0h1m1 0h1m24 0h1M32 19.5h1M1 20.5h1m9 0h1m10 0h1m8 0h1M3 21.5h1m1 0h1M1 22.5h1m19 0h1m11 0h1m9 0h1m2 0h1m23 0h1M25 23.5h1m5 0h1m18 0h1M1 24.5h1m5 0h1m12 0h1m1 0h1m19 0h1m15 0h1M10 25.5h1m10 0h1m0 0h1M0 26.5h1m8 0h1m5 0h1m5 0h1m0 0h1m39 0h1M12 27.5h1m10 0h1M44 28.5h1M7 29.5h1M0 30.5h1m25 0h1m0 0h1m6 0h1m2 0h1m1 0h1m17 0h1M0 31.5h1m7 0h1M8 32.5h1m3 0h1m13 0h1M6 33.5h1m18 0h1m9 0h1M10 34.5h1m0 0h1M2 35.5h1m16 0h1m12 0h1m10 0h1M2 36.5h1m45 0h1M5 37.5h1m19 0h1M11 38.5h1m16 0h1M27 39.5h1M7 40.5h1m0 0h1m9 0h1m13 0h1M9 41.5h1m2 0h1m5 0h1M26 42.5h1M6 43.5h1m4 0h1m12 0h1M27 44.5h1m9 0h1M10 45.5h1m5 0h1m10 0h1m2 0h1m28 0h1M28 46.5h1M22 47.5h1m20 0h1M6 48.5h1m25 0h1m38 0h1M9 49.5h1m9 0h1m1 0h1m24 0h1M42 51.5h1m9 0h1m8 0h1M6 52.5h1m2 0h1m6 0h1m4 0h1m0 0h1m7 0h1m5 0h1M8 53.5h1m0 0h1m5 0h1m22 0h1m9 0h1m13 0h1M1 54.5h1m19 0h1m4 0h1M17 55.5h1m20 0h1M19 56.5h1m6 0h1m20 0h1M3 57.5h1m1 0h1m3 0h1m3 0h1m15 0h1m3 0h1m20 0h1M6 58.5h1m2 0h1m22 0h1m0 0h1M3 59.5h1m23 0h1m5 0h1M15 60.5h1m15 0h1m2 0h1M16 61.5h1m7 0h1M25 62.5h1M12 63.5h1m0 0h1m3 0h1m6 0h1m8 0h1m1 0h1"/>
<path stroke="#66c2a5" d="M63 0.5h1M5 1.5h1m53 0h1M22 2.5h1M9 3.5h1m3 0h1m0 0h1m10 0h1m1 0h1m18 0h1m2 0h1M5 4.5h1m13 0h1m5 0h1m15 0h1m5 0h1M0 5.5h1m1 0h1m8 0h1m10 0h1m5 0h1m17 0h1m4 0h1M0 6.5h1m13 0h1m1 0h1m3 0h1m4 0h1m21 0h1M7 7.5h1m14 0h1m8 0h1m2 0h1m3 0h1m4 0h1m6 0h1m5 0h1m2 0h1M8 8.5h1m11 0h1m3 0h1m1 0h1m0 0h1m28 0h1M2 9.5h1m25 0h1m3 0h1M3 10.5h1m12 0h1m18 0h1m4 0h1m0 0h1m0 0h1m11 0h1M1 11.5h1m22 0h1m17 0h1m21 0h1M4 12.5h1m30 0h1m17 0h1m15 0h1M5 13.5h1m5 0h1m4 0h1m4 0h1m18 0h1m7 0h1m7 0h1m0 0h1M5 14.5h1m19 0h1m26 0h1m1 0h1M18 15.5h1m8 0h1m1 0h1m20 0h1M16 16.5h1m2 0h1m4 0h1m3 0h1M29 17.5h1m1 0h1m30 0h1M21 18.5h1m17 0h1m0 0h1m29 0h1M19 19.5h1m11 0h1m23 0h1M16 20.5h1m0 0h1M6 21.5h1m0 0h1m32 0h1M3 22.5h1m6 0h1m6 0h1m4 0h1m2 0h1m15 0h1m7 0h1m5 0h1M8 23.5h1m27 0h1m1 0h1M14 24.5h1m19 0h1m5 0h1M3 25.5h1m15 0h1m0 0h1m7 0h1m5 0h1m0 0h1M18 26.5h1m14 0h1m6 0h1m19 0h1M17 27.5h1m0 0h1m5 0h1m5 0h1M6 28.5h1m0 0h1m15 0h1m0 0h1m3 0h1m0 0h1m38 0h1M5 29.5h1m5 0h1m4 0h1m1 0h1m1 0h1m11 0h1M6 30.5h1m4 0h1m11 0h1m9 0h1M5 31.5h1m1 0h1m35 0h1M10 32.5h1m5 0h1m21 0h1m4 0h1M0 33.5h1m14 0h1m6 0h1m1 0h1m13 0h1m5 0h1M15 34.5h1m9 0h1M23 35.5h1m5 0h1M38 36.5h1m24 0h1M7 37.5h1m22 0h1M4 38.5h1m15 0h1m9 0h1m8 0h1m7 0h1m5 0h1m3 0h1M2 40.5h1m23 0h1M4 41.5h1m65 0h1M10 42.5h1m12 0h1M7 43.5h1M5 44.5h1M8 45.5h1m9 0h1m13 0h1M6 46.5h1m1 0h1m5 0h1m0 0h1m11 0h1m3 0h1m35 0h1M16 47.5h1m4 0h1m45 0h1M1 48.5h1m8 0h1m5 0h1m4 0h1m13 0h1m11 0h1m6 0h1m0 0h1M0 49.5h1m5 0h1m10 0h1m35 0h1m12 0h1M24 50.5h1m29 0h1M0 51.5h1m20 0h1m25 0h1m5 0h1m2 0h1M7 52.5h1m30 0h1m4 0h1m23 0h1M13 53.5h1m3 0h1m24 0h1m18 0h1M0 54.5h1m9 0h1m2 0h1m3 0h1m11 0h1m0 0h1m2 0h1m1 0h1m21 0h1M7 55.5h1m25 0h1m17 0h1M0 56.5h1m10 0h1m8 0h1m8 0h1m15 0h1m3 0h1M6 57.5h1m8 0h1m2 0h1m2 0h1M29 58.5h1M4 59.5h1m4 0h1m13 0h1M7 60.5h1m3 0h1m4 0h1m1 0h1m3 0h1m2 0h1m4 0h1M8 61.5h1m10 0h1m9 0h1M1 62.5h1m4 0h1m17 0h1m1 0h1m7 0h1M18 63.5h1m0 0h1m3 0h1m12 0h1M29 64.5h1m4 0h1"/>
<path stroke="#77c9a5" d="M12 0.5h1m11 0h1M1 1.5h1M10 2.5h1m5 0h1m0 0h1m9 0h1m2 0h1m0 0h1M11 3.5h1m5 0h1m8 0h1m3 0h1m17 0h1m5 0h1M20 4.5h1m15 0h1m1 0h1m1 0h1m10 0h1M4 5.5h1m7 0h1m5 0h1m5 0h1m1 0h1m2 0h1m1 0h1m5 0h1m7 0h1M12 6.5h1m0 0h1m5 0h1m2 0h1m5 0h1m29 0h1m3 0h1M0 7.5h1m0 0h1m13 0h1m4 0h1m18 0h1M11 8.5h1m3 0h1m0 0h1m14 0h1m1 0h1m0 0h1m0 0h1m9 0h1m0 0h1m2 0h1m4 0h1M14 9.5h1m4 0h1m11 0h1M33 10.5h1m2 0h1M5 11.5h1m2 0h1m9 0h1m1 0h1m6 0h1m5 0h1m13 0h1m15 0h1M3 12.5h1m4 0h1m16 0h1m0 0h1m0 0h1m6 0h1m23 0h1M27 13.5h1m4 0h1m0 0h1m0 0h1m4 0h1m3 0h1m1 0h1m7 0h1m0 0h1M6 14.5h1m22 0h1m20 0h1m0 0h1m1 0h1M16 15.5h1m9 0h1M1 16.5h1m5 0h1m25 0h1m5 0h1M1 17.5h1m0 0h1m23 0h1m14 0h1m1 0h1m3 0h1m2 0h1m10 0h1M31 18.5h1m0 0h1m9 0h1m5 0h1m9 0h1M7 19.5h1m0 0h1m8 0h1m5 0h1m1 0h1m10 0h1m5 0h1M34 20.5h1m7 0h1M2 21.5h1m25 0h1m8 0h1m4 0h1M9 22.5h1m8 0h1m8 0h1m16 0h1m11 0h1M9 23.5h1m0 0h1m2 0h1m4 0h1m11 0h1m12 0h1m26 0h1M2 24.5h1m10 0h1m14 0h1m25 0h1M1 25.5h1m5 0h1m5 0h1m1 0h1m9 0h1m13 0h1m0 0h1m0 0h1M8 26.5h1M1 27.5h1m0 0h1m6 0h1m0 0h1m2 0h1m18 0h1m16 0h1m0 0h1M1 28.5h1m0 0h1m2 0h1m8 0h1m0 0h1m4 0h1m5 0h1m8 0h1m20 0h1M13 29.5h1m5 0h1m1 0h1M1 30.5h1m56 0h1M1 31.5h1m10 0h1m13 0h1m13 0h1m19 0h1m0 0h1m9 0h1M2 32.5h1m1 0h1m0 0h1m1 0h1m16 0h1m7 0h1m3 0h1m34 0h1M1 33.5h1m0 0h1m6 0h1m7 0h1m5 0h1m17 0h1m0 0h1m11 0h1M7 34.5h1m6 0h1m7 0h1m0 0h1m5 0h1M25 35.5h1m1 0h1m2 0h1m6 0h1m1 0h1m12 0h1M4 36.5h1m50 0h1m0 0h1m2 0h1m8 0h1M3 37.5h1m11 0h1m29 0h1m24 0h1M13 38.5h1m2 0h1m9 0h1m0 0h1m4 0h1m27 0h1M5 39.5h1m4 0h1m13 0h1m4 0h1m16 0h1M10 40.5h1m5 0h1m4 0h1m1 0h1m21 0h1m4 0h1M22 41.5h1m0 0h1m24 0h1m6 0h1m4 0h1m10 0h1M0 42.5h1m3 0h1m7 0h1m0 0h1m2 0h1m20 0h1m6 0h1M0 43.5h1m0 0h1m0 0h1m10 0h1m14 0h1m10 0h1m1 0h1m16 0h1m0 0h1m11 0h1M14 44.5h1m10 0h1m33 0h1M0 45.5h1m11 0h1m0 0h1m14 0h1m21 0h1m3 0h1M5 46.5h1m15 0h1m49 0h1M5 47.5h1m2 0h1m1 0h1m3 0h1m2 0h1m2 0h1m10 0h1m17 0h1M7 48.5h1m3 0h1m13 0h1m25 0h1m15 0h1M14 49.5h1m15 0h1m0 0h1m13 0h1m6 0h1m17 0h1M3 50.5h1m1 0h1m24 0h1M12 51.5h1m15 0h1m31 0h1M2 52.5h1m1 0h1m6 0h1m5 0h1m0 0h1m29 0h1m12 0h1M10 53.5h1m13 0h1m3 0h1m8 0h1m8 0h1m19 0h1M24 54.5h1m2 0h1m6 0h1M48 55.5h1m0 0h1m11 0h1M5 56.5h1m8 0h1m12 0h1m0 0h1m3 0h1m19 0h1m7 0h1M11 57.5h1m5 0h1m9 0h1m32 0h1m0 0h1m0 0h1M4 58.5h1m0 0h1m22 0h1m7 0h1m23 0h1M11 59.5h1m6 0h1m7 0h1m7 0h1m1 0h1m31 0h1m1 0h1M13 60.5h1m9 0h1M35 61.5h1M10 62.5h1m6 0h1m9 0h1m9 0h1M2 63.5h1m4 0h1m1 0h1m4 0h1"/>
<path stroke="#88d0a4" d="M43 0.5h1M6 2.5h1m1 0h1m16 0h1m12 0h1M2 3.5h1m26 0h1m10 0h1m9 0h1m17 0h1M10 4.5h1m0 0h1m14 0h1m4 0h1m1 0h1m29 0h1M17 5.5h1m1 0h1m14 0h1m4 0h1m8 0h1m7 0h1m5 0h1m5 0h1M24 6.5h1m20 0h1m3 0h1m0 0h1m9 0h1M3 7.5h1m4 0h1m2 0h1m13 0h1m4 0h1m4 0h1m31 0h1M12 8.5h1m29 0h1m0 0h1m4 0h1m8 0h1m3 0h1m0 0h1M4 9.5h1m12 0h1M39 10.5h1m15 0h1m9 0h1M12 11.5h1m31 0h1m4 0h1m5 0h1m0 0h1m14 0h1M0 12.5h1m23 0h1m6 0h1m1 0h1M1 13.5h1m0 0h1m14 0h1m2 0h1m20 0h1m7 0h1m8 0h1M7 14.5h1m10 0h1m14 0h1m0 0h1m13 0h1M2 15.5h1m19 0h1m0 0h1m16 0h1m1 0h1m1 0h1m1 0h1M0 16.5h1m9 0h1m9 0h1m5 0h1m24 0h1M11 17.5h1m0 0h1m12 0h1m6 0h1m4 0h1m2 0h1m1 0h1M13 18.5h1m0 0h1m0 0h1m19 0h1m7 0h1m9 0h1M0 19.5h1m0 0h1m0 0h1m15 0h1m33 0h1m0 0h1m15 0h1M7 20.5h1m12 0h1m0 0h1m8 0h1m2 0h1m2 0h1m0 0h1m5 0h1m20 0h1m5 0h1M8 21.5h1m0 0h1m10 0h1m1 0h1m9 0h1m6 0h1m7 0h1m0 0h1m5 0h1m1 0h1m4 0h1M4 22.5h1m9 0h1m0 0h1m10 0h1m4 0h1m7 0h1m0 0h1M6 23.5h1m7 0h1m8 0h1m11 0h1m10 0h1m5 0h1m1 0h1M5 24.5h1m4 0h1m4 0h1m1 0h1m21 0h1m16 0h1M26 25.5h1m4 0h1m30 0h1M14 26.5h1m10 0h1m0 0h1m25 0h1m5 0h1M0 27.5h1m20 0h1M13 28.5h1m3 0h1m7 0h1m4 0h1m12 0h1m4 0h1m0 0h1m15 0h1M9 29.5h1m2 0h1m9 0h1m16 0h1m0 0h1m1 0h1m0 0h1m6 0h1M21 30.5h1m21 0h1m0 0h1m3 0h1m1 0h1m19 0h1M3 31.5h1m17 0h1m2 0h1m3 0h1m2 0h1m4 0h1m2 0h1m8 0h1M1 32.5h1m13 0h1m11 0h1m1 0h1m9 0h1m0 0h1m15 0h1M3 33.5h1m0 0h1m13 0h1m1 0h1m11 0h1m10 0h1m4 0h1m7 0h1M3 34.5h1m0 0h1m1 0h1m5 0h1m23 0h1m2 0h1m5 0h1m10 0h1m8 0h1M6 35.5h1m4 0h1m9 0h1m14 0h1M8 36.5h1m2 0h1m2 0h1m5 0h1m7 0h1m2 0h1m13 0h1m21 0h1M6 37.5h1m39 0h1m5 0h1M15 38.5h1m6 0h1m6 0h1m15 0h1m17 0h1M4 39.5h1m9 0h1m0 0h1m1 0h1m0 0h1m6 0h1m6 0h1m3 0h1m12 0h1m8 0h1M22 40.5h1m37 0h1M0 41.5h1m4 0h1m0 0h1m10 0h1m6 0h1m11 0h1m0 0h1m2 0h1m0 0h1m12 0h1M6 42.5h1m27 0h1m5 0h1M4 43.5h1m0 0h1m12 0h1m8 0h1m28 0h1M2 44.5h1m6 0h1m0 0h1m2 0h1m3 0h1M19 45.5h1m11 0h1m13 0h1m0 0h1m10 0h1m12 0h1M2 46.5h1m44 0h1M4 47.5h1m19 0h1m15 0h1m9 0h1M2 48.5h1m2 0h1m18 0h1m9 0h1M11 49.5h1m23 0h1m20 0h1M10 50.5h1m2 0h1m4 0h1m1 0h1m7 0h1m13 0h1m17 0h1m9 0h1M9 51.5h1m1 0h1m3 0h1m17 0h1m30 0h1M26 52.5h1m4 0h1m3 0h1m1 0h1m8 0h1m6 0h1M11 53.5h1m9 0h1m7 0h1m3 0h1m10 0h1M12 54.5h1m2 0h1m2 0h1m0 0h1m18 0h1m8 0h1m1 0h1M4 55.5h1m9 0h1m19 0h1M16 56.5h1m4 0h1m11 0h1m3 0h1M16 57.5h1m2 0h1m17 0h1m12 0h1m15 0h1M2 58.5h1m0 0h1m13 0h1m3 0h1m5 0h1M5 59.5h1m6 0h1m1 0h1m0 0h1m0 0h1m12 0h1m7 0h1m5 0h1m16 0h1m1 0h1m8 0h1M0 60.5h1m1 0h1m2 0h1m11 0h1m8 0h1m11 0h1m25 0h1m4 0h1M14 61.5h1m2 0h1m7 0h1m4 0h1m5 0h1M11 62.5h1m4 0h1m1 0h1M37 63.5h1M18 64.5h1"/>
<path stroke="#9ad6a4" d="M2 1.5h1m3 0h1m1 0h1m1 0h1m29 0h1m26 0h1M7 2.5h1m20 0h1M19 3.5h1m8 0h1m12 0h1m18 0h1M2 4.5h1m6 0h1m6 0h1m17 0h1m0 0h1m30 0h1m0 0h1m0 0h1M21 5.5h1m5 0h1m12 0h1m8 0h1m3 0h1M31 6.5h1m29 0h1M47 7.5h1m7 0h1m7 0h1m0 0h1M5 8.5h1m23 0h1m10 0h1m10 0h1M3 9.5h1m4 0h1m3 0h1m28 0h1m3 0h1m5 0h1M22 10.5h1m5 0h1m1 0h1m0 0h1m15 0h1m0 0h1m7 0h1M25 11.5h1m4 0h1M6 12.5h1m9 0h1m2 0h1m3 0h1m6 0h1m17 0h1m5 0h1m1 0h1m2 0h1M3 13.5h1m31 0h1m19 0h1m9 0h1M4 14.5h1m23 0h1m15 0h1m14 0h1M0 15.5h1m31 0h1m0 0h1m4 0h1m0 0h1m21 0h1m4 0h1m0 0h1M4 16.5h1m7 0h1m9 0h1m4 0h1m17 0h1m0 0h1m0 0h1M0 17.5h1m4 0h1m15 0h1m13 0h1M2 18.5h1m3 0h1m10 0h1m10 0h1m0 0h1m7 0h1m27 0h1M5 19.5h1m8 0h1m19 0h1m4 0h1m14 0h1m2 0h1M24 20.5h1m0 0h1m1 0h1m12 0h1m0 0h1M31 21.5h1m14 0h1m2 0h1m1 0h1m10 0h1m6 0h1M0 22.5h1M2 23.5h1m1 0h1m36 0h1m3 0h1m15 0h1m9 0h1M11 24.5h1m17 0h1m0 0h1m0 0h1m19 0h1m3 0h1m1 0h1m10 0h1M9 25.5h1m20 0h1m19 0h1M10 26.5h1m30 0h1m3 0h1m15 0h1m1 0h1M25 27.5h1m0 0h1m1 0h1m0 0h1m11 0h1m2 0h1m2 0h1m12 0h1m7 0h1M3 28.5h1m0 0h1m26 0h1m2 0h1m11 0h1M0 29.5h1m3 0h1m10 0h1m1 0h1m10 0h1m20 0h1m5 0h1m9 0h1m0 0h1M7 30.5h1m22 0h1m0 0h1m6 0h1m1 0h1m1 0h1m4 0h1m21 0h1M2 31.5h1m7 0h1m14 0h1m8 0h1m6 0h1m4 0h1m7 0h1m15 0h1M13 32.5h1m7 0h1m3 0h1m11 0h1m7 0h1m9 0h1m6 0h1M29 33.5h1m0 0h1m14 0h1m6 0h1M2 34.5h1m6 0h1m6 0h1m1 0h1m7 0h1m3 0h1m0 0h1m21 0h1M8 35.5h1m8 0h1m17 0h1m24 0h1M13 36.5h1m5 0h1m3 0h1m3 0h1m1 0h1m2 0h1m8 0h1m4 0h1m10 0h1M10 37.5h1m20 0h1m1 0h1m29 0h1M1 38.5h1m3 0h1m8 0h1m2 0h1m5 0h1m0 0h1M13 39.5h1m42 0h1M5 40.5h1m11 0h1m11 0h1m14 0h1m2 0h1m21 0h1M10 41.5h1m0 0h1m4 0h1m10 0h1m0 0h1m1 0h1m8 0h1m13 0h1m7 0h1m5 0h1M2 42.5h1m8 0h1m7 0h1m2 0h1m5 0h1m6 0h1M3 43.5h1m8 0h1m2 0h1m4 0h1m4 0h1m5 0h1m0 0h1m2 0h1m0 0h1m32 0h1M0 44.5h1m3 0h1m10 0h1m4 0h1m2 0h1m2 0h1m2 0h1m2 0h1m1 0h1m9 0h1M3 45.5h1m0 0h1m0 0h1m1 0h1M18 46.5h1m1 0h1m9 0h1m21 0h1m16 0h1M3 47.5h1m5 0h1m8 0h1m0 0h1m16 0h1m5 0h1m19 0h1m7 0h1M8 48.5h1m3 0h1m1 0h1m2 0h1m1 0h1m0 0h1m19 0h1m8 0h1m20 0h1M2 49.5h1m2 0h1m7 0h1m19 0h1m13 0h1m2 0h1m3 0h1m0 0h1m1 0h1m4 0h1m4 0h1m1 0h1M8 50.5h1m2 0h1m20 0h1m13 0h1m24 0h1M3 51.5h1m0 0h1m11 0h1m31 0h1m19 0h1M28 52.5h1M4 53.5h1m0 0h1m0 0h1m5 0h1m1 0h1m17 0h1m16 0h1m0 0h1m12 0h1m4 0h1M28 54.5h1m17 0h1m12 0h1M2 55.5h1m7 0h1m5 0h1m2 0h1m8 0h1m0 0h1m1 0h1m3 0h1m19 0h1m6 0h1M1 56.5h1m4 0h1m0 0h1m4 0h1m18 0h1m25 0h1M26 57.5h1m1 0h1m5 0h1m1 0h1m5 0h1m9 0h1M0 58.5h1m15 0h1m6 0h1m6 0h1m11 0h1m18 0h1m0 0h1M6 59.5h1m6 0h1m3 0h1m1 0h1m1 0h1m3 0h1m41 0h1M6 60.5h1m2 0h1m26 0h1m24 0h1m4 0h1M0 61.5h1m1 0h1m0 0h1M5 62.5h1m1 0h1m13 0h1m0 0h1m9 0h1m5 0h1M3 64.5h1m15 0h1"/>
<path stroke="#abdda4" d="M2 0.5h1m38 0h1m0 0h1M4 1.5h1m7 0h1m19 0h1m35 0h1M1 2.5h1m2 0h1m0 0h1m3 0h1m4 0h1m26 0h1m18 0h1m9 0h1M4 3.5h1m2 0h1m12 0h1m10 0h1m6 0h1m3 0h1M12 4.5h1m48 0h1M1 5.5h1m18 0h1m14 0h1m6 0h1m23 0h1M2 6.5h1m0 0h1m2 0h1m28 0h1m12 0h1M12 7.5h1m3 0h1m1 0h1m27 0h1m7 0h1m6 0h1m7 0h1M13 8.5h1m0 0h1m15 0h1m6 0h1m6 0h1m19 0h1m2 0h1m3 0h1M1 9.5h1m4 0h1m15 0h1m0 0h1m32 0h1m6 0h1M10 10.5h1m18 0h1m38 0h1M21 11.5h1m7 0h1m7 0h1m8 0h1m6 0h1m15 0h1M7 12.5h1m10 0h1m24 0h1m5 0h1m0 0h1M6 13.5h1m2 0h1m4 0h1m29 0h1m25 0h1M8 14.5h1m12 0h1m9 0h1m9 0h1m18 0h1m0 0h1m3 0h1M3 15.5h1m0 0h1m15 0h1m13 0h1m1 0h1m8 0h1m11 0h1m4 0h1M3 16.5h1m2 0h1m6 0h1m0 0h1m0 0h1m26 0h1m6 0h1m8 0h1m12 0h1M4 17.5h1m3 0h1m47 0h1m3 0h1M1 18.5h1m3 0h1m32 0h1m12 0h1M3 19.5h1m34 0h1m4 0h1m0 0h1m25 0h1M28 20.5h1m6 0h1m8 0h1m12 0h1m0 0h1m6 0h1m1 0h1M19 21.5h1m14 0h1m0 0h1m7 0h1m26 0h1M5 22.5h1m13 0h1m8 0h1m0 0h1m0 0h1m4 0h1m9 0h1m2 0h1m2 0h1m17 0h1M3 23.5h1m3 0h1m4 0h1m6 0h1m12 0h1m14 0h1m1 0h1m6 0h1m12 0h1M0 24.5h1m22 0h1m11 0h1m25 0h1m9 0h1M0 25.5h1m1 0h1m11 0h1m8 0h1m8 0h1m20 0h1m9 0h1M1 26.5h1m4 0h1m6 0h1m2 0h1m6 0h1m7 0h1m15 0h1m16 0h1M5 27.5h1m5 0h1m2 0h1m25 0h1m1 0h1m0 0h1m2 0h1m1 0h1m10 0h1m2 0h1M0 28.5h1m7 0h1m3 0h1m49 0h1m0 0h1m5 0h1M6 29.5h1m17 0h1m16 0h1m12 0h1m2 0h1M10 30.5h1M9 31.5h1m32 0h1M11 32.5h1m11 0h1m10 0h1m11 0h1M13 33.5h1m2 0h1m2 0h1m7 0h1m5 0h1m0 0h1m32 0h1M20 34.5h1m0 0h1m10 0h1m4 0h1m3 0h1m0 0h1m0 0h1m4 0h1m22 0h1M1 35.5h1m3 0h1m7 0h1m4 0h1m34 0h1M10 36.5h1m6 0h1m8 0h1m23 0h1m0 0h1m0 0h1m0 0h1M20 37.5h1m1 0h1m9 0h1m15 0h1m7 0h1m14 0h1M2 38.5h1m0 0h1m34 0h1m1 0h1m1 0h1m0 0h1m5 0h1M0 39.5h1m1 0h1m0 0h1m4 0h1m0 0h1m10 0h1m18 0h1m1 0h1m3 0h1m2 0h1m22 0h1M4 40.5h1m19 0h1m14 0h1m2 0h1m6 0h1m1 0h1m9 0h1M2 41.5h1m12 0h1m9 0h1m6 0h1m1 0h1m27 0h1m3 0h1M3 42.5h1m3 0h1m7 0h1m13 0h1m0 0h1m15 0h1m7 0h1m3 0h1M26 43.5h1M18 44.5h1m0 0h1m19 0h1m1 0h1m3 0h1M2 45.5h1m18 0h1m13 0h1m7 0h1m4 0h1M7 46.5h1m4 0h1m0 0h1m18 0h1m6 0h1m6 0h1m12 0h1m2 0h1m0 0h1M12 47.5h1m20 0h1m4 0h1m8 0h1m6 0h1m1 0h1m6 0h1m0 0h1m4 0h1M3 48.5h1m9 0h1m13 0h1m8 0h1m7 0h1m0 0h1m11 0h1m8 0h1M16 49.5h1m27 0h1m3 0h1M14 50.5h1m6 0h1m4 0h1m0 0h1m17 0h1m5 0h1m16 0h1M1 51.5h1m3 0h1m4 0h1m21 0h1m3 0h1m14 0h1M3 52.5h1m6 0h1m3 0h1m12 0h1m1 0h1m9 0h1m2 0h1M1 53.5h1m0 0h1m24 0h1m15 0h1M22 54.5h1m16 0h1m1 0h1m0 0h1m0 0h1m0 0h1m22 0h1M5 55.5h1m15 0h1m35 0h1m2 0h1m7 0h1M2 56.5h1m33 0h1m9 0h1M1 57.5h1m2 0h1m15 0h1m9 0h1m1 0h1m2 0h1m8 0h1M7 58.5h1m5 0h1m21 0h1M0 59.5h1m0 0h1m39 0h1m27 0h1M3 60.5h1m24 0h1m4 0h1m6 0h1m21 0h1m5 0h1M7 61.5h1m1 0h1m18 0h1m3 0h1m29 0h1M30 62.5h1m5 0h1M20 63.5h1m0 0h1m0 0h1m7 0h1M13 64.5h1"/>
<path stroke="#bae3a1" d="M8 0.5h1m57 0h1M42 1.5h1M2 2.5h1m31 0h1m8 0h1m1 0h1m16 0h1m3 0h1M3 3.5h1m28 0h1m4 0h1m28 0h1M3 4.5h1m11 0h1m11 0h1m4 0h1m12 0h1m6 0h1M5 5.5h1m0 0h1m25 0h1m5 0h1m11 0h1m9 0h1m2 0h1M4 6.5h1m5 0h1m10 0h1m20 0h1m3 0h1m6 0h1M9 7.5h1m3 0h1m28 0h1m9 0h1m13 0h1M18 8.5h1M40 9.5h1m6 0h1m1 0h1m14 0h1m0 0h1m1 0h1m0 0h1m0 0h1m0 0h1M6 10.5h1m17 0h1m1 0h1m36 0h1M6 11.5h1m21 0h1m2 0h1m8 0h1m11 0h1m4 0h1m12 0h1M5 12.5h1m15 0h1m19 0h1m13 0h1m4 0h1m1 0h1M24 13.5h1m3 0h1m2 0h1m5 0h1m0 0h1m11 0h1m9 0h1m10 0h1M3 14.5h1m32 0h1m12 0h1M24 15.5h1m0 0h1m21 0h1m4 0h1m0 0h1m16 0h1M8 16.5h1m22 0h1m23 0h1m3 0h1m9 0h1M7 17.5h1m5 0h1m10 0h1m5 0h1m3 0h1m17 0h1m13 0h1M3 18.5h1m22 0h1m0 0h1m2 0h1m32 0h1M37 19.5h1M4 20.5h1m0 0h1m23 0h1m2 0h1M4 21.5h1m5 0h1m13 0h1m5 0h1m10 0h1m8 0h1m4 0h1m4 0h1m10 0h1M11 22.5h1m41 0h1m0 0h1M11 23.5h1m22 0h1m13 0h1m14 0h1M32 24.5h1m8 0h1m2 0h1m1 0h1m1 0h1m3 0h1m9 0h1M6 25.5h1m4 0h1m30 0h1m2 0h1m5 0h1m6 0h1M17 26.5h1m10 0h1m0 0h1m5 0h1M27 27.5h1m27 0h1m0 0h1m0 0h1m0 0h1M39 28.5h1m0 0h1m1 0h1m4 0h1m7 0h1m4 0h1m9 0h1M14 29.5h1m10 0h1m44 0h1m0 0h1M3 30.5h1m5 0h1m5 0h1m12 0h1m6 0h1m9 0h1m6 0h1m9 0h1M11 31.5h1m5 0h1m26 0h1m5 0h1M0 32.5h1m13 0h1m2 0h1m15 0h1m7 0h1m2 0h1m3 0h1m15 0h1m2 0h1m1 0h1M7 33.5h1m18 0h1m9 0h1m2 0h1m0 0h1m14 0h1m4 0h1M5 34.5h1m7 0h1m14 0h1m5 0h1m25 0h1m1 0h1M3 35.5h1m0 0h1m23 0h1m5 0h1m5 0h1m0 0h1m14 0h1m1 0h1m0 0h1m9 0h1M33 36.5h1m2 0h1m0 0h1m2 0h1m6 0h1m12 0h1m3 0h1m6 0h1M12 37.5h1m3 0h1m6 0h1m0 0h1m10 0h1m0 0h1m5 0h1m0 0h1m15 0h1m4 0h1m1 0h1m0 0h1M12 38.5h1m8 0h1m9 0h1m14 0h1m12 0h1m8 0h1M1 39.5h1m10 0h1m34 0h1m7 0h1m6 0h1m6 0h1M0 40.5h1m10 0h1m7 0h1m11 0h1m2 0h1m17 0h1m18 0h1M1 41.5h1m12 0h1m18 0h1m12 0h1m10 0h1M1 42.5h1m15 0h1m2 0h1m4 0h1m1 0h1m5 0h1m27 0h1m4 0h1m4 0h1M17 43.5h1m11 0h1m7 0h1m0 0h1m1 0h1m4 0h1m19 0h1m1 0h1m2 0h1M6 44.5h1m15 0h1m1 0h1m8 0h1m4 0h1m1 0h1m12 0h1m13 0h1M9 45.5h1m10 0h1m4 0h1m0 0h1m24 0h1m10 0h1m1 0h1m0 0h1M9 46.5h1m12 0h1m6 0h1m8 0h1m2 0h1m1 0h1m4 0h1M28 47.5h1m1 0h1m1 0h1m33 0h1M18 48.5h1m7 0h1m19 0h1m5 0h1m15 0h1M3 49.5h1m0 0h1m2 0h1m2 0h1m9 0h1m3 0h1m2 0h1m11 0h1m21 0h1M4 50.5h1m28 0h1m7 0h1m11 0h1m12 0h1M19 51.5h1m15 0h1m3 0h1m27 0h1M12 52.5h1m2 0h1m28 0h1m9 0h1m8 0h1M39 53.5h1m0 0h1m0 0h1m3 0h1m5 0h1m13 0h1m1 0h1M4 54.5h1m1 0h1m25 0h1m22 0h1m6 0h1m5 0h1M1 55.5h1m21 0h1m13 0h1m8 0h1m7 0h1M18 56.5h1m5 0h1m9 0h1m20 0h1m5 0h1M2 57.5h1m4 0h1m32 0h1m0 0h1m3 0h1m9 0h1m15 0h1M1 58.5h1m6 0h1m5 0h1m3 0h1m0 0h1m34 0h1m2 0h1m8 0h1M7 59.5h1m12 0h1m3 0h1m32 0h1m8 0h1M37 60.5h1m33 0h1M1 61.5h1m10 0h1m27 0h1M9 62.5h1m3 0h1m21 0h1M3 63.5h1m7 0h1"/>
<path stroke="#c8e99e" d="M9 1.5h1m4 0h1m11 0h1M18 2.5h1m10 0h1m39 0h1m1 0h1M1 3.5h1m4 0h1m1 0h1M14 4.5h1m33 0h1m4 0h1m0 0h1m5 0h1M7 5.5h1m35 0h1m20 0h1M5 6.5h1m45 0h1m15 0h1M57 7.5h1M47 8.5h1m11 0h1m6 0h1M27 9.5h1m9 0h1m21 0h1m0 0h1m5 0h1m4 0h1M21 10.5h1m47 0h1M36 11.5h1m4 0h1m6 0h1m9 0h1M9 12.5h1m7 0h1m2 0h1m11 0h1m6 0h1m17 0h1m7 0h1m4 0h1M4 13.5h1m5 0h1m14 0h1m4 0h1m16 0h1M11 14.5h1m14 0h1m36 0h1m2 0h1M5 15.5h1m0 0h1m6 0h1m14 0h1m12 0h1m1 0h1m25 0h1m1 0h1M2 16.5h1m41 0h1m7 0h1m13 0h1M33 17.5h1m11 0h1m2 0h1m0 0h1m20 0h1m0 0h1M24 18.5h1m24 0h1m2 0h1m1 0h1m0 0h1m13 0h1M4 19.5h1m11 0h1m12 0h1m30 0h1m1 0h1M38 20.5h1m6 0h1m13 0h1M36 21.5h1m16 0h1M34 22.5h1m12 0h1M0 23.5h1m4 0h1m31 0h1m2 0h1M37 24.5h1m7 0h1m14 0h1m4 0h1M47 25.5h1m4 0h1m2 0h1m5 0h1M2 26.5h1m27 0h1m8 0h1m3 0h1m2 0h1m6 0h1m0 0h1m0 0h1m0 0h1m8 0h1M4 27.5h1m17 0h1m13 0h1m1 0h1m14 0h1m13 0h1M21 28.5h1m16 0h1M23 29.5h1m2 0h1m4 0h1m16 0h1m18 0h1m1 0h1M8 30.5h1m7 0h1m0 0h1m23 0h1m13 0h1m8 0h1M15 31.5h1m4 0h1m2 0h1m8 0h1m2 0h1m23 0h1M18 32.5h1m11 0h1m18 0h1m0 0h1m8 0h1m10 0h1M14 33.5h1m34 0h1m12 0h1m3 0h1m4 0h1M1 34.5h1m6 0h1m31 0h1m8 0h1m2 0h1m2 0h1m2 0h1m0 0h1M14 35.5h1m0 0h1m0 0h1m9 0h1m17 0h1m5 0h1m3 0h1m8 0h1M18 36.5h1m15 0h1m8 0h1m0 0h1m4 0h1m4 0h1m10 0h1m3 0h1M2 37.5h1m15 0h1m7 0h1m2 0h1m8 0h1m8 0h1m1 0h1m11 0h1m0 0h1M36 38.5h1m13 0h1m7 0h1m6 0h1M16 39.5h1m11 0h1m2 0h1m2 0h1m5 0h1m2 0h1m6 0h1m10 0h1m8 0h1M1 40.5h1m31 0h1m19 0h1m11 0h1M26 41.5h1m2 0h1m1 0h1m10 0h1m1 0h1m7 0h1m6 0h1M24 42.5h1m13 0h1m3 0h1m22 0h1M19 43.5h1m1 0h1m22 0h1m7 0h1m0 0h1m6 0h1M3 44.5h1m17 0h1m32 0h1m15 0h1M11 45.5h1m27 0h1m1 0h1m0 0h1m15 0h1M4 46.5h1m6 0h1m14 0h1m41 0h1M13 47.5h1m13 0h1m1 0h1m15 0h1M4 48.5h1m23 0h1m2 0h1m7 0h1m1 0h1m0 0h1m17 0h1M23 49.5h1m2 0h1m5 0h1m3 0h1m1 0h1m1 0h1m2 0h1m14 0h1m1 0h1m7 0h1m2 0h1M7 50.5h1m8 0h1m2 0h1m5 0h1m32 0h1m0 0h1m5 0h1m1 0h1M2 51.5h1m22 0h1m4 0h1m3 0h1m10 0h1M0 52.5h1m49 0h1m0 0h1m3 0h1m0 0h1m8 0h1m0 0h1M0 53.5h1m2 0h1m43 0h1m7 0h1M3 54.5h1m1 0h1m47 0h1m2 0h1m7 0h1m6 0h1M8 55.5h1m3 0h1m9 0h1m20 0h1m12 0h1m1 0h1M30 56.5h1m17 0h1m2 0h1m1 0h1m5 0h1m11 0h1M25 58.5h1m30 0h1m10 0h1M2 59.5h1m19 0h1m7 0h1m1 0h1m30 0h1M4 60.5h1m22 0h1m42 0h1M4 61.5h1m8 0h1m23 0h1m26 0h1M8 62.5h1m19 0h1M8 63.5h1M10 64.5h1"/>
<path stroke="#d7ef9b" d="M4 0.5h1M7 1.5h1m16 0h1m6 0h1m32 0h1m0 0h1M12 2.5h1m0 0h1m1 0h1m28 0h1M0 3.5h1m32 0h1m11 0h1M0 4.5h1m45 0h1m9 0h1M14 5.5h1m15 0h1m2 0h1m13 0h1m6 0h1m6 0h1M26 6.5h1m14 0h1m15 0h1m1 0h1m11 0h1M17 7.5h1m5 0h1m9 0h1m11 0h1m2 0h1M50 8.5h1M26 9.5h1m23 0h1m7 0h1m2 0h1M27 10.5h1m21 0h1m14 0h1m1 0h1m3 0h1M50 11.5h1m9 0h1M29 12.5h1m8 0h1m28 0h1M7 13.5h1M1 14.5h1m53 0h1m14 0h1M31 15.5h1m22 0h1m9 0h1M3 17.5h1m14 0h1m17 0h1m1 0h1m12 0h1m1 0h1m3 0h1m0 0h1m9 0h1m0 0h1M36 18.5h1m4 0h1m2 0h1m15 0h1m10 0h1M49 19.5h1M3 20.5h1m2 0h1m32 0h1m10 0h1m0 0h1m0 0h1m3 0h1m9 0h1m2 0h1M0 21.5h1m16 0h1m11 0h1m14 0h1m13 0h1m5 0h1m1 0h1M57 22.5h1m5 0h1M1 23.5h1m37 0h1m4 0h1m15 0h1m7 0h1M63 24.5h1m3 0h1M27 25.5h1m32 0h1M12 26.5h1m14 0h1m14 0h1m1 0h1M6 27.5h1m1 0h1m24 0h1m36 0h1M32 28.5h1m19 0h1m1 0h1m3 0h1m12 0h1M2 29.5h1m0 0h1m29 0h1m0 0h1m0 0h1m1 0h1m6 0h1m0 0h1m0 0h1m9 0h1m1 0h1m1 0h1M19 30.5h1m0 0h1m3 0h1m4 0h1m23 0h1m17 0h1M13 31.5h1m4 0h1m34 0h1M9 32.5h1m18 0h1m13 0h1m10 0h1m11 0h1M46 33.5h1m17 0h1M19 34.5h1m7 0h1m5 0h1m1 0h1m2 0h1m15 0h1m9 0h1m2 0h1M10 35.5h1m22 0h1m14 0h1m6 0h1m5 0h1M15 36.5h1m14 0h1m4 0h1m22 0h1M8 37.5h1m28 0h1m2 0h1m0 0h1m11 0h1m4 0h1M18 38.5h1m6 0h1m9 0h1m5 0h1m10 0h1m1 0h1m9 0h1m4 0h1M30 39.5h1m2 0h1m1 0h1m2 0h1m14 0h1m0 0h1m11 0h1M9 40.5h1m3 0h1m16 0h1m10 0h1m1 0h1m18 0h1M35 41.5h1m2 0h1m24 0h1m1 0h1M18 42.5h1m12 0h1m7 0h1m5 0h1m21 0h1m2 0h1M23 43.5h1m18 0h1m4 0h1m2 0h1m6 0h1M58 44.5h1m4 0h1m1 0h1m3 0h1M14 45.5h1m9 0h1m15 0h1m8 0h1M0 46.5h1m2 0h1m21 0h1m7 0h1m2 0h1m5 0h1m6 0h1m7 0h1m0 0h1m2 0h1M11 47.5h1m14 0h1m8 0h1m1 0h1m3 0h1m2 0h1m10 0h1m3 0h1m1 0h1M0 48.5h1m57 0h1M12 49.5h1m46 0h1M6 50.5h1m30 0h1m2 0h1m7 0h1m0 0h1m7 0h1M14 51.5h1m2 0h1m8 0h1m0 0h1m1 0h1m11 0h1m2 0h1m4 0h1m13 0h1M40 52.5h1m11 0h1m11 0h1m3 0h1M26 53.5h1m7 0h1m1 0h1m16 0h1M9 54.5h1m26 0h1m17 0h1m6 0h1m7 0h1M11 55.5h1m1 0h1m11 0h1m33 0h1M25 56.5h1m17 0h1m0 0h1m25 0h1M0 57.5h1m21 0h1m20 0h1m13 0h1m10 0h1M37 58.5h1m3 0h1m1 0h1m25 0h1M40 59.5h1m17 0h1M19 60.5h1m9 0h1m9 0h1M6 61.5h1M3 62.5h1M1 63.5h1m25 0h1M14 64.5h1m7 0h1"/>
<path stroke="#e6f598" d="M44 1.5h1m18 0h1M0 2.5h1m2 0h1m7 0h1m49 0h1m2 0h1m0 0h1m2 0h1M10 3.5h1m1 0h1m45 0h1m3 0h1m4 0h1M4 4.5h1m25 0h1m11 0h1m27 0h1M41 5.5h1m10 0h1m18 0h1M17 6.5h1m46 0h1m0 0h1M68 7.5h1M23 8.5h1m17 0h1m21 0h1M57 9.5h1m4 0h1M7 10.5h1m0 0h1m43 0h1m4 0h1m2 0h1m6 0h1m3 0h1M54 11.5h1m13 0h1M10 12.5h1m11 0h1m13 0h1m3 0h1m4 0h1m0 0h1m0 0h1m18 0h1M29 13.5h1m16 0h1m19 0h1M37 14.5h1m20 0h1m12 0h1M37 15.5h1m10 0h1m6 0h1m2 0h1M30 16.5h1m9 0h1m12 0h1m0 0h1m1 0h1M6 17.5h1m20 0h1m11 0h1m14 0h1M45 18.5h1m13 0h1m4 0h1M65 19.5h1m1 0h1M46 20.5h1m7 0h1m8 0h1m4 0h1M1 21.5h1m14 0h1m10 0h1m5 0h1m18 0h1m4 0h1M16 22.5h1m25 0h1m7 0h1m9 0h1m3 0h1M17 23.5h1M43 24.5h1m22 0h1M36 25.5h1m1 0h1M32 26.5h1m17 0h1m0 0h1m7 0h1m6 0h1m2 0h1m1 0h1M7 27.5h1m29 0h1m25 0h1m5 0h1M11 28.5h1m21 0h1m7 0h1m8 0h1m13 0h1M61 29.5h1M32 30.5h1m27 0h1m0 0h1m3 0h1M38 31.5h1m6 0h1m1 0h1m4 0h1m2 0h1m7 0h1M19 32.5h1m34 0h1m5 0h1m5 0h1m1 0h1M8 33.5h1m3 0h1m37 0h1m2 0h1m16 0h1M0 34.5h1m45 0h1m3 0h1m10 0h1m1 0h1m2 0h1M0 35.5h1m44 0h1m1 0h1m3 0h1m13 0h1m0 0h1M24 36.5h1m0 0h1m35 0h1M0 37.5h1m33 0h1m16 0h1m8 0h1m8 0h1M67 38.5h1m3 0h1M37 39.5h1m6 0h1m12 0h1m2 0h1M3 40.5h1m11 0h1m11 0h1m9 0h1m2 0h1m5 0h1m1 0h1m8 0h1m1 0h1m10 0h1M45 41.5h1m5 0h1m6 0h1M32 42.5h1m3 0h1m16 0h1m1 0h1m1 0h1m1 0h1m3 0h1m4 0h1M22 43.5h1M31 44.5h1m23 0h1m1 0h1M36 45.5h1m7 0h1m11 0h1M23 46.5h1m11 0h1m4 0h1m24 0h1m4 0h1M7 47.5h1m17 0h1m8 0h1m30 0h1M37 48.5h1m21 0h1m1 0h1m1 0h1m5 0h1M51 49.5h1m13 0h1M39 50.5h1m12 0h1m16 0h1M7 51.5h1m16 0h1m6 0h1m11 0h1m22 0h1M5 52.5h1m19 0h1m6 0h1m1 0h1m34 0h1M7 53.5h1m46 0h1m4 0h1m9 0h1m0 0h1M37 54.5h1m10 0h1m3 0h1m5 0h1M3 55.5h1m28 0h1m6 0h1m12 0h1m0 0h1m17 0h1M3 56.5h1m5 0h1m3 0h1m28 0h1m22 0h1m3 0h1M12 57.5h1m1 0h1m24 0h1m27 0h1M20 58.5h1m38 0h1m10 0h1M1 60.5h1m6 0h1m32 0h1m23 0h1M10 61.5h1m16 0h1m6 0h1M31 62.5h1M4 63.5h1M15 64.5h1"/>
<path stroke="#ecf8a2" d="M66 1.5h1M63 3.5h1M13 4.5h1m44 0h1m6 0h1m5 0h1M52 6.5h1m17 0h1M19 7.5h1m20 0h1m8 0h1m1 0h1m1 0h1m17 0h1M22 8.5h1m29 0h1m5 0h1m9 0h1M52 9.5h1M45 10.5h1m5 0h1M22 11.5h1m15 0h1M37 12.5h1m6 0h1M36 13.5h1m22 0h1m3 0h1m0 0h1M46 14.5h1m15 0h1M51 15.5h1m4 0h1M32 16.5h1m2 0h1m26 0h1m4 0h1M55 17.5h1m9 0h1M25 18.5h1m30 0h1m9 0h1m1 0h1M26 19.5h1m18 0h1m4 0h1m7 0h1m7 0h1M26 20.5h1M14 21.5h1m44 0h1M61 22.5h1m3 0h1M29 23.5h1m12 0h1m10 0h1M33 24.5h1m15 0h1m0 0h1m8 0h1M12 25.5h1m16 0h1m13 0h1m10 0h1m10 0h1m5 0h1M36 26.5h1m0 0h1m10 0h1m8 0h1M71 27.5h1M53 28.5h1m13 0h1M29 29.5h1m21 0h1m7 0h1m2 0h1m1 0h1M22 30.5h1m13 0h1m30 0h1M6 31.5h1m23 0h1m27 0h1M20 32.5h1m14 0h1m16 0h1m8 0h1M47 33.5h1m9 0h1m0 0h1m10 0h1M42 35.5h1m3 0h1m2 0h1M7 36.5h1m8 0h1M4 37.5h1m39 0h1m10 0h1M48 38.5h1m2 0h1M42 39.5h1m8 0h1M14 40.5h1M51 42.5h1M48 43.5h1m13 0h1m0 0h1M52 44.5h1m9 0h1m1 0h1M29 45.5h1m30 0h1m8 0h1m1 0h1M10 46.5h1m34 0h1M58 47.5h1m12 0h1M15 48.5h1m14 0h1m7 0h1m9 0h1m4 0h1M1 49.5h1m35 0h1m4 0h1M0 50.5h1m1 0h1m20 0h1m20 0h1m5 0h1m4 0h1M13 51.5h1m32 0h1m3 0h1m8 0h1M25 53.5h1M7 54.5h1m17 0h1m34 0h1m5 0h1M24 55.5h1m11 0h1m4 0h1m0 0h1M10 56.5h1m43 0h1m11 0h1M38 57.5h1m25 0h1m0 0h1m4 0h1M39 58.5h1m18 0h1m4 0h1m0 0h1m0 0h1M8 59.5h1m33 0h1M10 60.5h1m3 0h1m27 0h1m20 0h1"/>
<path stroke="#f2faac" d="M64 0.5h1M60 1.5h1M63 2.5h1M34 3.5h1m22 0h1m1 0h1M7 4.5h1m56 0h1M13 5.5h1m45 0h1m5 0h1m1 0h1M23 6.5h1m44 0h1M58 7.5h1M39 8.5h1m13 0h1m15 0h1m0 0h1M58 10.5h1M61 11.5h1m4 0h1M63 12.5h1m4 0h1M26 13.5h1m35 0h1m5 0h1M24 14.5h1m7 0h1M59 15.5h1m5 0h1M34 16.5h1m22 0h1M46 18.5h1m3 0h1m6 0h1M41 19.5h1m4 0h1m0 0h1m8 0h1m4 0h1m2 0h1m3 0h1M61 20.5h1m0 0h1m8 0h1M62 22.5h1m8 0h1M51 23.5h1m5 0h1m0 0h1M27 24.5h1m10 0h1m14 0h1m15 0h1M44 25.5h1m11 0h1m0 0h1m8 0h1m1 0h1M38 26.5h1m10 0h1m20 0h1M34 27.5h1m0 0h1m3 0h1m5 0h1m18 0h1M51 28.5h1M36 29.5h1m26 0h1m4 0h1M25 30.5h1m20 0h1m12 0h1m3 0h1M16 31.5h1m2 0h1m37 0h1m4 0h1m1 0h1m0 0h1M51 32.5h1m5 0h1m0 0h1M28 33.5h1m8 0h1m23 0h1M51 34.5h1m5 0h1m11 0h1M7 35.5h1m54 0h1m1 0h1m6 0h1M5 36.5h1m36 0h1m19 0h1m3 0h1M14 37.5h1m4 0h1m37 0h1M19 38.5h1m17 0h1M64 39.5h1M38 40.5h1m17 0h1m10 0h1m0 0h1M56 41.5h1M56 42.5h1m7 0h1m4 0h1M33 43.5h1m9 0h1m7 0h1M43 44.5h1m22 0h1M33 45.5h1m0 0h1m26 0h1m4 0h1M1 46.5h1m32 0h1m20 0h1M2 47.5h1m36 0h1m6 0h1m10 0h1M41 49.5h1m22 0h1M36 50.5h1m10 0h1M40 51.5h1m17 0h1m12 0h1M1 52.5h1m22 0h1m16 0h1m3 0h1m12 0h1m12 0h1M50 54.5h1m0 0h1M27 55.5h1m38 0h1m2 0h1M39 56.5h1m10 0h1m12 0h1M56 57.5h1M44 58.5h1M11 61.5h1m26 0h1m24 0h1M29 62.5h1m3 0h1"/>
<path stroke="#f9fcb5" d="M61 3.5h1m3 0h1m5 0h1M55 4.5h1M58 5.5h1M55 6.5h1m0 0h1m6 0h1M1 8.5h1M44 10.5h1m14 0h1m1 0h1M51 11.5h1M64 12.5h1m6 0h1M67 13.5h1M68 14.5h1m0 0h1M30 15.5h1m37 0h1M36 16.5h1m6 0h1M47 18.5h1M48 19.5h1m22 0h1M49 20.5h1m10 0h1M11 21.5h1m56 0h1M27 23.5h1m37 0h1M70 24.5h1M46 25.5h1m1 0h1m0 0h1m14 0h1M66 27.5h1M36 28.5h1m0 0h1m19 0h1m1 0h1m1 0h1M53 29.5h1M49 30.5h1m6 0h1m11 0h1M37 31.5h1m13 0h1M31 32.5h1M59 33.5h1M47 34.5h1M38 35.5h1m28 0h1M12 36.5h1M61 38.5h1M59 39.5h1m3 0h1m4 0h1M54 40.5h1m0 0h1M43 41.5h1m3 0h1m20 0h1M43 42.5h1M49 43.5h1M46 44.5h1m1 0h1m19 0h1m2 0h1M55 45.5h1m11 0h1M24 46.5h1m12 0h1m15 0h1m6 0h1m3 0h1M23 47.5h1m24 0h1m19 0h1M64 48.5h1M1 50.5h1m41 0h1m12 0h1m6 0h1M13 52.5h1m19 0h1M14 54.5h1m25 0h1m22 0h1M44 55.5h1m25 0h1M4 56.5h1m33 0h1m2 0h1M59 57.5h1M40 58.5h1M59 59.5h1m5 0h1M67 60.5h1M0 63.5h1m4 0h1M23 64.5h1"/>
<path stroke="#ffffbf" d="M62 1.5h1M67 2.5h1M35 3.5h1m33 0h1M18 4.5h1m50 0h1M69 6.5h1M65 8.5h1M38 10.5h1M52 12.5h1M18 13.5h1m42 0h1m7 0h1M63 16.5h1m4 0h1m1 0h1M59 17.5h1m4 0h1M61 18.5h1m0 0h1M59 22.5h1M9 24.5h1m54 0h1M59 25.5h1M51 27.5h1m0 0h1M66 28.5h1M47 29.5h1M54 30.5h1m11 0h1M6 32.5h1m56 0h1M51 33.5h1m11 0h1m1 0h1M57 35.5h1m12 0h1M50 37.5h1M33 38.5h1m0 0h1m27 0h1m3 0h1m3 0h1M65 39.5h1m1 0h1M63 40.5h1m2 0h1M47 42.5h1m4 0h1m7 0h1M30 43.5h1m15 0h1m17 0h1M42 44.5h1m4 0h1m3 0h1m9 0h1M47 45.5h1m5 0h1M54 46.5h1M51 47.5h1M43 48.5h1m6 0h1m11 0h1M49 49.5h1M62 50.5h1M55 51.5h1m9 0h1m4 0h1M56 53.5h1M6 55.5h1m33 0h1m24 0h1M40 56.5h1m17 0h1m3 0h1M69 57.5h1M38 58.5h1m29 0h1m2 0h1M12 62.5h1"/>
<path stroke="#fff7b2" d="M64 3.5h1m5 0h1M21 7.5h1m43 0h1m4 0h1M53 9.5h1M23 10.5h1M59 11.5h1m2 0h1M64 14.5h1m2 0h1M65 16.5h1M24 19.5h1M48 20.5h1M38 21.5h1m26 0h1m1 0h1M28 23.5h1m35 0h1M65 27.5h1M52 29.5h1M18 30.5h1m32 0h1M66 31.5h1M68 34.5h1M12 35.5h1m55 0h1M52 39.5h1M36 40.5h1m21 0h1M48 42.5h1M54 43.5h1m0 0h1m10 0h1M11 44.5h1m37 0h1M1 45.5h1m50 0h1m15 0h1M51 46.5h1m14 0h1M1 47.5h1m58 0h1M65 48.5h1M64 50.5h1M59 52.5h1M57 53.5h1M64 56.5h1m2 0h1m0 0h1M58 57.5h1m4 0h1M64 59.5h1"/>
<path stroke="#fef0a5" d="M59 4.5h1M69 5.5h1m0 0h1M21 8.5h1M67 11.5h1M64 16.5h1M63 17.5h1m3 0h1M67 18.5h1M59 19.5h1M66 22.5h1m0 0h1m0 0h1M59 23.5h1m2 0h1M68 26.5h1M54 27.5h1M56 31.5h1m11 0h1M47 32.5h1M44 34.5h1M44 38.5h1M50 41.5h1M61 43.5h1m6 0h1M50 44.5h1m9 0h1M38 45.5h1m24 0h1M56 46.5h1M52 47.5h1M38 50.5h1M57 52.5h1M64 53.5h1M65 54.5h1m4 0h1M63 55.5h1M39 61.5h1"/>
<path stroke="#fee898" d="M57 4.5h1M55 8.5h1M53 10.5h1M63 19.5h1M55 20.5h1M66 23.5h1M38 29.5h1M27 31.5h1m39 0h1M70 34.5h1M70 36.5h1M64 41.5h1M49 42.5h1m0 0h1m11 0h1M63 49.5h1M57 51.5h1m11 0h1M71 53.5h1M64 55.5h1m2 0h1"/>
<path stroke="#fee08b" d="M65 0.5h1M62 10.5h1M47 20.5h1M63 21.5h1M58 22.5h1M69 25.5h1m0 0h1M68 33.5h1M35 40.5h1m28 0h1M70 52.5h1"/>
<path stroke="#fed480" d="M0 47.5h1m52 0h1M58 53.5h1"/>
<path stroke="#fec776" d="M67 23.5h1M56 44.5h1"/>
<path stroke="#fdae61" d="M57 5.5h1"/>
<path stroke="#fb9e5a" d="M67 25.5h1M67 26.5h1"/>
<path stroke="#f88e52" d="M63 15.5h1"/>
</g>
<path d="M21.7 22h4.4v4.5h-4.4zM30.5 22h4.4v4.5h-4.4zM48.1 22h4.4v4.5h-4.4zM65.7 22h4.4v4.5h-4.4zM118.5 22h4.4v4.5h-4.4zM158.1 22h4.4v4.5h-4.4zM193.3 22h13.2v4.5h-13.2zM290.1 22h17.6v4.5h-17.6zM17.3 26.4h8.8v4.5h-8.8zM30.5 26.4h48.4v4.5h-48.4zM114.1 26.4h17.6v4.5h-17.6zM140.5 26.4h4.4v4.5h-4.4zM149.3 26.4h13.2v4.5h-13.2zM188.9 26.4h22v4.5h-22zM272.5 26.4h8.8v4.5h-8.8zM285.7 26.4h30.8v4.5h-30.8zM12.9 30.9h83.6v4.5h-83.6zM109.7 30.9h57.2v4.5h-57.2zM180.1 30.9h4.4v4.5h-4.4zM188.9 30.9h35.2v4.5h-35.2zM268.1 30.9h61.6v4.5h-61.6zM12.9 35.4h224.4v4.5h-224.4zM250.5 35.4h4.4v4.5h-4.4zM263.7 35.4h66v4.5h-66zM12.9 39.8h316.8v4.5h-316.8zM12.9 44.2h316.8v4.5h-316.8zM12.9 48.7h316.8v4.5h-316.8zM12.9 53.2h316.8v4.5h-316.8zM12.9 57.6h316.8v4.5h-316.8zM12.9 62.1h316.8v4.5h-316.8zM12.9 66.5h316.8v4.5h-316.8zM12.9 71h316.8v4.5h-316.8zM12.9 75.4h316.8v4.5h-316.8zM12.9 79.8h316.8v4.5h-316.8zM12.9 84.3h316.8v4.5h-316.8zM12.9 88.8h316.8v4.5h-316.8zM12.9 93.2h316.8v4.5h-316.8zM12.9 97.7h316.8v4.5h-316.8zM12.9 102.1h316.8v4.5h-316.8zM12.9 106.5h316.8v4.5h-316.8zM12.9 111h316.8v4.5h-316.8zM12.9 115.5h316.8v4.5h-316.8zM12.9 119.9h316.8v4.5h-316.8zM12.9 124.4h316.8v4.5h-316.8zM12.9 128.8h316.8v4.5h-316.8zM12.9 133.2h316.8v4.5h-316.8zM12.9 137.7h316.8v4.5h-316.8zM12.9 142.2h316.8v4.5h-316.8zM12.9 146.6h316.8v4.5h-316.8zM12.9 151.1h316.8v4.5h-316.8zM12.9 155.5h316.8v4.5h-316.8zM12.9 160h316.8v4.5h-316.8zM12.9 164.4h316.8v4.5h-316.8zM12.9 168.8h316.8v4.5h-316.8zM12.9 173.3h316.8v4.5h-316.8zM12.9 177.8h316.8v4.5h-316.8zM12.9 182.2h316.8v4.5h-316.8zM12.9 186.7h316.8v4.5h-316.8zM12.9 191.1h316.8v4.5h-316.8zM12.9 195.6h316.8v4.5h-316.8zM12.9 200h316.8v4.5h-316.8zM12.9 204.5h316.8v4.5h-316.8zM12.9 208.9h316.8v4.5h-316.8zM12.9 213.3h316.8v4.5h-316.8zM12.9 217.8h316.8v4.5h-316.8zM12.9 222.2h316.8v4.5h-316.8zM12.9 226.7h316.8v4.5h-316.8zM12.9 231.2h316.8v4.5h-316.8zM12.9 235.6h316.8v4.5h-316.8zM12.9 240.1h316.8v4.5h-316.8zM12.9 244.5h316.8v4.5h-316.8zM12.9 249h316.8v4.5h-316.8zM12.9 253.4h316.8v4.5h-316.8zM12.9 257.9h316.8v4.5h-316.8zM12.9 262.3h316.8v4.5h-316.8zM12.9 266.8h316.8v4.5h-316.8zM12.9 271.2h316.8v4.5h-316.8zM12.9 275.6h202.4v4.5h-202.4zM232.9 275.6h4.4v4.5h-4.4zM241.7 275.6h4.4v4.5h-4.4zM250.5 275.6h79.2v4.5h-79.2zM12.9 280.1h198v4.5h-198zM250.5 280.1h4.4v4.5h-4.4zM259.3 280.1h70.4v4.5h-70.4zM12.9 284.6h193.6v4.5h-193.6zM263.7 284.6h66v4.5h-66zM12.9 289h189.2v4.5h-189.2zM281.3 289h48.4v4.5h-48.4zM12.9 293.4h180.4v4.5h-180.4zM285.7 293.4h13.2v4.5h-13.2zM12.9 297.9h171.6v4.5h-171.6zM12.9 302.4h26.4v4.5h-26.4zM43.7 302.4h83.6v4.5h-83.6zM131.7 302.4h48.4v4.5h-48.4zM26.1 306.8h4.4v4.5h-4.4zM52.5 306.8h52.8v4.5h-52.8zM109.7 306.8h8.8v4.5h-8.8zM140.5 306.8h8.8v4.5h-8.8zM162.5 306.8h4.4v4.5h-4.4z" fill="url(#spots)"/>
<ellipse cx="20" cy="150" rx="11" ry="2.2" fill="#f4f4f6" transform="rotate(-12 20 150)"/>
<ellipse cx="84" cy="293" rx="8" ry="1.8" fill="#f4f4f6" transform="rotate(-10 84 293)"/>
</g>
</svg></body></html>
